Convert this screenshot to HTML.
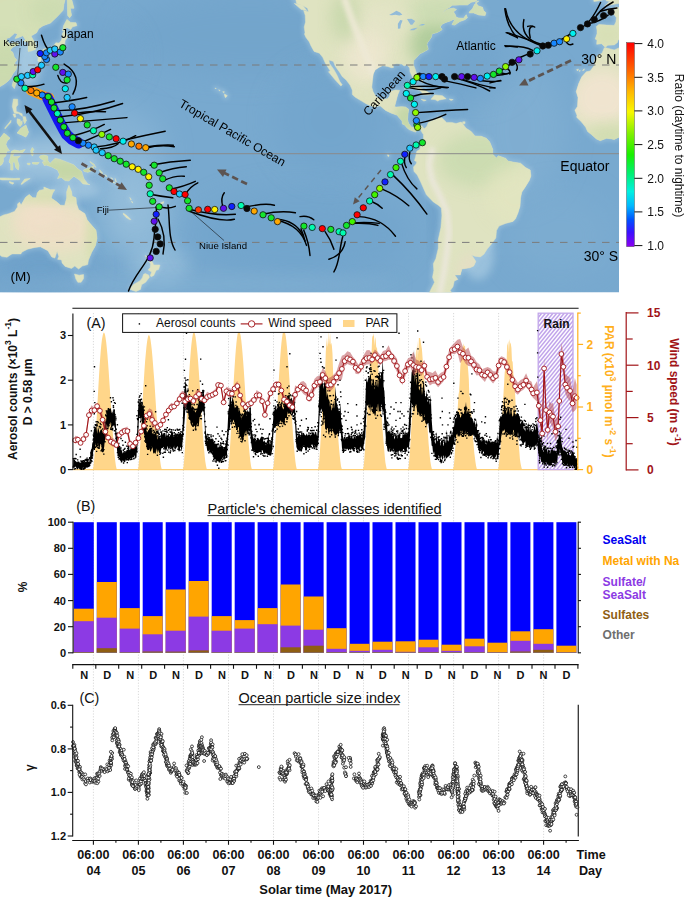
<!DOCTYPE html>
<html><head><meta charset="utf-8"><title>figure</title><style>html,body{margin:0;padding:0;background:#fff}body{width:685px;height:897px;overflow:hidden}</style></head><body>
<svg width="685" height="897" viewBox="0 0 685 897" style="display:block;font-family:'Liberation Sans',sans-serif">
<defs>
<clipPath id="mapclip"><rect x="0" y="0" width="619" height="292.5"/></clipPath>
<filter id="b2" x="-20%" y="-20%" width="140%" height="140%"><feGaussianBlur stdDeviation="2"/></filter>
<filter id="b4" x="-30%" y="-30%" width="160%" height="160%"><feGaussianBlur stdDeviation="4"/></filter>
<filter id="b8" x="-50%" y="-50%" width="200%" height="200%"><feGaussianBlur stdDeviation="8"/></filter>
<filter id="b14" x="-50%" y="-50%" width="200%" height="200%"><feGaussianBlur stdDeviation="14"/></filter>
<linearGradient id="cbar" x1="0" y1="1" x2="0" y2="0">
<stop offset="0" stop-color="#8a00f0"/>
<stop offset="0.07" stop-color="#3a10ff"/>
<stop offset="0.13" stop-color="#0050ff"/>
<stop offset="0.2" stop-color="#00b8ff"/>
<stop offset="0.27" stop-color="#00f0e0"/>
<stop offset="0.36" stop-color="#00f070"/>
<stop offset="0.45" stop-color="#18f000"/>
<stop offset="0.55" stop-color="#7cf000"/>
<stop offset="0.66" stop-color="#f8f800"/>
<stop offset="0.76" stop-color="#ffb800"/>
<stop offset="0.86" stop-color="#ff6800"/>
<stop offset="1" stop-color="#ff0000"/>
</linearGradient>
<pattern id="hatch" width="2.45" height="2.45" patternUnits="userSpaceOnUse" patternTransform="rotate(-47)"><rect width="2.45" height="2.45" fill="#faf8ff"/><rect width="2.45" height="1.15" fill="#cbb4ee"/></pattern>
<clipPath id="landclip">
<path d="M0.0,86.6 L4.4,83.9 L8.2,81.0 L11.0,77.4 L12.8,73.9 L16.1,69.4 L16.8,65.3 L14.5,63.2 L16.8,60.0 L14.3,57.3 L12.8,52.3 L10.0,50.2 L12.8,47.0 L18.3,44.6 L18.3,43.1 L14.5,42.5 L9.5,43.7 L7.0,40.7 L6.2,38.4 L9.5,37.8 L14.8,33.1 L17.6,33.9 L15.1,38.4 L17.1,38.1 L22.9,35.7 L25.4,39.6 L23.9,41.0 L28.7,42.5 L28.0,45.8 L28.2,51.4 L31.0,51.1 L35.3,49.6 L35.8,44.3 L33.0,39.6 L31.0,36.0 L36.6,32.8 L38.8,28.6 L43.1,25.7 L50.5,23.0 L57.6,16.2 L63.1,10.3 L63.9,4.4 L65.7,-3.0 L0.0,-3.0Z"/>
<path d="M67.7,15.6 L69.7,17.7 L71.5,15.3 L70.2,8.2 L74.0,8.2 L71.0,-3.0 L67.2,-3.0Z"/>
<path d="M62.6,31.0 L63.6,25.7 L66.9,19.5 L70.7,22.4 L76.0,22.7 L76.8,25.7 L72.5,26.8 L70.7,29.5 L67.2,27.7 L64.9,28.6 L65.4,30.4Z"/>
<path d="M64.9,31.0 L66.4,33.9 L67.7,36.9 L65.1,40.7 L64.6,44.9 L64.6,48.1 L62.4,50.2 L59.6,51.1 L55.0,51.4 L54.5,52.3 L52.0,54.6 L50.2,52.3 L46.2,52.0 L42.9,53.5 L39.6,53.2 L40.9,51.7 L43.9,49.0 L48.2,48.4 L52.2,48.1 L54.3,44.9 L55.8,42.8 L59.1,43.1 L61.1,40.7 L62.4,36.9 L62.4,33.6 L63.4,31.9Z"/>
<path d="M39.6,53.5 L41.6,54.3 L42.1,56.7 L40.6,60.9 L39.1,62.0 L37.8,60.9 L38.1,57.3 L36.6,55.5 L38.3,54.0Z"/>
<path d="M43.6,54.0 L47.9,52.3 L49.2,53.8 L47.9,55.2 L45.2,56.7 L43.6,56.1Z"/>
<path d="M14.5,79.5 L16.8,79.8 L15.8,84.2 L14.3,88.6 L12.3,85.7 L12.8,82.7Z"/>
<path d="M13.5,99.0 L17.6,99.3 L17.8,104.9 L16.1,107.0 L16.3,111.4 L22.1,113.8 L22.4,116.4 L18.6,113.5 L14.5,113.2 L13.5,110.8 L12.3,106.4 L13.0,102.0Z"/>
<path d="M17.1,133.0 L20.9,128.3 L25.9,125.0 L28.5,132.1 L27.2,135.1 L25.7,137.1 L22.6,135.4 L17.6,133.3Z"/>
<path d="M17.1,118.8 L20.1,119.4 L20.6,122.7 L22.1,120.6 L22.1,124.1 L20.1,126.5 L18.3,124.7 L17.1,122.4Z"/>
<path d="M22.9,116.7 L25.4,116.7 L26.4,120.6 L24.7,123.8 L23.7,121.2Z"/>
<path d="M4.9,128.9 L7.0,126.5 L10.8,122.4 L11.0,120.3 L8.2,124.1 L5.2,127.4Z"/>
<path d="M13.0,114.1 L15.3,114.1 L15.8,117.0 L14.3,117.3Z"/>
<path d="M0.0,138.3 L3.9,133.3 L6.2,134.8 L10.0,138.3 L7.2,141.0 L5.9,144.2 L7.0,147.2 L9.5,150.7 L6.7,151.3 L5.7,156.1 L3.2,158.1 L3.4,161.4 L1.9,164.6 L0.0,165.5Z"/>
<path d="M11.5,151.3 L14.3,149.9 L19.6,151.0 L25.2,149.3 L22.9,152.5 L14.5,152.5 L12.5,156.4 L15.8,156.7 L20.4,156.1 L17.1,159.0 L19.1,165.5 L18.3,170.0 L15.8,167.6 L14.5,161.7 L12.8,162.6 L13.0,170.0 L10.8,170.0 L10.8,164.0 L9.0,162.0 L10.8,156.1Z"/>
<path d="M30.7,150.7 L32.3,147.5 L33.8,149.6 L32.3,151.9 L33.8,153.1 L32.3,156.1 L31.2,153.7Z"/>
<path d="M32.3,162.6 L39.3,162.6 L37.3,164.3 L32.8,164.0Z"/>
<path d="M27.2,163.2 L30.2,163.2 L29.7,164.9 L27.7,164.6Z"/>
<path d="M0.0,177.9 L4.4,177.9 L9.5,178.2 L14.5,178.5 L19.6,178.2 L19.6,179.7 L9.5,180.0 L1.9,180.0 L0.0,179.4Z"/>
<path d="M20.9,184.2 L24.7,179.1 L30.2,178.5 L24.7,182.1 L22.1,184.2Z"/>
<path d="M9.5,181.5 L14.0,183.0 L12.5,184.2 L9.5,182.7Z"/>
<path d="M39.8,156.1 L43.6,154.9 L47.7,156.1 L47.9,160.8 L50.0,163.5 L55.0,158.4 L59.6,159.3 L65.1,161.4 L74.0,164.9 L77.3,168.5 L81.6,171.4 L82.4,174.4 L84.1,179.1 L87.9,183.9 L89.9,184.7 L82.9,183.9 L79.8,180.3 L74.0,176.2 L71.5,178.2 L68.9,180.9 L65.1,180.6 L61.4,177.4 L57.6,178.5 L59.6,174.4 L57.6,170.0 L51.2,166.7 L46.2,164.9 L44.4,165.5 L42.4,162.0 L46.2,161.1 L43.1,160.2 L39.8,157.8Z"/>
<path d="M83.6,170.0 L87.9,168.5 L93.5,166.1 L93.0,170.0 L87.9,172.3 L84.1,171.4Z"/>
<path d="M89.9,161.4 L94.2,164.3 L95.8,167.6 L94.5,166.1 L90.4,162.6Z"/>
<path d="M99.6,169.7 L102.8,173.2 L101.6,173.8 L99.8,171.1Z"/>
<path d="M104.6,174.4 L107.1,176.2 L106.1,176.5Z"/>
<path d="M110.7,177.4 L113.0,179.1 L112.0,179.1Z"/>
<path d="M112.2,181.2 L115.2,183.0 L113.7,183.0Z"/>
<path d="M115.2,178.5 L116.5,181.8 L115.7,181.8Z"/>
<path d="M116.5,183.9 L119.0,185.3 L117.8,185.6Z"/>
<path d="M129.9,197.5 L131.4,199.5 L130.7,200.1Z"/>
<path d="M131.4,201.0 L133.0,202.5 L132.2,202.8Z"/>
<path d="M123.3,213.1 L127.1,215.8 L130.9,219.6 L129.4,219.6 L125.9,217.3 L123.3,214.3Z"/>
<path d="M157.0,205.4 L160.3,205.2 L160.3,207.5 L157.2,207.5Z"/>
<path d="M160.5,202.8 L163.8,201.6 L163.3,203.4 L160.8,204.0Z"/>
<path d="M224.5,94.0 L227.3,95.7 L225.5,97.7 L224.5,95.7Z"/>
<path d="M222.8,91.6 L224.5,91.9 L223.5,92.8Z"/>
<path d="M218.7,89.8 L220.2,90.4 L219.5,90.9Z"/>
<path d="M214.9,88.1 L216.2,88.4 L215.7,88.9Z"/>
<path d="M0.0,216.7 L3.7,214.9 L8.5,213.7 L14.5,211.4 L17.6,206.9 L17.6,204.0 L19.4,202.2 L21.1,204.9 L23.4,201.0 L25.4,197.5 L29.2,194.5 L32.8,197.8 L36.3,197.8 L37.3,193.0 L39.3,190.4 L43.9,189.5 L43.9,187.1 L50.5,189.8 L54.8,189.8 L52.5,193.6 L51.2,198.1 L56.3,201.6 L60.6,205.2 L64.6,205.4 L66.7,198.1 L66.7,191.8 L68.9,185.3 L71.5,191.5 L72.2,196.3 L76.0,197.8 L76.5,203.4 L78.6,209.6 L84.9,213.7 L87.2,219.9 L89.9,223.2 L96.0,230.3 L97.0,238.3 L95.5,245.4 L91.7,252.2 L88.4,260.2 L87.7,264.6 L82.4,266.1 L78.6,269.0 L74.8,266.1 L71.5,268.4 L65.1,266.4 L62.1,263.1 L61.6,259.9 L57.6,259.3 L58.8,256.6 L57.1,251.3 L56.0,254.8 L54.8,258.1 L51.7,256.9 L47.9,250.7 L40.4,246.8 L34.8,247.4 L27.5,249.2 L22.1,251.9 L20.9,253.9 L12.0,253.9 L7.0,257.2 L1.9,256.6 L0.0,255.1Z"/>
<path d="M74.5,274.0 L79.1,275.2 L83.6,274.6 L83.6,278.5 L81.1,282.3 L77.8,282.3 L75.8,278.8Z"/>
<path d="M145.3,255.4 L149.4,259.3 L152.4,261.9 L153.7,264.9 L158.8,264.9 L160.0,265.2 L158.5,269.6 L156.2,270.2 L153.7,275.5 L151.2,276.7 L150.2,275.8 L151.7,272.0 L148.1,269.9 L150.2,267.5 L150.7,264.0 L148.6,260.7 L146.1,257.2Z"/>
<path d="M145.3,273.5 L148.6,274.9 L149.4,277.3 L145.6,282.3 L141.6,284.7 L140.5,289.4 L136.0,291.5 L132.2,290.3 L129.9,289.1 L133.5,284.4 L139.8,280.9 L142.3,277.9 L143.6,274.3Z"/>
<path d="M291.6,-3.0 L295.9,-0.1 L296.6,3.5 L303.0,5.8 L307.5,8.2 L308.5,11.8 L303.7,10.6 L305.2,15.3 L305.5,22.1 L304.2,27.1 L305.0,32.5 L304.5,34.2 L306.0,37.5 L309.3,41.9 L310.8,45.5 L314.1,51.4 L319.4,53.2 L322.7,57.3 L325.7,63.8 L330.3,70.9 L328.5,71.8 L335.1,79.8 L340.9,86.0 L342.2,84.8 L339.7,81.3 L337.1,75.3 L333.8,69.4 L329.5,63.5 L328.8,60.0 L333.3,61.4 L335.4,66.5 L339.7,72.4 L342.4,76.8 L346.0,79.8 L350.0,85.1 L352.3,90.1 L352.3,94.6 L355.3,97.2 L361.2,100.8 L366.5,104.0 L373.8,107.0 L380.1,105.8 L385.7,110.5 L391.5,113.2 L397.3,115.3 L398.3,116.7 L402.1,120.9 L402.4,124.1 L404.4,124.7 L407.5,128.3 L409.5,129.7 L413.0,131.2 L415.8,132.1 L416.8,129.2 L418.1,127.1 L420.6,128.9 L421.4,131.5 L423.4,134.5 L423.6,141.9 L420.6,146.3 L419.9,149.3 L416.8,151.3 L415.6,156.7 L414.5,160.5 L416.8,162.0 L416.1,164.0 L413.5,167.0 L414.0,171.4 L417.3,175.0 L420.6,181.8 L423.9,189.2 L426.4,194.8 L433.3,201.9 L438.6,205.4 L441.4,208.1 L441.9,215.8 L440.9,227.6 L438.3,239.5 L438.3,248.3 L435.8,258.7 L433.3,263.7 L433.8,270.5 L432.5,277.3 L434.5,282.3 L430.7,289.7 L428.2,295.6 L454.0,295.6 L450.2,290.6 L453.0,286.8 L454.3,280.9 L457.8,279.4 L454.8,274.9 L460.3,274.9 L461.9,269.0 L469.9,267.8 L473.7,266.1 L475.8,261.6 L474.2,258.7 L471.5,255.1 L475.0,256.3 L480.3,256.9 L483.9,254.2 L487.2,248.9 L491.5,243.9 L495.8,238.0 L496.5,230.6 L499.0,226.1 L505.4,223.5 L513.0,221.4 L515.5,218.8 L518.0,212.8 L520.0,206.3 L520.5,198.1 L521.8,192.1 L524.8,187.7 L529.4,180.3 L530.9,175.9 L530.2,170.0 L525.6,167.6 L520.5,163.2 L514.2,162.3 L507.9,161.1 L505.9,158.4 L498.3,155.8 L496.5,158.1 L492.7,154.3 L492.7,149.3 L489.7,141.9 L486.4,138.3 L481.3,136.3 L475.0,136.0 L471.2,131.5 L466.2,128.3 L462.9,124.1 L461.1,122.1 L456.0,123.5 L451.7,122.4 L446.7,122.4 L442.1,117.9 L437.8,117.0 L435.0,119.4 L430.7,121.2 L428.2,122.7 L426.9,126.2 L424.7,128.6 L423.4,128.0 L421.9,125.9 L418.1,125.3 L414.3,127.7 L411.3,127.1 L408.5,123.2 L407.5,119.4 L408.0,113.8 L408.7,109.3 L405.4,107.0 L401.6,106.7 L396.6,107.0 L394.6,106.7 L395.8,102.0 L396.6,99.0 L397.8,94.6 L399.6,90.4 L395.3,90.1 L390.5,91.6 L389.7,96.0 L387.7,98.7 L382.7,99.3 L378.9,98.4 L375.8,96.6 L373.0,91.6 L371.8,87.2 L372.5,79.8 L373.3,73.9 L375.1,70.0 L378.9,67.4 L382.7,65.6 L387.7,66.5 L391.5,67.7 L393.5,67.4 L392.8,64.4 L396.6,63.8 L401.6,64.1 L404.2,65.9 L406.7,64.7 L409.7,67.9 L410.0,71.8 L412.3,76.8 L414.3,79.2 L416.1,78.6 L416.8,74.5 L415.3,69.4 L413.5,65.0 L413.8,60.6 L416.8,57.3 L419.9,53.8 L423.1,52.3 L425.7,50.8 L428.2,49.3 L426.9,44.6 L427.4,42.8 L429.5,39.9 L431.5,36.9 L432.0,33.9 L437.1,32.5 L440.9,30.4 L442.1,29.5 L440.1,27.1 L442.1,24.2 L445.9,22.4 L449.7,21.2 L452.2,20.0 L455.3,18.9 L452.0,24.5 L454.8,25.1 L459.8,21.5 L464.9,19.7 L467.4,17.7 L466.2,14.7 L463.6,18.3 L458.6,18.0 L456.0,17.1 L455.3,14.7 L453.5,11.8 L456.5,9.4 L453.5,8.2 L449.7,8.8 L445.9,10.3 L442.1,13.8 L444.6,10.3 L449.7,7.3 L452.2,5.3 L459.8,5.0 L467.4,5.0 L471.2,2.3 L475.0,1.4 L477.5,-0.1 L478.0,-3.0Z"/>
<path d="M294.4,3.5 L301.2,9.4 L306.8,10.6 L302.5,5.3Z"/>
<path d="M469.2,12.9 L473.7,12.9 L478.8,15.0 L485.1,15.6 L485.9,12.7 L483.4,10.3 L482.6,7.3 L478.0,5.8 L475.5,2.0 L478.8,1.1 L474.5,4.4 L472.5,8.8 L469.2,12.1Z"/>
<path d="M404.4,88.9 L409.2,86.0 L415.6,85.4 L423.1,89.2 L428.2,92.2 L431.5,94.0 L428.2,94.9 L422.6,94.9 L421.9,92.5 L419.3,90.1 L412.3,88.1 L408.0,88.6Z"/>
<path d="M431.0,99.3 L434.5,94.9 L437.8,95.2 L442.4,95.7 L446.2,98.7 L443.4,99.3 L439.6,99.9 L437.8,101.1 L435.0,99.6Z"/>
<path d="M421.1,99.3 L426.2,100.2 L423.9,101.1Z"/>
<path d="M449.2,99.0 L453.2,99.6 L451.0,100.5Z"/>
<path d="M462.6,121.8 L465.1,121.8 L464.9,123.8 L462.6,123.8Z"/>
<path d="M421.1,79.5 L422.6,80.1 L422.6,83.0 L421.4,81.8Z"/>
<path d="M387.7,154.6 L389.2,155.5 L388.5,156.7 L387.7,156.1Z"/>
<path d="M596.4,26.5 L599.0,24.5 L606.6,25.1 L614.2,25.4 L615.9,22.1 L616.4,17.7 L613.7,14.1 L607.8,12.1 L607.3,10.3 L615.4,9.7 L615.4,7.0 L619.2,7.6 L619.2,39.0 L618.0,40.4 L617.4,42.5 L614.2,44.9 L607.8,45.2 L605.3,47.2 L603.3,45.5 L601.5,43.7 L596.7,44.3 L597.0,39.9 L595.2,39.0 L597.0,33.9 L597.0,30.1Z"/>
<path d="M593.4,-3.0 L593.9,1.4 L597.7,1.1 L603.0,-0.1 L603.5,-3.0Z"/>
<path d="M604.8,5.6 L610.4,5.0 L616.7,3.8 L619.2,3.5 L619.2,-3.0 L606.8,-3.0 L606.1,0.8 L611.6,1.7 L608.6,2.3 L606.1,5.0Z"/>
<path d="M619.2,47.8 L614.2,49.9 L605.8,47.8 L604.3,47.8 L602.0,53.2 L597.7,55.2 L594.4,60.6 L594.7,65.0 L590.1,70.9 L586.3,71.8 L581.8,76.8 L578.7,83.6 L576.2,91.6 L578.0,97.5 L577.5,106.4 L574.9,110.2 L577.0,115.3 L576.7,117.3 L581.3,121.8 L585.6,127.1 L587.6,131.5 L591.4,134.5 L596.4,138.9 L600.2,140.7 L606.6,138.3 L611.6,138.9 L614.2,139.5 L619.2,137.1Z"/>
<path d="M576.5,69.7 L578.5,69.1 L577.7,70.9Z"/>
<path d="M579.2,70.6 L580.3,70.6 L579.7,71.5Z"/>
<path d="M582.5,70.6 L584.3,68.8 L584.1,70.3Z"/>
</clipPath>
</defs>
<rect width="685" height="897" fill="#fff"/>
<g clip-path="url(#mapclip)">
<rect x="0" y="0" width="619" height="292.5" fill="#78a9cf"/>
<ellipse cx="250" cy="35" rx="130" ry="40" fill="#6fa2c9" opacity="0.55" filter="url(#b14)"/>
<ellipse cx="110" cy="150" rx="55" ry="45" fill="#8fb9d9" opacity="0.55" filter="url(#b14)"/>
<ellipse cx="45" cy="160" rx="55" ry="22" fill="#a6c9e1" opacity="0.75" filter="url(#b8)"/>
<ellipse cx="135" cy="210" rx="35" ry="45" fill="#9ec4de" opacity="0.7" filter="url(#b14)"/>
<ellipse cx="160" cy="265" rx="30" ry="22" fill="#9ec4de" opacity="0.6" filter="url(#b8)"/>
<ellipse cx="300" cy="235" rx="110" ry="45" fill="#6fa3cb" opacity="0.6" filter="url(#b14)"/>
<ellipse cx="330" cy="120" rx="55" ry="55" fill="#70a3cb" opacity="0.5" filter="url(#b14)"/>
<ellipse cx="520" cy="130" rx="45" ry="70" fill="#85b2d4" opacity="0.55" filter="url(#b14)"/>
<ellipse cx="560" cy="235" rx="55" ry="45" fill="#80afd2" opacity="0.5" filter="url(#b14)"/>
<ellipse cx="475" cy="70" rx="40" ry="28" fill="#6fa2ca" opacity="0.55" filter="url(#b14)"/>
<ellipse cx="95" cy="55" rx="40" ry="35" fill="#6fa2ca" opacity="0.5" filter="url(#b14)"/>
<ellipse cx="40" cy="268" rx="50" ry="26" fill="#6a9ec8" opacity="0.7" filter="url(#b14)"/>
<ellipse cx="200" cy="284" rx="200" ry="10" fill="#86b3d4" opacity="0.5" filter="url(#b8)"/>
<ellipse cx="28" cy="62" rx="13" ry="24" fill="#aacde3" opacity="0.85" filter="url(#b4)"/>
<ellipse cx="75" cy="190" rx="25" ry="9" fill="#a8cbe2" opacity="0.7" filter="url(#b4)"/>
<ellipse cx="395" cy="95" rx="16" ry="10" fill="#70a3cb" opacity="0.55" filter="url(#b8)"/>
<ellipse cx="425" cy="108" rx="25" ry="9" fill="#70a3cb" opacity="0.5" filter="url(#b8)"/>
<ellipse cx="478" cy="255" rx="16" ry="25" fill="#a3c7e0" opacity="0.8" filter="url(#b4)"/>
<ellipse cx="433" cy="215" rx="4" ry="45" fill="#6a9dc6" opacity="0.6" filter="url(#b4)"/>
<g filter="url(#b2)" opacity="0.55">
<path d="M0.0,86.6 L4.4,83.9 L8.2,81.0 L11.0,77.4 L12.8,73.9 L16.1,69.4 L16.8,65.3 L14.5,63.2 L16.8,60.0 L14.3,57.3 L12.8,52.3 L10.0,50.2 L12.8,47.0 L18.3,44.6 L18.3,43.1 L14.5,42.5 L9.5,43.7 L7.0,40.7 L6.2,38.4 L9.5,37.8 L14.8,33.1 L17.6,33.9 L15.1,38.4 L17.1,38.1 L22.9,35.7 L25.4,39.6 L23.9,41.0 L28.7,42.5 L28.0,45.8 L28.2,51.4 L31.0,51.1 L35.3,49.6 L35.8,44.3 L33.0,39.6 L31.0,36.0 L36.6,32.8 L38.8,28.6 L43.1,25.7 L50.5,23.0 L57.6,16.2 L63.1,10.3 L63.9,4.4 L65.7,-3.0 L0.0,-3.0Z" fill="none" stroke="#a9cbe2" stroke-width="4" stroke-linejoin="round"/>
<path d="M67.7,15.6 L69.7,17.7 L71.5,15.3 L70.2,8.2 L74.0,8.2 L71.0,-3.0 L67.2,-3.0Z" fill="none" stroke="#a9cbe2" stroke-width="4" stroke-linejoin="round"/>
<path d="M62.6,31.0 L63.6,25.7 L66.9,19.5 L70.7,22.4 L76.0,22.7 L76.8,25.7 L72.5,26.8 L70.7,29.5 L67.2,27.7 L64.9,28.6 L65.4,30.4Z" fill="none" stroke="#a9cbe2" stroke-width="4" stroke-linejoin="round"/>
<path d="M64.9,31.0 L66.4,33.9 L67.7,36.9 L65.1,40.7 L64.6,44.9 L64.6,48.1 L62.4,50.2 L59.6,51.1 L55.0,51.4 L54.5,52.3 L52.0,54.6 L50.2,52.3 L46.2,52.0 L42.9,53.5 L39.6,53.2 L40.9,51.7 L43.9,49.0 L48.2,48.4 L52.2,48.1 L54.3,44.9 L55.8,42.8 L59.1,43.1 L61.1,40.7 L62.4,36.9 L62.4,33.6 L63.4,31.9Z" fill="none" stroke="#a9cbe2" stroke-width="4" stroke-linejoin="round"/>
<path d="M39.6,53.5 L41.6,54.3 L42.1,56.7 L40.6,60.9 L39.1,62.0 L37.8,60.9 L38.1,57.3 L36.6,55.5 L38.3,54.0Z" fill="none" stroke="#a9cbe2" stroke-width="4" stroke-linejoin="round"/>
<path d="M43.6,54.0 L47.9,52.3 L49.2,53.8 L47.9,55.2 L45.2,56.7 L43.6,56.1Z" fill="none" stroke="#a9cbe2" stroke-width="4" stroke-linejoin="round"/>
<path d="M14.5,79.5 L16.8,79.8 L15.8,84.2 L14.3,88.6 L12.3,85.7 L12.8,82.7Z" fill="none" stroke="#a9cbe2" stroke-width="4" stroke-linejoin="round"/>
<path d="M13.5,99.0 L17.6,99.3 L17.8,104.9 L16.1,107.0 L16.3,111.4 L22.1,113.8 L22.4,116.4 L18.6,113.5 L14.5,113.2 L13.5,110.8 L12.3,106.4 L13.0,102.0Z" fill="none" stroke="#a9cbe2" stroke-width="4" stroke-linejoin="round"/>
<path d="M17.1,133.0 L20.9,128.3 L25.9,125.0 L28.5,132.1 L27.2,135.1 L25.7,137.1 L22.6,135.4 L17.6,133.3Z" fill="none" stroke="#a9cbe2" stroke-width="4" stroke-linejoin="round"/>
<path d="M17.1,118.8 L20.1,119.4 L20.6,122.7 L22.1,120.6 L22.1,124.1 L20.1,126.5 L18.3,124.7 L17.1,122.4Z" fill="none" stroke="#a9cbe2" stroke-width="4" stroke-linejoin="round"/>
<path d="M22.9,116.7 L25.4,116.7 L26.4,120.6 L24.7,123.8 L23.7,121.2Z" fill="none" stroke="#a9cbe2" stroke-width="4" stroke-linejoin="round"/>
<path d="M4.9,128.9 L7.0,126.5 L10.8,122.4 L11.0,120.3 L8.2,124.1 L5.2,127.4Z" fill="none" stroke="#a9cbe2" stroke-width="4" stroke-linejoin="round"/>
<path d="M13.0,114.1 L15.3,114.1 L15.8,117.0 L14.3,117.3Z" fill="none" stroke="#a9cbe2" stroke-width="4" stroke-linejoin="round"/>
<path d="M0.0,138.3 L3.9,133.3 L6.2,134.8 L10.0,138.3 L7.2,141.0 L5.9,144.2 L7.0,147.2 L9.5,150.7 L6.7,151.3 L5.7,156.1 L3.2,158.1 L3.4,161.4 L1.9,164.6 L0.0,165.5Z" fill="none" stroke="#a9cbe2" stroke-width="4" stroke-linejoin="round"/>
<path d="M11.5,151.3 L14.3,149.9 L19.6,151.0 L25.2,149.3 L22.9,152.5 L14.5,152.5 L12.5,156.4 L15.8,156.7 L20.4,156.1 L17.1,159.0 L19.1,165.5 L18.3,170.0 L15.8,167.6 L14.5,161.7 L12.8,162.6 L13.0,170.0 L10.8,170.0 L10.8,164.0 L9.0,162.0 L10.8,156.1Z" fill="none" stroke="#a9cbe2" stroke-width="4" stroke-linejoin="round"/>
<path d="M30.7,150.7 L32.3,147.5 L33.8,149.6 L32.3,151.9 L33.8,153.1 L32.3,156.1 L31.2,153.7Z" fill="none" stroke="#a9cbe2" stroke-width="4" stroke-linejoin="round"/>
<path d="M32.3,162.6 L39.3,162.6 L37.3,164.3 L32.8,164.0Z" fill="none" stroke="#a9cbe2" stroke-width="4" stroke-linejoin="round"/>
<path d="M27.2,163.2 L30.2,163.2 L29.7,164.9 L27.7,164.6Z" fill="none" stroke="#a9cbe2" stroke-width="4" stroke-linejoin="round"/>
<path d="M0.0,177.9 L4.4,177.9 L9.5,178.2 L14.5,178.5 L19.6,178.2 L19.6,179.7 L9.5,180.0 L1.9,180.0 L0.0,179.4Z" fill="none" stroke="#a9cbe2" stroke-width="4" stroke-linejoin="round"/>
<path d="M20.9,184.2 L24.7,179.1 L30.2,178.5 L24.7,182.1 L22.1,184.2Z" fill="none" stroke="#a9cbe2" stroke-width="4" stroke-linejoin="round"/>
<path d="M9.5,181.5 L14.0,183.0 L12.5,184.2 L9.5,182.7Z" fill="none" stroke="#a9cbe2" stroke-width="4" stroke-linejoin="round"/>
<path d="M39.8,156.1 L43.6,154.9 L47.7,156.1 L47.9,160.8 L50.0,163.5 L55.0,158.4 L59.6,159.3 L65.1,161.4 L74.0,164.9 L77.3,168.5 L81.6,171.4 L82.4,174.4 L84.1,179.1 L87.9,183.9 L89.9,184.7 L82.9,183.9 L79.8,180.3 L74.0,176.2 L71.5,178.2 L68.9,180.9 L65.1,180.6 L61.4,177.4 L57.6,178.5 L59.6,174.4 L57.6,170.0 L51.2,166.7 L46.2,164.9 L44.4,165.5 L42.4,162.0 L46.2,161.1 L43.1,160.2 L39.8,157.8Z" fill="none" stroke="#a9cbe2" stroke-width="4" stroke-linejoin="round"/>
<path d="M83.6,170.0 L87.9,168.5 L93.5,166.1 L93.0,170.0 L87.9,172.3 L84.1,171.4Z" fill="none" stroke="#a9cbe2" stroke-width="4" stroke-linejoin="round"/>
<path d="M89.9,161.4 L94.2,164.3 L95.8,167.6 L94.5,166.1 L90.4,162.6Z" fill="none" stroke="#a9cbe2" stroke-width="4" stroke-linejoin="round"/>
<path d="M99.6,169.7 L102.8,173.2 L101.6,173.8 L99.8,171.1Z" fill="none" stroke="#a9cbe2" stroke-width="4" stroke-linejoin="round"/>
<path d="M104.6,174.4 L107.1,176.2 L106.1,176.5Z" fill="none" stroke="#a9cbe2" stroke-width="4" stroke-linejoin="round"/>
<path d="M110.7,177.4 L113.0,179.1 L112.0,179.1Z" fill="none" stroke="#a9cbe2" stroke-width="4" stroke-linejoin="round"/>
<path d="M112.2,181.2 L115.2,183.0 L113.7,183.0Z" fill="none" stroke="#a9cbe2" stroke-width="4" stroke-linejoin="round"/>
<path d="M115.2,178.5 L116.5,181.8 L115.7,181.8Z" fill="none" stroke="#a9cbe2" stroke-width="4" stroke-linejoin="round"/>
<path d="M116.5,183.9 L119.0,185.3 L117.8,185.6Z" fill="none" stroke="#a9cbe2" stroke-width="4" stroke-linejoin="round"/>
<path d="M129.9,197.5 L131.4,199.5 L130.7,200.1Z" fill="none" stroke="#a9cbe2" stroke-width="4" stroke-linejoin="round"/>
<path d="M131.4,201.0 L133.0,202.5 L132.2,202.8Z" fill="none" stroke="#a9cbe2" stroke-width="4" stroke-linejoin="round"/>
<path d="M123.3,213.1 L127.1,215.8 L130.9,219.6 L129.4,219.6 L125.9,217.3 L123.3,214.3Z" fill="none" stroke="#a9cbe2" stroke-width="4" stroke-linejoin="round"/>
<path d="M157.0,205.4 L160.3,205.2 L160.3,207.5 L157.2,207.5Z" fill="none" stroke="#a9cbe2" stroke-width="4" stroke-linejoin="round"/>
<path d="M160.5,202.8 L163.8,201.6 L163.3,203.4 L160.8,204.0Z" fill="none" stroke="#a9cbe2" stroke-width="4" stroke-linejoin="round"/>
<path d="M224.5,94.0 L227.3,95.7 L225.5,97.7 L224.5,95.7Z" fill="none" stroke="#a9cbe2" stroke-width="4" stroke-linejoin="round"/>
<path d="M222.8,91.6 L224.5,91.9 L223.5,92.8Z" fill="none" stroke="#a9cbe2" stroke-width="4" stroke-linejoin="round"/>
<path d="M218.7,89.8 L220.2,90.4 L219.5,90.9Z" fill="none" stroke="#a9cbe2" stroke-width="4" stroke-linejoin="round"/>
<path d="M214.9,88.1 L216.2,88.4 L215.7,88.9Z" fill="none" stroke="#a9cbe2" stroke-width="4" stroke-linejoin="round"/>
<path d="M0.0,216.7 L3.7,214.9 L8.5,213.7 L14.5,211.4 L17.6,206.9 L17.6,204.0 L19.4,202.2 L21.1,204.9 L23.4,201.0 L25.4,197.5 L29.2,194.5 L32.8,197.8 L36.3,197.8 L37.3,193.0 L39.3,190.4 L43.9,189.5 L43.9,187.1 L50.5,189.8 L54.8,189.8 L52.5,193.6 L51.2,198.1 L56.3,201.6 L60.6,205.2 L64.6,205.4 L66.7,198.1 L66.7,191.8 L68.9,185.3 L71.5,191.5 L72.2,196.3 L76.0,197.8 L76.5,203.4 L78.6,209.6 L84.9,213.7 L87.2,219.9 L89.9,223.2 L96.0,230.3 L97.0,238.3 L95.5,245.4 L91.7,252.2 L88.4,260.2 L87.7,264.6 L82.4,266.1 L78.6,269.0 L74.8,266.1 L71.5,268.4 L65.1,266.4 L62.1,263.1 L61.6,259.9 L57.6,259.3 L58.8,256.6 L57.1,251.3 L56.0,254.8 L54.8,258.1 L51.7,256.9 L47.9,250.7 L40.4,246.8 L34.8,247.4 L27.5,249.2 L22.1,251.9 L20.9,253.9 L12.0,253.9 L7.0,257.2 L1.9,256.6 L0.0,255.1Z" fill="none" stroke="#a9cbe2" stroke-width="4" stroke-linejoin="round"/>
<path d="M74.5,274.0 L79.1,275.2 L83.6,274.6 L83.6,278.5 L81.1,282.3 L77.8,282.3 L75.8,278.8Z" fill="none" stroke="#a9cbe2" stroke-width="4" stroke-linejoin="round"/>
<path d="M145.3,255.4 L149.4,259.3 L152.4,261.9 L153.7,264.9 L158.8,264.9 L160.0,265.2 L158.5,269.6 L156.2,270.2 L153.7,275.5 L151.2,276.7 L150.2,275.8 L151.7,272.0 L148.1,269.9 L150.2,267.5 L150.7,264.0 L148.6,260.7 L146.1,257.2Z" fill="none" stroke="#a9cbe2" stroke-width="4" stroke-linejoin="round"/>
<path d="M145.3,273.5 L148.6,274.9 L149.4,277.3 L145.6,282.3 L141.6,284.7 L140.5,289.4 L136.0,291.5 L132.2,290.3 L129.9,289.1 L133.5,284.4 L139.8,280.9 L142.3,277.9 L143.6,274.3Z" fill="none" stroke="#a9cbe2" stroke-width="4" stroke-linejoin="round"/>
<path d="M291.6,-3.0 L295.9,-0.1 L296.6,3.5 L303.0,5.8 L307.5,8.2 L308.5,11.8 L303.7,10.6 L305.2,15.3 L305.5,22.1 L304.2,27.1 L305.0,32.5 L304.5,34.2 L306.0,37.5 L309.3,41.9 L310.8,45.5 L314.1,51.4 L319.4,53.2 L322.7,57.3 L325.7,63.8 L330.3,70.9 L328.5,71.8 L335.1,79.8 L340.9,86.0 L342.2,84.8 L339.7,81.3 L337.1,75.3 L333.8,69.4 L329.5,63.5 L328.8,60.0 L333.3,61.4 L335.4,66.5 L339.7,72.4 L342.4,76.8 L346.0,79.8 L350.0,85.1 L352.3,90.1 L352.3,94.6 L355.3,97.2 L361.2,100.8 L366.5,104.0 L373.8,107.0 L380.1,105.8 L385.7,110.5 L391.5,113.2 L397.3,115.3 L398.3,116.7 L402.1,120.9 L402.4,124.1 L404.4,124.7 L407.5,128.3 L409.5,129.7 L413.0,131.2 L415.8,132.1 L416.8,129.2 L418.1,127.1 L420.6,128.9 L421.4,131.5 L423.4,134.5 L423.6,141.9 L420.6,146.3 L419.9,149.3 L416.8,151.3 L415.6,156.7 L414.5,160.5 L416.8,162.0 L416.1,164.0 L413.5,167.0 L414.0,171.4 L417.3,175.0 L420.6,181.8 L423.9,189.2 L426.4,194.8 L433.3,201.9 L438.6,205.4 L441.4,208.1 L441.9,215.8 L440.9,227.6 L438.3,239.5 L438.3,248.3 L435.8,258.7 L433.3,263.7 L433.8,270.5 L432.5,277.3 L434.5,282.3 L430.7,289.7 L428.2,295.6 L454.0,295.6 L450.2,290.6 L453.0,286.8 L454.3,280.9 L457.8,279.4 L454.8,274.9 L460.3,274.9 L461.9,269.0 L469.9,267.8 L473.7,266.1 L475.8,261.6 L474.2,258.7 L471.5,255.1 L475.0,256.3 L480.3,256.9 L483.9,254.2 L487.2,248.9 L491.5,243.9 L495.8,238.0 L496.5,230.6 L499.0,226.1 L505.4,223.5 L513.0,221.4 L515.5,218.8 L518.0,212.8 L520.0,206.3 L520.5,198.1 L521.8,192.1 L524.8,187.7 L529.4,180.3 L530.9,175.9 L530.2,170.0 L525.6,167.6 L520.5,163.2 L514.2,162.3 L507.9,161.1 L505.9,158.4 L498.3,155.8 L496.5,158.1 L492.7,154.3 L492.7,149.3 L489.7,141.9 L486.4,138.3 L481.3,136.3 L475.0,136.0 L471.2,131.5 L466.2,128.3 L462.9,124.1 L461.1,122.1 L456.0,123.5 L451.7,122.4 L446.7,122.4 L442.1,117.9 L437.8,117.0 L435.0,119.4 L430.7,121.2 L428.2,122.7 L426.9,126.2 L424.7,128.6 L423.4,128.0 L421.9,125.9 L418.1,125.3 L414.3,127.7 L411.3,127.1 L408.5,123.2 L407.5,119.4 L408.0,113.8 L408.7,109.3 L405.4,107.0 L401.6,106.7 L396.6,107.0 L394.6,106.7 L395.8,102.0 L396.6,99.0 L397.8,94.6 L399.6,90.4 L395.3,90.1 L390.5,91.6 L389.7,96.0 L387.7,98.7 L382.7,99.3 L378.9,98.4 L375.8,96.6 L373.0,91.6 L371.8,87.2 L372.5,79.8 L373.3,73.9 L375.1,70.0 L378.9,67.4 L382.7,65.6 L387.7,66.5 L391.5,67.7 L393.5,67.4 L392.8,64.4 L396.6,63.8 L401.6,64.1 L404.2,65.9 L406.7,64.7 L409.7,67.9 L410.0,71.8 L412.3,76.8 L414.3,79.2 L416.1,78.6 L416.8,74.5 L415.3,69.4 L413.5,65.0 L413.8,60.6 L416.8,57.3 L419.9,53.8 L423.1,52.3 L425.7,50.8 L428.2,49.3 L426.9,44.6 L427.4,42.8 L429.5,39.9 L431.5,36.9 L432.0,33.9 L437.1,32.5 L440.9,30.4 L442.1,29.5 L440.1,27.1 L442.1,24.2 L445.9,22.4 L449.7,21.2 L452.2,20.0 L455.3,18.9 L452.0,24.5 L454.8,25.1 L459.8,21.5 L464.9,19.7 L467.4,17.7 L466.2,14.7 L463.6,18.3 L458.6,18.0 L456.0,17.1 L455.3,14.7 L453.5,11.8 L456.5,9.4 L453.5,8.2 L449.7,8.8 L445.9,10.3 L442.1,13.8 L444.6,10.3 L449.7,7.3 L452.2,5.3 L459.8,5.0 L467.4,5.0 L471.2,2.3 L475.0,1.4 L477.5,-0.1 L478.0,-3.0Z" fill="none" stroke="#a9cbe2" stroke-width="4" stroke-linejoin="round"/>
<path d="M294.4,3.5 L301.2,9.4 L306.8,10.6 L302.5,5.3Z" fill="none" stroke="#a9cbe2" stroke-width="4" stroke-linejoin="round"/>
<path d="M469.2,12.9 L473.7,12.9 L478.8,15.0 L485.1,15.6 L485.9,12.7 L483.4,10.3 L482.6,7.3 L478.0,5.8 L475.5,2.0 L478.8,1.1 L474.5,4.4 L472.5,8.8 L469.2,12.1Z" fill="none" stroke="#a9cbe2" stroke-width="4" stroke-linejoin="round"/>
<path d="M404.4,88.9 L409.2,86.0 L415.6,85.4 L423.1,89.2 L428.2,92.2 L431.5,94.0 L428.2,94.9 L422.6,94.9 L421.9,92.5 L419.3,90.1 L412.3,88.1 L408.0,88.6Z" fill="none" stroke="#a9cbe2" stroke-width="4" stroke-linejoin="round"/>
<path d="M431.0,99.3 L434.5,94.9 L437.8,95.2 L442.4,95.7 L446.2,98.7 L443.4,99.3 L439.6,99.9 L437.8,101.1 L435.0,99.6Z" fill="none" stroke="#a9cbe2" stroke-width="4" stroke-linejoin="round"/>
<path d="M421.1,99.3 L426.2,100.2 L423.9,101.1Z" fill="none" stroke="#a9cbe2" stroke-width="4" stroke-linejoin="round"/>
<path d="M449.2,99.0 L453.2,99.6 L451.0,100.5Z" fill="none" stroke="#a9cbe2" stroke-width="4" stroke-linejoin="round"/>
<path d="M462.6,121.8 L465.1,121.8 L464.9,123.8 L462.6,123.8Z" fill="none" stroke="#a9cbe2" stroke-width="4" stroke-linejoin="round"/>
<path d="M421.1,79.5 L422.6,80.1 L422.6,83.0 L421.4,81.8Z" fill="none" stroke="#a9cbe2" stroke-width="4" stroke-linejoin="round"/>
<path d="M387.7,154.6 L389.2,155.5 L388.5,156.7 L387.7,156.1Z" fill="none" stroke="#a9cbe2" stroke-width="4" stroke-linejoin="round"/>
<path d="M596.4,26.5 L599.0,24.5 L606.6,25.1 L614.2,25.4 L615.9,22.1 L616.4,17.7 L613.7,14.1 L607.8,12.1 L607.3,10.3 L615.4,9.7 L615.4,7.0 L619.2,7.6 L619.2,39.0 L618.0,40.4 L617.4,42.5 L614.2,44.9 L607.8,45.2 L605.3,47.2 L603.3,45.5 L601.5,43.7 L596.7,44.3 L597.0,39.9 L595.2,39.0 L597.0,33.9 L597.0,30.1Z" fill="none" stroke="#a9cbe2" stroke-width="4" stroke-linejoin="round"/>
<path d="M593.4,-3.0 L593.9,1.4 L597.7,1.1 L603.0,-0.1 L603.5,-3.0Z" fill="none" stroke="#a9cbe2" stroke-width="4" stroke-linejoin="round"/>
<path d="M604.8,5.6 L610.4,5.0 L616.7,3.8 L619.2,3.5 L619.2,-3.0 L606.8,-3.0 L606.1,0.8 L611.6,1.7 L608.6,2.3 L606.1,5.0Z" fill="none" stroke="#a9cbe2" stroke-width="4" stroke-linejoin="round"/>
<path d="M619.2,47.8 L614.2,49.9 L605.8,47.8 L604.3,47.8 L602.0,53.2 L597.7,55.2 L594.4,60.6 L594.7,65.0 L590.1,70.9 L586.3,71.8 L581.8,76.8 L578.7,83.6 L576.2,91.6 L578.0,97.5 L577.5,106.4 L574.9,110.2 L577.0,115.3 L576.7,117.3 L581.3,121.8 L585.6,127.1 L587.6,131.5 L591.4,134.5 L596.4,138.9 L600.2,140.7 L606.6,138.3 L611.6,138.9 L614.2,139.5 L619.2,137.1Z" fill="none" stroke="#a9cbe2" stroke-width="4" stroke-linejoin="round"/>
<path d="M576.5,69.7 L578.5,69.1 L577.7,70.9Z" fill="none" stroke="#a9cbe2" stroke-width="4" stroke-linejoin="round"/>
<path d="M579.2,70.6 L580.3,70.6 L579.7,71.5Z" fill="none" stroke="#a9cbe2" stroke-width="4" stroke-linejoin="round"/>
<path d="M582.5,70.6 L584.3,68.8 L584.1,70.3Z" fill="none" stroke="#a9cbe2" stroke-width="4" stroke-linejoin="round"/>
</g>
<g>
<path d="M0.0,86.6 L4.4,83.9 L8.2,81.0 L11.0,77.4 L12.8,73.9 L16.1,69.4 L16.8,65.3 L14.5,63.2 L16.8,60.0 L14.3,57.3 L12.8,52.3 L10.0,50.2 L12.8,47.0 L18.3,44.6 L18.3,43.1 L14.5,42.5 L9.5,43.7 L7.0,40.7 L6.2,38.4 L9.5,37.8 L14.8,33.1 L17.6,33.9 L15.1,38.4 L17.1,38.1 L22.9,35.7 L25.4,39.6 L23.9,41.0 L28.7,42.5 L28.0,45.8 L28.2,51.4 L31.0,51.1 L35.3,49.6 L35.8,44.3 L33.0,39.6 L31.0,36.0 L36.6,32.8 L38.8,28.6 L43.1,25.7 L50.5,23.0 L57.6,16.2 L63.1,10.3 L63.9,4.4 L65.7,-3.0 L0.0,-3.0Z" fill="#dfe3c1" stroke="#dfe3c1" stroke-width="0.5" stroke-linejoin="round"/>
<path d="M67.7,15.6 L69.7,17.7 L71.5,15.3 L70.2,8.2 L74.0,8.2 L71.0,-3.0 L67.2,-3.0Z" fill="#dfe3c1" stroke="#dfe3c1" stroke-width="0.5" stroke-linejoin="round"/>
<path d="M62.6,31.0 L63.6,25.7 L66.9,19.5 L70.7,22.4 L76.0,22.7 L76.8,25.7 L72.5,26.8 L70.7,29.5 L67.2,27.7 L64.9,28.6 L65.4,30.4Z" fill="#dfe3c1" stroke="#dfe3c1" stroke-width="0.5" stroke-linejoin="round"/>
<path d="M64.9,31.0 L66.4,33.9 L67.7,36.9 L65.1,40.7 L64.6,44.9 L64.6,48.1 L62.4,50.2 L59.6,51.1 L55.0,51.4 L54.5,52.3 L52.0,54.6 L50.2,52.3 L46.2,52.0 L42.9,53.5 L39.6,53.2 L40.9,51.7 L43.9,49.0 L48.2,48.4 L52.2,48.1 L54.3,44.9 L55.8,42.8 L59.1,43.1 L61.1,40.7 L62.4,36.9 L62.4,33.6 L63.4,31.9Z" fill="#dfe3c1" stroke="#dfe3c1" stroke-width="0.5" stroke-linejoin="round"/>
<path d="M39.6,53.5 L41.6,54.3 L42.1,56.7 L40.6,60.9 L39.1,62.0 L37.8,60.9 L38.1,57.3 L36.6,55.5 L38.3,54.0Z" fill="#dfe3c1" stroke="#dfe3c1" stroke-width="0.5" stroke-linejoin="round"/>
<path d="M43.6,54.0 L47.9,52.3 L49.2,53.8 L47.9,55.2 L45.2,56.7 L43.6,56.1Z" fill="#dfe3c1" stroke="#dfe3c1" stroke-width="0.5" stroke-linejoin="round"/>
<path d="M14.5,79.5 L16.8,79.8 L15.8,84.2 L14.3,88.6 L12.3,85.7 L12.8,82.7Z" fill="#dfe3c1" stroke="#dfe3c1" stroke-width="0.5" stroke-linejoin="round"/>
<path d="M13.5,99.0 L17.6,99.3 L17.8,104.9 L16.1,107.0 L16.3,111.4 L22.1,113.8 L22.4,116.4 L18.6,113.5 L14.5,113.2 L13.5,110.8 L12.3,106.4 L13.0,102.0Z" fill="#dfe3c1" stroke="#dfe3c1" stroke-width="0.5" stroke-linejoin="round"/>
<path d="M17.1,133.0 L20.9,128.3 L25.9,125.0 L28.5,132.1 L27.2,135.1 L25.7,137.1 L22.6,135.4 L17.6,133.3Z" fill="#dfe3c1" stroke="#dfe3c1" stroke-width="0.5" stroke-linejoin="round"/>
<path d="M17.1,118.8 L20.1,119.4 L20.6,122.7 L22.1,120.6 L22.1,124.1 L20.1,126.5 L18.3,124.7 L17.1,122.4Z" fill="#dfe3c1" stroke="#dfe3c1" stroke-width="0.5" stroke-linejoin="round"/>
<path d="M22.9,116.7 L25.4,116.7 L26.4,120.6 L24.7,123.8 L23.7,121.2Z" fill="#dfe3c1" stroke="#dfe3c1" stroke-width="0.5" stroke-linejoin="round"/>
<path d="M4.9,128.9 L7.0,126.5 L10.8,122.4 L11.0,120.3 L8.2,124.1 L5.2,127.4Z" fill="#dfe3c1" stroke="#dfe3c1" stroke-width="0.5" stroke-linejoin="round"/>
<path d="M13.0,114.1 L15.3,114.1 L15.8,117.0 L14.3,117.3Z" fill="#dfe3c1" stroke="#dfe3c1" stroke-width="0.5" stroke-linejoin="round"/>
<path d="M0.0,138.3 L3.9,133.3 L6.2,134.8 L10.0,138.3 L7.2,141.0 L5.9,144.2 L7.0,147.2 L9.5,150.7 L6.7,151.3 L5.7,156.1 L3.2,158.1 L3.4,161.4 L1.9,164.6 L0.0,165.5Z" fill="#dfe3c1" stroke="#dfe3c1" stroke-width="0.5" stroke-linejoin="round"/>
<path d="M11.5,151.3 L14.3,149.9 L19.6,151.0 L25.2,149.3 L22.9,152.5 L14.5,152.5 L12.5,156.4 L15.8,156.7 L20.4,156.1 L17.1,159.0 L19.1,165.5 L18.3,170.0 L15.8,167.6 L14.5,161.7 L12.8,162.6 L13.0,170.0 L10.8,170.0 L10.8,164.0 L9.0,162.0 L10.8,156.1Z" fill="#dfe3c1" stroke="#dfe3c1" stroke-width="0.5" stroke-linejoin="round"/>
<path d="M30.7,150.7 L32.3,147.5 L33.8,149.6 L32.3,151.9 L33.8,153.1 L32.3,156.1 L31.2,153.7Z" fill="#dfe3c1" stroke="#dfe3c1" stroke-width="0.5" stroke-linejoin="round"/>
<path d="M32.3,162.6 L39.3,162.6 L37.3,164.3 L32.8,164.0Z" fill="#dfe3c1" stroke="#dfe3c1" stroke-width="0.5" stroke-linejoin="round"/>
<path d="M27.2,163.2 L30.2,163.2 L29.7,164.9 L27.7,164.6Z" fill="#dfe3c1" stroke="#dfe3c1" stroke-width="0.5" stroke-linejoin="round"/>
<path d="M0.0,177.9 L4.4,177.9 L9.5,178.2 L14.5,178.5 L19.6,178.2 L19.6,179.7 L9.5,180.0 L1.9,180.0 L0.0,179.4Z" fill="#dfe3c1" stroke="#dfe3c1" stroke-width="0.5" stroke-linejoin="round"/>
<path d="M20.9,184.2 L24.7,179.1 L30.2,178.5 L24.7,182.1 L22.1,184.2Z" fill="#dfe3c1" stroke="#dfe3c1" stroke-width="0.5" stroke-linejoin="round"/>
<path d="M9.5,181.5 L14.0,183.0 L12.5,184.2 L9.5,182.7Z" fill="#dfe3c1" stroke="#dfe3c1" stroke-width="0.5" stroke-linejoin="round"/>
<path d="M39.8,156.1 L43.6,154.9 L47.7,156.1 L47.9,160.8 L50.0,163.5 L55.0,158.4 L59.6,159.3 L65.1,161.4 L74.0,164.9 L77.3,168.5 L81.6,171.4 L82.4,174.4 L84.1,179.1 L87.9,183.9 L89.9,184.7 L82.9,183.9 L79.8,180.3 L74.0,176.2 L71.5,178.2 L68.9,180.9 L65.1,180.6 L61.4,177.4 L57.6,178.5 L59.6,174.4 L57.6,170.0 L51.2,166.7 L46.2,164.9 L44.4,165.5 L42.4,162.0 L46.2,161.1 L43.1,160.2 L39.8,157.8Z" fill="#dfe3c1" stroke="#dfe3c1" stroke-width="0.5" stroke-linejoin="round"/>
<path d="M83.6,170.0 L87.9,168.5 L93.5,166.1 L93.0,170.0 L87.9,172.3 L84.1,171.4Z" fill="#dfe3c1" stroke="#dfe3c1" stroke-width="0.5" stroke-linejoin="round"/>
<path d="M89.9,161.4 L94.2,164.3 L95.8,167.6 L94.5,166.1 L90.4,162.6Z" fill="#dfe3c1" stroke="#dfe3c1" stroke-width="0.5" stroke-linejoin="round"/>
<path d="M99.6,169.7 L102.8,173.2 L101.6,173.8 L99.8,171.1Z" fill="#dfe3c1" stroke="#dfe3c1" stroke-width="0.5" stroke-linejoin="round"/>
<path d="M104.6,174.4 L107.1,176.2 L106.1,176.5Z" fill="#dfe3c1" stroke="#dfe3c1" stroke-width="0.5" stroke-linejoin="round"/>
<path d="M110.7,177.4 L113.0,179.1 L112.0,179.1Z" fill="#dfe3c1" stroke="#dfe3c1" stroke-width="0.5" stroke-linejoin="round"/>
<path d="M112.2,181.2 L115.2,183.0 L113.7,183.0Z" fill="#dfe3c1" stroke="#dfe3c1" stroke-width="0.5" stroke-linejoin="round"/>
<path d="M115.2,178.5 L116.5,181.8 L115.7,181.8Z" fill="#dfe3c1" stroke="#dfe3c1" stroke-width="0.5" stroke-linejoin="round"/>
<path d="M116.5,183.9 L119.0,185.3 L117.8,185.6Z" fill="#dfe3c1" stroke="#dfe3c1" stroke-width="0.5" stroke-linejoin="round"/>
<path d="M129.9,197.5 L131.4,199.5 L130.7,200.1Z" fill="#dfe3c1" stroke="#dfe3c1" stroke-width="0.5" stroke-linejoin="round"/>
<path d="M131.4,201.0 L133.0,202.5 L132.2,202.8Z" fill="#dfe3c1" stroke="#dfe3c1" stroke-width="0.5" stroke-linejoin="round"/>
<path d="M123.3,213.1 L127.1,215.8 L130.9,219.6 L129.4,219.6 L125.9,217.3 L123.3,214.3Z" fill="#dfe3c1" stroke="#dfe3c1" stroke-width="0.5" stroke-linejoin="round"/>
<path d="M157.0,205.4 L160.3,205.2 L160.3,207.5 L157.2,207.5Z" fill="#dfe3c1" stroke="#dfe3c1" stroke-width="0.5" stroke-linejoin="round"/>
<path d="M160.5,202.8 L163.8,201.6 L163.3,203.4 L160.8,204.0Z" fill="#dfe3c1" stroke="#dfe3c1" stroke-width="0.5" stroke-linejoin="round"/>
<path d="M224.5,94.0 L227.3,95.7 L225.5,97.7 L224.5,95.7Z" fill="#dfe3c1" stroke="#dfe3c1" stroke-width="0.5" stroke-linejoin="round"/>
<path d="M222.8,91.6 L224.5,91.9 L223.5,92.8Z" fill="#dfe3c1" stroke="#dfe3c1" stroke-width="0.5" stroke-linejoin="round"/>
<path d="M218.7,89.8 L220.2,90.4 L219.5,90.9Z" fill="#dfe3c1" stroke="#dfe3c1" stroke-width="0.5" stroke-linejoin="round"/>
<path d="M214.9,88.1 L216.2,88.4 L215.7,88.9Z" fill="#dfe3c1" stroke="#dfe3c1" stroke-width="0.5" stroke-linejoin="round"/>
<path d="M0.0,216.7 L3.7,214.9 L8.5,213.7 L14.5,211.4 L17.6,206.9 L17.6,204.0 L19.4,202.2 L21.1,204.9 L23.4,201.0 L25.4,197.5 L29.2,194.5 L32.8,197.8 L36.3,197.8 L37.3,193.0 L39.3,190.4 L43.9,189.5 L43.9,187.1 L50.5,189.8 L54.8,189.8 L52.5,193.6 L51.2,198.1 L56.3,201.6 L60.6,205.2 L64.6,205.4 L66.7,198.1 L66.7,191.8 L68.9,185.3 L71.5,191.5 L72.2,196.3 L76.0,197.8 L76.5,203.4 L78.6,209.6 L84.9,213.7 L87.2,219.9 L89.9,223.2 L96.0,230.3 L97.0,238.3 L95.5,245.4 L91.7,252.2 L88.4,260.2 L87.7,264.6 L82.4,266.1 L78.6,269.0 L74.8,266.1 L71.5,268.4 L65.1,266.4 L62.1,263.1 L61.6,259.9 L57.6,259.3 L58.8,256.6 L57.1,251.3 L56.0,254.8 L54.8,258.1 L51.7,256.9 L47.9,250.7 L40.4,246.8 L34.8,247.4 L27.5,249.2 L22.1,251.9 L20.9,253.9 L12.0,253.9 L7.0,257.2 L1.9,256.6 L0.0,255.1Z" fill="#dfe3c1" stroke="#dfe3c1" stroke-width="0.5" stroke-linejoin="round"/>
<path d="M74.5,274.0 L79.1,275.2 L83.6,274.6 L83.6,278.5 L81.1,282.3 L77.8,282.3 L75.8,278.8Z" fill="#dfe3c1" stroke="#dfe3c1" stroke-width="0.5" stroke-linejoin="round"/>
<path d="M145.3,255.4 L149.4,259.3 L152.4,261.9 L153.7,264.9 L158.8,264.9 L160.0,265.2 L158.5,269.6 L156.2,270.2 L153.7,275.5 L151.2,276.7 L150.2,275.8 L151.7,272.0 L148.1,269.9 L150.2,267.5 L150.7,264.0 L148.6,260.7 L146.1,257.2Z" fill="#dfe3c1" stroke="#dfe3c1" stroke-width="0.5" stroke-linejoin="round"/>
<path d="M145.3,273.5 L148.6,274.9 L149.4,277.3 L145.6,282.3 L141.6,284.7 L140.5,289.4 L136.0,291.5 L132.2,290.3 L129.9,289.1 L133.5,284.4 L139.8,280.9 L142.3,277.9 L143.6,274.3Z" fill="#dfe3c1" stroke="#dfe3c1" stroke-width="0.5" stroke-linejoin="round"/>
<path d="M291.6,-3.0 L295.9,-0.1 L296.6,3.5 L303.0,5.8 L307.5,8.2 L308.5,11.8 L303.7,10.6 L305.2,15.3 L305.5,22.1 L304.2,27.1 L305.0,32.5 L304.5,34.2 L306.0,37.5 L309.3,41.9 L310.8,45.5 L314.1,51.4 L319.4,53.2 L322.7,57.3 L325.7,63.8 L330.3,70.9 L328.5,71.8 L335.1,79.8 L340.9,86.0 L342.2,84.8 L339.7,81.3 L337.1,75.3 L333.8,69.4 L329.5,63.5 L328.8,60.0 L333.3,61.4 L335.4,66.5 L339.7,72.4 L342.4,76.8 L346.0,79.8 L350.0,85.1 L352.3,90.1 L352.3,94.6 L355.3,97.2 L361.2,100.8 L366.5,104.0 L373.8,107.0 L380.1,105.8 L385.7,110.5 L391.5,113.2 L397.3,115.3 L398.3,116.7 L402.1,120.9 L402.4,124.1 L404.4,124.7 L407.5,128.3 L409.5,129.7 L413.0,131.2 L415.8,132.1 L416.8,129.2 L418.1,127.1 L420.6,128.9 L421.4,131.5 L423.4,134.5 L423.6,141.9 L420.6,146.3 L419.9,149.3 L416.8,151.3 L415.6,156.7 L414.5,160.5 L416.8,162.0 L416.1,164.0 L413.5,167.0 L414.0,171.4 L417.3,175.0 L420.6,181.8 L423.9,189.2 L426.4,194.8 L433.3,201.9 L438.6,205.4 L441.4,208.1 L441.9,215.8 L440.9,227.6 L438.3,239.5 L438.3,248.3 L435.8,258.7 L433.3,263.7 L433.8,270.5 L432.5,277.3 L434.5,282.3 L430.7,289.7 L428.2,295.6 L454.0,295.6 L450.2,290.6 L453.0,286.8 L454.3,280.9 L457.8,279.4 L454.8,274.9 L460.3,274.9 L461.9,269.0 L469.9,267.8 L473.7,266.1 L475.8,261.6 L474.2,258.7 L471.5,255.1 L475.0,256.3 L480.3,256.9 L483.9,254.2 L487.2,248.9 L491.5,243.9 L495.8,238.0 L496.5,230.6 L499.0,226.1 L505.4,223.5 L513.0,221.4 L515.5,218.8 L518.0,212.8 L520.0,206.3 L520.5,198.1 L521.8,192.1 L524.8,187.7 L529.4,180.3 L530.9,175.9 L530.2,170.0 L525.6,167.6 L520.5,163.2 L514.2,162.3 L507.9,161.1 L505.9,158.4 L498.3,155.8 L496.5,158.1 L492.7,154.3 L492.7,149.3 L489.7,141.9 L486.4,138.3 L481.3,136.3 L475.0,136.0 L471.2,131.5 L466.2,128.3 L462.9,124.1 L461.1,122.1 L456.0,123.5 L451.7,122.4 L446.7,122.4 L442.1,117.9 L437.8,117.0 L435.0,119.4 L430.7,121.2 L428.2,122.7 L426.9,126.2 L424.7,128.6 L423.4,128.0 L421.9,125.9 L418.1,125.3 L414.3,127.7 L411.3,127.1 L408.5,123.2 L407.5,119.4 L408.0,113.8 L408.7,109.3 L405.4,107.0 L401.6,106.7 L396.6,107.0 L394.6,106.7 L395.8,102.0 L396.6,99.0 L397.8,94.6 L399.6,90.4 L395.3,90.1 L390.5,91.6 L389.7,96.0 L387.7,98.7 L382.7,99.3 L378.9,98.4 L375.8,96.6 L373.0,91.6 L371.8,87.2 L372.5,79.8 L373.3,73.9 L375.1,70.0 L378.9,67.4 L382.7,65.6 L387.7,66.5 L391.5,67.7 L393.5,67.4 L392.8,64.4 L396.6,63.8 L401.6,64.1 L404.2,65.9 L406.7,64.7 L409.7,67.9 L410.0,71.8 L412.3,76.8 L414.3,79.2 L416.1,78.6 L416.8,74.5 L415.3,69.4 L413.5,65.0 L413.8,60.6 L416.8,57.3 L419.9,53.8 L423.1,52.3 L425.7,50.8 L428.2,49.3 L426.9,44.6 L427.4,42.8 L429.5,39.9 L431.5,36.9 L432.0,33.9 L437.1,32.5 L440.9,30.4 L442.1,29.5 L440.1,27.1 L442.1,24.2 L445.9,22.4 L449.7,21.2 L452.2,20.0 L455.3,18.9 L452.0,24.5 L454.8,25.1 L459.8,21.5 L464.9,19.7 L467.4,17.7 L466.2,14.7 L463.6,18.3 L458.6,18.0 L456.0,17.1 L455.3,14.7 L453.5,11.8 L456.5,9.4 L453.5,8.2 L449.7,8.8 L445.9,10.3 L442.1,13.8 L444.6,10.3 L449.7,7.3 L452.2,5.3 L459.8,5.0 L467.4,5.0 L471.2,2.3 L475.0,1.4 L477.5,-0.1 L478.0,-3.0Z" fill="#dfe3c1" stroke="#dfe3c1" stroke-width="0.5" stroke-linejoin="round"/>
<path d="M294.4,3.5 L301.2,9.4 L306.8,10.6 L302.5,5.3Z" fill="#dfe3c1" stroke="#dfe3c1" stroke-width="0.5" stroke-linejoin="round"/>
<path d="M469.2,12.9 L473.7,12.9 L478.8,15.0 L485.1,15.6 L485.9,12.7 L483.4,10.3 L482.6,7.3 L478.0,5.8 L475.5,2.0 L478.8,1.1 L474.5,4.4 L472.5,8.8 L469.2,12.1Z" fill="#dfe3c1" stroke="#dfe3c1" stroke-width="0.5" stroke-linejoin="round"/>
<path d="M404.4,88.9 L409.2,86.0 L415.6,85.4 L423.1,89.2 L428.2,92.2 L431.5,94.0 L428.2,94.9 L422.6,94.9 L421.9,92.5 L419.3,90.1 L412.3,88.1 L408.0,88.6Z" fill="#dfe3c1" stroke="#dfe3c1" stroke-width="0.5" stroke-linejoin="round"/>
<path d="M431.0,99.3 L434.5,94.9 L437.8,95.2 L442.4,95.7 L446.2,98.7 L443.4,99.3 L439.6,99.9 L437.8,101.1 L435.0,99.6Z" fill="#dfe3c1" stroke="#dfe3c1" stroke-width="0.5" stroke-linejoin="round"/>
<path d="M421.1,99.3 L426.2,100.2 L423.9,101.1Z" fill="#dfe3c1" stroke="#dfe3c1" stroke-width="0.5" stroke-linejoin="round"/>
<path d="M449.2,99.0 L453.2,99.6 L451.0,100.5Z" fill="#dfe3c1" stroke="#dfe3c1" stroke-width="0.5" stroke-linejoin="round"/>
<path d="M462.6,121.8 L465.1,121.8 L464.9,123.8 L462.6,123.8Z" fill="#dfe3c1" stroke="#dfe3c1" stroke-width="0.5" stroke-linejoin="round"/>
<path d="M421.1,79.5 L422.6,80.1 L422.6,83.0 L421.4,81.8Z" fill="#dfe3c1" stroke="#dfe3c1" stroke-width="0.5" stroke-linejoin="round"/>
<path d="M387.7,154.6 L389.2,155.5 L388.5,156.7 L387.7,156.1Z" fill="#dfe3c1" stroke="#dfe3c1" stroke-width="0.5" stroke-linejoin="round"/>
<path d="M596.4,26.5 L599.0,24.5 L606.6,25.1 L614.2,25.4 L615.9,22.1 L616.4,17.7 L613.7,14.1 L607.8,12.1 L607.3,10.3 L615.4,9.7 L615.4,7.0 L619.2,7.6 L619.2,39.0 L618.0,40.4 L617.4,42.5 L614.2,44.9 L607.8,45.2 L605.3,47.2 L603.3,45.5 L601.5,43.7 L596.7,44.3 L597.0,39.9 L595.2,39.0 L597.0,33.9 L597.0,30.1Z" fill="#dfe3c1" stroke="#dfe3c1" stroke-width="0.5" stroke-linejoin="round"/>
<path d="M593.4,-3.0 L593.9,1.4 L597.7,1.1 L603.0,-0.1 L603.5,-3.0Z" fill="#dfe3c1" stroke="#dfe3c1" stroke-width="0.5" stroke-linejoin="round"/>
<path d="M604.8,5.6 L610.4,5.0 L616.7,3.8 L619.2,3.5 L619.2,-3.0 L606.8,-3.0 L606.1,0.8 L611.6,1.7 L608.6,2.3 L606.1,5.0Z" fill="#dfe3c1" stroke="#dfe3c1" stroke-width="0.5" stroke-linejoin="round"/>
<path d="M619.2,47.8 L614.2,49.9 L605.8,47.8 L604.3,47.8 L602.0,53.2 L597.7,55.2 L594.4,60.6 L594.7,65.0 L590.1,70.9 L586.3,71.8 L581.8,76.8 L578.7,83.6 L576.2,91.6 L578.0,97.5 L577.5,106.4 L574.9,110.2 L577.0,115.3 L576.7,117.3 L581.3,121.8 L585.6,127.1 L587.6,131.5 L591.4,134.5 L596.4,138.9 L600.2,140.7 L606.6,138.3 L611.6,138.9 L614.2,139.5 L619.2,137.1Z" fill="#dfe3c1" stroke="#dfe3c1" stroke-width="0.5" stroke-linejoin="round"/>
<path d="M576.5,69.7 L578.5,69.1 L577.7,70.9Z" fill="#dfe3c1" stroke="#dfe3c1" stroke-width="0.5" stroke-linejoin="round"/>
<path d="M579.2,70.6 L580.3,70.6 L579.7,71.5Z" fill="#dfe3c1" stroke="#dfe3c1" stroke-width="0.5" stroke-linejoin="round"/>
<path d="M582.5,70.6 L584.3,68.8 L584.1,70.3Z" fill="#dfe3c1" stroke="#dfe3c1" stroke-width="0.5" stroke-linejoin="round"/>
</g>
<g clip-path="url(#landclip)">
<ellipse cx="10" cy="20" rx="40" ry="40" fill="#d3dfb4" opacity="0.8" filter="url(#b8)"/>
<ellipse cx="5" cy="70" rx="25" ry="30" fill="#c6d8aa" opacity="0.8" filter="url(#b8)"/>
<ellipse cx="55" cy="10" rx="25" ry="20" fill="#c9daae" opacity="0.8" filter="url(#b8)"/>
<ellipse cx="20" cy="150" rx="40" ry="30" fill="#cddcae" opacity="0.9" filter="url(#b4)"/>
<ellipse cx="70" cy="170" rx="30" ry="12" fill="#c3d5a4" opacity="0.9" filter="url(#b4)"/>
<ellipse cx="55" cy="228" rx="42" ry="24" fill="#eedfc6" opacity="0.95" filter="url(#b8)"/>
<ellipse cx="38" cy="215" rx="25" ry="15" fill="#f1dfc9" opacity="0.8" filter="url(#b8)"/>
<ellipse cx="96" cy="235" rx="10" ry="30" fill="#d5deae" opacity="0.8" filter="url(#b4)"/>
<ellipse cx="50" cy="195" rx="40" ry="8" fill="#d5deae" opacity="0.7" filter="url(#b4)"/>
<ellipse cx="440" cy="44" rx="30" ry="28" fill="#b0cc9b" opacity="1" filter="url(#b8)"/>
<ellipse cx="450" cy="10" rx="45" ry="16" fill="#cbdcb2" opacity="0.9" filter="url(#b8)"/>
<ellipse cx="366" cy="48" rx="24" ry="36" fill="#ece6cf" opacity="0.95" filter="url(#b8)"/>
<ellipse cx="385" cy="20" rx="25" ry="18" fill="#e3e4c6" opacity="0.8" filter="url(#b8)"/>
<ellipse cx="345" cy="18" rx="14" ry="25" fill="#c3d6a8" opacity="0.8" filter="url(#b8)"/>
<ellipse cx="392" cy="100" rx="22" ry="16" fill="#dfe1bf" opacity="0.8" filter="url(#b8)"/>
<ellipse cx="408" cy="118" rx="14" ry="14" fill="#c3d6a6" opacity="0.9" filter="url(#b4)"/>
<ellipse cx="480" cy="160" rx="42" ry="28" fill="#cadbb0" opacity="0.9" filter="url(#b8)"/>
<ellipse cx="515" cy="195" rx="30" ry="30" fill="#e2e5c0" opacity="0.8" filter="url(#b8)"/>
<ellipse cx="470" cy="275" rx="14" ry="22" fill="#e4dec4" opacity="0.8" filter="url(#b4)"/>
<ellipse cx="602" cy="98" rx="30" ry="28" fill="#f1e4d0" opacity="0.95" filter="url(#b8)"/>
<ellipse cx="610" cy="136" rx="25" ry="12" fill="#cfdcae" opacity="0.9" filter="url(#b8)"/>
<ellipse cx="608" cy="35" rx="15" ry="12" fill="#d6dfb4" opacity="0.8" filter="url(#b4)"/>
<path d="M432,150 L429,165 L432,180 L440,196 L447,212 L449,232 L447,252 L444,272 L440,292" fill="none" stroke="#ebe7dc" stroke-width="6" stroke-linecap="round" stroke-linejoin="round" filter="url(#b2)" opacity="0.9"/>
<path d="M345,0 L352,20 L362,45 L372,70 L385,92" fill="none" stroke="#eee9d6" stroke-width="7" stroke-linecap="round" stroke-linejoin="round" filter="url(#b2)" opacity="0.9"/>
</g>
<path d="M389.1,15.1 L393.7,12.4 L396.4,10.7 L400.1,12.6 L402.4,14.7 L399.2,15.5 L395.5,14.7 L391.9,15.3Z" fill="#93bbd8"/>
<path d="M397.9,28.7 L400.3,28.5 L400.8,24.9 L402.6,20.6 L400.3,20.0 L397.9,23.8Z" fill="#93bbd8"/>
<path d="M407.0,19.0 L411.5,18.8 L415.2,20.9 L412.4,24.8 L410.6,24.8 L408.8,22.0Z" fill="#93bbd8"/>
<path d="M409.7,30.2 L414.1,30.2 L417.7,27.7 L415.0,27.9 L411.4,28.9Z" fill="#93bbd8"/>
<path d="M418.7,25.4 L422.9,25.4 L425.2,23.9 L422.0,23.9Z" fill="#93bbd8"/>
<line x1="0" y1="65.0" x2="619" y2="65.0" stroke="#7b7b7b" stroke-width="1" stroke-dasharray="7.5,6.5"/>
<line x1="0" y1="153.7" x2="619" y2="153.7" stroke="#8a8a8a" stroke-width="1"/>
<line x1="0" y1="242.4" x2="619" y2="242.4" stroke="#7b7b7b" stroke-width="1" stroke-dasharray="7.5,6.5"/>
<path d="M30.5,90.5 L36.5,93 L42.5,95.5 L49.5,97.5" fill="none" stroke="#ffa018" stroke-width="9.5" stroke-linecap="round" stroke-linejoin="round"/>
<path d="M47.5,98 L50.5,104 L53.5,110 L56.5,116 L59.5,122 L63,128.5 L66.5,134.5 L72,139.5 L78.5,143" fill="none" stroke="#1414f0" stroke-width="11" stroke-linecap="round" stroke-linejoin="round"/>
<g fill="none" stroke="#000" stroke-width="1.45" stroke-linecap="round">
<path d="M41.5,35.2 Q45.2,47.7 50.3,51.5"/>
<path d="M64.1,64.1 Q82.9,75.4 72.9,94.2"/>
<path d="M57.8,75.4 Q60.3,84.2 67.3,82.9"/>
<path d="M25.1,86.7 Q37.7,86.7 44.0,84.2"/>
<path d="M52.8,103.0 Q72.9,100.5 86.7,97.5"/>
<path d="M58.3,110.6 Q82.9,110.6 114.3,101.0"/>
<path d="M60.8,116.8 Q95.5,113.1 122.6,103.5"/>
<path d="M65.8,122.6 Q90.5,120.6 126.9,117.6"/>
<path d="M75.4,113.1 Q90.5,110.6 105.5,111.8"/>
<path d="M73.4,135.7 Q93.0,130.7 104.3,124.4"/>
<path d="M82.9,142.0 Q98.0,135.7 110.6,129.4"/>
<path d="M95.5,147.0 Q120.6,144.5 135.7,135.7"/>
<path d="M100.5,148.7 Q113.1,148.2 118.1,143.7"/>
<path d="M145.7,147.0 Q160.8,144.5 173.4,145.2"/>
<path d="M123.7,140.2 Q145.2,135.2 165.2,131.2"/>
<path d="M145.7,148.2 Q160.2,144.2 174.3,146.7"/>
<path d="M150.2,165.2 Q170.3,161.2 190.3,160.2"/>
<path d="M159.2,172.8 Q172.8,167.8 186.3,166.8"/>
<path d="M164.2,180.3 Q175.3,175.3 184.3,176.3"/>
<path d="M170.3,189.3 Q184.3,186.3 195.3,181.3"/>
<path d="M185.3,194.3 Q190.3,186.3 197.8,182.8"/>
<path d="M150.2,194.3 Q160.2,196.3 172.8,197.8"/>
<path d="M159.2,206.8 Q167.8,209.3 175.3,206.3"/>
<path d="M222.8,206.8 Q220.3,197.8 224.3,192.8"/>
<path d="M189.3,209.3 Q215.3,216.3 235.4,214.3"/>
<path d="M189.3,211.3 Q220.3,222.8 234.4,219.3"/>
<path d="M262.9,214.3 Q280.4,210.3 295.4,212.8"/>
<path d="M276.9,219.3 Q295.4,220.3 303.0,235.4"/>
<path d="M276.9,220.3 Q300.5,225.3 306.5,245.4"/>
<path d="M246.9,206.8 Q265.4,202.8 274.4,205.3"/>
<path d="M342.7,236.7 C339,250 340,262 333.9,271.9"/>
<path d="M345.2,241.7 Q343,255 328.9,259.3"/>
<path d="M325.1,231.7 Q331,240 333.9,249.2"/>
<path d="M303.8,230.4 Q309,243 310,255.5"/>
<path d="M300,216.6 Q308,215 313.8,219.8"/>
<path d="M301,229 Q304,236 305,241"/>
<path d="M128.5,291 C136,270 152,262 154,238 C155,225 158,214 156,207"/>
<path d="M163,254 C166,240 163,228 158,219"/>
<path d="M175,250 C168,238 170,220 168,205"/>
<path d="M352.3,222.9 Q366.6,221.6 379.2,223.4"/>
<path d="M359.1,216.6 Q381.7,217.8 395.5,236.2"/>
<path d="M371.6,201.5 Q377.9,204.0 382.2,208.3"/>
<path d="M381.7,188.9 Q396.8,195.2 408.8,205.8"/>
<path d="M393.0,175.1 Q411.8,192.7 426.9,214.1"/>
<path d="M401.3,162.6 Q406.8,180.2 416.9,188.9"/>
<path d="M405.6,155.0 Q403.0,162.6 406.3,167.6"/>
<path d="M409.8,152.5 Q408.1,160.1 411.3,163.8"/>
<path d="M354.1,223.4 Q369.1,222.9 377.9,225.4"/>
<path d="M408.1,86.7 Q429.4,85.4 448.3,87.4"/>
<path d="M409.8,87.9 Q426.9,91.7 440.7,87.9"/>
<path d="M411.3,96.7 Q421.9,93.0 433.2,93.5"/>
<path d="M416.9,112.6 Q444.5,110.6 467.6,109.5"/>
<path d="M419.4,123.1 Q431.9,120.6 445.8,114.3"/>
<path d="M419.4,80.4 Q431.9,86.7 447.0,87.9"/>
<path d="M443.2,80.4 Q462.1,84.2 475.9,87.9"/>
<path d="M454.6,77.9 Q474.7,82.9 489.7,91.0"/>
<path d="M462.1,79.1 Q479.7,85.4 494.8,87.9"/>
<path d="M474.7,78.4 Q484.7,82.9 501.0,80.9"/>
<path d="M504.8,8.8 Q507.3,27.6 517.4,37.7"/>
<path d="M506.1,32.7 Q512.3,35.2 517.4,37.7"/>
<path d="M504.8,45.7 Q512.3,46.5 517.4,47.0"/>
<path d="M499.3,71.6 Q504.8,75.4 509.8,72.9"/>
<path d="M506.1,67.8 Q511.1,70.4 509.8,74.1"/>
<path d="M505.6,8.8 Q510.1,35.2 540.3,45.2"/>
<path d="M507.6,32.7 Q525.2,38.9 544.0,45.2"/>
<path d="M523.9,19.6 Q520.2,35.2 536.5,43.2"/>
<path d="M530.2,37.7 Q527.7,26.4 532.7,26.4"/>
<path d="M527.7,26.4 Q531.5,25.1 534.7,27.1"/>
<path d="M505.6,46.5 Q522.7,45.2 532.7,50.3"/>
<path d="M495.0,74.9 Q505.1,67.8 513.9,61.6"/>
<path d="M513.9,61.6 Q520.2,56.5 530.2,53.5"/>
<path d="M549.0,46.5 Q565.4,37.7 574.2,31.4"/>
<path d="M565.4,40.2 Q567.9,46.5 572.9,44.0"/>
<path d="M580.5,28.1 Q590.5,23.9 600.6,2.5"/>
<path d="M594.3,20.1 Q598.0,10.1 613.1,2.0"/>
<path d="M587.5,23.9 Q600.6,21.4 608.1,15.1"/>
<path d="M600.6,11.3 Q608.1,8.8 616.9,8.0"/>
<path d="M515.1,62.3 Q518.9,66.6 516.4,70.4"/>
<path d="M495.0,75.4 Q502.6,75.4 510.1,72.9"/>
<path d="M490.0,82.9 Q495.0,81.7 500.6,80.4"/>
<path d="M490.0,87.9 Q492.5,87.4 495.0,87.9"/>
</g>
<line x1="28.3" y1="110.0" x2="58.2" y2="149.0" stroke="#111" stroke-width="2.6"/><polygon points="62.0,154.0 54.0,149.8 60.1,145.2" fill="#111"/><polygon points="24.5,105.0 32.5,109.2 26.4,113.8" fill="#111"/><line x1="81.5" y1="163.5" x2="120.4" y2="186.2" stroke="#5c5451" stroke-width="2.7" stroke-dasharray="6.5,3.5"/><polygon points="127.0,190.0 117.5,189.1 121.6,182.2" fill="#5c5451"/><line x1="247.0" y1="184.0" x2="223.8" y2="172.8" stroke="#5c5451" stroke-width="2.7" stroke-dasharray="6.5,3.5"/><polygon points="217.0,169.5 226.5,169.6 223.0,176.9" fill="#5c5451"/><line x1="381.0" y1="170.0" x2="356.8" y2="199.8" stroke="#5c5451" stroke-width="1.4" stroke-dasharray="5.5,4.5"/><polygon points="353.0,204.5 354.8,197.2 359.7,201.2" fill="#5c5451"/><line x1="571.0" y1="60.5" x2="525.8" y2="82.2" stroke="#5c5451" stroke-width="2.8" stroke-dasharray="6.5,3.5"/><polygon points="519.0,85.5 525.0,78.2 528.5,85.4" fill="#5c5451"/>
<g stroke="#101010" stroke-width="0.8">
<circle cx="94.2" cy="147.0" r="3.15" fill="#20c8ff"/>
<circle cx="88.4" cy="145.2" r="3.15" fill="#1888ff"/>
<circle cx="82.9" cy="143.2" r="3.15" fill="#1888ff"/>
<circle cx="78.4" cy="140.7" r="3.15" fill="#080808"/>
<circle cx="72.9" cy="137.7" r="3.15" fill="#14e62c"/>
<circle cx="67.3" cy="133.2" r="3.15" fill="#14e62c"/>
<circle cx="63.8" cy="126.9" r="3.15" fill="#14e62c"/>
<circle cx="60.3" cy="120.1" r="3.15" fill="#14e62c"/>
<circle cx="57.3" cy="113.6" r="3.15" fill="#00fcb0"/>
<circle cx="54.0" cy="108.0" r="3.15" fill="#14e62c"/>
<circle cx="51.5" cy="102.0" r="3.15" fill="#14e62c"/>
<circle cx="48.2" cy="96.7" r="3.15" fill="#14e62c"/>
<circle cx="42.2" cy="95.0" r="3.15" fill="#1888ff"/>
<circle cx="36.7" cy="93.0" r="3.15" fill="#ffa800"/>
<circle cx="30.9" cy="90.5" r="3.15" fill="#ff7a00"/>
<circle cx="24.9" cy="88.2" r="3.15" fill="#00fcb0"/>
<circle cx="20.9" cy="82.9" r="3.15" fill="#1888ff"/>
<circle cx="16.8" cy="79.1" r="3.15" fill="#14e62c"/>
<circle cx="21.4" cy="76.6" r="3.15" fill="#20c8ff"/>
<circle cx="27.6" cy="75.4" r="3.15" fill="#20c8ff"/>
<circle cx="32.7" cy="74.9" r="3.15" fill="#00fcb0"/>
<circle cx="33.2" cy="71.6" r="3.15" fill="#6010f0"/>
<circle cx="37.7" cy="69.8" r="3.15" fill="#ff0000"/>
<circle cx="41.5" cy="65.3" r="3.15" fill="#20c8ff"/>
<circle cx="46.5" cy="59.5" r="3.15" fill="#1888ff"/>
<circle cx="44.7" cy="56.5" r="3.15" fill="#1888ff"/>
<circle cx="40.2" cy="53.5" r="3.15" fill="#1020ff"/>
<circle cx="46.5" cy="52.8" r="3.15" fill="#1888ff"/>
<circle cx="50.3" cy="50.3" r="3.15" fill="#20c8ff"/>
<circle cx="54.8" cy="54.0" r="3.15" fill="#6010f0"/>
<circle cx="54.8" cy="49.0" r="3.15" fill="#20c8ff"/>
<circle cx="60.3" cy="52.0" r="3.15" fill="#1888ff"/>
<circle cx="62.8" cy="47.7" r="3.15" fill="#14e62c"/>
<circle cx="55.8" cy="67.3" r="3.15" fill="#14e62c"/>
<circle cx="62.8" cy="72.4" r="3.15" fill="#6010f0"/>
<circle cx="68.3" cy="74.1" r="3.15" fill="#1888ff"/>
<circle cx="67.1" cy="79.9" r="3.15" fill="#14e62c"/>
<circle cx="65.3" cy="88.7" r="3.15" fill="#00f0f0"/>
<circle cx="67.1" cy="97.5" r="3.15" fill="#20c8ff"/>
<circle cx="72.1" cy="106.8" r="3.15" fill="#1888ff"/>
<circle cx="74.6" cy="113.1" r="3.15" fill="#ff0000"/>
<circle cx="80.4" cy="118.6" r="3.15" fill="#fff200"/>
<circle cx="87.2" cy="124.9" r="3.15" fill="#14e62c"/>
<circle cx="93.5" cy="130.7" r="3.15" fill="#00fcb0"/>
<circle cx="101.8" cy="134.4" r="3.15" fill="#90fa00"/>
<circle cx="109.3" cy="136.9" r="3.15" fill="#14e62c"/>
<circle cx="116.1" cy="138.7" r="3.15" fill="#ff0000"/>
<circle cx="123.1" cy="141.2" r="3.15" fill="#00f0f0"/>
<circle cx="131.4" cy="144.0" r="3.15" fill="#ffa800"/>
<circle cx="138.9" cy="146.2" r="3.15" fill="#ff7a00"/>
<circle cx="145.7" cy="147.7" r="3.15" fill="#ffa800"/>
<circle cx="96.1" cy="150.2" r="3.15" fill="#20c8ff"/>
<circle cx="102.2" cy="152.7" r="3.15" fill="#20c8ff"/>
<circle cx="108.2" cy="155.7" r="3.15" fill="#14e62c"/>
<circle cx="114.2" cy="158.7" r="3.15" fill="#14e62c"/>
<circle cx="120.2" cy="161.2" r="3.15" fill="#14e62c"/>
<circle cx="126.2" cy="164.2" r="3.15" fill="#14e62c"/>
<circle cx="132.2" cy="166.8" r="3.15" fill="#fff200"/>
<circle cx="138.2" cy="169.3" r="3.15" fill="#fff200"/>
<circle cx="143.7" cy="172.3" r="3.15" fill="#14e62c"/>
<circle cx="148.7" cy="176.8" r="3.15" fill="#fff200"/>
<circle cx="149.2" cy="185.3" r="3.15" fill="#14e62c"/>
<circle cx="150.2" cy="193.8" r="3.15" fill="#00fcb0"/>
<circle cx="152.7" cy="201.3" r="3.15" fill="#14e62c"/>
<circle cx="156.2" cy="214.3" r="3.15" fill="#1020ff"/>
<circle cx="154.2" cy="221.3" r="3.15" fill="#6010f0"/>
<circle cx="155.2" cy="229.3" r="3.15" fill="#080808"/>
<circle cx="157.7" cy="236.9" r="3.15" fill="#080808"/>
<circle cx="160.2" cy="243.9" r="3.15" fill="#080808"/>
<circle cx="156.2" cy="251.4" r="3.15" fill="#080808"/>
<circle cx="150.2" cy="257.9" r="3.15" fill="#6010f0"/>
<circle cx="159.2" cy="206.8" r="3.15" fill="#14e62c"/>
<circle cx="154.2" cy="165.2" r="3.15" fill="#14e62c"/>
<circle cx="159.2" cy="172.8" r="3.15" fill="#14e62c"/>
<circle cx="162.7" cy="178.8" r="3.15" fill="#14e62c"/>
<circle cx="169.3" cy="187.8" r="3.15" fill="#14e62c"/>
<circle cx="174.0" cy="191.5" r="3.15" fill="#ff0000"/>
<circle cx="179.5" cy="194.0" r="3.15" fill="#20c8ff"/>
<circle cx="185.1" cy="194.5" r="3.15" fill="#ff0000"/>
<circle cx="187.6" cy="200.8" r="3.15" fill="#14e62c"/>
<circle cx="189.1" cy="208.3" r="3.15" fill="#14e62c"/>
<circle cx="198.4" cy="209.8" r="3.15" fill="#ff3800"/>
<circle cx="207.7" cy="209.3" r="3.15" fill="#ff0000"/>
<circle cx="214.7" cy="209.5" r="3.15" fill="#fff200"/>
<circle cx="223.5" cy="208.3" r="3.15" fill="#6010f0"/>
<circle cx="231.8" cy="206.5" r="3.15" fill="#1020ff"/>
<circle cx="241.1" cy="205.5" r="3.15" fill="#00fcb0"/>
<circle cx="246.9" cy="208.5" r="3.15" fill="#080808"/>
<circle cx="254.2" cy="211.1" r="3.15" fill="#ffa800"/>
<circle cx="263.0" cy="214.8" r="3.15" fill="#14e62c"/>
<circle cx="271.2" cy="217.8" r="3.15" fill="#14e62c"/>
<circle cx="277.5" cy="221.6" r="3.15" fill="#ffa800"/>
<circle cx="303.9" cy="226.1" r="3.15" fill="#14e62c"/>
<circle cx="312.2" cy="227.4" r="3.15" fill="#00fcb0"/>
<circle cx="322.3" cy="228.6" r="3.15" fill="#ff0000"/>
<circle cx="330.8" cy="229.4" r="3.15" fill="#14e62c"/>
<circle cx="339.1" cy="231.7" r="3.15" fill="#00fcb0"/>
<circle cx="343.0" cy="232.9" r="3.15" fill="#00fcb0"/>
<circle cx="346.5" cy="225.4" r="3.15" fill="#14e62c"/>
<circle cx="352.3" cy="221.6" r="3.15" fill="#40f400"/>
<circle cx="357.1" cy="214.8" r="3.15" fill="#ff0000"/>
<circle cx="363.3" cy="207.8" r="3.15" fill="#ff0000"/>
<circle cx="369.6" cy="201.0" r="3.15" fill="#00fcb0"/>
<circle cx="374.7" cy="194.7" r="3.15" fill="#40f400"/>
<circle cx="379.7" cy="188.4" r="3.15" fill="#90fa00"/>
<circle cx="385.0" cy="181.9" r="3.15" fill="#1020ff"/>
<circle cx="390.5" cy="174.6" r="3.15" fill="#00fcb0"/>
<circle cx="396.0" cy="167.6" r="3.15" fill="#40f400"/>
<circle cx="400.5" cy="161.3" r="3.15" fill="#00fcb0"/>
<circle cx="404.8" cy="154.3" r="3.15" fill="#1020ff"/>
<circle cx="409.8" cy="148.2" r="3.15" fill="#20c8ff"/>
<circle cx="416.1" cy="145.0" r="3.15" fill="#00fcb0"/>
<circle cx="422.4" cy="142.7" r="3.15" fill="#14e62c"/>
<circle cx="416.9" cy="124.9" r="3.15" fill="#14e62c"/>
<circle cx="417.6" cy="127.4" r="3.15" fill="#90fa00"/>
<circle cx="416.4" cy="120.6" r="3.15" fill="#1888ff"/>
<circle cx="415.6" cy="112.6" r="3.15" fill="#90fa00"/>
<circle cx="414.4" cy="104.3" r="3.15" fill="#00f0f0"/>
<circle cx="410.6" cy="98.0" r="3.15" fill="#14e62c"/>
<circle cx="406.3" cy="93.5" r="3.15" fill="#00f0f0"/>
<circle cx="407.3" cy="85.4" r="3.15" fill="#00fcb0"/>
<circle cx="413.1" cy="81.7" r="3.15" fill="#00f0f0"/>
<circle cx="419.4" cy="76.1" r="3.15" fill="#080808"/>
<circle cx="416.9" cy="77.4" r="3.15" fill="#90fa00"/>
<circle cx="423.1" cy="76.6" r="3.15" fill="#1888ff"/>
<circle cx="428.9" cy="76.6" r="3.15" fill="#1020ff"/>
<circle cx="435.7" cy="76.6" r="3.15" fill="#00f0f0"/>
<circle cx="442.0" cy="76.6" r="3.15" fill="#080808"/>
<circle cx="444.5" cy="79.1" r="3.15" fill="#080808"/>
<circle cx="454.6" cy="76.6" r="3.15" fill="#080808"/>
<circle cx="461.6" cy="76.6" r="3.15" fill="#6010f0"/>
<circle cx="467.6" cy="76.6" r="3.15" fill="#080808"/>
<circle cx="474.2" cy="77.4" r="3.15" fill="#6010f0"/>
<circle cx="480.4" cy="78.4" r="3.15" fill="#1888ff"/>
<circle cx="487.2" cy="76.1" r="3.15" fill="#00f0f0"/>
<circle cx="493.5" cy="74.4" r="3.15" fill="#14e62c"/>
<circle cx="499.3" cy="71.1" r="3.15" fill="#14e62c"/>
<circle cx="505.6" cy="66.6" r="3.15" fill="#90fa00"/>
<circle cx="512.1" cy="62.3" r="3.15" fill="#080808"/>
<circle cx="518.9" cy="59.8" r="3.15" fill="#6010f0"/>
<circle cx="530.2" cy="54.0" r="3.15" fill="#080808"/>
<circle cx="537.0" cy="50.8" r="3.15" fill="#00f0f0"/>
<circle cx="542.8" cy="46.0" r="3.15" fill="#080808"/>
<circle cx="548.3" cy="45.2" r="3.15" fill="#080808"/>
<circle cx="554.1" cy="43.2" r="3.15" fill="#1888ff"/>
<circle cx="559.6" cy="41.7" r="3.15" fill="#1888ff"/>
<circle cx="566.6" cy="38.9" r="3.15" fill="#fff200"/>
<circle cx="572.9" cy="33.4" r="3.15" fill="#00f0f0"/>
<circle cx="580.5" cy="27.6" r="3.15" fill="#080808"/>
<circle cx="587.5" cy="23.9" r="3.15" fill="#080808"/>
<circle cx="594.3" cy="19.6" r="3.15" fill="#080808"/>
<circle cx="603.6" cy="15.6" r="3.15" fill="#080808"/>
<circle cx="611.1" cy="12.1" r="3.15" fill="#080808"/>
</g>
<text x="61.0" y="37.8" font-size="12" fill="#000" >Japan</text><text x="3.3" y="45.8" font-size="9.6" fill="#000" >Keelung</text><line x1="20" y1="48" x2="17.6" y2="76" stroke="#111" stroke-width="0.6"/><text x="96.7" y="212.9" font-size="9.6" fill="#000" >Fiji</text><line x1="108.5" y1="210.2" x2="156" y2="207.6" stroke="#111" stroke-width="0.6"/><text x="199.0" y="248.8" font-size="9.6" fill="#000" >Niue Island</text><line x1="224" y1="240.5" x2="192" y2="212.5" stroke="#111" stroke-width="0.6"/><text font-size="12.1" fill="#000" transform="translate(178.3,106) rotate(30.2)">Tropical Pacific Ocean</text><text font-size="12.1" fill="#000" transform="translate(368.5,116.5) rotate(-48)">Caribbean</text><text x="456.3" y="49.6" font-size="12" fill="#000" >Atlantic</text><text x="581.3" y="64.0" font-size="14" fill="#000" >30° N</text><text x="560.3" y="171.4" font-size="14" fill="#000" >Equator</text><text x="583.8" y="260.5" font-size="14" fill="#000" >30° S</text><text x="10.5" y="280.8" font-size="13.5" fill="#000" >(M)</text>
</g>
<rect x="626.6" y="42.6" width="7.8" height="204" fill="url(#cbar)" stroke="#333" stroke-width="0.4"/><line x1="634.4" y1="245.6" x2="642.4" y2="245.6" stroke="#111" stroke-width="1"/><text x="647.3" y="249.9" font-size="12" fill="#111">1.0</text><line x1="634.4" y1="211.9" x2="642.4" y2="211.9" stroke="#111" stroke-width="1"/><text x="647.3" y="216.2" font-size="12" fill="#111">1.5</text><line x1="634.4" y1="178.3" x2="642.4" y2="178.3" stroke="#111" stroke-width="1"/><text x="647.3" y="182.6" font-size="12" fill="#111">2.0</text><line x1="634.4" y1="144.6" x2="642.4" y2="144.6" stroke="#111" stroke-width="1"/><text x="647.3" y="148.9" font-size="12" fill="#111">2.5</text><line x1="634.4" y1="110.9" x2="642.4" y2="110.9" stroke="#111" stroke-width="1"/><text x="647.3" y="115.2" font-size="12" fill="#111">3.0</text><line x1="634.4" y1="77.3" x2="642.4" y2="77.3" stroke="#111" stroke-width="1"/><text x="647.3" y="81.6" font-size="12" fill="#111">3.5</text><line x1="634.4" y1="43.6" x2="642.4" y2="43.6" stroke="#111" stroke-width="1"/><text x="647.3" y="47.9" font-size="12" fill="#111">4.0</text><text font-size="12" fill="#111" text-anchor="middle" transform="translate(675,145.5) rotate(90)">Ratio (daytime to nightime)</text>
<g stroke="#c9c9c9" stroke-width="0.7" stroke-dasharray="1.2,1.6">
<line x1="93.4" y1="313" x2="93.4" y2="840"/>
<line x1="138.4" y1="313" x2="138.4" y2="840"/>
<line x1="183.4" y1="313" x2="183.4" y2="840"/>
<line x1="228.5" y1="313" x2="228.5" y2="840"/>
<line x1="273.5" y1="313" x2="273.5" y2="840"/>
<line x1="318.5" y1="313" x2="318.5" y2="840"/>
<line x1="363.5" y1="313" x2="363.5" y2="840"/>
<line x1="408.5" y1="313" x2="408.5" y2="840"/>
<line x1="453.6" y1="313" x2="453.6" y2="840"/>
<line x1="498.6" y1="313" x2="498.6" y2="840"/>
<line x1="543.6" y1="313" x2="543.6" y2="840"/>
</g>
<path d="M72.9,469.6 L92.8,469.6 L93.4,466.5 L94.1,460.4 L94.7,452.4 L95.3,443.0 L95.9,432.6 L96.5,421.7 L97.1,410.4 L97.7,399.2 L98.3,388.3 L98.9,377.8 L99.5,368.1 L100.1,359.3 L100.7,351.6 L101.3,345.0 L101.9,339.8 L102.6,336.0 L103.2,333.5 L103.8,332.5 L104.4,333.0 L105.0,334.8 L105.6,337.9 L106.2,342.3 L106.8,347.9 L107.4,354.5 L108.0,361.9 L108.6,370.1 L109.2,378.9 L109.8,388.1 L110.4,397.6 L111.1,407.1 L111.7,416.5 L112.3,425.7 L112.9,434.4 L113.5,442.5 L114.1,449.8 L114.7,456.2 L115.3,461.6 L115.9,465.7 L116.5,468.5 L117.1,469.6 L137.9,469.6 L138.5,466.6 L139.1,460.6 L139.7,452.7 L140.3,443.5 L140.9,433.3 L141.5,422.5 L142.1,411.5 L142.7,400.5 L143.3,389.7 L143.9,379.5 L144.5,370.0 L145.1,361.3 L145.8,353.7 L146.4,347.3 L147.0,342.2 L147.6,338.4 L148.2,336.0 L148.8,335.0 L149.4,335.5 L150.0,337.2 L150.6,340.3 L151.2,344.7 L151.8,350.1 L152.4,356.6 L153.0,363.9 L153.6,372.0 L154.3,380.6 L154.9,389.6 L155.5,398.9 L156.1,408.3 L156.7,417.5 L157.3,426.5 L157.9,435.0 L158.5,443.0 L159.1,450.2 L159.7,456.5 L160.3,461.7 L160.9,465.8 L161.5,468.5 L162.1,469.6 L182.9,469.6 L183.5,466.5 L184.1,460.3 L184.7,452.3 L185.3,442.8 L185.9,432.4 L186.5,421.4 L187.1,410.2 L187.7,398.9 L188.3,387.9 L189.0,377.4 L189.6,367.6 L190.2,358.8 L190.8,351.0 L191.4,344.5 L192.0,339.2 L192.6,335.4 L193.2,332.9 L193.8,331.9 L194.4,332.3 L195.0,334.2 L195.6,337.3 L196.2,341.8 L196.8,347.3 L197.5,353.9 L198.1,361.4 L198.7,369.7 L199.3,378.5 L199.9,387.8 L200.5,397.3 L201.1,406.8 L201.7,416.3 L202.3,425.5 L202.9,434.2 L203.5,442.4 L204.1,449.7 L204.7,456.2 L205.3,461.5 L206.0,465.7 L206.6,468.5 L207.2,469.6 L227.9,469.6 L228.5,466.5 L229.1,460.3 L229.7,452.1 L230.3,442.6 L230.9,432.1 L231.5,421.0 L232.1,409.6 L232.8,398.2 L233.4,387.1 L234.0,376.6 L234.6,366.7 L235.2,357.8 L235.8,350.0 L236.4,343.3 L237.0,338.0 L237.6,334.1 L238.2,331.7 L238.8,330.7 L239.4,331.1 L240.0,332.9 L240.7,336.1 L241.3,340.6 L241.9,346.2 L242.5,352.9 L243.1,360.5 L243.7,368.8 L244.3,377.7 L244.9,387.0 L245.5,396.6 L246.1,406.3 L246.7,415.8 L247.3,425.1 L247.9,433.9 L248.5,442.1 L249.2,449.5 L249.8,456.0 L250.4,461.5 L251.0,465.7 L251.6,468.5 L252.2,469.6 L272.9,469.6 L273.5,466.5 L274.1,460.3 L274.7,452.1 L275.3,442.6 L276.0,432.1 L276.6,421.0 L277.2,409.6 L277.8,398.2 L278.4,387.1 L279.0,376.6 L279.6,366.7 L280.2,357.8 L280.8,350.0 L281.4,343.3 L282.0,338.0 L282.6,334.1 L283.2,331.7 L283.8,330.7 L284.5,331.1 L285.1,332.9 L285.7,336.1 L286.3,340.6 L286.9,346.2 L287.5,352.9 L288.1,360.5 L288.7,368.8 L289.3,377.7 L289.9,387.0 L290.5,396.6 L291.1,406.3 L291.7,415.8 L292.4,425.1 L293.0,433.9 L293.6,442.1 L294.2,449.5 L294.8,456.0 L295.4,461.5 L296.0,465.7 L296.6,468.5 L297.2,469.6 L317.9,469.6 L318.5,466.6 L319.2,461.2 L319.8,453.5 L320.4,442.4 L321.0,432.0 L321.6,421.1 L322.2,409.9 L322.8,399.0 L323.4,388.1 L324.0,384.4 L324.6,382.0 L325.2,372.3 L325.8,351.7 L326.4,343.5 L327.0,337.6 L327.7,346.9 L328.3,342.6 L328.9,330.7 L329.5,345.1 L330.1,333.1 L330.7,344.7 L331.3,342.7 L331.9,346.1 L332.5,353.8 L333.1,372.3 L333.7,383.8 L334.3,378.1 L334.9,386.7 L335.5,396.0 L336.2,407.3 L336.8,422.9 L337.4,425.7 L338.0,434.2 L338.6,442.6 L339.2,449.7 L339.8,455.9 L340.4,461.6 L341.0,466.1 L341.6,468.5 L342.2,469.6 L363.0,469.6 L363.6,466.5 L364.2,460.5 L364.8,452.2 L365.4,443.2 L366.0,432.6 L366.6,421.6 L367.2,410.7 L367.8,400.1 L368.4,390.8 L369.0,377.6 L369.6,382.5 L370.2,361.0 L370.9,350.9 L371.5,355.2 L372.1,338.1 L372.7,335.7 L373.3,335.9 L373.9,332.9 L374.5,346.1 L375.1,336.9 L375.7,339.9 L376.3,348.7 L376.9,346.6 L377.5,354.0 L378.1,364.1 L378.7,374.3 L379.4,377.7 L380.0,388.4 L380.6,396.7 L381.2,412.5 L381.8,418.0 L382.4,427.7 L383.0,434.9 L383.6,442.5 L384.2,449.8 L384.8,456.8 L385.4,462.5 L386.0,465.7 L386.6,468.6 L387.2,469.6 L408.0,469.6 L408.6,466.8 L409.2,460.6 L409.8,452.9 L410.4,444.2 L411.0,433.0 L411.6,422.7 L412.2,413.8 L412.8,401.4 L413.4,390.8 L414.1,380.6 L414.7,369.3 L415.3,366.1 L415.9,352.6 L416.5,346.6 L417.1,360.2 L417.7,340.6 L418.3,354.8 L418.9,338.0 L419.5,337.9 L420.1,338.1 L420.7,342.1 L421.3,345.6 L421.9,348.8 L422.6,358.3 L423.2,365.0 L423.8,371.2 L424.4,380.3 L425.0,401.1 L425.6,398.8 L426.2,414.6 L426.8,417.9 L427.4,427.2 L428.0,434.7 L428.6,443.4 L429.2,450.1 L429.8,456.6 L430.4,461.8 L431.1,465.8 L431.7,468.5 L432.3,469.6 L453.0,469.6 L453.6,467.1 L454.2,461.4 L454.8,453.7 L455.4,445.8 L456.0,435.3 L456.6,425.5 L457.2,415.5 L457.9,404.9 L458.5,395.0 L459.1,391.3 L459.7,381.7 L460.3,366.9 L460.9,360.3 L461.5,356.3 L462.1,350.0 L462.7,347.3 L463.3,343.3 L463.9,347.0 L464.5,345.5 L465.1,346.3 L465.8,364.9 L466.4,353.4 L467.0,358.1 L467.6,363.9 L468.2,370.8 L468.8,379.0 L469.4,397.9 L470.0,395.1 L470.6,411.5 L471.2,412.5 L471.8,420.8 L472.4,428.8 L473.0,437.6 L473.6,444.5 L474.3,453.1 L474.9,457.5 L475.5,462.2 L476.1,466.0 L476.7,468.6 L477.3,469.6 L498.0,469.6 L498.6,466.7 L499.2,461.5 L499.8,453.6 L500.4,447.0 L501.1,437.3 L501.7,423.8 L502.3,414.0 L502.9,402.2 L503.5,393.6 L504.1,383.1 L504.7,372.4 L505.3,368.4 L505.9,358.0 L506.5,365.8 L507.1,345.7 L507.7,343.8 L508.3,341.0 L508.9,352.6 L509.6,338.9 L510.2,342.9 L510.8,343.7 L511.4,347.8 L512.0,361.4 L512.6,361.2 L513.2,370.8 L513.8,382.3 L514.4,384.2 L515.0,392.1 L515.6,404.0 L516.2,417.0 L516.8,422.8 L517.5,429.8 L518.1,437.2 L518.7,444.2 L519.3,450.7 L519.9,458.7 L520.5,462.9 L521.1,465.9 L521.7,468.5 L522.3,469.6 L543.0,469.6 L543.6,468.5 L544.3,467.3 L544.9,467.3 L545.5,465.9 L546.1,465.5 L546.7,465.1 L547.3,465.1 L547.9,464.8 L548.5,465.2 L549.1,464.7 L549.7,464.5 L550.3,462.0 L550.9,463.4 L551.5,463.5 L552.1,463.6 L552.8,460.6 L553.4,460.3 L554.0,461.0 L554.6,462.5 L555.2,462.6 L555.8,462.4 L556.4,461.8 L557.0,463.1 L557.6,462.1 L558.2,463.0 L558.8,460.6 L559.4,460.9 L560.0,462.7 L560.6,464.0 L561.3,462.1 L561.9,464.5 L562.5,464.7 L563.1,466.0 L563.7,465.6 L564.3,465.9 L564.9,466.5 L565.5,467.5 L566.1,467.8 L566.7,468.8 L567.3,469.6 L578.0,469.6 Z" fill="#ffd68a"/>
<line x1="72.9" y1="469.6" x2="578.0" y2="469.6" stroke="#ffcf75" stroke-width="1.2"/>
<clipPath id="rainclip"><rect x="538.2" y="313.2" width="34.8" height="156.4"/></clipPath>
<rect x="538.2" y="313.2" width="34.8" height="156.4" fill="#fdfcff"/>
<g clip-path="url(#rainclip)" stroke="#c0a3ea" stroke-width="1.45">
<line x1="406.73" y1="469.6" x2="534.20" y2="313.2"/>
<line x1="410.48" y1="469.6" x2="537.95" y2="313.2"/>
<line x1="414.23" y1="469.6" x2="541.70" y2="313.2"/>
<line x1="417.98" y1="469.6" x2="545.45" y2="313.2"/>
<line x1="421.73" y1="469.6" x2="549.20" y2="313.2"/>
<line x1="425.48" y1="469.6" x2="552.95" y2="313.2"/>
<line x1="429.23" y1="469.6" x2="556.70" y2="313.2"/>
<line x1="432.98" y1="469.6" x2="560.45" y2="313.2"/>
<line x1="436.73" y1="469.6" x2="564.20" y2="313.2"/>
<line x1="440.48" y1="469.6" x2="567.95" y2="313.2"/>
<line x1="444.23" y1="469.6" x2="571.70" y2="313.2"/>
<line x1="447.98" y1="469.6" x2="575.45" y2="313.2"/>
<line x1="451.73" y1="469.6" x2="579.20" y2="313.2"/>
<line x1="455.48" y1="469.6" x2="582.95" y2="313.2"/>
<line x1="459.23" y1="469.6" x2="586.70" y2="313.2"/>
<line x1="462.98" y1="469.6" x2="590.45" y2="313.2"/>
<line x1="466.73" y1="469.6" x2="594.20" y2="313.2"/>
<line x1="470.48" y1="469.6" x2="597.95" y2="313.2"/>
<line x1="474.23" y1="469.6" x2="601.70" y2="313.2"/>
<line x1="477.98" y1="469.6" x2="605.45" y2="313.2"/>
<line x1="481.73" y1="469.6" x2="609.20" y2="313.2"/>
<line x1="485.48" y1="469.6" x2="612.95" y2="313.2"/>
<line x1="489.23" y1="469.6" x2="616.70" y2="313.2"/>
<line x1="492.98" y1="469.6" x2="620.45" y2="313.2"/>
<line x1="496.73" y1="469.6" x2="624.20" y2="313.2"/>
<line x1="500.48" y1="469.6" x2="627.95" y2="313.2"/>
<line x1="504.23" y1="469.6" x2="631.70" y2="313.2"/>
<line x1="507.98" y1="469.6" x2="635.45" y2="313.2"/>
<line x1="511.73" y1="469.6" x2="639.20" y2="313.2"/>
<line x1="515.48" y1="469.6" x2="642.95" y2="313.2"/>
<line x1="519.23" y1="469.6" x2="646.70" y2="313.2"/>
<line x1="522.98" y1="469.6" x2="650.45" y2="313.2"/>
<line x1="526.73" y1="469.6" x2="654.20" y2="313.2"/>
<line x1="530.48" y1="469.6" x2="657.95" y2="313.2"/>
<line x1="534.23" y1="469.6" x2="661.70" y2="313.2"/>
<line x1="537.98" y1="469.6" x2="665.45" y2="313.2"/>
<line x1="541.73" y1="469.6" x2="669.20" y2="313.2"/>
<line x1="545.48" y1="469.6" x2="672.95" y2="313.2"/>
<line x1="549.23" y1="469.6" x2="676.70" y2="313.2"/>
<line x1="552.98" y1="469.6" x2="680.45" y2="313.2"/>
<line x1="556.73" y1="469.6" x2="684.20" y2="313.2"/>
<line x1="560.48" y1="469.6" x2="687.95" y2="313.2"/>
<line x1="564.23" y1="469.6" x2="691.70" y2="313.2"/>
<line x1="567.98" y1="469.6" x2="695.45" y2="313.2"/>
<line x1="571.73" y1="469.6" x2="699.20" y2="313.2"/>
<line x1="575.48" y1="469.6" x2="702.95" y2="313.2"/>
</g>
<rect x="538.2" y="313.2" width="34.8" height="156.4" fill="none" stroke="#c2a7ea" stroke-width="1.3"/>
<path d="M73.2,459.2 L74.0,459.2 L74.8,459.8 L75.6,461.6 L76.4,462.3 L77.2,463.0 L78.0,462.0 L78.8,463.2 L79.6,463.1 L80.4,462.4 L81.2,463.7 L82.0,463.0 L82.8,461.4 L83.6,461.3 L84.4,462.3 L85.2,461.7 L86.0,462.3 L86.8,461.8 L87.6,460.5 L88.4,461.7 L89.2,462.4 L90.0,457.2 L90.8,450.8 L91.6,449.1 L92.4,444.2 L93.2,441.9 L94.0,428.1 L94.8,428.8 L95.6,426.8 L96.4,426.1 L97.2,433.8 L98.0,426.8 L98.8,429.6 L99.6,433.4 L100.4,430.1 L101.2,429.3 L102.0,429.7 L102.8,433.1 L103.6,433.5 L104.4,426.6 L105.2,421.0 L106.0,421.6 L106.8,411.4 L107.6,410.6 L108.4,408.5 L109.2,409.0 L110.0,408.3 L110.8,408.4 L111.6,412.5 L112.4,414.3 L113.2,407.9 L114.0,413.1 L114.8,408.7 L115.6,420.6 L116.4,433.2 L117.2,438.4 L118.0,442.8 L118.8,445.6 L119.6,447.0 L120.4,449.2 L121.2,449.3 L122.0,451.0 L122.8,454.0 L123.6,451.3 L124.4,450.8 L125.2,453.9 L126.0,451.7 L126.8,449.8 L127.6,450.1 L128.4,443.9 L129.2,451.8 L130.0,447.6 L130.8,450.7 L131.6,447.4 L132.4,448.2 L133.2,448.9 L134.0,440.5 L134.8,445.9 L135.6,445.8 L136.4,447.0 L137.2,430.7 L138.0,411.5 L138.8,397.9 L139.6,403.2 L140.4,399.1 L141.2,405.2 L142.0,400.1 L142.8,406.5 L143.6,404.4 L144.4,417.9 L145.2,428.6 L146.0,427.0 L146.8,432.5 L147.6,432.3 L148.4,430.1 L149.2,429.8 L150.0,428.3 L150.8,427.5 L151.6,430.8 L152.4,434.5 L153.2,431.4 L154.0,435.6 L154.8,432.7 L155.6,431.9 L156.4,433.6 L157.2,439.6 L158.0,437.9 L158.8,432.3 L159.6,438.8 L160.4,438.5 L161.2,431.8 L162.0,432.3 L162.8,436.8 L163.6,433.1 L164.4,432.9 L165.2,432.8 L166.0,437.8 L166.8,431.6 L167.6,437.8 L168.4,432.1 L169.2,437.3 L170.0,435.6 L170.8,434.6 L171.6,429.7 L172.4,431.4 L173.2,434.5 L174.0,437.4 L174.8,432.3 L175.6,436.0 L176.4,433.9 L177.2,436.4 L178.0,432.5 L178.8,434.9 L179.6,432.8 L180.4,432.6 L181.2,433.4 L182.0,434.5 L182.8,422.4 L183.6,396.6 L184.4,395.4 L185.2,378.5 L186.0,386.9 L186.8,394.1 L187.6,396.1 L188.4,396.7 L189.2,397.3 L190.0,399.3 L190.8,401.7 L191.6,408.1 L192.4,406.0 L193.2,407.0 L194.0,411.4 L194.8,410.5 L195.6,412.7 L196.4,410.4 L197.2,408.5 L198.0,405.6 L198.8,401.9 L199.6,400.4 L200.4,402.0 L201.2,391.9 L202.0,396.0 L202.8,391.1 L203.6,391.7 L204.4,396.4 L205.2,423.7 L206.0,434.1 L206.8,435.7 L207.6,441.4 L208.4,437.1 L209.2,438.5 L210.0,437.8 L210.8,439.6 L211.6,438.5 L212.4,438.2 L213.2,440.5 L214.0,444.3 L214.8,442.7 L215.6,444.0 L216.4,444.6 L217.2,445.4 L218.0,448.2 L218.8,446.3 L219.6,446.3 L220.4,446.7 L221.2,444.6 L222.0,446.7 L222.8,445.8 L223.6,449.1 L224.4,448.7 L225.2,446.4 L226.0,441.9 L226.8,438.4 L227.6,427.5 L228.4,410.2 L229.2,407.4 L230.0,393.4 L230.8,396.5 L231.6,404.7 L232.4,396.8 L233.2,399.5 L234.0,402.5 L234.8,408.8 L235.6,406.9 L236.4,405.9 L237.2,406.3 L238.0,405.2 L238.8,412.0 L239.6,409.0 L240.4,413.4 L241.2,419.7 L242.0,416.9 L242.8,417.0 L243.6,414.0 L244.4,412.3 L245.2,411.0 L246.0,410.2 L246.8,416.4 L247.6,409.1 L248.4,412.5 L249.2,412.5 L250.0,404.5 L250.8,408.6 L251.6,428.9 L252.4,434.2 L253.2,438.4 L254.0,438.7 L254.8,438.1 L255.6,441.2 L256.4,441.2 L257.2,439.0 L258.0,437.6 L258.8,440.4 L259.6,439.8 L260.4,438.2 L261.2,437.8 L262.0,435.5 L262.8,438.8 L263.6,442.2 L264.4,440.2 L265.2,442.5 L266.0,445.5 L266.8,443.5 L267.6,443.7 L268.4,433.4 L269.2,440.7 L270.0,445.2 L270.8,440.4 L271.6,443.1 L272.4,427.9 L273.2,419.5 L274.0,407.3 L274.8,411.5 L275.6,404.2 L276.4,410.1 L277.2,408.5 L278.0,405.0 L278.8,402.3 L279.6,406.4 L280.4,406.9 L281.2,400.9 L282.0,406.8 L282.8,408.5 L283.6,409.6 L284.4,403.8 L285.2,397.5 L286.0,403.4 L286.8,400.3 L287.6,395.5 L288.4,395.4 L289.2,395.1 L290.0,400.3 L290.8,398.9 L291.6,397.2 L292.4,402.3 L293.2,398.4 L294.0,400.2 L294.8,402.6 L295.6,419.0 L296.4,426.3 L297.2,437.7 L298.0,435.9 L298.8,434.1 L299.6,434.3 L300.4,437.2 L301.2,433.6 L302.0,435.4 L302.8,433.3 L303.6,432.8 L304.4,433.9 L305.2,436.2 L306.0,435.2 L306.8,433.3 L307.6,436.1 L308.4,434.6 L309.2,434.1 L310.0,436.5 L310.8,434.9 L311.6,434.5 L312.4,434.1 L313.2,433.5 L314.0,433.5 L314.8,434.9 L315.6,431.5 L316.4,433.9 L317.2,436.6 L318.0,425.6 L318.8,408.1 L319.6,378.7 L320.4,371.5 L321.2,376.7 L322.0,383.4 L322.8,382.3 L323.6,389.0 L324.4,381.9 L325.2,383.0 L326.0,385.2 L326.8,397.3 L327.6,392.4 L328.4,399.2 L329.2,399.8 L330.0,406.9 L330.8,402.2 L331.6,410.8 L332.4,408.2 L333.2,400.8 L334.0,408.9 L334.8,401.0 L335.6,386.2 L336.4,402.0 L337.2,404.9 L338.0,407.9 L338.8,411.5 L339.6,412.8 L340.4,403.1 L341.2,421.1 L342.0,425.6 L342.8,435.7 L343.6,439.5 L344.4,440.0 L345.2,438.1 L346.0,439.2 L346.8,436.8 L347.6,439.3 L348.4,434.9 L349.2,434.1 L350.0,435.9 L350.8,438.5 L351.6,435.4 L352.4,438.0 L353.2,438.9 L354.0,436.2 L354.8,436.5 L355.6,439.0 L356.4,438.1 L357.2,435.9 L358.0,434.1 L358.8,436.9 L359.6,434.3 L360.4,433.5 L361.2,434.7 L362.0,438.5 L362.8,433.5 L363.6,430.8 L364.4,417.5 L365.2,407.9 L366.0,383.1 L366.8,377.6 L367.6,383.0 L368.4,377.4 L369.2,378.1 L370.0,375.5 L370.8,373.5 L371.6,386.1 L372.4,385.5 L373.2,378.4 L374.0,380.2 L374.8,390.5 L375.6,380.0 L376.4,386.3 L377.2,378.8 L378.0,388.1 L378.8,377.1 L379.6,370.8 L380.4,379.7 L381.2,372.6 L382.0,372.9 L382.8,357.4 L383.6,387.7 L384.4,390.9 L385.2,406.9 L386.0,416.8 L386.8,422.5 L387.6,432.2 L388.4,430.4 L389.2,431.9 L390.0,429.2 L390.8,433.8 L391.6,432.0 L392.4,436.3 L393.2,430.7 L394.0,437.3 L394.8,439.4 L395.6,432.9 L396.4,433.7 L397.2,439.2 L398.0,432.2 L398.8,435.8 L399.6,431.7 L400.4,438.3 L401.2,437.8 L402.0,438.3 L402.8,434.1 L403.6,435.9 L404.4,434.1 L405.2,430.4 L406.0,435.3 L406.8,435.1 L407.6,432.3 L408.4,431.4 L409.2,415.3 L410.0,405.0 L410.8,387.4 L411.6,372.5 L412.4,369.7 L413.2,370.5 L414.0,349.5 L414.8,382.2 L415.6,373.3 L416.4,385.8 L417.2,370.7 L418.0,365.6 L418.8,388.4 L419.6,390.5 L420.4,383.7 L421.2,383.4 L422.0,395.0 L422.8,388.0 L423.6,380.6 L424.4,389.2 L425.2,397.6 L426.0,396.6 L426.8,390.3 L427.6,403.0 L428.4,400.2 L429.2,400.0 L430.0,404.9 L430.8,394.2 L431.6,418.5 L432.4,429.4 L433.2,438.6 L434.0,435.4 L434.8,441.9 L435.6,443.9 L436.4,431.4 L437.2,441.9 L438.0,440.1 L438.8,440.3 L439.6,440.0 L440.4,445.9 L441.2,440.0 L442.0,440.8 L442.8,441.3 L443.6,447.0 L444.4,439.6 L445.2,438.9 L446.0,445.2 L446.8,429.3 L447.6,440.0 L448.4,442.9 L449.2,436.4 L450.0,434.1 L450.8,437.3 L451.6,433.6 L452.4,436.0 L453.2,426.6 L454.0,427.1 L454.8,419.5 L455.6,418.4 L456.4,417.5 L457.2,414.5 L458.0,413.6 L458.8,412.2 L459.6,415.1 L460.4,418.0 L461.2,416.6 L462.0,411.2 L462.8,413.9 L463.6,414.1 L464.4,411.2 L465.2,408.7 L466.0,401.8 L466.8,414.0 L467.6,410.5 L468.4,410.5 L469.2,413.9 L470.0,413.3 L470.8,418.3 L471.6,417.1 L472.4,419.9 L473.2,420.5 L474.0,423.5 L474.8,419.4 L475.6,427.9 L476.4,419.1 L477.2,433.7 L478.0,432.4 L478.8,435.2 L479.6,436.0 L480.4,440.8 L481.2,438.9 L482.0,442.1 L482.8,438.3 L483.6,440.3 L484.4,438.8 L485.2,444.2 L486.0,441.9 L486.8,444.8 L487.6,441.2 L488.4,439.8 L489.2,441.4 L490.0,440.3 L490.8,443.3 L491.6,441.2 L492.4,443.3 L493.2,442.1 L494.0,443.5 L494.8,441.5 L495.6,442.4 L496.4,442.8 L497.2,434.5 L498.0,444.1 L498.8,438.1 L499.6,423.3 L500.4,415.8 L501.2,417.0 L502.0,415.1 L502.8,413.8 L503.6,414.1 L504.4,395.3 L505.2,411.0 L506.0,410.6 L506.8,414.4 L507.6,409.1 L508.4,407.8 L509.2,408.9 L510.0,415.0 L510.8,407.7 L511.6,411.8 L512.4,416.9 L513.2,415.9 L514.0,407.6 L514.8,413.3 L515.6,416.5 L516.4,413.8 L517.2,413.0 L518.0,413.2 L518.8,415.5 L519.6,416.6 L520.4,424.4 L521.2,422.1 L522.0,422.3 L522.8,422.0 L523.6,428.5 L524.4,430.0 L525.2,431.8 L526.0,425.1 L526.8,428.3 L527.6,430.0 L528.4,421.8 L529.2,432.1 L530.0,426.9 L530.8,430.6 L531.6,430.1 L532.4,431.7 L533.2,431.3 L534.0,427.9 L534.8,426.3 L535.6,430.8 L536.4,423.5 L537.2,423.6 L538.0,429.3 L538.8,442.3 L539.6,431.7 L540.4,445.0 L541.2,433.8 L542.0,449.4 L542.8,450.0 L543.6,452.3 L544.4,447.6 L545.2,447.8 L546.0,449.7 L546.8,448.4 L547.6,454.1 L548.4,449.0 L549.2,450.7 L550.0,453.9 L550.8,450.0 L551.6,449.6 L552.4,449.9 L553.2,450.4 L554.0,451.2 L554.8,449.9 L555.6,450.9 L556.4,453.2 L557.2,445.3 L558.0,439.9 L558.8,437.0 L559.6,433.7 L560.4,433.5 L561.2,440.8 L562.0,445.9 L562.8,448.8 L563.6,450.3 L564.4,452.1 L565.2,451.3 L566.0,451.5 L566.8,452.3 L567.6,455.6 L568.4,447.7 L569.2,455.2 L570.0,455.0 L570.8,456.1 L571.6,452.4 L572.4,451.5 L573.2,452.0 L574.0,454.5 L574.8,457.9 L575.6,459.5 L576.4,459.6 L577.2,459.3 L577.2,466.6 L576.4,467.0 L575.6,466.6 L574.8,467.6 L574.0,467.1 L573.2,466.1 L572.4,463.9 L571.6,466.5 L570.8,465.8 L570.0,464.3 L569.2,466.0 L568.4,466.3 L567.6,463.1 L566.8,465.2 L566.0,465.9 L565.2,465.7 L564.4,464.5 L563.6,462.7 L562.8,464.6 L562.0,460.4 L561.2,455.0 L560.4,450.3 L559.6,449.3 L558.8,455.4 L558.0,453.6 L557.2,461.4 L556.4,462.8 L555.6,461.3 L554.8,464.9 L554.0,462.2 L553.2,462.2 L552.4,463.0 L551.6,463.3 L550.8,465.2 L550.0,464.9 L549.2,465.7 L548.4,463.7 L547.6,464.7 L546.8,464.3 L546.0,461.5 L545.2,464.2 L544.4,463.7 L543.6,462.8 L542.8,463.0 L542.0,462.2 L541.2,461.8 L540.4,456.2 L539.6,459.6 L538.8,454.5 L538.0,450.8 L537.2,442.1 L536.4,447.2 L535.6,444.5 L534.8,448.1 L534.0,444.9 L533.2,447.8 L532.4,446.8 L531.6,446.5 L530.8,445.5 L530.0,447.9 L529.2,447.7 L528.4,445.3 L527.6,445.4 L526.8,447.6 L526.0,446.5 L525.2,441.2 L524.4,442.5 L523.6,443.4 L522.8,444.1 L522.0,442.1 L521.2,440.6 L520.4,435.5 L519.6,438.1 L518.8,440.1 L518.0,432.0 L517.2,437.9 L516.4,436.2 L515.6,435.7 L514.8,435.7 L514.0,430.7 L513.2,429.7 L512.4,436.4 L511.6,433.7 L510.8,436.0 L510.0,434.0 L509.2,435.3 L508.4,434.5 L507.6,433.6 L506.8,431.9 L506.0,433.8 L505.2,433.1 L504.4,429.1 L503.6,431.0 L502.8,430.5 L502.0,433.1 L501.2,436.8 L500.4,444.9 L499.6,443.8 L498.8,453.3 L498.0,459.6 L497.2,459.1 L496.4,454.1 L495.6,456.9 L494.8,457.7 L494.0,457.4 L493.2,457.8 L492.4,455.7 L491.6,454.9 L490.8,455.5 L490.0,455.5 L489.2,456.6 L488.4,456.9 L487.6,454.9 L486.8,454.8 L486.0,456.3 L485.2,455.5 L484.4,454.1 L483.6,451.1 L482.8,452.7 L482.0,455.1 L481.2,450.1 L480.4,449.3 L479.6,452.1 L478.8,451.0 L478.0,446.5 L477.2,441.4 L476.4,439.3 L475.6,436.9 L474.8,438.4 L474.0,434.0 L473.2,434.9 L472.4,434.7 L471.6,435.8 L470.8,435.9 L470.0,435.9 L469.2,435.1 L468.4,435.9 L467.6,429.9 L466.8,433.3 L466.0,435.6 L465.2,430.5 L464.4,435.7 L463.6,436.3 L462.8,433.5 L462.0,430.1 L461.2,434.5 L460.4,430.3 L459.6,437.1 L458.8,435.6 L458.0,437.2 L457.2,433.5 L456.4,433.6 L455.6,440.1 L454.8,436.3 L454.0,445.0 L453.2,444.2 L452.4,448.7 L451.6,450.4 L450.8,452.2 L450.0,454.9 L449.2,456.1 L448.4,456.5 L447.6,457.2 L446.8,457.9 L446.0,458.7 L445.2,455.5 L444.4,458.9 L443.6,454.2 L442.8,460.2 L442.0,458.5 L441.2,455.2 L440.4,459.9 L439.6,457.9 L438.8,455.1 L438.0,457.9 L437.2,459.0 L436.4,458.5 L435.6,456.9 L434.8,456.9 L434.0,451.1 L433.2,454.5 L432.4,446.3 L431.6,445.6 L430.8,432.3 L430.0,433.8 L429.2,431.0 L428.4,423.2 L427.6,422.0 L426.8,426.3 L426.0,420.0 L425.2,424.4 L424.4,413.8 L423.6,421.0 L422.8,420.2 L422.0,413.7 L421.2,413.8 L420.4,416.8 L419.6,415.9 L418.8,411.7 L418.0,414.1 L417.2,412.1 L416.4,404.8 L415.6,403.6 L414.8,407.6 L414.0,411.7 L413.2,405.9 L412.4,405.3 L411.6,402.7 L410.8,422.7 L410.0,435.8 L409.2,445.7 L408.4,450.3 L407.6,446.8 L406.8,448.4 L406.0,451.5 L405.2,453.2 L404.4,450.4 L403.6,448.2 L402.8,449.9 L402.0,453.9 L401.2,450.3 L400.4,452.7 L399.6,450.6 L398.8,451.0 L398.0,455.7 L397.2,451.1 L396.4,452.0 L395.6,453.9 L394.8,450.1 L394.0,454.0 L393.2,448.1 L392.4,451.7 L391.6,449.4 L390.8,450.2 L390.0,448.0 L389.2,450.5 L388.4,451.9 L387.6,450.9 L386.8,445.4 L386.0,440.8 L385.2,429.3 L384.4,424.3 L383.6,410.5 L382.8,414.3 L382.0,406.8 L381.2,403.5 L380.4,412.1 L379.6,411.1 L378.8,412.4 L378.0,402.8 L377.2,412.3 L376.4,406.6 L375.6,415.4 L374.8,415.7 L374.0,412.6 L373.2,413.7 L372.4,406.5 L371.6,407.6 L370.8,413.1 L370.0,404.1 L369.2,410.5 L368.4,404.5 L367.6,405.8 L366.8,405.2 L366.0,420.6 L365.2,437.4 L364.4,440.9 L363.6,445.9 L362.8,449.6 L362.0,447.7 L361.2,449.8 L360.4,446.5 L359.6,448.3 L358.8,450.1 L358.0,448.8 L357.2,449.5 L356.4,450.5 L355.6,448.7 L354.8,445.8 L354.0,450.6 L353.2,450.5 L352.4,449.5 L351.6,448.6 L350.8,450.8 L350.0,449.1 L349.2,449.4 L348.4,450.8 L347.6,449.1 L346.8,448.1 L346.0,450.9 L345.2,447.3 L344.4,449.2 L343.6,447.9 L342.8,449.7 L342.0,448.6 L341.2,436.3 L340.4,431.3 L339.6,429.3 L338.8,436.1 L338.0,434.0 L337.2,433.3 L336.4,435.0 L335.6,435.4 L334.8,433.7 L334.0,433.9 L333.2,431.7 L332.4,427.9 L331.6,433.9 L330.8,431.4 L330.0,427.8 L329.2,434.8 L328.4,433.9 L327.6,426.0 L326.8,430.7 L326.0,428.9 L325.2,429.5 L324.4,415.3 L323.6,423.8 L322.8,412.1 L322.0,411.3 L321.2,408.6 L320.4,411.9 L319.6,414.1 L318.8,436.8 L318.0,443.1 L317.2,448.1 L316.4,447.1 L315.6,447.1 L314.8,445.3 L314.0,448.4 L313.2,446.9 L312.4,444.4 L311.6,444.4 L310.8,447.6 L310.0,447.8 L309.2,448.1 L308.4,448.0 L307.6,446.7 L306.8,450.1 L306.0,450.1 L305.2,448.9 L304.4,445.3 L303.6,445.7 L302.8,445.8 L302.0,451.0 L301.2,450.9 L300.4,447.5 L299.6,451.5 L298.8,450.5 L298.0,448.7 L297.2,449.1 L296.4,446.9 L295.6,433.3 L294.8,418.5 L294.0,413.8 L293.2,412.6 L292.4,416.8 L291.6,410.7 L290.8,414.9 L290.0,412.9 L289.2,413.7 L288.4,413.5 L287.6,411.4 L286.8,418.9 L286.0,418.0 L285.2,417.9 L284.4,424.5 L283.6,424.6 L282.8,422.6 L282.0,421.2 L281.2,422.8 L280.4,420.3 L279.6,422.5 L278.8,424.9 L278.0,422.5 L277.2,426.2 L276.4,424.0 L275.6,427.7 L274.8,427.8 L274.0,428.5 L273.2,436.2 L272.4,447.6 L271.6,453.0 L270.8,455.7 L270.0,454.8 L269.2,455.7 L268.4,453.4 L267.6,453.7 L266.8,452.0 L266.0,454.1 L265.2,452.5 L264.4,454.3 L263.6,453.5 L262.8,451.0 L262.0,449.7 L261.2,450.7 L260.4,449.4 L259.6,452.1 L258.8,450.2 L258.0,453.3 L257.2,453.0 L256.4,452.3 L255.6,454.1 L254.8,450.2 L254.0,453.8 L253.2,450.7 L252.4,451.2 L251.6,445.9 L250.8,439.5 L250.0,429.6 L249.2,428.4 L248.4,433.1 L247.6,434.5 L246.8,430.2 L246.0,436.9 L245.2,430.9 L244.4,435.6 L243.6,437.5 L242.8,442.7 L242.0,440.3 L241.2,436.9 L240.4,436.8 L239.6,436.4 L238.8,427.1 L238.0,427.3 L237.2,431.3 L236.4,428.3 L235.6,427.2 L234.8,423.4 L234.0,420.1 L233.2,419.7 L232.4,423.1 L231.6,425.5 L230.8,418.8 L230.0,427.3 L229.2,429.8 L228.4,434.3 L227.6,444.8 L226.8,456.5 L226.0,455.6 L225.2,456.2 L224.4,460.7 L223.6,456.3 L222.8,456.8 L222.0,461.8 L221.2,458.8 L220.4,462.4 L219.6,462.5 L218.8,462.5 L218.0,460.7 L217.2,461.5 L216.4,461.9 L215.6,458.5 L214.8,459.8 L214.0,458.7 L213.2,456.2 L212.4,451.6 L211.6,450.5 L210.8,452.2 L210.0,452.7 L209.2,449.3 L208.4,449.5 L207.6,450.4 L206.8,447.8 L206.0,441.9 L205.2,438.4 L204.4,417.8 L203.6,411.9 L202.8,410.5 L202.0,412.2 L201.2,412.8 L200.4,416.8 L199.6,416.9 L198.8,425.6 L198.0,426.4 L197.2,422.8 L196.4,426.6 L195.6,429.2 L194.8,426.0 L194.0,425.5 L193.2,427.5 L192.4,422.3 L191.6,425.6 L190.8,424.2 L190.0,418.9 L189.2,419.8 L188.4,414.5 L187.6,408.9 L186.8,412.2 L186.0,405.0 L185.2,411.2 L184.4,423.6 L183.6,428.9 L182.8,437.9 L182.0,450.0 L181.2,449.2 L180.4,446.0 L179.6,449.9 L178.8,449.3 L178.0,446.3 L177.2,446.3 L176.4,447.9 L175.6,448.9 L174.8,450.4 L174.0,445.1 L173.2,449.5 L172.4,449.9 L171.6,446.6 L170.8,449.5 L170.0,446.3 L169.2,450.1 L168.4,449.1 L167.6,445.6 L166.8,450.7 L166.0,448.6 L165.2,451.9 L164.4,448.5 L163.6,446.7 L162.8,447.4 L162.0,447.4 L161.2,449.0 L160.4,453.4 L159.6,453.2 L158.8,451.9 L158.0,449.3 L157.2,453.9 L156.4,448.2 L155.6,454.3 L154.8,452.4 L154.0,453.7 L153.2,452.9 L152.4,446.0 L151.6,446.8 L150.8,452.3 L150.0,450.3 L149.2,447.6 L148.4,450.2 L147.6,449.1 L146.8,448.8 L146.0,442.4 L145.2,441.4 L144.4,435.3 L143.6,432.1 L142.8,427.7 L142.0,422.1 L141.2,417.2 L140.4,419.4 L139.6,415.2 L138.8,421.3 L138.0,438.8 L137.2,449.6 L136.4,455.6 L135.6,458.1 L134.8,455.1 L134.0,457.4 L133.2,457.3 L132.4,457.5 L131.6,459.9 L130.8,457.2 L130.0,459.6 L129.2,459.6 L128.4,461.1 L127.6,457.8 L126.8,461.1 L126.0,458.9 L125.2,461.9 L124.4,462.2 L123.6,461.1 L122.8,460.3 L122.0,462.3 L121.2,461.1 L120.4,460.8 L119.6,456.6 L118.8,455.6 L118.0,456.6 L117.2,452.0 L116.4,443.0 L115.6,437.9 L114.8,424.4 L114.0,426.4 L113.2,425.3 L112.4,426.3 L111.6,425.3 L110.8,422.1 L110.0,426.2 L109.2,423.2 L108.4,429.1 L107.6,428.0 L106.8,424.0 L106.0,436.3 L105.2,438.4 L104.4,444.6 L103.6,451.5 L102.8,450.7 L102.0,451.0 L101.2,444.6 L100.4,443.8 L99.6,448.2 L98.8,448.5 L98.0,442.8 L97.2,447.3 L96.4,447.5 L95.6,443.1 L94.8,450.0 L94.0,448.2 L93.2,452.1 L92.4,458.1 L91.6,458.4 L90.8,461.5 L90.0,464.0 L89.2,466.6 L88.4,467.3 L87.6,467.6 L86.8,467.8 L86.0,467.2 L85.2,468.2 L84.4,467.2 L83.6,466.8 L82.8,468.5 L82.0,467.6 L81.2,468.0 L80.4,467.2 L79.6,468.5 L78.8,467.4 L78.0,468.3 L77.2,468.0 L76.4,467.4 L75.6,466.6 L74.8,466.6 L74.0,467.5 L73.2,467.3Z" fill="#000"/>
<path d="M72.5,466.3h1.4v1.4h-1.4zM72.7,457.9h1.4v1.4h-1.4zM72.8,465.8h1.4v1.4h-1.4zM73.0,465.0h1.4v1.4h-1.4zM73.1,458.2h1.4v1.4h-1.4zM73.3,466.1h1.4v1.4h-1.4zM73.5,463.6h1.4v1.4h-1.4zM73.6,460.0h1.4v1.4h-1.4zM73.8,466.2h1.4v1.4h-1.4zM73.9,468.3h1.4v1.4h-1.4zM74.1,460.9h1.4v1.4h-1.4zM74.3,457.7h1.4v1.4h-1.4zM74.4,463.3h1.4v1.4h-1.4zM74.6,461.4h1.4v1.4h-1.4zM74.7,463.0h1.4v1.4h-1.4zM74.9,467.9h1.4v1.4h-1.4zM75.1,461.5h1.4v1.4h-1.4zM75.2,458.0h1.4v1.4h-1.4zM75.4,462.9h1.4v1.4h-1.4zM75.5,453.8h1.4v1.4h-1.4zM75.7,465.3h1.4v1.4h-1.4zM75.9,464.5h1.4v1.4h-1.4zM76.0,465.8h1.4v1.4h-1.4zM76.2,466.3h1.4v1.4h-1.4zM76.3,462.2h1.4v1.4h-1.4zM76.5,465.6h1.4v1.4h-1.4zM76.7,464.0h1.4v1.4h-1.4zM76.8,467.9h1.4v1.4h-1.4zM77.0,459.2h1.4v1.4h-1.4zM77.1,463.2h1.4v1.4h-1.4zM77.3,461.4h1.4v1.4h-1.4zM77.5,461.8h1.4v1.4h-1.4zM77.6,462.6h1.4v1.4h-1.4zM77.8,464.2h1.4v1.4h-1.4zM77.9,461.5h1.4v1.4h-1.4zM78.1,465.6h1.4v1.4h-1.4zM78.3,466.3h1.4v1.4h-1.4zM78.4,465.8h1.4v1.4h-1.4zM78.6,462.6h1.4v1.4h-1.4zM78.7,467.1h1.4v1.4h-1.4zM78.9,464.5h1.4v1.4h-1.4zM79.1,466.7h1.4v1.4h-1.4zM79.2,467.9h1.4v1.4h-1.4zM79.4,448.6h1.4v1.4h-1.4zM79.5,462.8h1.4v1.4h-1.4zM79.7,456.2h1.4v1.4h-1.4zM79.9,464.6h1.4v1.4h-1.4zM80.0,466.8h1.4v1.4h-1.4zM80.2,468.2h1.4v1.4h-1.4zM80.3,460.3h1.4v1.4h-1.4zM80.5,468.5h1.4v1.4h-1.4zM80.7,466.4h1.4v1.4h-1.4zM80.8,467.2h1.4v1.4h-1.4zM81.0,462.6h1.4v1.4h-1.4zM81.1,460.8h1.4v1.4h-1.4zM81.3,462.0h1.4v1.4h-1.4zM81.5,468.4h1.4v1.4h-1.4zM81.6,462.4h1.4v1.4h-1.4zM81.8,460.8h1.4v1.4h-1.4zM81.9,462.0h1.4v1.4h-1.4zM82.1,465.3h1.4v1.4h-1.4zM82.3,465.2h1.4v1.4h-1.4zM82.4,459.9h1.4v1.4h-1.4zM82.6,467.6h1.4v1.4h-1.4zM82.7,463.3h1.4v1.4h-1.4zM82.9,460.0h1.4v1.4h-1.4zM83.1,468.5h1.4v1.4h-1.4zM83.2,464.1h1.4v1.4h-1.4zM83.4,465.5h1.4v1.4h-1.4zM83.5,467.1h1.4v1.4h-1.4zM83.7,466.4h1.4v1.4h-1.4zM83.9,460.5h1.4v1.4h-1.4zM84.0,467.3h1.4v1.4h-1.4zM84.2,466.1h1.4v1.4h-1.4zM84.3,467.5h1.4v1.4h-1.4zM84.5,459.2h1.4v1.4h-1.4zM84.7,465.4h1.4v1.4h-1.4zM84.8,463.6h1.4v1.4h-1.4zM85.0,464.9h1.4v1.4h-1.4zM85.1,462.4h1.4v1.4h-1.4zM85.3,458.7h1.4v1.4h-1.4zM85.5,459.5h1.4v1.4h-1.4zM85.6,463.1h1.4v1.4h-1.4zM85.8,465.8h1.4v1.4h-1.4zM85.9,464.8h1.4v1.4h-1.4zM86.1,459.9h1.4v1.4h-1.4zM86.3,459.0h1.4v1.4h-1.4zM86.4,457.4h1.4v1.4h-1.4zM86.6,461.0h1.4v1.4h-1.4zM86.7,462.0h1.4v1.4h-1.4zM86.9,464.8h1.4v1.4h-1.4zM87.1,459.8h1.4v1.4h-1.4zM87.2,462.1h1.4v1.4h-1.4zM87.4,464.3h1.4v1.4h-1.4zM87.5,459.0h1.4v1.4h-1.4zM87.7,465.4h1.4v1.4h-1.4zM87.9,463.4h1.4v1.4h-1.4zM88.0,461.8h1.4v1.4h-1.4zM88.2,462.4h1.4v1.4h-1.4zM88.3,462.7h1.4v1.4h-1.4zM88.5,463.7h1.4v1.4h-1.4zM88.7,465.2h1.4v1.4h-1.4zM88.8,457.7h1.4v1.4h-1.4zM89.0,457.1h1.4v1.4h-1.4zM89.1,464.4h1.4v1.4h-1.4zM89.3,462.5h1.4v1.4h-1.4zM89.5,458.9h1.4v1.4h-1.4zM89.6,458.0h1.4v1.4h-1.4zM89.8,458.0h1.4v1.4h-1.4zM89.9,462.2h1.4v1.4h-1.4zM90.1,461.8h1.4v1.4h-1.4zM90.3,451.7h1.4v1.4h-1.4zM90.4,452.9h1.4v1.4h-1.4zM90.6,459.8h1.4v1.4h-1.4zM90.7,430.2h1.4v1.4h-1.4zM90.9,449.9h1.4v1.4h-1.4zM91.1,457.5h1.4v1.4h-1.4zM91.2,460.6h1.4v1.4h-1.4zM91.4,449.0h1.4v1.4h-1.4zM91.5,455.1h1.4v1.4h-1.4zM91.7,457.2h1.4v1.4h-1.4zM91.9,454.3h1.4v1.4h-1.4zM92.0,447.7h1.4v1.4h-1.4zM92.2,444.3h1.4v1.4h-1.4zM92.3,442.4h1.4v1.4h-1.4zM92.5,439.4h1.4v1.4h-1.4zM92.7,434.3h1.4v1.4h-1.4zM92.8,438.2h1.4v1.4h-1.4zM93.0,435.8h1.4v1.4h-1.4zM93.1,432.4h1.4v1.4h-1.4zM93.3,441.2h1.4v1.4h-1.4zM93.5,426.6h1.4v1.4h-1.4zM93.6,448.7h1.4v1.4h-1.4zM93.8,447.3h1.4v1.4h-1.4zM93.9,430.1h1.4v1.4h-1.4zM94.1,427.2h1.4v1.4h-1.4zM94.3,443.4h1.4v1.4h-1.4zM94.4,438.7h1.4v1.4h-1.4zM94.6,424.1h1.4v1.4h-1.4zM94.7,446.7h1.4v1.4h-1.4zM94.9,424.7h1.4v1.4h-1.4zM95.1,436.0h1.4v1.4h-1.4zM95.2,432.8h1.4v1.4h-1.4zM95.4,445.7h1.4v1.4h-1.4zM95.5,421.1h1.4v1.4h-1.4zM95.7,424.3h1.4v1.4h-1.4zM95.9,450.7h1.4v1.4h-1.4zM96.0,437.1h1.4v1.4h-1.4zM96.2,425.1h1.4v1.4h-1.4zM96.3,423.6h1.4v1.4h-1.4zM96.5,425.0h1.4v1.4h-1.4zM96.7,439.5h1.4v1.4h-1.4zM96.8,444.9h1.4v1.4h-1.4zM97.0,420.9h1.4v1.4h-1.4zM97.1,446.7h1.4v1.4h-1.4zM97.3,443.4h1.4v1.4h-1.4zM97.5,421.9h1.4v1.4h-1.4zM97.6,447.3h1.4v1.4h-1.4zM97.8,440.0h1.4v1.4h-1.4zM97.9,435.0h1.4v1.4h-1.4zM98.1,440.1h1.4v1.4h-1.4zM98.3,434.9h1.4v1.4h-1.4zM98.4,447.5h1.4v1.4h-1.4zM98.6,425.7h1.4v1.4h-1.4zM98.7,444.6h1.4v1.4h-1.4zM98.9,441.7h1.4v1.4h-1.4zM99.1,436.8h1.4v1.4h-1.4zM99.2,435.5h1.4v1.4h-1.4zM99.4,427.1h1.4v1.4h-1.4zM99.5,422.8h1.4v1.4h-1.4zM99.7,431.7h1.4v1.4h-1.4zM99.9,426.3h1.4v1.4h-1.4zM100.0,441.0h1.4v1.4h-1.4zM100.2,431.8h1.4v1.4h-1.4zM100.3,423.9h1.4v1.4h-1.4zM100.5,450.1h1.4v1.4h-1.4zM100.7,433.7h1.4v1.4h-1.4zM100.8,436.1h1.4v1.4h-1.4zM101.0,438.1h1.4v1.4h-1.4zM101.1,448.8h1.4v1.4h-1.4zM101.3,443.4h1.4v1.4h-1.4zM101.5,419.7h1.4v1.4h-1.4zM101.6,445.5h1.4v1.4h-1.4zM101.8,443.4h1.4v1.4h-1.4zM101.9,450.8h1.4v1.4h-1.4zM102.1,428.3h1.4v1.4h-1.4zM102.3,442.0h1.4v1.4h-1.4zM102.4,445.1h1.4v1.4h-1.4zM102.6,450.2h1.4v1.4h-1.4zM102.7,445.4h1.4v1.4h-1.4zM102.9,440.6h1.4v1.4h-1.4zM103.1,453.4h1.4v1.4h-1.4zM103.2,448.9h1.4v1.4h-1.4zM103.4,437.3h1.4v1.4h-1.4zM103.5,419.5h1.4v1.4h-1.4zM103.7,438.7h1.4v1.4h-1.4zM103.9,419.5h1.4v1.4h-1.4zM104.0,435.4h1.4v1.4h-1.4zM104.2,422.0h1.4v1.4h-1.4zM104.3,441.1h1.4v1.4h-1.4zM104.5,427.1h1.4v1.4h-1.4zM104.7,433.3h1.4v1.4h-1.4zM104.8,427.1h1.4v1.4h-1.4zM105.0,414.3h1.4v1.4h-1.4zM105.1,433.7h1.4v1.4h-1.4zM105.3,415.0h1.4v1.4h-1.4zM105.5,433.3h1.4v1.4h-1.4zM105.6,410.2h1.4v1.4h-1.4zM105.8,427.9h1.4v1.4h-1.4zM105.9,412.2h1.4v1.4h-1.4zM106.1,410.5h1.4v1.4h-1.4zM106.3,422.6h1.4v1.4h-1.4zM106.4,415.9h1.4v1.4h-1.4zM106.6,415.2h1.4v1.4h-1.4zM106.7,427.9h1.4v1.4h-1.4zM106.9,428.1h1.4v1.4h-1.4zM107.1,422.0h1.4v1.4h-1.4zM107.2,416.4h1.4v1.4h-1.4zM107.4,419.1h1.4v1.4h-1.4zM107.5,409.4h1.4v1.4h-1.4zM107.7,408.0h1.4v1.4h-1.4zM107.9,415.7h1.4v1.4h-1.4zM108.0,421.6h1.4v1.4h-1.4zM108.2,425.1h1.4v1.4h-1.4zM108.3,412.2h1.4v1.4h-1.4zM108.5,411.1h1.4v1.4h-1.4zM108.7,416.8h1.4v1.4h-1.4zM108.8,416.3h1.4v1.4h-1.4zM109.0,415.2h1.4v1.4h-1.4zM109.1,412.2h1.4v1.4h-1.4zM109.3,412.7h1.4v1.4h-1.4zM109.5,411.2h1.4v1.4h-1.4zM109.6,411.2h1.4v1.4h-1.4zM109.8,397.1h1.4v1.4h-1.4zM109.9,416.3h1.4v1.4h-1.4zM110.1,428.5h1.4v1.4h-1.4zM110.3,427.3h1.4v1.4h-1.4zM110.4,413.5h1.4v1.4h-1.4zM110.6,419.9h1.4v1.4h-1.4zM110.7,401.0h1.4v1.4h-1.4zM110.9,425.9h1.4v1.4h-1.4zM111.1,425.0h1.4v1.4h-1.4zM111.2,417.2h1.4v1.4h-1.4zM111.4,424.1h1.4v1.4h-1.4zM111.5,428.8h1.4v1.4h-1.4zM111.7,412.4h1.4v1.4h-1.4zM111.9,429.0h1.4v1.4h-1.4zM112.0,427.7h1.4v1.4h-1.4zM112.2,423.2h1.4v1.4h-1.4zM112.3,397.1h1.4v1.4h-1.4zM112.5,421.2h1.4v1.4h-1.4zM112.7,405.0h1.4v1.4h-1.4zM112.8,406.7h1.4v1.4h-1.4zM113.0,413.1h1.4v1.4h-1.4zM113.1,415.1h1.4v1.4h-1.4zM113.3,410.5h1.4v1.4h-1.4zM113.5,417.0h1.4v1.4h-1.4zM113.6,409.4h1.4v1.4h-1.4zM113.8,430.1h1.4v1.4h-1.4zM113.9,423.7h1.4v1.4h-1.4zM114.1,424.4h1.4v1.4h-1.4zM114.3,414.0h1.4v1.4h-1.4zM114.4,426.0h1.4v1.4h-1.4zM114.6,402.7h1.4v1.4h-1.4zM114.7,433.1h1.4v1.4h-1.4zM114.9,416.2h1.4v1.4h-1.4zM115.1,419.2h1.4v1.4h-1.4zM115.2,417.7h1.4v1.4h-1.4zM115.4,437.8h1.4v1.4h-1.4zM115.5,428.5h1.4v1.4h-1.4zM115.7,434.4h1.4v1.4h-1.4zM115.9,440.1h1.4v1.4h-1.4zM116.0,432.8h1.4v1.4h-1.4zM116.2,434.0h1.4v1.4h-1.4zM116.3,437.1h1.4v1.4h-1.4zM116.5,432.6h1.4v1.4h-1.4zM116.7,424.1h1.4v1.4h-1.4zM116.8,451.9h1.4v1.4h-1.4zM117.0,436.8h1.4v1.4h-1.4zM117.1,436.0h1.4v1.4h-1.4zM117.3,444.9h1.4v1.4h-1.4zM117.5,454.5h1.4v1.4h-1.4zM117.6,456.5h1.4v1.4h-1.4zM117.8,445.1h1.4v1.4h-1.4zM117.9,445.9h1.4v1.4h-1.4zM118.1,442.8h1.4v1.4h-1.4zM118.3,447.6h1.4v1.4h-1.4zM118.4,458.4h1.4v1.4h-1.4zM118.6,455.9h1.4v1.4h-1.4zM118.7,457.8h1.4v1.4h-1.4zM118.9,445.9h1.4v1.4h-1.4zM119.1,447.7h1.4v1.4h-1.4zM119.2,453.2h1.4v1.4h-1.4zM119.4,454.2h1.4v1.4h-1.4zM119.5,451.0h1.4v1.4h-1.4zM119.7,450.6h1.4v1.4h-1.4zM119.9,459.0h1.4v1.4h-1.4zM120.0,454.2h1.4v1.4h-1.4zM120.2,447.3h1.4v1.4h-1.4zM120.3,437.8h1.4v1.4h-1.4zM120.5,457.7h1.4v1.4h-1.4zM120.7,458.0h1.4v1.4h-1.4zM120.8,461.0h1.4v1.4h-1.4zM121.0,456.6h1.4v1.4h-1.4zM121.1,457.4h1.4v1.4h-1.4zM121.3,453.6h1.4v1.4h-1.4zM121.5,455.4h1.4v1.4h-1.4zM121.6,453.6h1.4v1.4h-1.4zM121.8,439.9h1.4v1.4h-1.4zM121.9,457.1h1.4v1.4h-1.4zM122.1,456.8h1.4v1.4h-1.4zM122.3,444.5h1.4v1.4h-1.4zM122.4,456.8h1.4v1.4h-1.4zM122.6,449.6h1.4v1.4h-1.4zM122.7,454.3h1.4v1.4h-1.4zM122.9,462.3h1.4v1.4h-1.4zM123.1,454.2h1.4v1.4h-1.4zM123.2,458.7h1.4v1.4h-1.4zM123.4,460.2h1.4v1.4h-1.4zM123.5,448.7h1.4v1.4h-1.4zM123.7,453.0h1.4v1.4h-1.4zM123.9,453.6h1.4v1.4h-1.4zM124.0,457.6h1.4v1.4h-1.4zM124.2,447.8h1.4v1.4h-1.4zM124.3,450.9h1.4v1.4h-1.4zM124.5,454.1h1.4v1.4h-1.4zM124.7,441.6h1.4v1.4h-1.4zM124.8,452.2h1.4v1.4h-1.4zM125.0,452.5h1.4v1.4h-1.4zM125.1,454.7h1.4v1.4h-1.4zM125.3,452.9h1.4v1.4h-1.4zM125.5,453.4h1.4v1.4h-1.4zM125.6,458.3h1.4v1.4h-1.4zM125.8,457.7h1.4v1.4h-1.4zM125.9,445.4h1.4v1.4h-1.4zM126.1,452.0h1.4v1.4h-1.4zM126.3,454.9h1.4v1.4h-1.4zM126.4,459.0h1.4v1.4h-1.4zM126.6,461.9h1.4v1.4h-1.4zM126.7,450.5h1.4v1.4h-1.4zM126.9,458.5h1.4v1.4h-1.4zM127.1,447.7h1.4v1.4h-1.4zM127.2,452.5h1.4v1.4h-1.4zM127.4,445.5h1.4v1.4h-1.4zM127.5,455.6h1.4v1.4h-1.4zM127.7,445.8h1.4v1.4h-1.4zM127.9,447.0h1.4v1.4h-1.4zM128.0,459.0h1.4v1.4h-1.4zM128.2,450.0h1.4v1.4h-1.4zM128.3,454.4h1.4v1.4h-1.4zM128.5,455.0h1.4v1.4h-1.4zM128.7,429.0h1.4v1.4h-1.4zM128.8,453.9h1.4v1.4h-1.4zM129.0,450.2h1.4v1.4h-1.4zM129.1,451.1h1.4v1.4h-1.4zM129.3,453.1h1.4v1.4h-1.4zM129.5,455.0h1.4v1.4h-1.4zM129.6,454.8h1.4v1.4h-1.4zM129.8,457.1h1.4v1.4h-1.4zM129.9,458.9h1.4v1.4h-1.4zM130.1,450.2h1.4v1.4h-1.4zM130.3,455.3h1.4v1.4h-1.4zM130.4,448.5h1.4v1.4h-1.4zM130.6,451.1h1.4v1.4h-1.4zM130.7,445.6h1.4v1.4h-1.4zM130.9,453.7h1.4v1.4h-1.4zM131.1,451.1h1.4v1.4h-1.4zM131.2,458.6h1.4v1.4h-1.4zM131.4,454.3h1.4v1.4h-1.4zM131.5,455.2h1.4v1.4h-1.4zM131.7,450.4h1.4v1.4h-1.4zM131.9,444.7h1.4v1.4h-1.4zM132.0,446.6h1.4v1.4h-1.4zM132.2,445.9h1.4v1.4h-1.4zM132.3,453.8h1.4v1.4h-1.4zM132.5,454.3h1.4v1.4h-1.4zM132.7,448.5h1.4v1.4h-1.4zM132.8,451.5h1.4v1.4h-1.4zM133.0,446.5h1.4v1.4h-1.4zM133.1,458.0h1.4v1.4h-1.4zM133.3,452.1h1.4v1.4h-1.4zM133.5,447.1h1.4v1.4h-1.4zM133.6,451.9h1.4v1.4h-1.4zM133.8,443.5h1.4v1.4h-1.4zM133.9,451.5h1.4v1.4h-1.4zM134.1,447.0h1.4v1.4h-1.4zM134.3,448.0h1.4v1.4h-1.4zM134.4,457.2h1.4v1.4h-1.4zM134.6,450.4h1.4v1.4h-1.4zM134.7,447.4h1.4v1.4h-1.4zM134.9,454.6h1.4v1.4h-1.4zM135.1,446.6h1.4v1.4h-1.4zM135.2,456.2h1.4v1.4h-1.4zM135.4,449.8h1.4v1.4h-1.4zM135.5,448.2h1.4v1.4h-1.4zM135.7,450.8h1.4v1.4h-1.4zM135.9,447.9h1.4v1.4h-1.4zM136.0,449.3h1.4v1.4h-1.4zM136.2,415.1h1.4v1.4h-1.4zM136.3,433.7h1.4v1.4h-1.4zM136.5,451.2h1.4v1.4h-1.4zM136.7,417.9h1.4v1.4h-1.4zM136.8,438.6h1.4v1.4h-1.4zM137.0,418.8h1.4v1.4h-1.4zM137.1,426.1h1.4v1.4h-1.4zM137.3,437.5h1.4v1.4h-1.4zM137.5,409.9h1.4v1.4h-1.4zM137.6,401.3h1.4v1.4h-1.4zM137.8,401.5h1.4v1.4h-1.4zM137.9,411.4h1.4v1.4h-1.4zM138.1,410.4h1.4v1.4h-1.4zM138.3,404.7h1.4v1.4h-1.4zM138.4,399.0h1.4v1.4h-1.4zM138.6,396.4h1.4v1.4h-1.4zM138.7,416.7h1.4v1.4h-1.4zM138.9,405.7h1.4v1.4h-1.4zM139.1,405.2h1.4v1.4h-1.4zM139.2,412.3h1.4v1.4h-1.4zM139.4,412.1h1.4v1.4h-1.4zM139.5,400.2h1.4v1.4h-1.4zM139.7,408.7h1.4v1.4h-1.4zM139.9,421.0h1.4v1.4h-1.4zM140.0,398.9h1.4v1.4h-1.4zM140.2,409.8h1.4v1.4h-1.4zM140.3,419.4h1.4v1.4h-1.4zM140.5,392.9h1.4v1.4h-1.4zM140.7,398.5h1.4v1.4h-1.4zM140.8,401.9h1.4v1.4h-1.4zM141.0,405.8h1.4v1.4h-1.4zM141.1,415.9h1.4v1.4h-1.4zM141.3,403.4h1.4v1.4h-1.4zM141.5,402.2h1.4v1.4h-1.4zM141.6,423.1h1.4v1.4h-1.4zM141.8,407.1h1.4v1.4h-1.4zM141.9,428.3h1.4v1.4h-1.4zM142.1,411.8h1.4v1.4h-1.4zM142.3,406.5h1.4v1.4h-1.4zM142.4,425.7h1.4v1.4h-1.4zM142.6,413.3h1.4v1.4h-1.4zM142.7,410.6h1.4v1.4h-1.4zM142.9,426.5h1.4v1.4h-1.4zM143.1,425.8h1.4v1.4h-1.4zM143.2,431.1h1.4v1.4h-1.4zM143.4,409.6h1.4v1.4h-1.4zM143.5,418.3h1.4v1.4h-1.4zM143.7,406.2h1.4v1.4h-1.4zM143.9,431.0h1.4v1.4h-1.4zM144.0,436.0h1.4v1.4h-1.4zM144.2,440.3h1.4v1.4h-1.4zM144.3,427.0h1.4v1.4h-1.4zM144.5,429.5h1.4v1.4h-1.4zM144.7,427.5h1.4v1.4h-1.4zM144.8,426.8h1.4v1.4h-1.4zM145.0,385.1h1.4v1.4h-1.4zM145.1,441.5h1.4v1.4h-1.4zM145.3,431.2h1.4v1.4h-1.4zM145.5,427.2h1.4v1.4h-1.4zM145.6,437.4h1.4v1.4h-1.4zM145.8,421.0h1.4v1.4h-1.4zM145.9,436.3h1.4v1.4h-1.4zM146.1,445.6h1.4v1.4h-1.4zM146.3,428.4h1.4v1.4h-1.4zM146.4,425.1h1.4v1.4h-1.4zM146.6,435.3h1.4v1.4h-1.4zM146.7,418.4h1.4v1.4h-1.4zM146.9,453.7h1.4v1.4h-1.4zM147.1,448.4h1.4v1.4h-1.4zM147.2,439.2h1.4v1.4h-1.4zM147.4,432.4h1.4v1.4h-1.4zM147.5,431.4h1.4v1.4h-1.4zM147.7,448.5h1.4v1.4h-1.4zM147.9,448.0h1.4v1.4h-1.4zM148.0,431.7h1.4v1.4h-1.4zM148.2,439.5h1.4v1.4h-1.4zM148.3,438.4h1.4v1.4h-1.4zM148.5,435.3h1.4v1.4h-1.4zM148.7,437.0h1.4v1.4h-1.4zM148.8,442.0h1.4v1.4h-1.4zM149.0,447.2h1.4v1.4h-1.4zM149.1,428.5h1.4v1.4h-1.4zM149.3,431.0h1.4v1.4h-1.4zM149.5,425.6h1.4v1.4h-1.4zM149.6,430.2h1.4v1.4h-1.4zM149.8,439.6h1.4v1.4h-1.4zM149.9,449.0h1.4v1.4h-1.4zM150.1,448.0h1.4v1.4h-1.4zM150.3,439.6h1.4v1.4h-1.4zM150.4,447.3h1.4v1.4h-1.4zM150.6,447.2h1.4v1.4h-1.4zM150.7,446.4h1.4v1.4h-1.4zM150.9,427.8h1.4v1.4h-1.4zM151.1,430.8h1.4v1.4h-1.4zM151.2,429.6h1.4v1.4h-1.4zM151.4,433.4h1.4v1.4h-1.4zM151.5,435.9h1.4v1.4h-1.4zM151.7,434.5h1.4v1.4h-1.4zM151.9,446.2h1.4v1.4h-1.4zM152.0,443.2h1.4v1.4h-1.4zM152.2,445.7h1.4v1.4h-1.4zM152.3,425.8h1.4v1.4h-1.4zM152.5,438.7h1.4v1.4h-1.4zM152.7,436.0h1.4v1.4h-1.4zM152.8,447.1h1.4v1.4h-1.4zM153.0,429.8h1.4v1.4h-1.4zM153.1,438.5h1.4v1.4h-1.4zM153.3,434.0h1.4v1.4h-1.4zM153.5,434.2h1.4v1.4h-1.4zM153.6,431.7h1.4v1.4h-1.4zM153.8,431.3h1.4v1.4h-1.4zM153.9,443.8h1.4v1.4h-1.4zM154.1,447.6h1.4v1.4h-1.4zM154.3,437.7h1.4v1.4h-1.4zM154.4,445.5h1.4v1.4h-1.4zM154.6,448.9h1.4v1.4h-1.4zM154.7,445.9h1.4v1.4h-1.4zM154.9,411.1h1.4v1.4h-1.4zM155.1,442.7h1.4v1.4h-1.4zM155.2,435.9h1.4v1.4h-1.4zM155.4,429.2h1.4v1.4h-1.4zM155.5,439.4h1.4v1.4h-1.4zM155.7,439.7h1.4v1.4h-1.4zM155.9,431.1h1.4v1.4h-1.4zM156.0,446.1h1.4v1.4h-1.4zM156.2,432.3h1.4v1.4h-1.4zM156.3,437.2h1.4v1.4h-1.4zM156.5,435.3h1.4v1.4h-1.4zM156.7,454.5h1.4v1.4h-1.4zM156.8,431.3h1.4v1.4h-1.4zM157.0,426.5h1.4v1.4h-1.4zM157.1,444.0h1.4v1.4h-1.4zM157.3,430.3h1.4v1.4h-1.4zM157.5,432.3h1.4v1.4h-1.4zM157.6,432.7h1.4v1.4h-1.4zM157.8,432.2h1.4v1.4h-1.4zM157.9,447.8h1.4v1.4h-1.4zM158.1,426.3h1.4v1.4h-1.4zM158.3,448.9h1.4v1.4h-1.4zM158.4,448.1h1.4v1.4h-1.4zM158.6,433.5h1.4v1.4h-1.4zM158.7,437.7h1.4v1.4h-1.4zM158.9,436.1h1.4v1.4h-1.4zM159.1,438.3h1.4v1.4h-1.4zM159.2,453.7h1.4v1.4h-1.4zM159.4,438.9h1.4v1.4h-1.4zM159.5,429.2h1.4v1.4h-1.4zM159.7,440.1h1.4v1.4h-1.4zM159.9,431.4h1.4v1.4h-1.4zM160.0,452.3h1.4v1.4h-1.4zM160.2,435.4h1.4v1.4h-1.4zM160.3,439.8h1.4v1.4h-1.4zM160.5,445.5h1.4v1.4h-1.4zM160.7,445.0h1.4v1.4h-1.4zM160.8,431.3h1.4v1.4h-1.4zM161.0,446.2h1.4v1.4h-1.4zM161.1,446.6h1.4v1.4h-1.4zM161.3,443.1h1.4v1.4h-1.4zM161.5,435.5h1.4v1.4h-1.4zM161.6,438.0h1.4v1.4h-1.4zM161.8,435.1h1.4v1.4h-1.4zM161.9,446.4h1.4v1.4h-1.4zM162.1,452.7h1.4v1.4h-1.4zM162.3,430.2h1.4v1.4h-1.4zM162.4,433.6h1.4v1.4h-1.4zM162.6,441.6h1.4v1.4h-1.4zM162.7,456.6h1.4v1.4h-1.4zM162.9,434.8h1.4v1.4h-1.4zM163.1,440.9h1.4v1.4h-1.4zM163.2,448.0h1.4v1.4h-1.4zM163.4,451.7h1.4v1.4h-1.4zM163.5,435.1h1.4v1.4h-1.4zM163.7,444.3h1.4v1.4h-1.4zM163.9,440.2h1.4v1.4h-1.4zM164.0,428.8h1.4v1.4h-1.4zM164.2,451.4h1.4v1.4h-1.4zM164.3,430.7h1.4v1.4h-1.4zM164.5,442.3h1.4v1.4h-1.4zM164.7,451.7h1.4v1.4h-1.4zM164.8,437.8h1.4v1.4h-1.4zM165.0,443.5h1.4v1.4h-1.4zM165.1,437.5h1.4v1.4h-1.4zM165.3,428.7h1.4v1.4h-1.4zM165.5,428.7h1.4v1.4h-1.4zM165.6,430.9h1.4v1.4h-1.4zM165.8,439.7h1.4v1.4h-1.4zM165.9,435.8h1.4v1.4h-1.4zM166.1,430.3h1.4v1.4h-1.4zM166.3,444.2h1.4v1.4h-1.4zM166.4,431.7h1.4v1.4h-1.4zM166.6,426.9h1.4v1.4h-1.4zM166.7,438.9h1.4v1.4h-1.4zM166.9,449.4h1.4v1.4h-1.4zM167.1,435.6h1.4v1.4h-1.4zM167.2,444.8h1.4v1.4h-1.4zM167.4,444.5h1.4v1.4h-1.4zM167.5,441.9h1.4v1.4h-1.4zM167.7,419.1h1.4v1.4h-1.4zM167.9,429.5h1.4v1.4h-1.4zM168.0,451.4h1.4v1.4h-1.4zM168.2,436.5h1.4v1.4h-1.4zM168.3,446.7h1.4v1.4h-1.4zM168.5,433.9h1.4v1.4h-1.4zM168.7,443.2h1.4v1.4h-1.4zM168.8,439.9h1.4v1.4h-1.4zM169.0,428.6h1.4v1.4h-1.4zM169.1,443.9h1.4v1.4h-1.4zM169.3,444.1h1.4v1.4h-1.4zM169.5,431.3h1.4v1.4h-1.4zM169.6,452.0h1.4v1.4h-1.4zM169.8,443.9h1.4v1.4h-1.4zM169.9,450.3h1.4v1.4h-1.4zM170.1,447.8h1.4v1.4h-1.4zM170.3,442.4h1.4v1.4h-1.4zM170.4,431.5h1.4v1.4h-1.4zM170.6,446.0h1.4v1.4h-1.4zM170.7,429.0h1.4v1.4h-1.4zM170.9,434.0h1.4v1.4h-1.4zM171.1,435.1h1.4v1.4h-1.4zM171.2,447.0h1.4v1.4h-1.4zM171.4,441.0h1.4v1.4h-1.4zM171.5,437.2h1.4v1.4h-1.4zM171.7,444.7h1.4v1.4h-1.4zM171.9,432.6h1.4v1.4h-1.4zM172.0,444.5h1.4v1.4h-1.4zM172.2,445.0h1.4v1.4h-1.4zM172.3,449.1h1.4v1.4h-1.4zM172.5,429.2h1.4v1.4h-1.4zM172.7,450.4h1.4v1.4h-1.4zM172.8,445.3h1.4v1.4h-1.4zM173.0,439.7h1.4v1.4h-1.4zM173.1,437.3h1.4v1.4h-1.4zM173.3,434.9h1.4v1.4h-1.4zM173.5,444.2h1.4v1.4h-1.4zM173.6,431.9h1.4v1.4h-1.4zM173.8,437.1h1.4v1.4h-1.4zM173.9,442.6h1.4v1.4h-1.4zM174.1,449.9h1.4v1.4h-1.4zM174.3,435.0h1.4v1.4h-1.4zM174.4,446.5h1.4v1.4h-1.4zM174.6,429.5h1.4v1.4h-1.4zM174.7,440.3h1.4v1.4h-1.4zM174.9,433.3h1.4v1.4h-1.4zM175.1,443.6h1.4v1.4h-1.4zM175.2,442.3h1.4v1.4h-1.4zM175.4,434.2h1.4v1.4h-1.4zM175.5,439.3h1.4v1.4h-1.4zM175.7,439.3h1.4v1.4h-1.4zM175.9,434.3h1.4v1.4h-1.4zM176.0,434.5h1.4v1.4h-1.4zM176.2,437.5h1.4v1.4h-1.4zM176.3,440.7h1.4v1.4h-1.4zM176.5,428.6h1.4v1.4h-1.4zM176.7,429.3h1.4v1.4h-1.4zM176.8,433.7h1.4v1.4h-1.4zM177.0,436.9h1.4v1.4h-1.4zM177.1,438.6h1.4v1.4h-1.4zM177.3,448.6h1.4v1.4h-1.4zM177.5,434.7h1.4v1.4h-1.4zM177.6,446.0h1.4v1.4h-1.4zM177.8,448.2h1.4v1.4h-1.4zM177.9,431.9h1.4v1.4h-1.4zM178.1,429.3h1.4v1.4h-1.4zM178.3,434.5h1.4v1.4h-1.4zM178.4,449.8h1.4v1.4h-1.4zM178.6,447.3h1.4v1.4h-1.4zM178.7,448.8h1.4v1.4h-1.4zM178.9,439.7h1.4v1.4h-1.4zM179.1,428.8h1.4v1.4h-1.4zM179.2,434.7h1.4v1.4h-1.4zM179.4,445.8h1.4v1.4h-1.4zM179.5,443.6h1.4v1.4h-1.4zM179.7,439.4h1.4v1.4h-1.4zM179.9,435.3h1.4v1.4h-1.4zM180.0,434.4h1.4v1.4h-1.4zM180.2,431.0h1.4v1.4h-1.4zM180.3,449.4h1.4v1.4h-1.4zM180.5,442.1h1.4v1.4h-1.4zM180.7,438.3h1.4v1.4h-1.4zM180.8,439.1h1.4v1.4h-1.4zM181.0,440.5h1.4v1.4h-1.4zM181.1,445.7h1.4v1.4h-1.4zM181.3,431.4h1.4v1.4h-1.4zM181.5,402.6h1.4v1.4h-1.4zM181.6,451.9h1.4v1.4h-1.4zM181.8,438.2h1.4v1.4h-1.4zM181.9,435.6h1.4v1.4h-1.4zM182.1,424.9h1.4v1.4h-1.4zM182.3,433.1h1.4v1.4h-1.4zM182.4,428.1h1.4v1.4h-1.4zM182.6,433.9h1.4v1.4h-1.4zM182.7,417.0h1.4v1.4h-1.4zM182.9,429.4h1.4v1.4h-1.4zM183.1,426.5h1.4v1.4h-1.4zM183.2,407.1h1.4v1.4h-1.4zM183.4,386.7h1.4v1.4h-1.4zM183.5,386.1h1.4v1.4h-1.4zM183.7,369.7h1.4v1.4h-1.4zM183.9,391.6h1.4v1.4h-1.4zM184.0,408.9h1.4v1.4h-1.4zM184.2,382.4h1.4v1.4h-1.4zM184.3,389.3h1.4v1.4h-1.4zM184.5,399.3h1.4v1.4h-1.4zM184.7,390.5h1.4v1.4h-1.4zM184.8,358.5h1.4v1.4h-1.4zM185.0,406.5h1.4v1.4h-1.4zM185.1,383.7h1.4v1.4h-1.4zM185.3,379.6h1.4v1.4h-1.4zM185.5,408.2h1.4v1.4h-1.4zM185.6,399.0h1.4v1.4h-1.4zM185.8,332.6h1.4v1.4h-1.4zM185.9,399.9h1.4v1.4h-1.4zM186.1,384.9h1.4v1.4h-1.4zM186.3,411.3h1.4v1.4h-1.4zM186.4,400.5h1.4v1.4h-1.4zM186.6,408.0h1.4v1.4h-1.4zM186.7,390.9h1.4v1.4h-1.4zM186.9,390.5h1.4v1.4h-1.4zM187.1,379.1h1.4v1.4h-1.4zM187.2,406.3h1.4v1.4h-1.4zM187.4,389.9h1.4v1.4h-1.4zM187.5,411.6h1.4v1.4h-1.4zM187.7,407.8h1.4v1.4h-1.4zM187.9,396.8h1.4v1.4h-1.4zM188.0,406.6h1.4v1.4h-1.4zM188.2,396.4h1.4v1.4h-1.4zM188.3,417.3h1.4v1.4h-1.4zM188.5,404.0h1.4v1.4h-1.4zM188.7,393.9h1.4v1.4h-1.4zM188.8,404.6h1.4v1.4h-1.4zM189.0,414.8h1.4v1.4h-1.4zM189.1,395.9h1.4v1.4h-1.4zM189.3,418.5h1.4v1.4h-1.4zM189.5,411.0h1.4v1.4h-1.4zM189.6,407.2h1.4v1.4h-1.4zM189.8,412.4h1.4v1.4h-1.4zM189.9,406.2h1.4v1.4h-1.4zM190.1,412.6h1.4v1.4h-1.4zM190.3,408.4h1.4v1.4h-1.4zM190.4,418.8h1.4v1.4h-1.4zM190.6,409.0h1.4v1.4h-1.4zM190.7,421.9h1.4v1.4h-1.4zM190.9,402.2h1.4v1.4h-1.4zM191.1,424.2h1.4v1.4h-1.4zM191.2,403.9h1.4v1.4h-1.4zM191.4,417.3h1.4v1.4h-1.4zM191.5,408.1h1.4v1.4h-1.4zM191.7,410.2h1.4v1.4h-1.4zM191.9,424.4h1.4v1.4h-1.4zM192.0,390.2h1.4v1.4h-1.4zM192.2,425.7h1.4v1.4h-1.4zM192.3,407.3h1.4v1.4h-1.4zM192.5,413.0h1.4v1.4h-1.4zM192.7,429.6h1.4v1.4h-1.4zM192.8,424.2h1.4v1.4h-1.4zM193.0,412.1h1.4v1.4h-1.4zM193.1,408.0h1.4v1.4h-1.4zM193.3,424.1h1.4v1.4h-1.4zM193.5,404.0h1.4v1.4h-1.4zM193.6,418.1h1.4v1.4h-1.4zM193.8,412.9h1.4v1.4h-1.4zM193.9,408.9h1.4v1.4h-1.4zM194.1,409.3h1.4v1.4h-1.4zM194.3,413.1h1.4v1.4h-1.4zM194.4,417.2h1.4v1.4h-1.4zM194.6,414.1h1.4v1.4h-1.4zM194.7,428.3h1.4v1.4h-1.4zM194.9,424.1h1.4v1.4h-1.4zM195.1,429.1h1.4v1.4h-1.4zM195.2,428.6h1.4v1.4h-1.4zM195.4,408.6h1.4v1.4h-1.4zM195.5,415.9h1.4v1.4h-1.4zM195.7,419.9h1.4v1.4h-1.4zM195.9,408.4h1.4v1.4h-1.4zM196.0,420.7h1.4v1.4h-1.4zM196.2,412.5h1.4v1.4h-1.4zM196.3,403.7h1.4v1.4h-1.4zM196.5,403.8h1.4v1.4h-1.4zM196.7,410.5h1.4v1.4h-1.4zM196.8,413.5h1.4v1.4h-1.4zM197.0,389.0h1.4v1.4h-1.4zM197.1,424.8h1.4v1.4h-1.4zM197.3,410.2h1.4v1.4h-1.4zM197.5,413.9h1.4v1.4h-1.4zM197.6,416.2h1.4v1.4h-1.4zM197.8,410.0h1.4v1.4h-1.4zM197.9,399.3h1.4v1.4h-1.4zM198.1,405.4h1.4v1.4h-1.4zM198.3,397.4h1.4v1.4h-1.4zM198.4,407.0h1.4v1.4h-1.4zM198.6,394.6h1.4v1.4h-1.4zM198.7,400.9h1.4v1.4h-1.4zM198.9,398.7h1.4v1.4h-1.4zM199.1,403.8h1.4v1.4h-1.4zM199.2,413.0h1.4v1.4h-1.4zM199.4,411.8h1.4v1.4h-1.4zM199.5,408.3h1.4v1.4h-1.4zM199.7,380.4h1.4v1.4h-1.4zM199.9,417.9h1.4v1.4h-1.4zM200.0,358.4h1.4v1.4h-1.4zM200.2,410.4h1.4v1.4h-1.4zM200.3,415.2h1.4v1.4h-1.4zM200.5,393.9h1.4v1.4h-1.4zM200.7,418.0h1.4v1.4h-1.4zM200.8,395.4h1.4v1.4h-1.4zM201.0,392.0h1.4v1.4h-1.4zM201.1,399.8h1.4v1.4h-1.4zM201.3,392.3h1.4v1.4h-1.4zM201.5,396.3h1.4v1.4h-1.4zM201.6,398.7h1.4v1.4h-1.4zM201.8,383.6h1.4v1.4h-1.4zM201.9,396.6h1.4v1.4h-1.4zM202.1,390.0h1.4v1.4h-1.4zM202.3,390.8h1.4v1.4h-1.4zM202.4,389.8h1.4v1.4h-1.4zM202.6,408.2h1.4v1.4h-1.4zM202.7,391.7h1.4v1.4h-1.4zM202.9,407.6h1.4v1.4h-1.4zM203.1,390.2h1.4v1.4h-1.4zM203.2,403.9h1.4v1.4h-1.4zM203.4,398.0h1.4v1.4h-1.4zM203.5,397.5h1.4v1.4h-1.4zM203.7,413.4h1.4v1.4h-1.4zM203.9,406.8h1.4v1.4h-1.4zM204.0,420.9h1.4v1.4h-1.4zM204.2,432.4h1.4v1.4h-1.4zM204.3,420.7h1.4v1.4h-1.4zM204.5,431.3h1.4v1.4h-1.4zM204.7,440.5h1.4v1.4h-1.4zM204.8,436.2h1.4v1.4h-1.4zM205.0,442.7h1.4v1.4h-1.4zM205.1,426.0h1.4v1.4h-1.4zM205.3,441.5h1.4v1.4h-1.4zM205.5,444.5h1.4v1.4h-1.4zM205.6,443.1h1.4v1.4h-1.4zM205.8,437.3h1.4v1.4h-1.4zM205.9,438.0h1.4v1.4h-1.4zM206.1,436.1h1.4v1.4h-1.4zM206.3,438.3h1.4v1.4h-1.4zM206.4,438.5h1.4v1.4h-1.4zM206.6,438.1h1.4v1.4h-1.4zM206.7,433.7h1.4v1.4h-1.4zM206.9,447.5h1.4v1.4h-1.4zM207.1,449.0h1.4v1.4h-1.4zM207.2,434.4h1.4v1.4h-1.4zM207.4,441.4h1.4v1.4h-1.4zM207.5,449.8h1.4v1.4h-1.4zM207.7,436.4h1.4v1.4h-1.4zM207.9,441.7h1.4v1.4h-1.4zM208.0,448.7h1.4v1.4h-1.4zM208.2,452.0h1.4v1.4h-1.4zM208.3,433.9h1.4v1.4h-1.4zM208.5,436.9h1.4v1.4h-1.4zM208.7,440.8h1.4v1.4h-1.4zM208.8,439.8h1.4v1.4h-1.4zM209.0,446.6h1.4v1.4h-1.4zM209.1,450.7h1.4v1.4h-1.4zM209.3,439.8h1.4v1.4h-1.4zM209.5,446.5h1.4v1.4h-1.4zM209.6,449.0h1.4v1.4h-1.4zM209.8,449.1h1.4v1.4h-1.4zM209.9,446.8h1.4v1.4h-1.4zM210.1,445.2h1.4v1.4h-1.4zM210.3,434.3h1.4v1.4h-1.4zM210.4,436.1h1.4v1.4h-1.4zM210.6,452.2h1.4v1.4h-1.4zM210.7,450.9h1.4v1.4h-1.4zM210.9,441.6h1.4v1.4h-1.4zM211.1,450.9h1.4v1.4h-1.4zM211.2,450.1h1.4v1.4h-1.4zM211.4,446.0h1.4v1.4h-1.4zM211.5,451.8h1.4v1.4h-1.4zM211.7,445.6h1.4v1.4h-1.4zM211.9,453.3h1.4v1.4h-1.4zM212.0,441.5h1.4v1.4h-1.4zM212.2,439.6h1.4v1.4h-1.4zM212.3,460.3h1.4v1.4h-1.4zM212.5,435.3h1.4v1.4h-1.4zM212.7,455.3h1.4v1.4h-1.4zM212.8,442.8h1.4v1.4h-1.4zM213.0,458.6h1.4v1.4h-1.4zM213.1,441.8h1.4v1.4h-1.4zM213.3,445.7h1.4v1.4h-1.4zM213.5,451.4h1.4v1.4h-1.4zM213.6,456.4h1.4v1.4h-1.4zM213.8,453.4h1.4v1.4h-1.4zM213.9,441.1h1.4v1.4h-1.4zM214.1,457.1h1.4v1.4h-1.4zM214.3,447.8h1.4v1.4h-1.4zM214.4,460.3h1.4v1.4h-1.4zM214.6,446.3h1.4v1.4h-1.4zM214.7,456.3h1.4v1.4h-1.4zM214.9,449.1h1.4v1.4h-1.4zM215.1,458.2h1.4v1.4h-1.4zM215.2,438.0h1.4v1.4h-1.4zM215.4,461.3h1.4v1.4h-1.4zM215.5,443.7h1.4v1.4h-1.4zM215.7,456.9h1.4v1.4h-1.4zM215.9,443.9h1.4v1.4h-1.4zM216.0,457.2h1.4v1.4h-1.4zM216.2,453.0h1.4v1.4h-1.4zM216.3,457.8h1.4v1.4h-1.4zM216.5,450.4h1.4v1.4h-1.4zM216.7,464.5h1.4v1.4h-1.4zM216.8,448.7h1.4v1.4h-1.4zM217.0,443.8h1.4v1.4h-1.4zM217.1,452.7h1.4v1.4h-1.4zM217.3,444.0h1.4v1.4h-1.4zM217.5,443.3h1.4v1.4h-1.4zM217.6,457.8h1.4v1.4h-1.4zM217.8,440.7h1.4v1.4h-1.4zM217.9,457.8h1.4v1.4h-1.4zM218.1,467.6h1.4v1.4h-1.4zM218.3,454.6h1.4v1.4h-1.4zM218.4,449.8h1.4v1.4h-1.4zM218.6,455.2h1.4v1.4h-1.4zM218.7,446.9h1.4v1.4h-1.4zM218.9,450.9h1.4v1.4h-1.4zM219.1,453.7h1.4v1.4h-1.4zM219.2,449.0h1.4v1.4h-1.4zM219.4,457.5h1.4v1.4h-1.4zM219.5,444.5h1.4v1.4h-1.4zM219.7,459.3h1.4v1.4h-1.4zM219.9,451.2h1.4v1.4h-1.4zM220.0,442.3h1.4v1.4h-1.4zM220.2,451.1h1.4v1.4h-1.4zM220.3,454.2h1.4v1.4h-1.4zM220.5,443.2h1.4v1.4h-1.4zM220.7,446.2h1.4v1.4h-1.4zM220.8,461.7h1.4v1.4h-1.4zM221.0,460.4h1.4v1.4h-1.4zM221.1,438.8h1.4v1.4h-1.4zM221.3,460.9h1.4v1.4h-1.4zM221.5,456.1h1.4v1.4h-1.4zM221.6,430.3h1.4v1.4h-1.4zM221.8,451.9h1.4v1.4h-1.4zM221.9,442.7h1.4v1.4h-1.4zM222.1,458.9h1.4v1.4h-1.4zM222.3,449.6h1.4v1.4h-1.4zM222.4,447.1h1.4v1.4h-1.4zM222.6,441.0h1.4v1.4h-1.4zM222.7,460.9h1.4v1.4h-1.4zM222.9,443.0h1.4v1.4h-1.4zM223.1,457.5h1.4v1.4h-1.4zM223.2,456.3h1.4v1.4h-1.4zM223.4,454.4h1.4v1.4h-1.4zM223.5,449.1h1.4v1.4h-1.4zM223.7,448.1h1.4v1.4h-1.4zM223.9,452.5h1.4v1.4h-1.4zM224.0,447.1h1.4v1.4h-1.4zM224.2,452.4h1.4v1.4h-1.4zM224.3,448.5h1.4v1.4h-1.4zM224.5,457.2h1.4v1.4h-1.4zM224.7,460.1h1.4v1.4h-1.4zM224.8,443.4h1.4v1.4h-1.4zM225.0,452.2h1.4v1.4h-1.4zM225.1,459.9h1.4v1.4h-1.4zM225.3,440.4h1.4v1.4h-1.4zM225.5,446.3h1.4v1.4h-1.4zM225.6,455.6h1.4v1.4h-1.4zM225.8,453.6h1.4v1.4h-1.4zM225.9,456.7h1.4v1.4h-1.4zM226.1,449.1h1.4v1.4h-1.4zM226.3,455.2h1.4v1.4h-1.4zM226.4,437.5h1.4v1.4h-1.4zM226.6,448.8h1.4v1.4h-1.4zM226.7,443.7h1.4v1.4h-1.4zM226.9,438.6h1.4v1.4h-1.4zM227.1,429.5h1.4v1.4h-1.4zM227.2,433.5h1.4v1.4h-1.4zM227.4,444.4h1.4v1.4h-1.4zM227.5,411.2h1.4v1.4h-1.4zM227.7,413.1h1.4v1.4h-1.4zM227.9,397.9h1.4v1.4h-1.4zM228.0,404.7h1.4v1.4h-1.4zM228.2,422.0h1.4v1.4h-1.4zM228.3,390.0h1.4v1.4h-1.4zM228.5,391.6h1.4v1.4h-1.4zM228.7,423.1h1.4v1.4h-1.4zM228.8,411.5h1.4v1.4h-1.4zM229.0,420.0h1.4v1.4h-1.4zM229.1,428.5h1.4v1.4h-1.4zM229.3,405.6h1.4v1.4h-1.4zM229.5,420.5h1.4v1.4h-1.4zM229.6,404.8h1.4v1.4h-1.4zM229.8,393.5h1.4v1.4h-1.4zM229.9,397.3h1.4v1.4h-1.4zM230.1,390.0h1.4v1.4h-1.4zM230.3,409.9h1.4v1.4h-1.4zM230.4,413.0h1.4v1.4h-1.4zM230.6,417.6h1.4v1.4h-1.4zM230.7,422.8h1.4v1.4h-1.4zM230.9,422.7h1.4v1.4h-1.4zM231.1,404.3h1.4v1.4h-1.4zM231.2,401.6h1.4v1.4h-1.4zM231.4,415.3h1.4v1.4h-1.4zM231.5,420.1h1.4v1.4h-1.4zM231.7,426.6h1.4v1.4h-1.4zM231.9,405.1h1.4v1.4h-1.4zM232.0,404.5h1.4v1.4h-1.4zM232.2,402.3h1.4v1.4h-1.4zM232.3,395.9h1.4v1.4h-1.4zM232.5,408.8h1.4v1.4h-1.4zM232.7,405.3h1.4v1.4h-1.4zM232.8,396.2h1.4v1.4h-1.4zM233.0,406.9h1.4v1.4h-1.4zM233.1,422.5h1.4v1.4h-1.4zM233.3,409.6h1.4v1.4h-1.4zM233.5,408.2h1.4v1.4h-1.4zM233.6,419.3h1.4v1.4h-1.4zM233.8,411.4h1.4v1.4h-1.4zM233.9,426.1h1.4v1.4h-1.4zM234.1,420.7h1.4v1.4h-1.4zM234.3,408.7h1.4v1.4h-1.4zM234.4,409.5h1.4v1.4h-1.4zM234.6,396.2h1.4v1.4h-1.4zM234.7,418.5h1.4v1.4h-1.4zM234.9,420.2h1.4v1.4h-1.4zM235.1,421.5h1.4v1.4h-1.4zM235.2,404.7h1.4v1.4h-1.4zM235.4,401.3h1.4v1.4h-1.4zM235.5,420.2h1.4v1.4h-1.4zM235.7,408.8h1.4v1.4h-1.4zM235.9,412.4h1.4v1.4h-1.4zM236.0,428.7h1.4v1.4h-1.4zM236.2,426.2h1.4v1.4h-1.4zM236.3,432.7h1.4v1.4h-1.4zM236.5,427.8h1.4v1.4h-1.4zM236.7,416.7h1.4v1.4h-1.4zM236.8,411.4h1.4v1.4h-1.4zM237.0,410.1h1.4v1.4h-1.4zM237.1,430.6h1.4v1.4h-1.4zM237.3,419.2h1.4v1.4h-1.4zM237.5,414.2h1.4v1.4h-1.4zM237.6,424.6h1.4v1.4h-1.4zM237.8,413.7h1.4v1.4h-1.4zM237.9,423.8h1.4v1.4h-1.4zM238.1,408.2h1.4v1.4h-1.4zM238.3,436.9h1.4v1.4h-1.4zM238.4,432.5h1.4v1.4h-1.4zM238.6,417.8h1.4v1.4h-1.4zM238.7,435.6h1.4v1.4h-1.4zM238.9,386.8h1.4v1.4h-1.4zM239.1,424.6h1.4v1.4h-1.4zM239.2,429.9h1.4v1.4h-1.4zM239.4,417.8h1.4v1.4h-1.4zM239.5,427.3h1.4v1.4h-1.4zM239.7,429.2h1.4v1.4h-1.4zM239.9,413.8h1.4v1.4h-1.4zM240.0,433.4h1.4v1.4h-1.4zM240.2,438.3h1.4v1.4h-1.4zM240.3,440.7h1.4v1.4h-1.4zM240.5,428.5h1.4v1.4h-1.4zM240.7,415.1h1.4v1.4h-1.4zM240.8,432.7h1.4v1.4h-1.4zM241.0,441.2h1.4v1.4h-1.4zM241.1,417.4h1.4v1.4h-1.4zM241.3,436.8h1.4v1.4h-1.4zM241.5,418.8h1.4v1.4h-1.4zM241.6,413.6h1.4v1.4h-1.4zM241.8,416.2h1.4v1.4h-1.4zM241.9,434.5h1.4v1.4h-1.4zM242.1,422.2h1.4v1.4h-1.4zM242.3,438.3h1.4v1.4h-1.4zM242.4,414.6h1.4v1.4h-1.4zM242.6,418.3h1.4v1.4h-1.4zM242.7,433.9h1.4v1.4h-1.4zM242.9,427.3h1.4v1.4h-1.4zM243.1,402.0h1.4v1.4h-1.4zM243.2,410.5h1.4v1.4h-1.4zM243.4,429.9h1.4v1.4h-1.4zM243.5,427.4h1.4v1.4h-1.4zM243.7,408.8h1.4v1.4h-1.4zM243.9,410.1h1.4v1.4h-1.4zM244.0,421.4h1.4v1.4h-1.4zM244.2,409.9h1.4v1.4h-1.4zM244.3,440.1h1.4v1.4h-1.4zM244.5,404.0h1.4v1.4h-1.4zM244.7,427.3h1.4v1.4h-1.4zM244.8,427.4h1.4v1.4h-1.4zM245.0,433.9h1.4v1.4h-1.4zM245.1,411.6h1.4v1.4h-1.4zM245.3,418.9h1.4v1.4h-1.4zM245.5,408.6h1.4v1.4h-1.4zM245.6,406.1h1.4v1.4h-1.4zM245.8,403.1h1.4v1.4h-1.4zM245.9,413.3h1.4v1.4h-1.4zM246.1,417.3h1.4v1.4h-1.4zM246.3,412.2h1.4v1.4h-1.4zM246.4,420.1h1.4v1.4h-1.4zM246.6,412.3h1.4v1.4h-1.4zM246.7,411.5h1.4v1.4h-1.4zM246.9,406.8h1.4v1.4h-1.4zM247.1,402.2h1.4v1.4h-1.4zM247.2,415.8h1.4v1.4h-1.4zM247.4,432.5h1.4v1.4h-1.4zM247.5,402.0h1.4v1.4h-1.4zM247.7,422.2h1.4v1.4h-1.4zM247.9,413.8h1.4v1.4h-1.4zM248.0,411.8h1.4v1.4h-1.4zM248.2,425.7h1.4v1.4h-1.4zM248.3,432.0h1.4v1.4h-1.4zM248.5,434.0h1.4v1.4h-1.4zM248.7,429.0h1.4v1.4h-1.4zM248.8,433.2h1.4v1.4h-1.4zM249.0,430.0h1.4v1.4h-1.4zM249.1,425.1h1.4v1.4h-1.4zM249.3,408.0h1.4v1.4h-1.4zM249.5,413.3h1.4v1.4h-1.4zM249.6,413.4h1.4v1.4h-1.4zM249.8,428.8h1.4v1.4h-1.4zM249.9,413.8h1.4v1.4h-1.4zM250.1,437.2h1.4v1.4h-1.4zM250.3,422.8h1.4v1.4h-1.4zM250.4,432.4h1.4v1.4h-1.4zM250.6,426.1h1.4v1.4h-1.4zM250.7,441.8h1.4v1.4h-1.4zM250.9,440.5h1.4v1.4h-1.4zM251.1,449.4h1.4v1.4h-1.4zM251.2,430.7h1.4v1.4h-1.4zM251.4,439.7h1.4v1.4h-1.4zM251.5,437.8h1.4v1.4h-1.4zM251.7,449.4h1.4v1.4h-1.4zM251.9,436.8h1.4v1.4h-1.4zM252.0,445.4h1.4v1.4h-1.4zM252.2,439.1h1.4v1.4h-1.4zM252.3,434.3h1.4v1.4h-1.4zM252.5,420.1h1.4v1.4h-1.4zM252.7,441.0h1.4v1.4h-1.4zM252.8,456.0h1.4v1.4h-1.4zM253.0,448.6h1.4v1.4h-1.4zM253.1,441.9h1.4v1.4h-1.4zM253.3,445.0h1.4v1.4h-1.4zM253.5,442.9h1.4v1.4h-1.4zM253.6,438.2h1.4v1.4h-1.4zM253.8,418.7h1.4v1.4h-1.4zM253.9,450.7h1.4v1.4h-1.4zM254.1,434.2h1.4v1.4h-1.4zM254.3,436.2h1.4v1.4h-1.4zM254.4,438.4h1.4v1.4h-1.4zM254.6,453.1h1.4v1.4h-1.4zM254.7,438.8h1.4v1.4h-1.4zM254.9,434.8h1.4v1.4h-1.4zM255.1,453.8h1.4v1.4h-1.4zM255.2,450.9h1.4v1.4h-1.4zM255.4,440.1h1.4v1.4h-1.4zM255.5,443.3h1.4v1.4h-1.4zM255.7,448.6h1.4v1.4h-1.4zM255.9,444.7h1.4v1.4h-1.4zM256.0,451.5h1.4v1.4h-1.4zM256.2,447.4h1.4v1.4h-1.4zM256.3,440.7h1.4v1.4h-1.4zM256.5,448.7h1.4v1.4h-1.4zM256.7,449.9h1.4v1.4h-1.4zM256.8,438.0h1.4v1.4h-1.4zM257.0,443.1h1.4v1.4h-1.4zM257.1,440.4h1.4v1.4h-1.4zM257.3,441.0h1.4v1.4h-1.4zM257.5,438.8h1.4v1.4h-1.4zM257.6,455.5h1.4v1.4h-1.4zM257.8,451.0h1.4v1.4h-1.4zM257.9,439.4h1.4v1.4h-1.4zM258.1,450.0h1.4v1.4h-1.4zM258.3,441.8h1.4v1.4h-1.4zM258.4,423.7h1.4v1.4h-1.4zM258.6,448.2h1.4v1.4h-1.4zM258.7,449.5h1.4v1.4h-1.4zM258.9,442.0h1.4v1.4h-1.4zM259.1,449.4h1.4v1.4h-1.4zM259.2,450.6h1.4v1.4h-1.4zM259.4,446.8h1.4v1.4h-1.4zM259.5,449.0h1.4v1.4h-1.4zM259.7,445.0h1.4v1.4h-1.4zM259.9,428.3h1.4v1.4h-1.4zM260.0,453.3h1.4v1.4h-1.4zM260.2,449.2h1.4v1.4h-1.4zM260.3,450.1h1.4v1.4h-1.4zM260.5,451.3h1.4v1.4h-1.4zM260.7,437.0h1.4v1.4h-1.4zM260.8,447.0h1.4v1.4h-1.4zM261.0,447.1h1.4v1.4h-1.4zM261.1,446.6h1.4v1.4h-1.4zM261.3,439.1h1.4v1.4h-1.4zM261.5,452.9h1.4v1.4h-1.4zM261.6,436.9h1.4v1.4h-1.4zM261.8,438.5h1.4v1.4h-1.4zM261.9,446.4h1.4v1.4h-1.4zM262.1,444.5h1.4v1.4h-1.4zM262.3,441.7h1.4v1.4h-1.4zM262.4,454.7h1.4v1.4h-1.4zM262.6,447.8h1.4v1.4h-1.4zM262.7,437.2h1.4v1.4h-1.4zM262.9,448.4h1.4v1.4h-1.4zM263.1,455.4h1.4v1.4h-1.4zM263.2,447.6h1.4v1.4h-1.4zM263.4,452.2h1.4v1.4h-1.4zM263.5,438.3h1.4v1.4h-1.4zM263.7,446.6h1.4v1.4h-1.4zM263.9,448.5h1.4v1.4h-1.4zM264.0,438.3h1.4v1.4h-1.4zM264.2,446.1h1.4v1.4h-1.4zM264.3,455.3h1.4v1.4h-1.4zM264.5,448.5h1.4v1.4h-1.4zM264.7,442.5h1.4v1.4h-1.4zM264.8,449.0h1.4v1.4h-1.4zM265.0,449.2h1.4v1.4h-1.4zM265.1,437.9h1.4v1.4h-1.4zM265.3,450.7h1.4v1.4h-1.4zM265.5,442.4h1.4v1.4h-1.4zM265.6,444.4h1.4v1.4h-1.4zM265.8,452.0h1.4v1.4h-1.4zM265.9,442.6h1.4v1.4h-1.4zM266.1,451.5h1.4v1.4h-1.4zM266.3,450.9h1.4v1.4h-1.4zM266.4,444.0h1.4v1.4h-1.4zM266.6,437.5h1.4v1.4h-1.4zM266.7,455.5h1.4v1.4h-1.4zM266.9,440.8h1.4v1.4h-1.4zM267.1,452.0h1.4v1.4h-1.4zM267.2,441.8h1.4v1.4h-1.4zM267.4,453.6h1.4v1.4h-1.4zM267.5,439.6h1.4v1.4h-1.4zM267.7,437.9h1.4v1.4h-1.4zM267.9,453.1h1.4v1.4h-1.4zM268.0,444.1h1.4v1.4h-1.4zM268.2,453.3h1.4v1.4h-1.4zM268.3,452.2h1.4v1.4h-1.4zM268.5,444.7h1.4v1.4h-1.4zM268.7,433.9h1.4v1.4h-1.4zM268.8,433.0h1.4v1.4h-1.4zM269.0,451.1h1.4v1.4h-1.4zM269.1,440.1h1.4v1.4h-1.4zM269.3,418.0h1.4v1.4h-1.4zM269.5,452.2h1.4v1.4h-1.4zM269.6,449.6h1.4v1.4h-1.4zM269.8,454.1h1.4v1.4h-1.4zM269.9,444.6h1.4v1.4h-1.4zM270.1,448.3h1.4v1.4h-1.4zM270.3,446.2h1.4v1.4h-1.4zM270.4,441.5h1.4v1.4h-1.4zM270.6,449.8h1.4v1.4h-1.4zM270.7,440.5h1.4v1.4h-1.4zM270.9,437.2h1.4v1.4h-1.4zM271.1,438.7h1.4v1.4h-1.4zM271.2,448.2h1.4v1.4h-1.4zM271.4,452.9h1.4v1.4h-1.4zM271.5,430.3h1.4v1.4h-1.4zM271.7,438.2h1.4v1.4h-1.4zM271.9,428.4h1.4v1.4h-1.4zM272.0,428.7h1.4v1.4h-1.4zM272.2,423.9h1.4v1.4h-1.4zM272.3,413.4h1.4v1.4h-1.4zM272.5,445.8h1.4v1.4h-1.4zM272.7,429.2h1.4v1.4h-1.4zM272.8,411.8h1.4v1.4h-1.4zM273.0,414.4h1.4v1.4h-1.4zM273.1,405.2h1.4v1.4h-1.4zM273.3,369.4h1.4v1.4h-1.4zM273.5,412.3h1.4v1.4h-1.4zM273.6,415.2h1.4v1.4h-1.4zM273.8,407.7h1.4v1.4h-1.4zM273.9,421.3h1.4v1.4h-1.4zM274.1,431.3h1.4v1.4h-1.4zM274.3,423.7h1.4v1.4h-1.4zM274.4,413.4h1.4v1.4h-1.4zM274.6,399.7h1.4v1.4h-1.4zM274.7,416.9h1.4v1.4h-1.4zM274.9,429.9h1.4v1.4h-1.4zM275.1,420.4h1.4v1.4h-1.4zM275.2,406.3h1.4v1.4h-1.4zM275.4,409.8h1.4v1.4h-1.4zM275.5,409.7h1.4v1.4h-1.4zM275.7,424.5h1.4v1.4h-1.4zM275.9,410.0h1.4v1.4h-1.4zM276.0,411.6h1.4v1.4h-1.4zM276.2,418.1h1.4v1.4h-1.4zM276.3,401.2h1.4v1.4h-1.4zM276.5,428.4h1.4v1.4h-1.4zM276.7,408.2h1.4v1.4h-1.4zM276.8,416.1h1.4v1.4h-1.4zM277.0,403.9h1.4v1.4h-1.4zM277.1,405.1h1.4v1.4h-1.4zM277.3,423.6h1.4v1.4h-1.4zM277.5,423.0h1.4v1.4h-1.4zM277.6,424.9h1.4v1.4h-1.4zM277.8,393.4h1.4v1.4h-1.4zM277.9,423.2h1.4v1.4h-1.4zM278.1,417.8h1.4v1.4h-1.4zM278.3,408.4h1.4v1.4h-1.4zM278.4,415.6h1.4v1.4h-1.4zM278.6,407.7h1.4v1.4h-1.4zM278.7,401.8h1.4v1.4h-1.4zM278.9,410.5h1.4v1.4h-1.4zM279.1,418.4h1.4v1.4h-1.4zM279.2,425.9h1.4v1.4h-1.4zM279.4,422.7h1.4v1.4h-1.4zM279.5,403.7h1.4v1.4h-1.4zM279.7,418.5h1.4v1.4h-1.4zM279.9,406.3h1.4v1.4h-1.4zM280.0,409.1h1.4v1.4h-1.4zM280.2,406.4h1.4v1.4h-1.4zM280.3,406.5h1.4v1.4h-1.4zM280.5,405.1h1.4v1.4h-1.4zM280.7,412.0h1.4v1.4h-1.4zM280.8,407.3h1.4v1.4h-1.4zM281.0,422.8h1.4v1.4h-1.4zM281.1,403.0h1.4v1.4h-1.4zM281.3,402.3h1.4v1.4h-1.4zM281.5,415.0h1.4v1.4h-1.4zM281.6,400.0h1.4v1.4h-1.4zM281.8,425.4h1.4v1.4h-1.4zM281.9,412.9h1.4v1.4h-1.4zM282.1,420.9h1.4v1.4h-1.4zM282.3,414.5h1.4v1.4h-1.4zM282.4,418.7h1.4v1.4h-1.4zM282.6,412.6h1.4v1.4h-1.4zM282.7,411.8h1.4v1.4h-1.4zM282.9,405.4h1.4v1.4h-1.4zM283.1,403.8h1.4v1.4h-1.4zM283.2,399.1h1.4v1.4h-1.4zM283.4,403.4h1.4v1.4h-1.4zM283.5,412.2h1.4v1.4h-1.4zM283.7,423.2h1.4v1.4h-1.4zM283.9,421.1h1.4v1.4h-1.4zM284.0,410.2h1.4v1.4h-1.4zM284.2,403.4h1.4v1.4h-1.4zM284.3,415.8h1.4v1.4h-1.4zM284.5,423.9h1.4v1.4h-1.4zM284.7,411.8h1.4v1.4h-1.4zM284.8,400.7h1.4v1.4h-1.4zM285.0,416.4h1.4v1.4h-1.4zM285.1,395.1h1.4v1.4h-1.4zM285.3,397.6h1.4v1.4h-1.4zM285.5,409.3h1.4v1.4h-1.4zM285.6,409.7h1.4v1.4h-1.4zM285.8,401.8h1.4v1.4h-1.4zM285.9,404.6h1.4v1.4h-1.4zM286.1,421.1h1.4v1.4h-1.4zM286.3,366.1h1.4v1.4h-1.4zM286.4,418.6h1.4v1.4h-1.4zM286.6,408.2h1.4v1.4h-1.4zM286.7,387.1h1.4v1.4h-1.4zM286.9,417.0h1.4v1.4h-1.4zM287.1,396.0h1.4v1.4h-1.4zM287.2,397.8h1.4v1.4h-1.4zM287.4,412.2h1.4v1.4h-1.4zM287.5,397.7h1.4v1.4h-1.4zM287.7,395.4h1.4v1.4h-1.4zM287.9,396.6h1.4v1.4h-1.4zM288.0,409.3h1.4v1.4h-1.4zM288.2,385.4h1.4v1.4h-1.4zM288.3,415.0h1.4v1.4h-1.4zM288.5,392.8h1.4v1.4h-1.4zM288.7,410.3h1.4v1.4h-1.4zM288.8,408.2h1.4v1.4h-1.4zM289.0,395.2h1.4v1.4h-1.4zM289.1,353.0h1.4v1.4h-1.4zM289.3,401.8h1.4v1.4h-1.4zM289.5,400.2h1.4v1.4h-1.4zM289.6,408.1h1.4v1.4h-1.4zM289.8,394.3h1.4v1.4h-1.4zM289.9,412.7h1.4v1.4h-1.4zM290.1,412.4h1.4v1.4h-1.4zM290.3,398.7h1.4v1.4h-1.4zM290.4,404.9h1.4v1.4h-1.4zM290.6,403.7h1.4v1.4h-1.4zM290.7,404.0h1.4v1.4h-1.4zM290.9,414.0h1.4v1.4h-1.4zM291.1,410.4h1.4v1.4h-1.4zM291.2,410.5h1.4v1.4h-1.4zM291.4,395.2h1.4v1.4h-1.4zM291.5,408.0h1.4v1.4h-1.4zM291.7,400.5h1.4v1.4h-1.4zM291.9,402.6h1.4v1.4h-1.4zM292.0,395.0h1.4v1.4h-1.4zM292.2,406.4h1.4v1.4h-1.4zM292.3,417.8h1.4v1.4h-1.4zM292.5,415.5h1.4v1.4h-1.4zM292.7,415.6h1.4v1.4h-1.4zM292.8,408.9h1.4v1.4h-1.4zM293.0,407.3h1.4v1.4h-1.4zM293.1,418.6h1.4v1.4h-1.4zM293.3,415.1h1.4v1.4h-1.4zM293.5,411.8h1.4v1.4h-1.4zM293.6,397.5h1.4v1.4h-1.4zM293.8,417.9h1.4v1.4h-1.4zM293.9,401.8h1.4v1.4h-1.4zM294.1,417.0h1.4v1.4h-1.4zM294.3,422.2h1.4v1.4h-1.4zM294.4,419.4h1.4v1.4h-1.4zM294.6,413.3h1.4v1.4h-1.4zM294.7,421.4h1.4v1.4h-1.4zM294.9,420.7h1.4v1.4h-1.4zM295.1,423.7h1.4v1.4h-1.4zM295.2,420.7h1.4v1.4h-1.4zM295.4,439.1h1.4v1.4h-1.4zM295.5,440.9h1.4v1.4h-1.4zM295.7,431.2h1.4v1.4h-1.4zM295.9,410.8h1.4v1.4h-1.4zM296.0,434.8h1.4v1.4h-1.4zM296.2,441.8h1.4v1.4h-1.4zM296.3,442.6h1.4v1.4h-1.4zM296.5,450.6h1.4v1.4h-1.4zM296.7,433.7h1.4v1.4h-1.4zM296.8,431.2h1.4v1.4h-1.4zM297.0,442.6h1.4v1.4h-1.4zM297.1,448.2h1.4v1.4h-1.4zM297.3,442.6h1.4v1.4h-1.4zM297.5,431.9h1.4v1.4h-1.4zM297.6,428.3h1.4v1.4h-1.4zM297.8,449.0h1.4v1.4h-1.4zM297.9,449.2h1.4v1.4h-1.4zM298.1,438.7h1.4v1.4h-1.4zM298.3,433.5h1.4v1.4h-1.4zM298.4,438.3h1.4v1.4h-1.4zM298.6,431.5h1.4v1.4h-1.4zM298.7,440.6h1.4v1.4h-1.4zM298.9,444.9h1.4v1.4h-1.4zM299.1,444.5h1.4v1.4h-1.4zM299.2,446.1h1.4v1.4h-1.4zM299.4,425.0h1.4v1.4h-1.4zM299.5,449.4h1.4v1.4h-1.4zM299.7,435.2h1.4v1.4h-1.4zM299.9,448.2h1.4v1.4h-1.4zM300.0,431.3h1.4v1.4h-1.4zM300.2,448.8h1.4v1.4h-1.4zM300.3,438.6h1.4v1.4h-1.4zM300.5,450.1h1.4v1.4h-1.4zM300.7,434.7h1.4v1.4h-1.4zM300.8,419.6h1.4v1.4h-1.4zM301.0,431.4h1.4v1.4h-1.4zM301.1,432.9h1.4v1.4h-1.4zM301.3,433.2h1.4v1.4h-1.4zM301.5,447.0h1.4v1.4h-1.4zM301.6,441.7h1.4v1.4h-1.4zM301.8,443.7h1.4v1.4h-1.4zM301.9,439.7h1.4v1.4h-1.4zM302.1,445.3h1.4v1.4h-1.4zM302.3,441.1h1.4v1.4h-1.4zM302.4,438.2h1.4v1.4h-1.4zM302.6,440.5h1.4v1.4h-1.4zM302.7,436.1h1.4v1.4h-1.4zM302.9,435.9h1.4v1.4h-1.4zM303.1,445.6h1.4v1.4h-1.4zM303.2,453.0h1.4v1.4h-1.4zM303.4,443.2h1.4v1.4h-1.4zM303.5,442.7h1.4v1.4h-1.4zM303.7,435.0h1.4v1.4h-1.4zM303.9,436.5h1.4v1.4h-1.4zM304.0,441.6h1.4v1.4h-1.4zM304.2,444.3h1.4v1.4h-1.4zM304.3,436.0h1.4v1.4h-1.4zM304.5,446.0h1.4v1.4h-1.4zM304.7,435.4h1.4v1.4h-1.4zM304.8,437.3h1.4v1.4h-1.4zM305.0,436.9h1.4v1.4h-1.4zM305.1,448.5h1.4v1.4h-1.4zM305.3,449.0h1.4v1.4h-1.4zM305.5,451.7h1.4v1.4h-1.4zM305.6,418.0h1.4v1.4h-1.4zM305.8,443.3h1.4v1.4h-1.4zM305.9,434.8h1.4v1.4h-1.4zM306.1,440.5h1.4v1.4h-1.4zM306.3,444.4h1.4v1.4h-1.4zM306.4,436.2h1.4v1.4h-1.4zM306.6,430.4h1.4v1.4h-1.4zM306.7,429.3h1.4v1.4h-1.4zM306.9,443.4h1.4v1.4h-1.4zM307.1,426.7h1.4v1.4h-1.4zM307.2,444.0h1.4v1.4h-1.4zM307.4,450.3h1.4v1.4h-1.4zM307.5,428.6h1.4v1.4h-1.4zM307.7,426.9h1.4v1.4h-1.4zM307.9,445.4h1.4v1.4h-1.4zM308.0,442.1h1.4v1.4h-1.4zM308.2,432.3h1.4v1.4h-1.4zM308.3,441.6h1.4v1.4h-1.4zM308.5,444.1h1.4v1.4h-1.4zM308.7,441.6h1.4v1.4h-1.4zM308.8,448.5h1.4v1.4h-1.4zM309.0,434.7h1.4v1.4h-1.4zM309.1,436.2h1.4v1.4h-1.4zM309.3,445.2h1.4v1.4h-1.4zM309.5,436.2h1.4v1.4h-1.4zM309.6,443.1h1.4v1.4h-1.4zM309.8,432.8h1.4v1.4h-1.4zM309.9,429.8h1.4v1.4h-1.4zM310.1,442.5h1.4v1.4h-1.4zM310.3,442.4h1.4v1.4h-1.4zM310.4,437.3h1.4v1.4h-1.4zM310.6,446.1h1.4v1.4h-1.4zM310.7,442.5h1.4v1.4h-1.4zM310.9,441.5h1.4v1.4h-1.4zM311.1,426.9h1.4v1.4h-1.4zM311.2,430.0h1.4v1.4h-1.4zM311.4,432.3h1.4v1.4h-1.4zM311.5,437.3h1.4v1.4h-1.4zM311.7,447.3h1.4v1.4h-1.4zM311.9,433.1h1.4v1.4h-1.4zM312.0,433.7h1.4v1.4h-1.4zM312.2,429.7h1.4v1.4h-1.4zM312.3,440.9h1.4v1.4h-1.4zM312.5,436.3h1.4v1.4h-1.4zM312.7,432.4h1.4v1.4h-1.4zM312.8,440.7h1.4v1.4h-1.4zM313.0,445.9h1.4v1.4h-1.4zM313.1,434.1h1.4v1.4h-1.4zM313.3,429.8h1.4v1.4h-1.4zM313.5,439.4h1.4v1.4h-1.4zM313.6,447.8h1.4v1.4h-1.4zM313.8,446.2h1.4v1.4h-1.4zM313.9,440.0h1.4v1.4h-1.4zM314.1,442.6h1.4v1.4h-1.4zM314.3,438.6h1.4v1.4h-1.4zM314.4,426.1h1.4v1.4h-1.4zM314.6,439.0h1.4v1.4h-1.4zM314.7,432.4h1.4v1.4h-1.4zM314.9,432.2h1.4v1.4h-1.4zM315.1,441.9h1.4v1.4h-1.4zM315.2,437.8h1.4v1.4h-1.4zM315.4,446.3h1.4v1.4h-1.4zM315.5,448.3h1.4v1.4h-1.4zM315.7,438.4h1.4v1.4h-1.4zM315.9,442.1h1.4v1.4h-1.4zM316.0,429.5h1.4v1.4h-1.4zM316.2,440.5h1.4v1.4h-1.4zM316.3,448.7h1.4v1.4h-1.4zM316.5,436.3h1.4v1.4h-1.4zM316.7,440.1h1.4v1.4h-1.4zM316.8,443.8h1.4v1.4h-1.4zM317.0,439.1h1.4v1.4h-1.4zM317.1,421.9h1.4v1.4h-1.4zM317.3,425.5h1.4v1.4h-1.4zM317.5,436.2h1.4v1.4h-1.4zM317.6,442.6h1.4v1.4h-1.4zM317.8,422.3h1.4v1.4h-1.4zM317.9,430.9h1.4v1.4h-1.4zM318.1,406.1h1.4v1.4h-1.4zM318.3,404.9h1.4v1.4h-1.4zM318.4,403.4h1.4v1.4h-1.4zM318.6,405.3h1.4v1.4h-1.4zM318.7,400.5h1.4v1.4h-1.4zM318.9,400.7h1.4v1.4h-1.4zM319.1,414.0h1.4v1.4h-1.4zM319.2,386.0h1.4v1.4h-1.4zM319.4,386.0h1.4v1.4h-1.4zM319.5,385.2h1.4v1.4h-1.4zM319.7,390.9h1.4v1.4h-1.4zM319.9,357.9h1.4v1.4h-1.4zM320.0,378.2h1.4v1.4h-1.4zM320.2,393.5h1.4v1.4h-1.4zM320.3,336.2h1.4v1.4h-1.4zM320.5,411.5h1.4v1.4h-1.4zM320.7,415.9h1.4v1.4h-1.4zM320.8,424.4h1.4v1.4h-1.4zM321.0,379.6h1.4v1.4h-1.4zM321.1,381.4h1.4v1.4h-1.4zM321.3,420.5h1.4v1.4h-1.4zM321.5,373.6h1.4v1.4h-1.4zM321.6,384.2h1.4v1.4h-1.4zM321.8,398.6h1.4v1.4h-1.4zM321.9,373.4h1.4v1.4h-1.4zM322.1,423.3h1.4v1.4h-1.4zM322.3,421.8h1.4v1.4h-1.4zM322.4,395.7h1.4v1.4h-1.4zM322.6,418.2h1.4v1.4h-1.4zM322.7,412.9h1.4v1.4h-1.4zM322.9,434.5h1.4v1.4h-1.4zM323.1,367.2h1.4v1.4h-1.4zM323.2,389.3h1.4v1.4h-1.4zM323.4,383.3h1.4v1.4h-1.4zM323.5,367.3h1.4v1.4h-1.4zM323.7,417.8h1.4v1.4h-1.4zM323.9,384.4h1.4v1.4h-1.4zM324.0,399.9h1.4v1.4h-1.4zM324.2,375.8h1.4v1.4h-1.4zM324.3,392.1h1.4v1.4h-1.4zM324.5,421.3h1.4v1.4h-1.4zM324.7,436.1h1.4v1.4h-1.4zM324.8,395.3h1.4v1.4h-1.4zM325.0,383.3h1.4v1.4h-1.4zM325.1,421.2h1.4v1.4h-1.4zM325.3,386.7h1.4v1.4h-1.4zM325.5,408.2h1.4v1.4h-1.4zM325.6,431.2h1.4v1.4h-1.4zM325.8,398.0h1.4v1.4h-1.4zM325.9,378.3h1.4v1.4h-1.4zM326.1,423.3h1.4v1.4h-1.4zM326.3,400.0h1.4v1.4h-1.4zM326.4,415.0h1.4v1.4h-1.4zM326.6,426.5h1.4v1.4h-1.4zM326.7,383.4h1.4v1.4h-1.4zM326.9,425.1h1.4v1.4h-1.4zM327.1,418.6h1.4v1.4h-1.4zM327.2,390.2h1.4v1.4h-1.4zM327.4,422.5h1.4v1.4h-1.4zM327.5,414.1h1.4v1.4h-1.4zM327.7,410.4h1.4v1.4h-1.4zM327.9,416.6h1.4v1.4h-1.4zM328.0,402.2h1.4v1.4h-1.4zM328.2,401.4h1.4v1.4h-1.4zM328.3,411.1h1.4v1.4h-1.4zM328.5,430.3h1.4v1.4h-1.4zM328.7,424.0h1.4v1.4h-1.4zM328.8,395.2h1.4v1.4h-1.4zM329.0,390.0h1.4v1.4h-1.4zM329.1,409.5h1.4v1.4h-1.4zM329.3,436.1h1.4v1.4h-1.4zM329.5,415.9h1.4v1.4h-1.4zM329.6,427.0h1.4v1.4h-1.4zM329.8,395.1h1.4v1.4h-1.4zM329.9,429.8h1.4v1.4h-1.4zM330.1,413.4h1.4v1.4h-1.4zM330.3,417.4h1.4v1.4h-1.4zM330.4,418.7h1.4v1.4h-1.4zM330.6,403.6h1.4v1.4h-1.4zM330.7,400.1h1.4v1.4h-1.4zM330.9,434.1h1.4v1.4h-1.4zM331.1,413.9h1.4v1.4h-1.4zM331.2,427.3h1.4v1.4h-1.4zM331.4,423.9h1.4v1.4h-1.4zM331.5,426.9h1.4v1.4h-1.4zM331.7,411.0h1.4v1.4h-1.4zM331.9,417.4h1.4v1.4h-1.4zM332.0,411.3h1.4v1.4h-1.4zM332.2,429.8h1.4v1.4h-1.4zM332.3,408.0h1.4v1.4h-1.4zM332.5,404.0h1.4v1.4h-1.4zM332.7,394.8h1.4v1.4h-1.4zM332.8,426.1h1.4v1.4h-1.4zM333.0,417.3h1.4v1.4h-1.4zM333.1,424.4h1.4v1.4h-1.4zM333.3,421.7h1.4v1.4h-1.4zM333.5,408.6h1.4v1.4h-1.4zM333.6,427.3h1.4v1.4h-1.4zM333.8,423.3h1.4v1.4h-1.4zM333.9,409.7h1.4v1.4h-1.4zM334.1,398.7h1.4v1.4h-1.4zM334.3,434.2h1.4v1.4h-1.4zM334.4,420.4h1.4v1.4h-1.4zM334.6,436.3h1.4v1.4h-1.4zM334.7,424.1h1.4v1.4h-1.4zM334.9,400.7h1.4v1.4h-1.4zM335.1,419.4h1.4v1.4h-1.4zM335.2,407.5h1.4v1.4h-1.4zM335.4,396.4h1.4v1.4h-1.4zM335.5,403.2h1.4v1.4h-1.4zM335.7,411.7h1.4v1.4h-1.4zM335.9,418.9h1.4v1.4h-1.4zM336.0,426.8h1.4v1.4h-1.4zM336.2,404.6h1.4v1.4h-1.4zM336.3,422.4h1.4v1.4h-1.4zM336.5,399.6h1.4v1.4h-1.4zM336.7,398.5h1.4v1.4h-1.4zM336.8,413.3h1.4v1.4h-1.4zM337.0,398.2h1.4v1.4h-1.4zM337.1,410.6h1.4v1.4h-1.4zM337.3,428.4h1.4v1.4h-1.4zM337.5,412.7h1.4v1.4h-1.4zM337.6,434.8h1.4v1.4h-1.4zM337.8,424.4h1.4v1.4h-1.4zM337.9,424.0h1.4v1.4h-1.4zM338.1,412.6h1.4v1.4h-1.4zM338.3,408.6h1.4v1.4h-1.4zM338.4,417.0h1.4v1.4h-1.4zM338.6,401.3h1.4v1.4h-1.4zM338.7,410.9h1.4v1.4h-1.4zM338.9,404.1h1.4v1.4h-1.4zM339.1,411.3h1.4v1.4h-1.4zM339.2,429.6h1.4v1.4h-1.4zM339.4,418.9h1.4v1.4h-1.4zM339.5,431.5h1.4v1.4h-1.4zM339.7,425.7h1.4v1.4h-1.4zM339.9,391.3h1.4v1.4h-1.4zM340.0,428.1h1.4v1.4h-1.4zM340.2,395.9h1.4v1.4h-1.4zM340.3,413.2h1.4v1.4h-1.4zM340.5,418.1h1.4v1.4h-1.4zM340.7,438.7h1.4v1.4h-1.4zM340.8,431.3h1.4v1.4h-1.4zM341.0,418.1h1.4v1.4h-1.4zM341.1,439.8h1.4v1.4h-1.4zM341.3,436.0h1.4v1.4h-1.4zM341.5,428.7h1.4v1.4h-1.4zM341.6,425.4h1.4v1.4h-1.4zM341.8,438.1h1.4v1.4h-1.4zM341.9,449.5h1.4v1.4h-1.4zM342.1,431.9h1.4v1.4h-1.4zM342.3,439.0h1.4v1.4h-1.4zM342.4,449.3h1.4v1.4h-1.4zM342.6,451.5h1.4v1.4h-1.4zM342.7,450.3h1.4v1.4h-1.4zM342.9,448.6h1.4v1.4h-1.4zM343.1,450.6h1.4v1.4h-1.4zM343.2,447.2h1.4v1.4h-1.4zM343.4,449.4h1.4v1.4h-1.4zM343.5,442.4h1.4v1.4h-1.4zM343.7,437.4h1.4v1.4h-1.4zM343.9,446.7h1.4v1.4h-1.4zM344.0,437.0h1.4v1.4h-1.4zM344.2,438.6h1.4v1.4h-1.4zM344.3,435.2h1.4v1.4h-1.4zM344.5,440.9h1.4v1.4h-1.4zM344.7,433.1h1.4v1.4h-1.4zM344.8,449.7h1.4v1.4h-1.4zM345.0,441.0h1.4v1.4h-1.4zM345.1,446.1h1.4v1.4h-1.4zM345.3,447.6h1.4v1.4h-1.4zM345.5,446.0h1.4v1.4h-1.4zM345.6,445.6h1.4v1.4h-1.4zM345.8,439.9h1.4v1.4h-1.4zM345.9,437.2h1.4v1.4h-1.4zM346.1,446.8h1.4v1.4h-1.4zM346.3,442.1h1.4v1.4h-1.4zM346.4,438.5h1.4v1.4h-1.4zM346.6,443.6h1.4v1.4h-1.4zM346.7,432.9h1.4v1.4h-1.4zM346.9,428.1h1.4v1.4h-1.4zM347.1,402.9h1.4v1.4h-1.4zM347.2,436.8h1.4v1.4h-1.4zM347.4,447.0h1.4v1.4h-1.4zM347.5,411.7h1.4v1.4h-1.4zM347.7,432.8h1.4v1.4h-1.4zM347.9,433.2h1.4v1.4h-1.4zM348.0,446.0h1.4v1.4h-1.4zM348.2,447.1h1.4v1.4h-1.4zM348.3,438.2h1.4v1.4h-1.4zM348.5,439.1h1.4v1.4h-1.4zM348.7,442.2h1.4v1.4h-1.4zM348.8,438.6h1.4v1.4h-1.4zM349.0,447.0h1.4v1.4h-1.4zM349.1,451.3h1.4v1.4h-1.4zM349.3,438.4h1.4v1.4h-1.4zM349.5,439.1h1.4v1.4h-1.4zM349.6,440.5h1.4v1.4h-1.4zM349.8,446.9h1.4v1.4h-1.4zM349.9,451.1h1.4v1.4h-1.4zM350.1,450.9h1.4v1.4h-1.4zM350.3,435.7h1.4v1.4h-1.4zM350.4,437.3h1.4v1.4h-1.4zM350.6,433.9h1.4v1.4h-1.4zM350.7,426.5h1.4v1.4h-1.4zM350.9,432.4h1.4v1.4h-1.4zM351.1,444.6h1.4v1.4h-1.4zM351.2,436.2h1.4v1.4h-1.4zM351.4,429.1h1.4v1.4h-1.4zM351.5,432.1h1.4v1.4h-1.4zM351.7,440.1h1.4v1.4h-1.4zM351.9,444.1h1.4v1.4h-1.4zM352.0,447.2h1.4v1.4h-1.4zM352.2,446.0h1.4v1.4h-1.4zM352.3,431.4h1.4v1.4h-1.4zM352.5,435.1h1.4v1.4h-1.4zM352.7,445.2h1.4v1.4h-1.4zM352.8,449.7h1.4v1.4h-1.4zM353.0,443.3h1.4v1.4h-1.4zM353.1,434.8h1.4v1.4h-1.4zM353.3,449.9h1.4v1.4h-1.4zM353.5,450.0h1.4v1.4h-1.4zM353.6,448.1h1.4v1.4h-1.4zM353.8,439.7h1.4v1.4h-1.4zM353.9,445.6h1.4v1.4h-1.4zM354.1,432.9h1.4v1.4h-1.4zM354.3,432.5h1.4v1.4h-1.4zM354.4,430.7h1.4v1.4h-1.4zM354.6,435.0h1.4v1.4h-1.4zM354.7,437.4h1.4v1.4h-1.4zM354.9,431.4h1.4v1.4h-1.4zM355.1,429.7h1.4v1.4h-1.4zM355.2,440.3h1.4v1.4h-1.4zM355.4,442.8h1.4v1.4h-1.4zM355.5,437.3h1.4v1.4h-1.4zM355.7,436.1h1.4v1.4h-1.4zM355.9,439.3h1.4v1.4h-1.4zM356.0,450.6h1.4v1.4h-1.4zM356.2,433.4h1.4v1.4h-1.4zM356.3,448.1h1.4v1.4h-1.4zM356.5,437.3h1.4v1.4h-1.4zM356.7,451.6h1.4v1.4h-1.4zM356.8,438.1h1.4v1.4h-1.4zM357.0,450.2h1.4v1.4h-1.4zM357.1,436.3h1.4v1.4h-1.4zM357.3,447.9h1.4v1.4h-1.4zM357.5,435.4h1.4v1.4h-1.4zM357.6,437.6h1.4v1.4h-1.4zM357.8,429.7h1.4v1.4h-1.4zM357.9,447.4h1.4v1.4h-1.4zM358.1,443.9h1.4v1.4h-1.4zM358.3,451.4h1.4v1.4h-1.4zM358.4,438.5h1.4v1.4h-1.4zM358.6,432.4h1.4v1.4h-1.4zM358.7,448.5h1.4v1.4h-1.4zM358.9,449.6h1.4v1.4h-1.4zM359.1,442.4h1.4v1.4h-1.4zM359.2,449.9h1.4v1.4h-1.4zM359.4,434.5h1.4v1.4h-1.4zM359.5,439.3h1.4v1.4h-1.4zM359.7,444.4h1.4v1.4h-1.4zM359.9,442.7h1.4v1.4h-1.4zM360.0,440.7h1.4v1.4h-1.4zM360.2,438.9h1.4v1.4h-1.4zM360.3,422.8h1.4v1.4h-1.4zM360.5,449.7h1.4v1.4h-1.4zM360.7,448.9h1.4v1.4h-1.4zM360.8,434.6h1.4v1.4h-1.4zM361.0,432.3h1.4v1.4h-1.4zM361.1,429.1h1.4v1.4h-1.4zM361.3,442.9h1.4v1.4h-1.4zM361.5,438.5h1.4v1.4h-1.4zM361.6,440.0h1.4v1.4h-1.4zM361.8,440.9h1.4v1.4h-1.4zM361.9,448.0h1.4v1.4h-1.4zM362.1,435.2h1.4v1.4h-1.4zM362.3,447.8h1.4v1.4h-1.4zM362.4,433.9h1.4v1.4h-1.4zM362.6,417.9h1.4v1.4h-1.4zM362.7,431.2h1.4v1.4h-1.4zM362.9,442.4h1.4v1.4h-1.4zM363.1,449.1h1.4v1.4h-1.4zM363.2,421.0h1.4v1.4h-1.4zM363.4,436.8h1.4v1.4h-1.4zM363.5,425.2h1.4v1.4h-1.4zM363.7,435.9h1.4v1.4h-1.4zM363.9,416.9h1.4v1.4h-1.4zM364.0,415.4h1.4v1.4h-1.4zM364.2,410.6h1.4v1.4h-1.4zM364.3,424.6h1.4v1.4h-1.4zM364.5,411.8h1.4v1.4h-1.4zM364.7,379.5h1.4v1.4h-1.4zM364.8,407.6h1.4v1.4h-1.4zM365.0,401.3h1.4v1.4h-1.4zM365.1,425.4h1.4v1.4h-1.4zM365.3,408.5h1.4v1.4h-1.4zM365.5,370.6h1.4v1.4h-1.4zM365.6,388.5h1.4v1.4h-1.4zM365.8,367.2h1.4v1.4h-1.4zM365.9,395.4h1.4v1.4h-1.4zM366.1,382.2h1.4v1.4h-1.4zM366.3,386.2h1.4v1.4h-1.4zM366.4,386.9h1.4v1.4h-1.4zM366.6,412.5h1.4v1.4h-1.4zM366.7,389.8h1.4v1.4h-1.4zM366.9,396.8h1.4v1.4h-1.4zM367.1,357.7h1.4v1.4h-1.4zM367.2,387.9h1.4v1.4h-1.4zM367.4,372.3h1.4v1.4h-1.4zM367.5,399.8h1.4v1.4h-1.4zM367.7,372.1h1.4v1.4h-1.4zM367.9,376.1h1.4v1.4h-1.4zM368.0,388.2h1.4v1.4h-1.4zM368.2,413.8h1.4v1.4h-1.4zM368.3,405.5h1.4v1.4h-1.4zM368.5,381.7h1.4v1.4h-1.4zM368.7,406.0h1.4v1.4h-1.4zM368.8,367.7h1.4v1.4h-1.4zM369.0,405.4h1.4v1.4h-1.4zM369.1,368.5h1.4v1.4h-1.4zM369.3,413.8h1.4v1.4h-1.4zM369.5,370.5h1.4v1.4h-1.4zM369.6,370.6h1.4v1.4h-1.4zM369.8,364.3h1.4v1.4h-1.4zM369.9,386.4h1.4v1.4h-1.4zM370.1,366.9h1.4v1.4h-1.4zM370.3,360.0h1.4v1.4h-1.4zM370.4,368.5h1.4v1.4h-1.4zM370.6,385.3h1.4v1.4h-1.4zM370.7,370.8h1.4v1.4h-1.4zM370.9,402.2h1.4v1.4h-1.4zM371.1,391.7h1.4v1.4h-1.4zM371.2,379.3h1.4v1.4h-1.4zM371.4,373.6h1.4v1.4h-1.4zM371.5,409.1h1.4v1.4h-1.4zM371.7,383.7h1.4v1.4h-1.4zM371.9,410.4h1.4v1.4h-1.4zM372.0,384.0h1.4v1.4h-1.4zM372.2,382.6h1.4v1.4h-1.4zM372.3,410.6h1.4v1.4h-1.4zM372.5,380.6h1.4v1.4h-1.4zM372.7,412.2h1.4v1.4h-1.4zM372.8,411.6h1.4v1.4h-1.4zM373.0,411.9h1.4v1.4h-1.4zM373.1,389.7h1.4v1.4h-1.4zM373.3,370.0h1.4v1.4h-1.4zM373.5,398.1h1.4v1.4h-1.4zM373.6,402.3h1.4v1.4h-1.4zM373.8,385.6h1.4v1.4h-1.4zM373.9,385.9h1.4v1.4h-1.4zM374.1,389.2h1.4v1.4h-1.4zM374.3,401.0h1.4v1.4h-1.4zM374.4,404.8h1.4v1.4h-1.4zM374.6,407.3h1.4v1.4h-1.4zM374.7,404.9h1.4v1.4h-1.4zM374.9,376.0h1.4v1.4h-1.4zM375.1,382.2h1.4v1.4h-1.4zM375.2,417.6h1.4v1.4h-1.4zM375.4,395.1h1.4v1.4h-1.4zM375.5,379.9h1.4v1.4h-1.4zM375.7,397.6h1.4v1.4h-1.4zM375.9,409.6h1.4v1.4h-1.4zM376.0,380.0h1.4v1.4h-1.4zM376.2,401.1h1.4v1.4h-1.4zM376.3,375.3h1.4v1.4h-1.4zM376.5,376.5h1.4v1.4h-1.4zM376.7,387.0h1.4v1.4h-1.4zM376.8,414.8h1.4v1.4h-1.4zM377.0,402.2h1.4v1.4h-1.4zM377.1,402.6h1.4v1.4h-1.4zM377.3,395.5h1.4v1.4h-1.4zM377.5,366.2h1.4v1.4h-1.4zM377.6,375.7h1.4v1.4h-1.4zM377.8,376.9h1.4v1.4h-1.4zM377.9,378.2h1.4v1.4h-1.4zM378.1,373.1h1.4v1.4h-1.4zM378.3,378.2h1.4v1.4h-1.4zM378.4,365.6h1.4v1.4h-1.4zM378.6,378.0h1.4v1.4h-1.4zM378.7,380.7h1.4v1.4h-1.4zM378.9,394.3h1.4v1.4h-1.4zM379.1,378.5h1.4v1.4h-1.4zM379.2,407.8h1.4v1.4h-1.4zM379.4,362.0h1.4v1.4h-1.4zM379.5,394.8h1.4v1.4h-1.4zM379.7,375.4h1.4v1.4h-1.4zM379.9,414.3h1.4v1.4h-1.4zM380.0,409.5h1.4v1.4h-1.4zM380.2,388.5h1.4v1.4h-1.4zM380.3,372.1h1.4v1.4h-1.4zM380.5,398.4h1.4v1.4h-1.4zM380.7,405.9h1.4v1.4h-1.4zM380.8,415.6h1.4v1.4h-1.4zM381.0,390.9h1.4v1.4h-1.4zM381.1,403.2h1.4v1.4h-1.4zM381.3,393.2h1.4v1.4h-1.4zM381.5,373.2h1.4v1.4h-1.4zM381.6,405.5h1.4v1.4h-1.4zM381.8,407.6h1.4v1.4h-1.4zM381.9,381.8h1.4v1.4h-1.4zM382.1,372.1h1.4v1.4h-1.4zM382.3,392.3h1.4v1.4h-1.4zM382.4,413.2h1.4v1.4h-1.4zM382.6,387.6h1.4v1.4h-1.4zM382.7,401.7h1.4v1.4h-1.4zM382.9,369.7h1.4v1.4h-1.4zM383.1,380.0h1.4v1.4h-1.4zM383.2,397.0h1.4v1.4h-1.4zM383.4,423.8h1.4v1.4h-1.4zM383.5,426.2h1.4v1.4h-1.4zM383.7,404.7h1.4v1.4h-1.4zM383.9,414.0h1.4v1.4h-1.4zM384.0,426.3h1.4v1.4h-1.4zM384.2,403.9h1.4v1.4h-1.4zM384.3,410.2h1.4v1.4h-1.4zM384.5,409.3h1.4v1.4h-1.4zM384.7,417.1h1.4v1.4h-1.4zM384.8,422.5h1.4v1.4h-1.4zM385.0,411.5h1.4v1.4h-1.4zM385.1,427.7h1.4v1.4h-1.4zM385.3,442.4h1.4v1.4h-1.4zM385.5,440.4h1.4v1.4h-1.4zM385.6,420.8h1.4v1.4h-1.4zM385.8,438.5h1.4v1.4h-1.4zM385.9,424.5h1.4v1.4h-1.4zM386.1,444.4h1.4v1.4h-1.4zM386.3,442.9h1.4v1.4h-1.4zM386.4,441.8h1.4v1.4h-1.4zM386.6,436.4h1.4v1.4h-1.4zM386.7,421.5h1.4v1.4h-1.4zM386.9,417.4h1.4v1.4h-1.4zM387.1,424.8h1.4v1.4h-1.4zM387.2,422.8h1.4v1.4h-1.4zM387.4,432.2h1.4v1.4h-1.4zM387.5,446.1h1.4v1.4h-1.4zM387.7,437.8h1.4v1.4h-1.4zM387.9,439.5h1.4v1.4h-1.4zM388.0,432.7h1.4v1.4h-1.4zM388.2,440.1h1.4v1.4h-1.4zM388.3,445.5h1.4v1.4h-1.4zM388.5,433.2h1.4v1.4h-1.4zM388.7,441.2h1.4v1.4h-1.4zM388.8,435.8h1.4v1.4h-1.4zM389.0,439.2h1.4v1.4h-1.4zM389.1,434.6h1.4v1.4h-1.4zM389.3,444.9h1.4v1.4h-1.4zM389.5,450.3h1.4v1.4h-1.4zM389.6,434.9h1.4v1.4h-1.4zM389.8,448.7h1.4v1.4h-1.4zM389.9,450.2h1.4v1.4h-1.4zM390.1,449.6h1.4v1.4h-1.4zM390.3,447.1h1.4v1.4h-1.4zM390.4,446.8h1.4v1.4h-1.4zM390.6,428.3h1.4v1.4h-1.4zM390.7,454.3h1.4v1.4h-1.4zM390.9,440.0h1.4v1.4h-1.4zM391.1,430.6h1.4v1.4h-1.4zM391.2,457.2h1.4v1.4h-1.4zM391.4,446.0h1.4v1.4h-1.4zM391.5,449.2h1.4v1.4h-1.4zM391.7,432.1h1.4v1.4h-1.4zM391.9,433.7h1.4v1.4h-1.4zM392.0,453.9h1.4v1.4h-1.4zM392.2,429.5h1.4v1.4h-1.4zM392.3,445.4h1.4v1.4h-1.4zM392.5,450.0h1.4v1.4h-1.4zM392.7,440.3h1.4v1.4h-1.4zM392.8,447.1h1.4v1.4h-1.4zM393.0,435.6h1.4v1.4h-1.4zM393.1,446.2h1.4v1.4h-1.4zM393.3,428.2h1.4v1.4h-1.4zM393.5,441.0h1.4v1.4h-1.4zM393.6,446.7h1.4v1.4h-1.4zM393.8,433.1h1.4v1.4h-1.4zM393.9,452.5h1.4v1.4h-1.4zM394.1,455.3h1.4v1.4h-1.4zM394.3,449.2h1.4v1.4h-1.4zM394.4,434.6h1.4v1.4h-1.4zM394.6,442.9h1.4v1.4h-1.4zM394.7,450.5h1.4v1.4h-1.4zM394.9,444.8h1.4v1.4h-1.4zM395.1,425.7h1.4v1.4h-1.4zM395.2,454.3h1.4v1.4h-1.4zM395.4,452.5h1.4v1.4h-1.4zM395.5,442.5h1.4v1.4h-1.4zM395.7,436.0h1.4v1.4h-1.4zM395.9,440.3h1.4v1.4h-1.4zM396.0,430.6h1.4v1.4h-1.4zM396.2,450.3h1.4v1.4h-1.4zM396.3,444.2h1.4v1.4h-1.4zM396.5,456.8h1.4v1.4h-1.4zM396.7,457.5h1.4v1.4h-1.4zM396.8,432.2h1.4v1.4h-1.4zM397.0,430.3h1.4v1.4h-1.4zM397.1,458.3h1.4v1.4h-1.4zM397.3,435.2h1.4v1.4h-1.4zM397.5,437.6h1.4v1.4h-1.4zM397.6,453.4h1.4v1.4h-1.4zM397.8,458.6h1.4v1.4h-1.4zM397.9,448.0h1.4v1.4h-1.4zM398.1,445.7h1.4v1.4h-1.4zM398.3,454.6h1.4v1.4h-1.4zM398.4,457.7h1.4v1.4h-1.4zM398.6,435.9h1.4v1.4h-1.4zM398.7,435.6h1.4v1.4h-1.4zM398.9,442.1h1.4v1.4h-1.4zM399.1,443.4h1.4v1.4h-1.4zM399.2,434.3h1.4v1.4h-1.4zM399.4,444.9h1.4v1.4h-1.4zM399.5,410.8h1.4v1.4h-1.4zM399.7,457.9h1.4v1.4h-1.4zM399.9,440.3h1.4v1.4h-1.4zM400.0,432.4h1.4v1.4h-1.4zM400.2,440.4h1.4v1.4h-1.4zM400.3,428.2h1.4v1.4h-1.4zM400.5,454.2h1.4v1.4h-1.4zM400.7,455.0h1.4v1.4h-1.4zM400.8,430.4h1.4v1.4h-1.4zM401.0,449.6h1.4v1.4h-1.4zM401.1,432.7h1.4v1.4h-1.4zM401.3,440.4h1.4v1.4h-1.4zM401.5,444.5h1.4v1.4h-1.4zM401.6,455.1h1.4v1.4h-1.4zM401.8,444.2h1.4v1.4h-1.4zM401.9,430.0h1.4v1.4h-1.4zM402.1,431.0h1.4v1.4h-1.4zM402.3,429.7h1.4v1.4h-1.4zM402.4,442.2h1.4v1.4h-1.4zM402.6,450.7h1.4v1.4h-1.4zM402.7,434.5h1.4v1.4h-1.4zM402.9,432.6h1.4v1.4h-1.4zM403.1,447.6h1.4v1.4h-1.4zM403.2,442.7h1.4v1.4h-1.4zM403.4,440.0h1.4v1.4h-1.4zM403.5,428.5h1.4v1.4h-1.4zM403.7,441.3h1.4v1.4h-1.4zM403.9,423.7h1.4v1.4h-1.4zM404.0,445.6h1.4v1.4h-1.4zM404.2,450.6h1.4v1.4h-1.4zM404.3,452.7h1.4v1.4h-1.4zM404.5,457.5h1.4v1.4h-1.4zM404.7,435.5h1.4v1.4h-1.4zM404.8,445.9h1.4v1.4h-1.4zM405.0,448.2h1.4v1.4h-1.4zM405.1,438.6h1.4v1.4h-1.4zM405.3,449.0h1.4v1.4h-1.4zM405.5,432.8h1.4v1.4h-1.4zM405.6,427.8h1.4v1.4h-1.4zM405.8,424.7h1.4v1.4h-1.4zM405.9,450.2h1.4v1.4h-1.4zM406.1,434.5h1.4v1.4h-1.4zM406.3,433.5h1.4v1.4h-1.4zM406.4,438.8h1.4v1.4h-1.4zM406.6,454.2h1.4v1.4h-1.4zM406.7,440.3h1.4v1.4h-1.4zM406.9,438.3h1.4v1.4h-1.4zM407.1,441.9h1.4v1.4h-1.4zM407.2,441.6h1.4v1.4h-1.4zM407.4,443.3h1.4v1.4h-1.4zM407.5,441.6h1.4v1.4h-1.4zM407.7,428.2h1.4v1.4h-1.4zM407.9,451.5h1.4v1.4h-1.4zM408.0,440.3h1.4v1.4h-1.4zM408.2,432.4h1.4v1.4h-1.4zM408.3,440.2h1.4v1.4h-1.4zM408.5,417.7h1.4v1.4h-1.4zM408.7,447.4h1.4v1.4h-1.4zM408.8,425.8h1.4v1.4h-1.4zM409.0,438.8h1.4v1.4h-1.4zM409.1,397.4h1.4v1.4h-1.4zM409.3,408.4h1.4v1.4h-1.4zM409.5,415.5h1.4v1.4h-1.4zM409.6,423.7h1.4v1.4h-1.4zM409.8,393.2h1.4v1.4h-1.4zM409.9,381.5h1.4v1.4h-1.4zM410.1,400.7h1.4v1.4h-1.4zM410.3,354.0h1.4v1.4h-1.4zM410.4,415.8h1.4v1.4h-1.4zM410.6,387.8h1.4v1.4h-1.4zM410.7,382.2h1.4v1.4h-1.4zM410.9,394.5h1.4v1.4h-1.4zM411.1,363.0h1.4v1.4h-1.4zM411.2,385.8h1.4v1.4h-1.4zM411.4,400.4h1.4v1.4h-1.4zM411.5,413.0h1.4v1.4h-1.4zM411.7,405.9h1.4v1.4h-1.4zM411.9,396.5h1.4v1.4h-1.4zM412.0,397.3h1.4v1.4h-1.4zM412.2,376.6h1.4v1.4h-1.4zM412.3,380.6h1.4v1.4h-1.4zM412.5,371.3h1.4v1.4h-1.4zM412.7,413.2h1.4v1.4h-1.4zM412.8,393.8h1.4v1.4h-1.4zM413.0,384.3h1.4v1.4h-1.4zM413.1,409.6h1.4v1.4h-1.4zM413.3,387.7h1.4v1.4h-1.4zM413.5,398.3h1.4v1.4h-1.4zM413.6,373.7h1.4v1.4h-1.4zM413.8,400.5h1.4v1.4h-1.4zM413.9,399.7h1.4v1.4h-1.4zM414.1,404.6h1.4v1.4h-1.4zM414.3,393.0h1.4v1.4h-1.4zM414.4,364.1h1.4v1.4h-1.4zM414.6,403.2h1.4v1.4h-1.4zM414.7,402.4h1.4v1.4h-1.4zM414.9,395.3h1.4v1.4h-1.4zM415.1,395.1h1.4v1.4h-1.4zM415.2,395.7h1.4v1.4h-1.4zM415.4,375.6h1.4v1.4h-1.4zM415.5,375.1h1.4v1.4h-1.4zM415.7,373.2h1.4v1.4h-1.4zM415.9,385.2h1.4v1.4h-1.4zM416.0,401.7h1.4v1.4h-1.4zM416.2,377.8h1.4v1.4h-1.4zM416.3,385.4h1.4v1.4h-1.4zM416.5,392.4h1.4v1.4h-1.4zM416.7,406.2h1.4v1.4h-1.4zM416.8,386.9h1.4v1.4h-1.4zM417.0,413.3h1.4v1.4h-1.4zM417.1,396.9h1.4v1.4h-1.4zM417.3,403.8h1.4v1.4h-1.4zM417.5,382.6h1.4v1.4h-1.4zM417.6,401.7h1.4v1.4h-1.4zM417.8,403.2h1.4v1.4h-1.4zM417.9,401.3h1.4v1.4h-1.4zM418.1,385.0h1.4v1.4h-1.4zM418.3,381.7h1.4v1.4h-1.4zM418.4,410.6h1.4v1.4h-1.4zM418.6,408.9h1.4v1.4h-1.4zM418.7,395.7h1.4v1.4h-1.4zM418.9,374.6h1.4v1.4h-1.4zM419.1,379.5h1.4v1.4h-1.4zM419.2,403.3h1.4v1.4h-1.4zM419.4,380.0h1.4v1.4h-1.4zM419.5,385.2h1.4v1.4h-1.4zM419.7,392.6h1.4v1.4h-1.4zM419.9,384.1h1.4v1.4h-1.4zM420.0,413.4h1.4v1.4h-1.4zM420.2,387.7h1.4v1.4h-1.4zM420.3,360.5h1.4v1.4h-1.4zM420.5,407.4h1.4v1.4h-1.4zM420.7,414.9h1.4v1.4h-1.4zM420.8,378.9h1.4v1.4h-1.4zM421.0,405.7h1.4v1.4h-1.4zM421.1,402.7h1.4v1.4h-1.4zM421.3,420.6h1.4v1.4h-1.4zM421.5,413.2h1.4v1.4h-1.4zM421.6,395.3h1.4v1.4h-1.4zM421.8,413.1h1.4v1.4h-1.4zM421.9,381.1h1.4v1.4h-1.4zM422.1,401.3h1.4v1.4h-1.4zM422.3,400.1h1.4v1.4h-1.4zM422.4,387.8h1.4v1.4h-1.4zM422.6,419.4h1.4v1.4h-1.4zM422.7,382.6h1.4v1.4h-1.4zM422.9,409.7h1.4v1.4h-1.4zM423.1,399.5h1.4v1.4h-1.4zM423.2,417.1h1.4v1.4h-1.4zM423.4,390.8h1.4v1.4h-1.4zM423.5,418.4h1.4v1.4h-1.4zM423.7,393.4h1.4v1.4h-1.4zM423.9,417.1h1.4v1.4h-1.4zM424.0,411.3h1.4v1.4h-1.4zM424.2,417.3h1.4v1.4h-1.4zM424.3,418.9h1.4v1.4h-1.4zM424.5,403.5h1.4v1.4h-1.4zM424.7,409.2h1.4v1.4h-1.4zM424.8,384.1h1.4v1.4h-1.4zM425.0,425.9h1.4v1.4h-1.4zM425.1,381.4h1.4v1.4h-1.4zM425.3,396.0h1.4v1.4h-1.4zM425.5,420.9h1.4v1.4h-1.4zM425.6,421.9h1.4v1.4h-1.4zM425.8,385.3h1.4v1.4h-1.4zM425.9,411.0h1.4v1.4h-1.4zM426.1,422.5h1.4v1.4h-1.4zM426.3,397.2h1.4v1.4h-1.4zM426.4,394.3h1.4v1.4h-1.4zM426.6,421.6h1.4v1.4h-1.4zM426.7,401.7h1.4v1.4h-1.4zM426.9,414.8h1.4v1.4h-1.4zM427.1,397.4h1.4v1.4h-1.4zM427.2,398.7h1.4v1.4h-1.4zM427.4,417.1h1.4v1.4h-1.4zM427.5,402.3h1.4v1.4h-1.4zM427.7,389.8h1.4v1.4h-1.4zM427.9,399.4h1.4v1.4h-1.4zM428.0,410.8h1.4v1.4h-1.4zM428.2,421.2h1.4v1.4h-1.4zM428.3,391.3h1.4v1.4h-1.4zM428.5,396.4h1.4v1.4h-1.4zM428.7,398.9h1.4v1.4h-1.4zM428.8,404.8h1.4v1.4h-1.4zM429.0,414.1h1.4v1.4h-1.4zM429.1,419.5h1.4v1.4h-1.4zM429.3,430.8h1.4v1.4h-1.4zM429.5,399.3h1.4v1.4h-1.4zM429.6,430.1h1.4v1.4h-1.4zM429.8,414.0h1.4v1.4h-1.4zM429.9,399.6h1.4v1.4h-1.4zM430.1,436.6h1.4v1.4h-1.4zM430.3,414.2h1.4v1.4h-1.4zM430.4,424.0h1.4v1.4h-1.4zM430.6,437.1h1.4v1.4h-1.4zM430.7,417.4h1.4v1.4h-1.4zM430.9,433.8h1.4v1.4h-1.4zM431.1,439.0h1.4v1.4h-1.4zM431.2,452.7h1.4v1.4h-1.4zM431.4,432.3h1.4v1.4h-1.4zM431.5,433.2h1.4v1.4h-1.4zM431.7,432.7h1.4v1.4h-1.4zM431.9,431.3h1.4v1.4h-1.4zM432.0,442.2h1.4v1.4h-1.4zM432.2,434.4h1.4v1.4h-1.4zM432.3,431.4h1.4v1.4h-1.4zM432.5,433.5h1.4v1.4h-1.4zM432.7,443.4h1.4v1.4h-1.4zM432.8,431.0h1.4v1.4h-1.4zM433.0,437.1h1.4v1.4h-1.4zM433.1,434.0h1.4v1.4h-1.4zM433.3,455.2h1.4v1.4h-1.4zM433.5,454.9h1.4v1.4h-1.4zM433.6,450.2h1.4v1.4h-1.4zM433.8,448.0h1.4v1.4h-1.4zM433.9,439.0h1.4v1.4h-1.4zM434.1,435.8h1.4v1.4h-1.4zM434.3,449.0h1.4v1.4h-1.4zM434.4,445.8h1.4v1.4h-1.4zM434.6,438.3h1.4v1.4h-1.4zM434.7,458.7h1.4v1.4h-1.4zM434.9,455.7h1.4v1.4h-1.4zM435.1,455.7h1.4v1.4h-1.4zM435.2,438.2h1.4v1.4h-1.4zM435.4,433.4h1.4v1.4h-1.4zM435.5,458.6h1.4v1.4h-1.4zM435.7,452.9h1.4v1.4h-1.4zM435.9,447.7h1.4v1.4h-1.4zM436.0,444.8h1.4v1.4h-1.4zM436.2,446.4h1.4v1.4h-1.4zM436.3,443.6h1.4v1.4h-1.4zM436.5,444.1h1.4v1.4h-1.4zM436.7,449.2h1.4v1.4h-1.4zM436.8,457.9h1.4v1.4h-1.4zM437.0,446.2h1.4v1.4h-1.4zM437.1,441.3h1.4v1.4h-1.4zM437.3,436.7h1.4v1.4h-1.4zM437.5,437.3h1.4v1.4h-1.4zM437.6,453.4h1.4v1.4h-1.4zM437.8,438.9h1.4v1.4h-1.4zM437.9,458.9h1.4v1.4h-1.4zM438.1,451.9h1.4v1.4h-1.4zM438.3,456.8h1.4v1.4h-1.4zM438.4,436.1h1.4v1.4h-1.4zM438.6,440.6h1.4v1.4h-1.4zM438.7,453.0h1.4v1.4h-1.4zM438.9,439.5h1.4v1.4h-1.4zM439.1,442.4h1.4v1.4h-1.4zM439.2,448.3h1.4v1.4h-1.4zM439.4,439.3h1.4v1.4h-1.4zM439.5,460.7h1.4v1.4h-1.4zM439.7,417.1h1.4v1.4h-1.4zM439.9,460.5h1.4v1.4h-1.4zM440.0,459.0h1.4v1.4h-1.4zM440.2,459.8h1.4v1.4h-1.4zM440.3,447.8h1.4v1.4h-1.4zM440.5,461.8h1.4v1.4h-1.4zM440.7,460.6h1.4v1.4h-1.4zM440.8,438.0h1.4v1.4h-1.4zM441.0,451.3h1.4v1.4h-1.4zM441.1,459.9h1.4v1.4h-1.4zM441.3,455.0h1.4v1.4h-1.4zM441.5,446.6h1.4v1.4h-1.4zM441.6,441.1h1.4v1.4h-1.4zM441.8,445.8h1.4v1.4h-1.4zM441.9,457.1h1.4v1.4h-1.4zM442.1,439.7h1.4v1.4h-1.4zM442.3,450.7h1.4v1.4h-1.4zM442.4,440.1h1.4v1.4h-1.4zM442.6,461.4h1.4v1.4h-1.4zM442.7,454.1h1.4v1.4h-1.4zM442.9,439.6h1.4v1.4h-1.4zM443.1,445.9h1.4v1.4h-1.4zM443.2,436.4h1.4v1.4h-1.4zM443.4,437.2h1.4v1.4h-1.4zM443.5,441.7h1.4v1.4h-1.4zM443.7,448.1h1.4v1.4h-1.4zM443.9,456.0h1.4v1.4h-1.4zM444.0,459.9h1.4v1.4h-1.4zM444.2,446.7h1.4v1.4h-1.4zM444.3,458.6h1.4v1.4h-1.4zM444.5,444.0h1.4v1.4h-1.4zM444.7,453.3h1.4v1.4h-1.4zM444.8,437.3h1.4v1.4h-1.4zM445.0,436.7h1.4v1.4h-1.4zM445.1,442.7h1.4v1.4h-1.4zM445.3,450.6h1.4v1.4h-1.4zM445.5,449.1h1.4v1.4h-1.4zM445.6,445.8h1.4v1.4h-1.4zM445.8,432.5h1.4v1.4h-1.4zM445.9,443.4h1.4v1.4h-1.4zM446.1,453.0h1.4v1.4h-1.4zM446.3,437.3h1.4v1.4h-1.4zM446.4,450.8h1.4v1.4h-1.4zM446.6,453.9h1.4v1.4h-1.4zM446.7,442.8h1.4v1.4h-1.4zM446.9,440.7h1.4v1.4h-1.4zM447.1,454.8h1.4v1.4h-1.4zM447.2,447.5h1.4v1.4h-1.4zM447.4,435.2h1.4v1.4h-1.4zM447.5,441.3h1.4v1.4h-1.4zM447.7,448.9h1.4v1.4h-1.4zM447.9,443.8h1.4v1.4h-1.4zM448.0,446.6h1.4v1.4h-1.4zM448.2,442.1h1.4v1.4h-1.4zM448.3,447.4h1.4v1.4h-1.4zM448.5,446.3h1.4v1.4h-1.4zM448.7,437.3h1.4v1.4h-1.4zM448.8,412.2h1.4v1.4h-1.4zM449.0,450.6h1.4v1.4h-1.4zM449.1,439.9h1.4v1.4h-1.4zM449.3,440.6h1.4v1.4h-1.4zM449.5,417.5h1.4v1.4h-1.4zM449.6,456.5h1.4v1.4h-1.4zM449.8,432.3h1.4v1.4h-1.4zM449.9,446.8h1.4v1.4h-1.4zM450.1,430.8h1.4v1.4h-1.4zM450.3,443.7h1.4v1.4h-1.4zM450.4,440.4h1.4v1.4h-1.4zM450.6,453.1h1.4v1.4h-1.4zM450.7,452.1h1.4v1.4h-1.4zM450.9,452.1h1.4v1.4h-1.4zM451.1,439.5h1.4v1.4h-1.4zM451.2,434.7h1.4v1.4h-1.4zM451.4,432.4h1.4v1.4h-1.4zM451.5,438.7h1.4v1.4h-1.4zM451.7,445.3h1.4v1.4h-1.4zM451.9,450.1h1.4v1.4h-1.4zM452.0,442.7h1.4v1.4h-1.4zM452.2,427.3h1.4v1.4h-1.4zM452.3,447.5h1.4v1.4h-1.4zM452.5,434.3h1.4v1.4h-1.4zM452.7,421.3h1.4v1.4h-1.4zM452.8,434.6h1.4v1.4h-1.4zM453.0,435.8h1.4v1.4h-1.4zM453.1,382.5h1.4v1.4h-1.4zM453.3,418.4h1.4v1.4h-1.4zM453.5,427.6h1.4v1.4h-1.4zM453.6,442.3h1.4v1.4h-1.4zM453.8,417.0h1.4v1.4h-1.4zM453.9,435.5h1.4v1.4h-1.4zM454.1,443.6h1.4v1.4h-1.4zM454.3,440.1h1.4v1.4h-1.4zM454.4,431.4h1.4v1.4h-1.4zM454.6,415.6h1.4v1.4h-1.4zM454.7,414.8h1.4v1.4h-1.4zM454.9,436.7h1.4v1.4h-1.4zM455.1,419.3h1.4v1.4h-1.4zM455.2,419.6h1.4v1.4h-1.4zM455.4,438.9h1.4v1.4h-1.4zM455.5,418.0h1.4v1.4h-1.4zM455.7,413.7h1.4v1.4h-1.4zM455.9,433.1h1.4v1.4h-1.4zM456.0,411.6h1.4v1.4h-1.4zM456.2,413.9h1.4v1.4h-1.4zM456.3,419.1h1.4v1.4h-1.4zM456.5,411.3h1.4v1.4h-1.4zM456.7,413.3h1.4v1.4h-1.4zM456.8,414.7h1.4v1.4h-1.4zM457.0,441.4h1.4v1.4h-1.4zM457.1,429.9h1.4v1.4h-1.4zM457.3,412.6h1.4v1.4h-1.4zM457.5,426.9h1.4v1.4h-1.4zM457.6,412.1h1.4v1.4h-1.4zM457.8,419.6h1.4v1.4h-1.4zM457.9,417.8h1.4v1.4h-1.4zM458.1,427.0h1.4v1.4h-1.4zM458.3,419.2h1.4v1.4h-1.4zM458.4,408.6h1.4v1.4h-1.4zM458.6,415.1h1.4v1.4h-1.4zM458.7,422.2h1.4v1.4h-1.4zM458.9,422.2h1.4v1.4h-1.4zM459.1,433.8h1.4v1.4h-1.4zM459.2,432.7h1.4v1.4h-1.4zM459.4,418.0h1.4v1.4h-1.4zM459.5,420.4h1.4v1.4h-1.4zM459.7,417.8h1.4v1.4h-1.4zM459.9,409.3h1.4v1.4h-1.4zM460.0,425.8h1.4v1.4h-1.4zM460.2,431.9h1.4v1.4h-1.4zM460.3,409.2h1.4v1.4h-1.4zM460.5,412.3h1.4v1.4h-1.4zM460.7,429.0h1.4v1.4h-1.4zM460.8,434.1h1.4v1.4h-1.4zM461.0,422.0h1.4v1.4h-1.4zM461.1,412.7h1.4v1.4h-1.4zM461.3,419.5h1.4v1.4h-1.4zM461.5,415.7h1.4v1.4h-1.4zM461.6,435.6h1.4v1.4h-1.4zM461.8,392.8h1.4v1.4h-1.4zM461.9,432.7h1.4v1.4h-1.4zM462.1,418.8h1.4v1.4h-1.4zM462.3,435.1h1.4v1.4h-1.4zM462.4,435.4h1.4v1.4h-1.4zM462.6,425.8h1.4v1.4h-1.4zM462.7,435.5h1.4v1.4h-1.4zM462.9,429.3h1.4v1.4h-1.4zM463.1,424.9h1.4v1.4h-1.4zM463.2,427.2h1.4v1.4h-1.4zM463.4,413.9h1.4v1.4h-1.4zM463.5,422.8h1.4v1.4h-1.4zM463.7,429.5h1.4v1.4h-1.4zM463.9,407.5h1.4v1.4h-1.4zM464.0,408.9h1.4v1.4h-1.4zM464.2,406.8h1.4v1.4h-1.4zM464.3,432.5h1.4v1.4h-1.4zM464.5,419.3h1.4v1.4h-1.4zM464.7,419.0h1.4v1.4h-1.4zM464.8,425.6h1.4v1.4h-1.4zM465.0,435.1h1.4v1.4h-1.4zM465.1,406.5h1.4v1.4h-1.4zM465.3,408.0h1.4v1.4h-1.4zM465.5,431.0h1.4v1.4h-1.4zM465.6,430.3h1.4v1.4h-1.4zM465.8,408.4h1.4v1.4h-1.4zM465.9,407.6h1.4v1.4h-1.4zM466.1,437.4h1.4v1.4h-1.4zM466.3,420.5h1.4v1.4h-1.4zM466.4,429.4h1.4v1.4h-1.4zM466.6,433.0h1.4v1.4h-1.4zM466.7,430.8h1.4v1.4h-1.4zM466.9,428.3h1.4v1.4h-1.4zM467.1,419.0h1.4v1.4h-1.4zM467.2,413.4h1.4v1.4h-1.4zM467.4,430.1h1.4v1.4h-1.4zM467.5,431.2h1.4v1.4h-1.4zM467.7,431.8h1.4v1.4h-1.4zM467.9,426.6h1.4v1.4h-1.4zM468.0,409.1h1.4v1.4h-1.4zM468.2,420.4h1.4v1.4h-1.4zM468.3,434.9h1.4v1.4h-1.4zM468.5,421.1h1.4v1.4h-1.4zM468.7,433.5h1.4v1.4h-1.4zM468.8,429.5h1.4v1.4h-1.4zM469.0,422.1h1.4v1.4h-1.4zM469.1,411.6h1.4v1.4h-1.4zM469.3,424.9h1.4v1.4h-1.4zM469.5,414.4h1.4v1.4h-1.4zM469.6,393.6h1.4v1.4h-1.4zM469.8,417.6h1.4v1.4h-1.4zM469.9,411.5h1.4v1.4h-1.4zM470.1,394.0h1.4v1.4h-1.4zM470.3,421.4h1.4v1.4h-1.4zM470.4,429.8h1.4v1.4h-1.4zM470.6,430.1h1.4v1.4h-1.4zM470.7,423.4h1.4v1.4h-1.4zM470.9,418.1h1.4v1.4h-1.4zM471.1,411.1h1.4v1.4h-1.4zM471.2,373.2h1.4v1.4h-1.4zM471.4,419.1h1.4v1.4h-1.4zM471.5,412.5h1.4v1.4h-1.4zM471.7,427.1h1.4v1.4h-1.4zM471.9,424.6h1.4v1.4h-1.4zM472.0,428.8h1.4v1.4h-1.4zM472.2,424.9h1.4v1.4h-1.4zM472.3,432.6h1.4v1.4h-1.4zM472.5,428.7h1.4v1.4h-1.4zM472.7,424.8h1.4v1.4h-1.4zM472.8,434.2h1.4v1.4h-1.4zM473.0,424.8h1.4v1.4h-1.4zM473.1,408.9h1.4v1.4h-1.4zM473.3,430.8h1.4v1.4h-1.4zM473.5,427.3h1.4v1.4h-1.4zM473.6,438.2h1.4v1.4h-1.4zM473.8,434.1h1.4v1.4h-1.4zM473.9,430.2h1.4v1.4h-1.4zM474.1,418.5h1.4v1.4h-1.4zM474.3,427.1h1.4v1.4h-1.4zM474.4,440.0h1.4v1.4h-1.4zM474.6,427.4h1.4v1.4h-1.4zM474.7,419.3h1.4v1.4h-1.4zM474.9,440.9h1.4v1.4h-1.4zM475.1,429.4h1.4v1.4h-1.4zM475.2,426.7h1.4v1.4h-1.4zM475.4,429.3h1.4v1.4h-1.4zM475.5,424.5h1.4v1.4h-1.4zM475.7,437.8h1.4v1.4h-1.4zM475.9,423.8h1.4v1.4h-1.4zM476.0,425.2h1.4v1.4h-1.4zM476.2,440.8h1.4v1.4h-1.4zM476.3,443.9h1.4v1.4h-1.4zM476.5,430.9h1.4v1.4h-1.4zM476.7,431.3h1.4v1.4h-1.4zM476.8,430.1h1.4v1.4h-1.4zM477.0,432.1h1.4v1.4h-1.4zM477.1,431.3h1.4v1.4h-1.4zM477.3,443.8h1.4v1.4h-1.4zM477.5,439.9h1.4v1.4h-1.4zM477.6,446.6h1.4v1.4h-1.4zM477.8,429.9h1.4v1.4h-1.4zM477.9,434.3h1.4v1.4h-1.4zM478.1,441.6h1.4v1.4h-1.4zM478.3,448.6h1.4v1.4h-1.4zM478.4,433.8h1.4v1.4h-1.4zM478.6,441.6h1.4v1.4h-1.4zM478.7,435.4h1.4v1.4h-1.4zM478.9,451.8h1.4v1.4h-1.4zM479.1,432.8h1.4v1.4h-1.4zM479.2,447.4h1.4v1.4h-1.4zM479.4,442.6h1.4v1.4h-1.4zM479.5,443.7h1.4v1.4h-1.4zM479.7,449.8h1.4v1.4h-1.4zM479.9,442.7h1.4v1.4h-1.4zM480.0,437.5h1.4v1.4h-1.4zM480.2,456.8h1.4v1.4h-1.4zM480.3,446.0h1.4v1.4h-1.4zM480.5,448.7h1.4v1.4h-1.4zM480.7,436.9h1.4v1.4h-1.4zM480.8,444.5h1.4v1.4h-1.4zM481.0,421.2h1.4v1.4h-1.4zM481.1,452.3h1.4v1.4h-1.4zM481.3,444.9h1.4v1.4h-1.4zM481.5,451.2h1.4v1.4h-1.4zM481.6,436.7h1.4v1.4h-1.4zM481.8,443.7h1.4v1.4h-1.4zM481.9,441.2h1.4v1.4h-1.4zM482.1,438.1h1.4v1.4h-1.4zM482.3,439.0h1.4v1.4h-1.4zM482.4,454.3h1.4v1.4h-1.4zM482.6,453.8h1.4v1.4h-1.4zM482.7,437.5h1.4v1.4h-1.4zM482.9,442.2h1.4v1.4h-1.4zM483.1,445.9h1.4v1.4h-1.4zM483.2,453.6h1.4v1.4h-1.4zM483.4,447.3h1.4v1.4h-1.4zM483.5,440.3h1.4v1.4h-1.4zM483.7,453.3h1.4v1.4h-1.4zM483.9,454.6h1.4v1.4h-1.4zM484.0,444.0h1.4v1.4h-1.4zM484.2,422.1h1.4v1.4h-1.4zM484.3,434.6h1.4v1.4h-1.4zM484.5,441.4h1.4v1.4h-1.4zM484.7,447.2h1.4v1.4h-1.4zM484.8,416.1h1.4v1.4h-1.4zM485.0,451.9h1.4v1.4h-1.4zM485.1,444.9h1.4v1.4h-1.4zM485.3,440.5h1.4v1.4h-1.4zM485.5,455.7h1.4v1.4h-1.4zM485.6,432.9h1.4v1.4h-1.4zM485.8,440.5h1.4v1.4h-1.4zM485.9,441.9h1.4v1.4h-1.4zM486.1,435.5h1.4v1.4h-1.4zM486.3,445.3h1.4v1.4h-1.4zM486.4,442.4h1.4v1.4h-1.4zM486.6,454.2h1.4v1.4h-1.4zM486.7,444.6h1.4v1.4h-1.4zM486.9,454.4h1.4v1.4h-1.4zM487.1,442.2h1.4v1.4h-1.4zM487.2,450.0h1.4v1.4h-1.4zM487.4,457.1h1.4v1.4h-1.4zM487.5,452.2h1.4v1.4h-1.4zM487.7,441.4h1.4v1.4h-1.4zM487.9,448.8h1.4v1.4h-1.4zM488.0,439.2h1.4v1.4h-1.4zM488.2,453.4h1.4v1.4h-1.4zM488.3,451.0h1.4v1.4h-1.4zM488.5,444.2h1.4v1.4h-1.4zM488.7,447.8h1.4v1.4h-1.4zM488.8,446.3h1.4v1.4h-1.4zM489.0,436.4h1.4v1.4h-1.4zM489.1,452.4h1.4v1.4h-1.4zM489.3,447.6h1.4v1.4h-1.4zM489.5,443.6h1.4v1.4h-1.4zM489.6,450.8h1.4v1.4h-1.4zM489.8,442.4h1.4v1.4h-1.4zM489.9,439.1h1.4v1.4h-1.4zM490.1,457.1h1.4v1.4h-1.4zM490.3,456.7h1.4v1.4h-1.4zM490.4,439.0h1.4v1.4h-1.4zM490.6,451.3h1.4v1.4h-1.4zM490.7,445.4h1.4v1.4h-1.4zM490.9,450.9h1.4v1.4h-1.4zM491.1,445.5h1.4v1.4h-1.4zM491.2,455.6h1.4v1.4h-1.4zM491.4,453.0h1.4v1.4h-1.4zM491.5,446.3h1.4v1.4h-1.4zM491.7,441.4h1.4v1.4h-1.4zM491.9,441.6h1.4v1.4h-1.4zM492.0,448.6h1.4v1.4h-1.4zM492.2,449.6h1.4v1.4h-1.4zM492.3,457.8h1.4v1.4h-1.4zM492.5,454.3h1.4v1.4h-1.4zM492.7,448.9h1.4v1.4h-1.4zM492.8,441.7h1.4v1.4h-1.4zM493.0,456.3h1.4v1.4h-1.4zM493.1,445.7h1.4v1.4h-1.4zM493.3,446.6h1.4v1.4h-1.4zM493.5,457.3h1.4v1.4h-1.4zM493.6,443.5h1.4v1.4h-1.4zM493.8,457.3h1.4v1.4h-1.4zM493.9,442.4h1.4v1.4h-1.4zM494.1,455.3h1.4v1.4h-1.4zM494.3,442.1h1.4v1.4h-1.4zM494.4,440.8h1.4v1.4h-1.4zM494.6,444.2h1.4v1.4h-1.4zM494.7,450.2h1.4v1.4h-1.4zM494.9,440.3h1.4v1.4h-1.4zM495.1,440.0h1.4v1.4h-1.4zM495.2,458.3h1.4v1.4h-1.4zM495.4,448.8h1.4v1.4h-1.4zM495.5,460.6h1.4v1.4h-1.4zM495.7,448.5h1.4v1.4h-1.4zM495.9,452.8h1.4v1.4h-1.4zM496.0,450.6h1.4v1.4h-1.4zM496.2,447.3h1.4v1.4h-1.4zM496.3,443.0h1.4v1.4h-1.4zM496.5,457.4h1.4v1.4h-1.4zM496.7,438.6h1.4v1.4h-1.4zM496.8,442.6h1.4v1.4h-1.4zM497.0,457.5h1.4v1.4h-1.4zM497.1,455.9h1.4v1.4h-1.4zM497.3,432.8h1.4v1.4h-1.4zM497.5,439.8h1.4v1.4h-1.4zM497.6,446.7h1.4v1.4h-1.4zM497.8,453.7h1.4v1.4h-1.4zM497.9,443.6h1.4v1.4h-1.4zM498.1,453.3h1.4v1.4h-1.4zM498.3,440.4h1.4v1.4h-1.4zM498.4,447.8h1.4v1.4h-1.4zM498.6,420.0h1.4v1.4h-1.4zM498.7,443.9h1.4v1.4h-1.4zM498.9,436.9h1.4v1.4h-1.4zM499.1,418.6h1.4v1.4h-1.4zM499.2,447.8h1.4v1.4h-1.4zM499.4,428.3h1.4v1.4h-1.4zM499.5,425.9h1.4v1.4h-1.4zM499.7,440.3h1.4v1.4h-1.4zM499.9,440.9h1.4v1.4h-1.4zM500.0,417.4h1.4v1.4h-1.4zM500.2,427.0h1.4v1.4h-1.4zM500.3,426.6h1.4v1.4h-1.4zM500.5,423.9h1.4v1.4h-1.4zM500.7,428.9h1.4v1.4h-1.4zM500.8,409.0h1.4v1.4h-1.4zM501.0,406.9h1.4v1.4h-1.4zM501.1,405.6h1.4v1.4h-1.4zM501.3,412.5h1.4v1.4h-1.4zM501.5,418.2h1.4v1.4h-1.4zM501.6,427.9h1.4v1.4h-1.4zM501.8,401.1h1.4v1.4h-1.4zM501.9,405.1h1.4v1.4h-1.4zM502.1,423.7h1.4v1.4h-1.4zM502.3,433.3h1.4v1.4h-1.4zM502.4,404.9h1.4v1.4h-1.4zM502.6,409.9h1.4v1.4h-1.4zM502.7,425.1h1.4v1.4h-1.4zM502.9,419.9h1.4v1.4h-1.4zM503.1,428.0h1.4v1.4h-1.4zM503.2,415.9h1.4v1.4h-1.4zM503.4,407.9h1.4v1.4h-1.4zM503.5,402.2h1.4v1.4h-1.4zM503.7,398.1h1.4v1.4h-1.4zM503.9,432.5h1.4v1.4h-1.4zM504.0,433.4h1.4v1.4h-1.4zM504.2,407.1h1.4v1.4h-1.4zM504.3,424.7h1.4v1.4h-1.4zM504.5,407.7h1.4v1.4h-1.4zM504.7,410.2h1.4v1.4h-1.4zM504.8,397.5h1.4v1.4h-1.4zM505.0,423.9h1.4v1.4h-1.4zM505.1,417.2h1.4v1.4h-1.4zM505.3,409.3h1.4v1.4h-1.4zM505.5,401.5h1.4v1.4h-1.4zM505.6,435.3h1.4v1.4h-1.4zM505.8,415.9h1.4v1.4h-1.4zM505.9,433.3h1.4v1.4h-1.4zM506.1,408.1h1.4v1.4h-1.4zM506.3,421.1h1.4v1.4h-1.4zM506.4,398.8h1.4v1.4h-1.4zM506.6,433.8h1.4v1.4h-1.4zM506.7,413.1h1.4v1.4h-1.4zM506.9,412.5h1.4v1.4h-1.4zM507.1,383.6h1.4v1.4h-1.4zM507.2,406.8h1.4v1.4h-1.4zM507.4,419.1h1.4v1.4h-1.4zM507.5,403.5h1.4v1.4h-1.4zM507.7,430.6h1.4v1.4h-1.4zM507.9,426.1h1.4v1.4h-1.4zM508.0,400.6h1.4v1.4h-1.4zM508.2,427.3h1.4v1.4h-1.4zM508.3,400.1h1.4v1.4h-1.4zM508.5,426.3h1.4v1.4h-1.4zM508.7,407.2h1.4v1.4h-1.4zM508.8,424.5h1.4v1.4h-1.4zM509.0,400.7h1.4v1.4h-1.4zM509.1,422.4h1.4v1.4h-1.4zM509.3,437.3h1.4v1.4h-1.4zM509.5,420.5h1.4v1.4h-1.4zM509.6,432.4h1.4v1.4h-1.4zM509.8,421.2h1.4v1.4h-1.4zM509.9,423.5h1.4v1.4h-1.4zM510.1,408.2h1.4v1.4h-1.4zM510.3,409.8h1.4v1.4h-1.4zM510.4,417.0h1.4v1.4h-1.4zM510.6,429.0h1.4v1.4h-1.4zM510.7,413.9h1.4v1.4h-1.4zM510.9,424.3h1.4v1.4h-1.4zM511.1,421.2h1.4v1.4h-1.4zM511.2,408.0h1.4v1.4h-1.4zM511.4,433.2h1.4v1.4h-1.4zM511.5,426.5h1.4v1.4h-1.4zM511.7,436.2h1.4v1.4h-1.4zM511.9,426.3h1.4v1.4h-1.4zM512.0,438.3h1.4v1.4h-1.4zM512.2,421.2h1.4v1.4h-1.4zM512.3,417.1h1.4v1.4h-1.4zM512.5,415.9h1.4v1.4h-1.4zM512.7,423.7h1.4v1.4h-1.4zM512.8,415.8h1.4v1.4h-1.4zM513.0,424.7h1.4v1.4h-1.4zM513.1,434.5h1.4v1.4h-1.4zM513.3,432.3h1.4v1.4h-1.4zM513.5,417.9h1.4v1.4h-1.4zM513.6,410.6h1.4v1.4h-1.4zM513.8,430.7h1.4v1.4h-1.4zM513.9,433.8h1.4v1.4h-1.4zM514.1,420.8h1.4v1.4h-1.4zM514.3,414.0h1.4v1.4h-1.4zM514.4,425.5h1.4v1.4h-1.4zM514.6,418.8h1.4v1.4h-1.4zM514.7,435.7h1.4v1.4h-1.4zM514.9,410.3h1.4v1.4h-1.4zM515.1,419.6h1.4v1.4h-1.4zM515.2,415.7h1.4v1.4h-1.4zM515.4,405.5h1.4v1.4h-1.4zM515.5,427.7h1.4v1.4h-1.4zM515.7,431.3h1.4v1.4h-1.4zM515.9,435.1h1.4v1.4h-1.4zM516.0,423.9h1.4v1.4h-1.4zM516.2,443.6h1.4v1.4h-1.4zM516.3,440.1h1.4v1.4h-1.4zM516.5,408.0h1.4v1.4h-1.4zM516.7,388.3h1.4v1.4h-1.4zM516.8,421.2h1.4v1.4h-1.4zM517.0,426.9h1.4v1.4h-1.4zM517.1,423.4h1.4v1.4h-1.4zM517.3,435.8h1.4v1.4h-1.4zM517.5,410.3h1.4v1.4h-1.4zM517.6,414.2h1.4v1.4h-1.4zM517.8,422.9h1.4v1.4h-1.4zM517.9,415.7h1.4v1.4h-1.4zM518.1,421.1h1.4v1.4h-1.4zM518.3,430.6h1.4v1.4h-1.4zM518.4,426.4h1.4v1.4h-1.4zM518.6,417.5h1.4v1.4h-1.4zM518.7,435.5h1.4v1.4h-1.4zM518.9,418.9h1.4v1.4h-1.4zM519.1,424.0h1.4v1.4h-1.4zM519.2,439.2h1.4v1.4h-1.4zM519.4,428.5h1.4v1.4h-1.4zM519.5,429.5h1.4v1.4h-1.4zM519.7,444.3h1.4v1.4h-1.4zM519.9,429.5h1.4v1.4h-1.4zM520.0,420.2h1.4v1.4h-1.4zM520.2,434.3h1.4v1.4h-1.4zM520.3,438.6h1.4v1.4h-1.4zM520.5,445.2h1.4v1.4h-1.4zM520.7,416.4h1.4v1.4h-1.4zM520.8,439.0h1.4v1.4h-1.4zM521.0,426.1h1.4v1.4h-1.4zM521.1,430.3h1.4v1.4h-1.4zM521.3,443.7h1.4v1.4h-1.4zM521.5,428.5h1.4v1.4h-1.4zM521.6,420.4h1.4v1.4h-1.4zM521.8,431.9h1.4v1.4h-1.4zM521.9,421.6h1.4v1.4h-1.4zM522.1,424.1h1.4v1.4h-1.4zM522.3,424.8h1.4v1.4h-1.4zM522.4,439.8h1.4v1.4h-1.4zM522.6,443.3h1.4v1.4h-1.4zM522.7,440.0h1.4v1.4h-1.4zM522.9,441.1h1.4v1.4h-1.4zM523.1,430.7h1.4v1.4h-1.4zM523.2,423.0h1.4v1.4h-1.4zM523.4,429.5h1.4v1.4h-1.4zM523.5,424.6h1.4v1.4h-1.4zM523.7,419.7h1.4v1.4h-1.4zM523.9,431.8h1.4v1.4h-1.4zM524.0,424.8h1.4v1.4h-1.4zM524.2,403.7h1.4v1.4h-1.4zM524.3,427.1h1.4v1.4h-1.4zM524.5,426.8h1.4v1.4h-1.4zM524.7,420.6h1.4v1.4h-1.4zM524.8,431.4h1.4v1.4h-1.4zM525.0,426.5h1.4v1.4h-1.4zM525.1,446.5h1.4v1.4h-1.4zM525.3,444.6h1.4v1.4h-1.4zM525.5,423.3h1.4v1.4h-1.4zM525.6,426.9h1.4v1.4h-1.4zM525.8,444.1h1.4v1.4h-1.4zM525.9,431.9h1.4v1.4h-1.4zM526.1,433.9h1.4v1.4h-1.4zM526.3,426.0h1.4v1.4h-1.4zM526.4,435.4h1.4v1.4h-1.4zM526.6,438.4h1.4v1.4h-1.4zM526.7,445.3h1.4v1.4h-1.4zM526.9,427.0h1.4v1.4h-1.4zM527.1,435.7h1.4v1.4h-1.4zM527.2,445.7h1.4v1.4h-1.4zM527.4,435.9h1.4v1.4h-1.4zM527.5,424.5h1.4v1.4h-1.4zM527.7,430.0h1.4v1.4h-1.4zM527.9,428.9h1.4v1.4h-1.4zM528.0,440.6h1.4v1.4h-1.4zM528.2,431.9h1.4v1.4h-1.4zM528.3,441.4h1.4v1.4h-1.4zM528.5,424.7h1.4v1.4h-1.4zM528.7,438.9h1.4v1.4h-1.4zM528.8,437.5h1.4v1.4h-1.4zM529.0,440.2h1.4v1.4h-1.4zM529.1,437.3h1.4v1.4h-1.4zM529.3,427.0h1.4v1.4h-1.4zM529.5,436.3h1.4v1.4h-1.4zM529.6,448.5h1.4v1.4h-1.4zM529.8,445.0h1.4v1.4h-1.4zM529.9,425.5h1.4v1.4h-1.4zM530.1,447.5h1.4v1.4h-1.4zM530.3,437.2h1.4v1.4h-1.4zM530.4,441.7h1.4v1.4h-1.4zM530.6,424.8h1.4v1.4h-1.4zM530.7,446.0h1.4v1.4h-1.4zM530.9,434.4h1.4v1.4h-1.4zM531.1,436.6h1.4v1.4h-1.4zM531.2,432.4h1.4v1.4h-1.4zM531.4,428.9h1.4v1.4h-1.4zM531.5,444.7h1.4v1.4h-1.4zM531.7,433.4h1.4v1.4h-1.4zM531.9,426.4h1.4v1.4h-1.4zM532.0,439.7h1.4v1.4h-1.4zM532.2,438.7h1.4v1.4h-1.4zM532.3,423.2h1.4v1.4h-1.4zM532.5,442.8h1.4v1.4h-1.4zM532.7,440.8h1.4v1.4h-1.4zM532.8,437.5h1.4v1.4h-1.4zM533.0,445.1h1.4v1.4h-1.4zM533.1,425.4h1.4v1.4h-1.4zM533.3,441.7h1.4v1.4h-1.4zM533.5,423.9h1.4v1.4h-1.4zM533.6,448.4h1.4v1.4h-1.4zM533.8,426.9h1.4v1.4h-1.4zM533.9,447.2h1.4v1.4h-1.4zM534.1,444.2h1.4v1.4h-1.4zM534.3,447.5h1.4v1.4h-1.4zM534.4,439.4h1.4v1.4h-1.4zM534.6,436.7h1.4v1.4h-1.4zM534.7,430.3h1.4v1.4h-1.4zM534.9,424.8h1.4v1.4h-1.4zM535.1,420.8h1.4v1.4h-1.4zM535.2,418.0h1.4v1.4h-1.4zM535.4,434.4h1.4v1.4h-1.4zM535.5,439.0h1.4v1.4h-1.4zM535.7,441.8h1.4v1.4h-1.4zM535.9,438.6h1.4v1.4h-1.4zM536.0,432.4h1.4v1.4h-1.4zM536.2,417.1h1.4v1.4h-1.4zM536.3,430.6h1.4v1.4h-1.4zM536.5,428.8h1.4v1.4h-1.4zM536.7,429.0h1.4v1.4h-1.4zM536.8,444.3h1.4v1.4h-1.4zM537.0,431.0h1.4v1.4h-1.4zM537.1,435.1h1.4v1.4h-1.4zM537.3,434.6h1.4v1.4h-1.4zM537.5,441.3h1.4v1.4h-1.4zM537.6,436.5h1.4v1.4h-1.4zM537.8,443.1h1.4v1.4h-1.4zM537.9,442.7h1.4v1.4h-1.4zM538.1,452.2h1.4v1.4h-1.4zM538.3,438.8h1.4v1.4h-1.4zM538.4,440.6h1.4v1.4h-1.4zM538.6,454.5h1.4v1.4h-1.4zM538.7,460.1h1.4v1.4h-1.4zM538.9,462.0h1.4v1.4h-1.4zM539.1,458.2h1.4v1.4h-1.4zM539.2,450.7h1.4v1.4h-1.4zM539.4,455.0h1.4v1.4h-1.4zM539.5,440.3h1.4v1.4h-1.4zM539.7,440.5h1.4v1.4h-1.4zM539.9,440.1h1.4v1.4h-1.4zM540.0,438.1h1.4v1.4h-1.4zM540.2,437.7h1.4v1.4h-1.4zM540.3,445.9h1.4v1.4h-1.4zM540.5,452.7h1.4v1.4h-1.4zM540.7,440.6h1.4v1.4h-1.4zM540.8,436.8h1.4v1.4h-1.4zM541.0,448.0h1.4v1.4h-1.4zM541.1,454.7h1.4v1.4h-1.4zM541.3,452.8h1.4v1.4h-1.4zM541.5,457.7h1.4v1.4h-1.4zM541.6,443.6h1.4v1.4h-1.4zM541.8,442.9h1.4v1.4h-1.4zM541.9,452.3h1.4v1.4h-1.4zM542.1,463.1h1.4v1.4h-1.4zM542.3,445.2h1.4v1.4h-1.4zM542.4,454.8h1.4v1.4h-1.4zM542.6,459.0h1.4v1.4h-1.4zM542.7,442.1h1.4v1.4h-1.4zM542.9,449.2h1.4v1.4h-1.4zM543.1,448.2h1.4v1.4h-1.4zM543.2,447.1h1.4v1.4h-1.4zM543.4,456.0h1.4v1.4h-1.4zM543.5,466.4h1.4v1.4h-1.4zM543.7,464.2h1.4v1.4h-1.4zM543.9,462.4h1.4v1.4h-1.4zM544.0,445.4h1.4v1.4h-1.4zM544.2,447.1h1.4v1.4h-1.4zM544.3,460.9h1.4v1.4h-1.4zM544.5,458.7h1.4v1.4h-1.4zM544.7,463.1h1.4v1.4h-1.4zM544.8,446.0h1.4v1.4h-1.4zM545.0,458.5h1.4v1.4h-1.4zM545.1,458.8h1.4v1.4h-1.4zM545.3,454.6h1.4v1.4h-1.4zM545.5,460.3h1.4v1.4h-1.4zM545.6,464.4h1.4v1.4h-1.4zM545.8,456.8h1.4v1.4h-1.4zM545.9,449.2h1.4v1.4h-1.4zM546.1,451.7h1.4v1.4h-1.4zM546.3,459.2h1.4v1.4h-1.4zM546.4,447.6h1.4v1.4h-1.4zM546.6,458.1h1.4v1.4h-1.4zM546.7,442.7h1.4v1.4h-1.4zM546.9,466.6h1.4v1.4h-1.4zM547.1,457.7h1.4v1.4h-1.4zM547.2,453.8h1.4v1.4h-1.4zM547.4,447.5h1.4v1.4h-1.4zM547.5,423.8h1.4v1.4h-1.4zM547.7,450.6h1.4v1.4h-1.4zM547.9,454.9h1.4v1.4h-1.4zM548.0,452.0h1.4v1.4h-1.4zM548.2,464.0h1.4v1.4h-1.4zM548.3,460.6h1.4v1.4h-1.4zM548.5,458.5h1.4v1.4h-1.4zM548.7,456.2h1.4v1.4h-1.4zM548.8,450.5h1.4v1.4h-1.4zM549.0,460.7h1.4v1.4h-1.4zM549.1,463.4h1.4v1.4h-1.4zM549.3,447.7h1.4v1.4h-1.4zM549.5,447.6h1.4v1.4h-1.4zM549.6,447.5h1.4v1.4h-1.4zM549.8,442.8h1.4v1.4h-1.4zM549.9,464.1h1.4v1.4h-1.4zM550.1,457.0h1.4v1.4h-1.4zM550.3,461.1h1.4v1.4h-1.4zM550.4,454.1h1.4v1.4h-1.4zM550.6,463.2h1.4v1.4h-1.4zM550.7,463.7h1.4v1.4h-1.4zM550.9,463.5h1.4v1.4h-1.4zM551.1,450.8h1.4v1.4h-1.4zM551.2,452.1h1.4v1.4h-1.4zM551.4,448.0h1.4v1.4h-1.4zM551.5,460.3h1.4v1.4h-1.4zM551.7,448.3h1.4v1.4h-1.4zM551.9,465.4h1.4v1.4h-1.4zM552.0,450.2h1.4v1.4h-1.4zM552.2,464.4h1.4v1.4h-1.4zM552.3,454.6h1.4v1.4h-1.4zM552.5,454.3h1.4v1.4h-1.4zM552.7,461.4h1.4v1.4h-1.4zM552.8,461.7h1.4v1.4h-1.4zM553.0,446.8h1.4v1.4h-1.4zM553.1,464.2h1.4v1.4h-1.4zM553.3,446.7h1.4v1.4h-1.4zM553.5,456.8h1.4v1.4h-1.4zM553.6,457.2h1.4v1.4h-1.4zM553.8,456.5h1.4v1.4h-1.4zM553.9,456.8h1.4v1.4h-1.4zM554.1,465.1h1.4v1.4h-1.4zM554.3,451.0h1.4v1.4h-1.4zM554.4,461.8h1.4v1.4h-1.4zM554.6,455.7h1.4v1.4h-1.4zM554.7,457.7h1.4v1.4h-1.4zM554.9,454.0h1.4v1.4h-1.4zM555.1,445.4h1.4v1.4h-1.4zM555.2,463.3h1.4v1.4h-1.4zM555.4,460.0h1.4v1.4h-1.4zM555.5,456.3h1.4v1.4h-1.4zM555.7,447.0h1.4v1.4h-1.4zM555.9,456.9h1.4v1.4h-1.4zM556.0,446.6h1.4v1.4h-1.4zM556.2,451.0h1.4v1.4h-1.4zM556.3,461.8h1.4v1.4h-1.4zM556.5,444.9h1.4v1.4h-1.4zM556.7,441.3h1.4v1.4h-1.4zM556.8,439.8h1.4v1.4h-1.4zM557.0,452.4h1.4v1.4h-1.4zM557.1,444.4h1.4v1.4h-1.4zM557.3,434.9h1.4v1.4h-1.4zM557.5,450.0h1.4v1.4h-1.4zM557.6,452.7h1.4v1.4h-1.4zM557.8,452.5h1.4v1.4h-1.4zM557.9,453.0h1.4v1.4h-1.4zM558.1,446.9h1.4v1.4h-1.4zM558.3,440.8h1.4v1.4h-1.4zM558.4,454.3h1.4v1.4h-1.4zM558.6,431.1h1.4v1.4h-1.4zM558.7,435.4h1.4v1.4h-1.4zM558.9,448.1h1.4v1.4h-1.4zM559.1,450.3h1.4v1.4h-1.4zM559.2,418.6h1.4v1.4h-1.4zM559.4,451.7h1.4v1.4h-1.4zM559.5,443.2h1.4v1.4h-1.4zM559.7,426.0h1.4v1.4h-1.4zM559.9,450.2h1.4v1.4h-1.4zM560.0,416.5h1.4v1.4h-1.4zM560.2,432.4h1.4v1.4h-1.4zM560.3,454.0h1.4v1.4h-1.4zM560.5,454.1h1.4v1.4h-1.4zM560.7,453.3h1.4v1.4h-1.4zM560.8,458.7h1.4v1.4h-1.4zM561.0,453.2h1.4v1.4h-1.4zM561.1,437.3h1.4v1.4h-1.4zM561.3,453.7h1.4v1.4h-1.4zM561.5,440.9h1.4v1.4h-1.4zM561.6,448.8h1.4v1.4h-1.4zM561.8,462.8h1.4v1.4h-1.4zM561.9,452.4h1.4v1.4h-1.4zM562.1,451.8h1.4v1.4h-1.4zM562.3,459.8h1.4v1.4h-1.4zM562.4,450.6h1.4v1.4h-1.4zM562.6,461.9h1.4v1.4h-1.4zM562.7,463.9h1.4v1.4h-1.4zM562.9,460.4h1.4v1.4h-1.4zM563.1,453.2h1.4v1.4h-1.4zM563.2,461.5h1.4v1.4h-1.4zM563.4,454.6h1.4v1.4h-1.4zM563.5,464.6h1.4v1.4h-1.4zM563.7,447.2h1.4v1.4h-1.4zM563.9,447.8h1.4v1.4h-1.4zM564.0,450.5h1.4v1.4h-1.4zM564.2,457.0h1.4v1.4h-1.4zM564.3,457.5h1.4v1.4h-1.4zM564.5,456.7h1.4v1.4h-1.4zM564.7,460.0h1.4v1.4h-1.4zM564.8,461.8h1.4v1.4h-1.4zM565.0,453.9h1.4v1.4h-1.4zM565.1,448.5h1.4v1.4h-1.4zM565.3,452.6h1.4v1.4h-1.4zM565.5,457.7h1.4v1.4h-1.4zM565.6,453.8h1.4v1.4h-1.4zM565.8,463.1h1.4v1.4h-1.4zM565.9,467.0h1.4v1.4h-1.4zM566.1,464.0h1.4v1.4h-1.4zM566.3,459.8h1.4v1.4h-1.4zM566.4,449.4h1.4v1.4h-1.4zM566.6,454.8h1.4v1.4h-1.4zM566.7,454.9h1.4v1.4h-1.4zM566.9,451.5h1.4v1.4h-1.4zM567.1,457.4h1.4v1.4h-1.4zM567.2,464.8h1.4v1.4h-1.4zM567.4,455.7h1.4v1.4h-1.4zM567.5,462.6h1.4v1.4h-1.4zM567.7,455.2h1.4v1.4h-1.4zM567.9,453.2h1.4v1.4h-1.4zM568.0,455.1h1.4v1.4h-1.4zM568.2,457.2h1.4v1.4h-1.4zM568.3,465.1h1.4v1.4h-1.4zM568.5,456.5h1.4v1.4h-1.4zM568.7,449.9h1.4v1.4h-1.4zM568.8,464.4h1.4v1.4h-1.4zM569.0,450.7h1.4v1.4h-1.4zM569.1,466.5h1.4v1.4h-1.4zM569.3,462.9h1.4v1.4h-1.4zM569.5,455.8h1.4v1.4h-1.4zM569.6,466.7h1.4v1.4h-1.4zM569.8,452.2h1.4v1.4h-1.4zM569.9,456.5h1.4v1.4h-1.4zM570.1,459.9h1.4v1.4h-1.4zM570.3,464.1h1.4v1.4h-1.4zM570.4,450.2h1.4v1.4h-1.4zM570.6,458.3h1.4v1.4h-1.4zM570.7,464.4h1.4v1.4h-1.4zM570.9,460.0h1.4v1.4h-1.4zM571.1,458.9h1.4v1.4h-1.4zM571.2,451.2h1.4v1.4h-1.4zM571.4,463.3h1.4v1.4h-1.4zM571.5,457.8h1.4v1.4h-1.4zM571.7,466.6h1.4v1.4h-1.4zM571.9,464.2h1.4v1.4h-1.4zM572.0,460.6h1.4v1.4h-1.4zM572.2,441.3h1.4v1.4h-1.4zM572.3,462.0h1.4v1.4h-1.4zM572.5,458.0h1.4v1.4h-1.4zM572.7,457.4h1.4v1.4h-1.4zM572.8,459.7h1.4v1.4h-1.4zM573.0,445.7h1.4v1.4h-1.4zM573.1,455.6h1.4v1.4h-1.4zM573.3,452.5h1.4v1.4h-1.4zM573.5,463.9h1.4v1.4h-1.4zM573.6,466.5h1.4v1.4h-1.4zM573.8,464.6h1.4v1.4h-1.4zM573.9,457.8h1.4v1.4h-1.4zM574.1,456.5h1.4v1.4h-1.4zM574.3,456.1h1.4v1.4h-1.4zM574.4,468.4h1.4v1.4h-1.4zM574.6,458.2h1.4v1.4h-1.4zM574.7,468.5h1.4v1.4h-1.4zM574.9,459.5h1.4v1.4h-1.4zM575.1,459.7h1.4v1.4h-1.4zM575.2,467.0h1.4v1.4h-1.4zM575.4,461.7h1.4v1.4h-1.4zM575.5,466.1h1.4v1.4h-1.4zM575.7,458.2h1.4v1.4h-1.4zM575.9,459.8h1.4v1.4h-1.4zM576.0,468.5h1.4v1.4h-1.4zM576.2,463.7h1.4v1.4h-1.4zM576.3,463.5h1.4v1.4h-1.4zM576.5,467.4h1.4v1.4h-1.4zM576.7,466.5h1.4v1.4h-1.4zM93.8,366.1h1.4v1.4h-1.4zM93.5,390.7h1.4v1.4h-1.4zM94.1,401.9h1.4v1.4h-1.4zM93.6,413.0h1.4v1.4h-1.4zM112.8,399.6h1.4v1.4h-1.4zM113.8,401.9h1.4v1.4h-1.4zM139.3,395.1h1.4v1.4h-1.4zM184.3,377.3h1.4v1.4h-1.4zM185.3,384.0h1.4v1.4h-1.4zM187.3,388.4h1.4v1.4h-1.4zM274.3,390.7h1.4v1.4h-1.4zM278.3,392.9h1.4v1.4h-1.4zM216.3,426.4h1.4v1.4h-1.4zM217.3,433.1h1.4v1.4h-1.4zM218.8,435.4h1.4v1.4h-1.4zM220.3,437.6h1.4v1.4h-1.4zM223.3,434.0h1.4v1.4h-1.4zM225.3,430.9h1.4v1.4h-1.4zM254.3,424.2h1.4v1.4h-1.4zM255.3,428.7h1.4v1.4h-1.4zM256.3,430.9h1.4v1.4h-1.4zM258.3,424.2h1.4v1.4h-1.4zM261.3,433.1h1.4v1.4h-1.4zM262.3,428.7h1.4v1.4h-1.4zM319.3,352.7h1.4v1.4h-1.4zM320.3,361.6h1.4v1.4h-1.4zM321.8,366.1h1.4v1.4h-1.4zM322.3,346.0h1.4v1.4h-1.4zM324.3,375.0h1.4v1.4h-1.4zM326.3,379.5h1.4v1.4h-1.4zM335.3,359.4h1.4v1.4h-1.4zM336.3,337.0h1.4v1.4h-1.4zM337.3,384.0h1.4v1.4h-1.4zM339.3,379.5h1.4v1.4h-1.4zM343.3,415.3h1.4v1.4h-1.4zM363.3,357.2h1.4v1.4h-1.4zM366.3,366.1h1.4v1.4h-1.4zM370.3,352.7h1.4v1.4h-1.4zM374.3,370.6h1.4v1.4h-1.4zM382.3,346.0h1.4v1.4h-1.4zM398.3,332.6h1.4v1.4h-1.4zM400.3,401.9h1.4v1.4h-1.4zM403.3,415.3h1.4v1.4h-1.4zM402.3,426.4h1.4v1.4h-1.4zM407.3,410.8h1.4v1.4h-1.4zM411.3,357.2h1.4v1.4h-1.4zM414.3,370.6h1.4v1.4h-1.4zM417.0,330.3h1.4v1.4h-1.4zM417.3,348.2h1.4v1.4h-1.4zM422.8,341.5h1.4v1.4h-1.4zM422.3,370.6h1.4v1.4h-1.4zM344.3,410.8h1.4v1.4h-1.4zM345.3,419.7h1.4v1.4h-1.4zM351.3,428.7h1.4v1.4h-1.4zM355.8,404.1h1.4v1.4h-1.4zM356.3,415.3h1.4v1.4h-1.4zM356.3,424.2h1.4v1.4h-1.4zM383.3,428.7h1.4v1.4h-1.4zM391.3,426.4h1.4v1.4h-1.4zM395.3,419.7h1.4v1.4h-1.4zM393.3,408.6h1.4v1.4h-1.4zM395.3,401.9h1.4v1.4h-1.4zM397.3,410.8h1.4v1.4h-1.4zM399.3,417.5h1.4v1.4h-1.4zM401.3,413.0h1.4v1.4h-1.4zM404.3,424.2h1.4v1.4h-1.4zM388.3,424.2h1.4v1.4h-1.4zM389.3,413.0h1.4v1.4h-1.4zM390.3,406.3h1.4v1.4h-1.4zM441.3,397.4h1.4v1.4h-1.4zM441.6,410.8h1.4v1.4h-1.4zM441.8,424.2h1.4v1.4h-1.4zM441.5,433.1h1.4v1.4h-1.4zM447.3,424.2h1.4v1.4h-1.4zM457.3,397.4h1.4v1.4h-1.4zM462.3,392.9h1.4v1.4h-1.4zM460.3,390.7h1.4v1.4h-1.4zM473.3,410.8h1.4v1.4h-1.4zM473.8,401.9h1.4v1.4h-1.4zM504.3,406.3h1.4v1.4h-1.4zM508.3,401.9h1.4v1.4h-1.4zM511.3,399.6h1.4v1.4h-1.4zM513.3,406.3h1.4v1.4h-1.4zM515.3,415.3h1.4v1.4h-1.4zM520.3,419.7h1.4v1.4h-1.4zM536.9,329.9h1.4v1.4h-1.4zM536.9,352.2h1.4v1.4h-1.4zM537.1,376.4h1.4v1.4h-1.4zM537.3,401.9h1.4v1.4h-1.4zM537.3,419.7h1.4v1.4h-1.4zM540.3,424.2h1.4v1.4h-1.4zM543.3,435.4h1.4v1.4h-1.4zM551.3,433.1h1.4v1.4h-1.4zM556.3,442.1h1.4v1.4h-1.4zM562.3,352.7h1.4v1.4h-1.4zM565.3,428.7h1.4v1.4h-1.4zM568.3,437.6h1.4v1.4h-1.4zM572.3,446.6h1.4v1.4h-1.4zM575.3,439.8h1.4v1.4h-1.4zM576.3,446.6h1.4v1.4h-1.4z" fill="#000"/>
<path d="M75.1,435.7 L77.9,436.3 L80.6,440.8 L83.4,437.0 L86.1,430.9 L88.9,411.0 L91.6,405.2 L94.4,408.0 L97.1,402.4 L99.9,405.8 L102.6,414.5 L105.4,421.6 L108.1,434.5 L110.9,436.9 L113.6,438.5 L116.4,441.2 L119.1,432.9 L121.9,428.6 L124.6,427.8 L127.4,426.5 L130.1,439.5 L132.9,443.0 L135.6,439.0 L138.4,435.2 L141.1,428.3 L143.9,423.3 L146.6,411.9 L149.4,408.2 L152.1,410.1 L154.9,418.9 L157.6,424.9 L160.4,421.6 L163.1,417.8 L165.9,411.6 L168.6,406.1 L171.4,402.7 L174.1,404.2 L176.9,399.7 L179.6,393.8 L182.4,390.8 L185.1,392.3 L187.9,395.6 L190.6,394.9 L193.4,398.2 L196.1,390.6 L198.9,388.8 L201.6,395.8 L204.4,397.0 L207.1,391.7 L209.9,393.2 L212.6,391.2 L215.4,389.0 L218.1,382.1 L220.9,382.5 L223.6,398.7 L226.4,386.7 L229.1,387.8 L231.9,389.4 L234.6,384.3 L237.4,381.0 L240.1,392.8 L242.9,399.5 L245.6,404.9 L248.4,402.2 L251.1,398.4 L253.9,398.0 L256.6,390.0 L259.4,392.0 L262.1,396.3 L264.9,411.6 L267.6,397.6 L270.4,389.7 L273.1,384.5 L275.9,381.1 L278.6,381.2 L281.4,385.7 L284.1,394.8 L286.9,396.7 L289.6,399.9 L292.4,400.7 L295.1,385.6 L297.9,386.5 L300.6,382.0 L303.4,381.1 L306.1,383.5 L308.9,393.4 L311.6,387.9 L314.4,379.1 L317.1,376.3 L319.9,375.7 L322.6,367.9 L325.4,371.0 L328.1,378.3 L330.9,377.0 L333.6,374.7 L336.4,371.7 L339.1,363.2 L341.9,355.8 L344.6,354.6 L347.4,351.3 L350.1,352.3 L352.9,356.7 L355.6,360.1 L358.4,364.7 L361.1,360.4 L363.9,354.7 L366.6,350.3 L369.4,350.0 L372.1,354.3 L374.9,349.4 L377.6,351.7 L380.4,355.3 L383.1,351.0 L385.9,349.9 L388.6,345.3 L391.4,351.9 L394.1,354.7 L396.9,358.6 L399.6,369.4 L402.4,374.5 L405.1,363.7 L407.9,358.5 L410.6,357.1 L413.4,351.8 L416.1,359.6 L418.9,360.7 L421.6,363.0 L424.4,359.9 L427.1,371.6 L429.9,371.9 L432.6,372.9 L435.4,370.6 L438.1,375.5 L440.9,372.7 L443.6,371.6 L446.4,360.8 L449.1,350.1 L451.9,345.4 L454.6,342.7 L457.4,339.7 L460.1,338.9 L462.9,347.1 L465.6,349.9 L468.4,347.5 L471.1,355.5 L473.9,357.5 L476.6,362.0 L479.4,364.3 L482.1,369.3 L484.9,367.9 L487.6,366.9 L490.4,368.3 L493.1,371.2 L495.9,371.4 L498.6,358.5 L501.4,356.2 L504.1,357.3 L506.9,360.0 L509.6,365.7 L512.4,374.2 L515.1,378.6 L517.9,382.7 L520.6,380.1 L523.4,378.5 L526.1,373.2 L528.9,380.0 L531.6,381.8 L533.2,387.2 L536.9,381.3 L538.8,392.5 L540.5,408.1 L542.2,421.0 L544.1,357.6 L546.0,399.0 L547.7,417.0 L549.4,401.2 L551.3,403.8 L553.0,403.1 L555.4,419.9 L558.1,415.1 L559.3,384.8 L561.4,342.8 L563.4,355.2 L565.3,373.9 L567.0,375.4 L570.1,377.8 L572.5,392.0 L574.9,377.9 L576.6,384.8 L576.6,408.3 L574.9,410.7 L572.5,412.5 L570.1,401.3 L567.0,397.6 L565.3,393.1 L563.4,376.0 L561.4,363.0 L559.3,413.9 L558.1,435.2 L555.4,441.3 L553.0,427.5 L551.3,424.7 L549.4,421.6 L547.7,440.2 L546.0,419.1 L544.1,377.2 L542.2,443.5 L540.5,430.0 L538.8,416.4 L536.9,401.5 L533.2,398.1 L531.6,395.9 L528.9,390.6 L526.1,386.6 L523.4,389.8 L520.6,391.4 L517.9,394.8 L515.1,392.4 L512.4,384.5 L509.6,377.3 L506.9,372.5 L504.1,365.8 L501.4,364.6 L498.6,371.2 L495.9,379.8 L493.1,383.5 L490.4,380.4 L487.6,376.8 L484.9,381.9 L482.1,379.0 L479.4,375.1 L476.6,375.4 L473.9,370.8 L471.1,366.2 L468.4,366.1 L465.6,363.7 L462.9,359.1 L460.1,363.2 L457.4,352.2 L454.6,354.3 L451.9,353.7 L449.1,362.9 L446.4,371.2 L443.6,381.3 L440.9,384.2 L438.1,387.2 L435.4,383.7 L432.6,383.8 L429.9,385.4 L427.1,381.1 L424.4,370.4 L421.6,375.9 L418.9,372.8 L416.1,372.7 L413.4,376.0 L410.6,367.3 L407.9,369.3 L405.1,377.1 L402.4,385.1 L399.6,380.0 L396.9,371.9 L394.1,366.1 L391.4,360.1 L388.6,359.7 L385.9,361.1 L383.1,361.4 L380.4,365.2 L377.6,363.3 L374.9,359.9 L372.1,363.5 L369.4,364.3 L366.6,364.6 L363.9,365.9 L361.1,371.8 L358.4,374.2 L355.6,373.7 L352.9,365.5 L350.1,365.2 L347.4,364.0 L344.6,366.3 L341.9,379.4 L339.1,381.0 L336.4,382.0 L333.6,387.7 L330.9,390.8 L328.1,390.7 L325.4,384.0 L322.6,380.7 L319.9,386.9 L317.1,387.5 L314.4,390.8 L311.6,400.8 L308.9,402.1 L306.1,395.8 L303.4,394.1 L300.6,390.2 L297.9,392.1 L295.1,402.1 L292.4,412.4 L289.6,409.6 L286.9,405.5 L284.1,403.2 L281.4,394.3 L278.6,387.3 L275.9,387.7 L273.1,392.7 L270.4,396.1 L267.6,407.5 L264.9,417.5 L262.1,405.0 L259.4,397.9 L256.6,399.9 L253.9,401.6 L251.1,407.0 L248.4,406.0 L245.6,408.9 L242.9,407.5 L240.1,397.4 L237.4,390.2 L234.6,391.8 L231.9,397.1 L229.1,397.6 L226.4,394.9 L223.6,405.1 L220.9,388.1 L218.1,387.3 L215.4,396.8 L212.6,397.6 L209.9,398.2 L207.1,401.4 L204.4,402.9 L201.6,401.3 L198.9,398.3 L196.1,401.1 L193.4,403.3 L190.6,401.6 L187.9,402.0 L185.1,408.9 L182.4,399.7 L179.6,403.3 L176.9,406.3 L174.1,408.4 L171.4,411.0 L168.6,414.0 L165.9,416.9 L163.1,422.5 L160.4,427.3 L157.6,428.7 L154.9,426.2 L152.1,427.8 L149.4,418.6 L146.6,418.7 L143.9,427.9 L141.1,434.3 L138.4,440.5 L135.6,445.7 L132.9,449.0 L130.1,447.4 L127.4,434.7 L124.6,433.5 L121.9,435.8 L119.1,436.9 L116.4,448.1 L113.6,446.9 L110.9,445.5 L108.1,440.1 L105.4,439.8 L102.6,424.0 L99.9,414.7 L97.1,409.2 L94.4,412.0 L91.6,414.9 L88.9,418.3 L86.1,437.8 L83.4,440.7 L80.6,444.6 L77.9,442.4 L75.1,443.8Z" fill="#b5434a" fill-opacity="0.5"/>
<path d="M75.1,440.2 L77.9,439.7 L80.6,442.9 L83.4,439.1 L86.1,434.8 L88.9,415.1 L91.6,410.6 L94.4,410.2 L97.1,406.2 L99.9,410.8 L102.6,419.8 L105.4,431.7 L108.1,437.6 L110.9,441.7 L113.6,443.1 L116.4,445.0 L119.1,435.1 L121.9,432.6 L124.6,431.0 L127.4,431.1 L130.1,443.9 L132.9,446.3 L135.6,442.7 L138.4,438.2 L141.1,431.6 L143.9,425.8 L146.6,415.7 L149.4,414.0 L152.1,419.9 L154.9,423.0 L157.6,427.0 L160.4,424.8 L163.1,420.4 L165.9,414.6 L168.6,410.5 L171.4,407.3 L174.1,406.5 L176.9,403.4 L179.6,399.1 L182.4,395.7 L185.1,401.5 L187.9,399.2 L190.6,398.6 L193.4,401.0 L196.1,396.5 L198.9,394.1 L201.6,398.8 L204.4,400.3 L207.1,397.1 L209.9,395.9 L212.6,394.8 L215.4,393.3 L218.1,385.0 L220.9,385.6 L223.6,402.3 L226.4,391.3 L229.1,393.2 L231.9,393.7 L234.6,388.5 L237.4,386.1 L240.1,395.4 L242.9,404.0 L245.6,407.1 L248.4,404.3 L251.1,403.2 L253.9,400.0 L256.6,395.5 L259.4,395.2 L262.1,401.2 L264.9,414.9 L267.6,403.1 L270.4,393.3 L273.1,389.1 L275.9,384.8 L278.6,384.6 L281.4,390.5 L284.1,399.5 L286.9,401.6 L289.6,405.3 L292.4,407.2 L295.1,394.8 L297.9,389.6 L300.6,386.6 L303.4,388.3 L306.1,390.4 L308.9,398.2 L311.6,395.0 L314.4,385.6 L317.1,382.6 L319.9,381.9 L322.6,375.0 L325.4,378.2 L328.1,385.2 L330.9,384.7 L333.6,381.9 L336.4,377.4 L339.1,373.1 L341.9,368.9 L344.6,361.1 L347.4,358.3 L350.1,359.5 L352.9,361.6 L355.6,367.7 L358.4,369.9 L361.1,366.7 L363.9,360.9 L366.6,358.3 L369.4,357.9 L372.1,359.5 L374.9,355.2 L377.6,358.1 L380.4,360.8 L383.1,356.7 L385.9,356.1 L388.6,353.3 L391.4,356.5 L394.1,361.0 L396.9,366.0 L399.6,375.3 L402.4,380.4 L405.1,371.1 L407.9,364.5 L410.6,362.8 L413.4,365.2 L416.1,366.9 L418.9,367.4 L421.6,370.1 L424.4,365.8 L427.1,376.9 L429.9,379.4 L432.6,378.9 L435.4,377.9 L438.1,382.0 L440.9,379.1 L443.6,377.0 L446.4,366.6 L449.1,357.2 L451.9,350.0 L454.6,349.2 L457.4,346.6 L460.1,352.4 L462.9,353.8 L465.6,357.6 L468.4,357.8 L471.1,361.4 L473.9,364.9 L476.6,369.5 L479.4,370.3 L482.1,374.7 L484.9,375.6 L487.6,372.4 L490.4,375.0 L493.1,378.1 L495.9,376.1 L498.6,365.5 L501.4,360.9 L504.1,362.1 L506.9,367.0 L509.6,372.2 L512.4,379.9 L515.1,386.3 L517.9,389.5 L520.6,386.4 L523.4,384.8 L526.1,380.6 L528.9,385.9 L531.6,389.6 L533.2,393.3 L536.9,392.5 L538.8,405.8 L540.5,420.2 L542.2,433.5 L544.1,368.5 L546.0,410.1 L547.7,429.9 L549.4,412.5 L551.3,415.4 L553.0,416.6 L555.4,431.8 L558.1,426.3 L559.3,401.0 L561.4,354.0 L563.4,366.8 L565.3,384.6 L567.0,387.7 L570.1,390.9 L572.5,403.4 L574.9,396.2 L576.6,397.8" fill="none" stroke="#a11418" stroke-width="1.1" stroke-linejoin="round"/>
<g fill="#fff" stroke="#a11418" stroke-width="0.9">
<circle cx="75.1" cy="440.2" r="2.4"/>
<circle cx="77.9" cy="439.7" r="2.4"/>
<circle cx="80.6" cy="442.9" r="2.4"/>
<circle cx="83.4" cy="439.1" r="2.4"/>
<circle cx="86.1" cy="434.8" r="2.4"/>
<circle cx="88.9" cy="415.1" r="2.4"/>
<circle cx="91.6" cy="410.6" r="2.4"/>
<circle cx="94.4" cy="410.2" r="2.4"/>
<circle cx="97.1" cy="406.2" r="2.4"/>
<circle cx="99.9" cy="410.8" r="2.4"/>
<circle cx="102.6" cy="419.8" r="2.4"/>
<circle cx="105.4" cy="431.7" r="2.4"/>
<circle cx="108.1" cy="437.6" r="2.4"/>
<circle cx="110.9" cy="441.7" r="2.4"/>
<circle cx="113.6" cy="443.1" r="2.4"/>
<circle cx="116.4" cy="445.0" r="2.4"/>
<circle cx="119.1" cy="435.1" r="2.4"/>
<circle cx="121.9" cy="432.6" r="2.4"/>
<circle cx="124.6" cy="431.0" r="2.4"/>
<circle cx="127.4" cy="431.1" r="2.4"/>
<circle cx="130.1" cy="443.9" r="2.4"/>
<circle cx="132.9" cy="446.3" r="2.4"/>
<circle cx="135.6" cy="442.7" r="2.4"/>
<circle cx="138.4" cy="438.2" r="2.4"/>
<circle cx="141.1" cy="431.6" r="2.4"/>
<circle cx="143.9" cy="425.8" r="2.4"/>
<circle cx="146.6" cy="415.7" r="2.4"/>
<circle cx="149.4" cy="414.0" r="2.4"/>
<circle cx="152.1" cy="419.9" r="2.4"/>
<circle cx="154.9" cy="423.0" r="2.4"/>
<circle cx="157.6" cy="427.0" r="2.4"/>
<circle cx="160.4" cy="424.8" r="2.4"/>
<circle cx="163.1" cy="420.4" r="2.4"/>
<circle cx="165.9" cy="414.6" r="2.4"/>
<circle cx="168.6" cy="410.5" r="2.4"/>
<circle cx="171.4" cy="407.3" r="2.4"/>
<circle cx="174.1" cy="406.5" r="2.4"/>
<circle cx="176.9" cy="403.4" r="2.4"/>
<circle cx="179.6" cy="399.1" r="2.4"/>
<circle cx="182.4" cy="395.7" r="2.4"/>
<circle cx="185.1" cy="401.5" r="2.4"/>
<circle cx="187.9" cy="399.2" r="2.4"/>
<circle cx="190.6" cy="398.6" r="2.4"/>
<circle cx="193.4" cy="401.0" r="2.4"/>
<circle cx="196.1" cy="396.5" r="2.4"/>
<circle cx="198.9" cy="394.1" r="2.4"/>
<circle cx="201.6" cy="398.8" r="2.4"/>
<circle cx="204.4" cy="400.3" r="2.4"/>
<circle cx="207.1" cy="397.1" r="2.4"/>
<circle cx="209.9" cy="395.9" r="2.4"/>
<circle cx="212.6" cy="394.8" r="2.4"/>
<circle cx="215.4" cy="393.3" r="2.4"/>
<circle cx="218.1" cy="385.0" r="2.4"/>
<circle cx="220.9" cy="385.6" r="2.4"/>
<circle cx="223.6" cy="402.3" r="2.4"/>
<circle cx="226.4" cy="391.3" r="2.4"/>
<circle cx="229.1" cy="393.2" r="2.4"/>
<circle cx="231.9" cy="393.7" r="2.4"/>
<circle cx="234.6" cy="388.5" r="2.4"/>
<circle cx="237.4" cy="386.1" r="2.4"/>
<circle cx="240.1" cy="395.4" r="2.4"/>
<circle cx="242.9" cy="404.0" r="2.4"/>
<circle cx="245.6" cy="407.1" r="2.4"/>
<circle cx="248.4" cy="404.3" r="2.4"/>
<circle cx="251.1" cy="403.2" r="2.4"/>
<circle cx="253.9" cy="400.0" r="2.4"/>
<circle cx="256.6" cy="395.5" r="2.4"/>
<circle cx="259.4" cy="395.2" r="2.4"/>
<circle cx="262.1" cy="401.2" r="2.4"/>
<circle cx="264.9" cy="414.9" r="2.4"/>
<circle cx="267.6" cy="403.1" r="2.4"/>
<circle cx="270.4" cy="393.3" r="2.4"/>
<circle cx="273.1" cy="389.1" r="2.4"/>
<circle cx="275.9" cy="384.8" r="2.4"/>
<circle cx="278.6" cy="384.6" r="2.4"/>
<circle cx="281.4" cy="390.5" r="2.4"/>
<circle cx="284.1" cy="399.5" r="2.4"/>
<circle cx="286.9" cy="401.6" r="2.4"/>
<circle cx="289.6" cy="405.3" r="2.4"/>
<circle cx="292.4" cy="407.2" r="2.4"/>
<circle cx="295.1" cy="394.8" r="2.4"/>
<circle cx="297.9" cy="389.6" r="2.4"/>
<circle cx="300.6" cy="386.6" r="2.4"/>
<circle cx="303.4" cy="388.3" r="2.4"/>
<circle cx="306.1" cy="390.4" r="2.4"/>
<circle cx="308.9" cy="398.2" r="2.4"/>
<circle cx="311.6" cy="395.0" r="2.4"/>
<circle cx="314.4" cy="385.6" r="2.4"/>
<circle cx="317.1" cy="382.6" r="2.4"/>
<circle cx="319.9" cy="381.9" r="2.4"/>
<circle cx="322.6" cy="375.0" r="2.4"/>
<circle cx="325.4" cy="378.2" r="2.4"/>
<circle cx="328.1" cy="385.2" r="2.4"/>
<circle cx="330.9" cy="384.7" r="2.4"/>
<circle cx="333.6" cy="381.9" r="2.4"/>
<circle cx="336.4" cy="377.4" r="2.4"/>
<circle cx="339.1" cy="373.1" r="2.4"/>
<circle cx="341.9" cy="368.9" r="2.4"/>
<circle cx="344.6" cy="361.1" r="2.4"/>
<circle cx="347.4" cy="358.3" r="2.4"/>
<circle cx="350.1" cy="359.5" r="2.4"/>
<circle cx="352.9" cy="361.6" r="2.4"/>
<circle cx="355.6" cy="367.7" r="2.4"/>
<circle cx="358.4" cy="369.9" r="2.4"/>
<circle cx="361.1" cy="366.7" r="2.4"/>
<circle cx="363.9" cy="360.9" r="2.4"/>
<circle cx="366.6" cy="358.3" r="2.4"/>
<circle cx="369.4" cy="357.9" r="2.4"/>
<circle cx="372.1" cy="359.5" r="2.4"/>
<circle cx="374.9" cy="355.2" r="2.4"/>
<circle cx="377.6" cy="358.1" r="2.4"/>
<circle cx="380.4" cy="360.8" r="2.4"/>
<circle cx="383.1" cy="356.7" r="2.4"/>
<circle cx="385.9" cy="356.1" r="2.4"/>
<circle cx="388.6" cy="353.3" r="2.4"/>
<circle cx="391.4" cy="356.5" r="2.4"/>
<circle cx="394.1" cy="361.0" r="2.4"/>
<circle cx="396.9" cy="366.0" r="2.4"/>
<circle cx="399.6" cy="375.3" r="2.4"/>
<circle cx="402.4" cy="380.4" r="2.4"/>
<circle cx="405.1" cy="371.1" r="2.4"/>
<circle cx="407.9" cy="364.5" r="2.4"/>
<circle cx="410.6" cy="362.8" r="2.4"/>
<circle cx="413.4" cy="365.2" r="2.4"/>
<circle cx="416.1" cy="366.9" r="2.4"/>
<circle cx="418.9" cy="367.4" r="2.4"/>
<circle cx="421.6" cy="370.1" r="2.4"/>
<circle cx="424.4" cy="365.8" r="2.4"/>
<circle cx="427.1" cy="376.9" r="2.4"/>
<circle cx="429.9" cy="379.4" r="2.4"/>
<circle cx="432.6" cy="378.9" r="2.4"/>
<circle cx="435.4" cy="377.9" r="2.4"/>
<circle cx="438.1" cy="382.0" r="2.4"/>
<circle cx="440.9" cy="379.1" r="2.4"/>
<circle cx="443.6" cy="377.0" r="2.4"/>
<circle cx="446.4" cy="366.6" r="2.4"/>
<circle cx="449.1" cy="357.2" r="2.4"/>
<circle cx="451.9" cy="350.0" r="2.4"/>
<circle cx="454.6" cy="349.2" r="2.4"/>
<circle cx="457.4" cy="346.6" r="2.4"/>
<circle cx="460.1" cy="352.4" r="2.4"/>
<circle cx="462.9" cy="353.8" r="2.4"/>
<circle cx="465.6" cy="357.6" r="2.4"/>
<circle cx="468.4" cy="357.8" r="2.4"/>
<circle cx="471.1" cy="361.4" r="2.4"/>
<circle cx="473.9" cy="364.9" r="2.4"/>
<circle cx="476.6" cy="369.5" r="2.4"/>
<circle cx="479.4" cy="370.3" r="2.4"/>
<circle cx="482.1" cy="374.7" r="2.4"/>
<circle cx="484.9" cy="375.6" r="2.4"/>
<circle cx="487.6" cy="372.4" r="2.4"/>
<circle cx="490.4" cy="375.0" r="2.4"/>
<circle cx="493.1" cy="378.1" r="2.4"/>
<circle cx="495.9" cy="376.1" r="2.4"/>
<circle cx="498.6" cy="365.5" r="2.4"/>
<circle cx="501.4" cy="360.9" r="2.4"/>
<circle cx="504.1" cy="362.1" r="2.4"/>
<circle cx="506.9" cy="367.0" r="2.4"/>
<circle cx="509.6" cy="372.2" r="2.4"/>
<circle cx="512.4" cy="379.9" r="2.4"/>
<circle cx="515.1" cy="386.3" r="2.4"/>
<circle cx="517.9" cy="389.5" r="2.4"/>
<circle cx="520.6" cy="386.4" r="2.4"/>
<circle cx="523.4" cy="384.8" r="2.4"/>
<circle cx="526.1" cy="380.6" r="2.4"/>
<circle cx="528.9" cy="385.9" r="2.4"/>
<circle cx="531.6" cy="389.6" r="2.4"/>
<circle cx="533.2" cy="393.3" r="2.4"/>
<circle cx="536.9" cy="392.5" r="2.4"/>
<circle cx="538.8" cy="405.8" r="2.4"/>
<circle cx="540.5" cy="420.2" r="2.4"/>
<circle cx="542.2" cy="433.5" r="2.4"/>
<circle cx="544.1" cy="368.5" r="2.4"/>
<circle cx="546.0" cy="410.1" r="2.4"/>
<circle cx="547.7" cy="429.9" r="2.4"/>
<circle cx="549.4" cy="412.5" r="2.4"/>
<circle cx="551.3" cy="415.4" r="2.4"/>
<circle cx="553.0" cy="416.6" r="2.4"/>
<circle cx="555.4" cy="431.8" r="2.4"/>
<circle cx="558.1" cy="426.3" r="2.4"/>
<circle cx="559.3" cy="401.0" r="2.4"/>
<circle cx="561.4" cy="354.0" r="2.4"/>
<circle cx="563.4" cy="366.8" r="2.4"/>
<circle cx="565.3" cy="384.6" r="2.4"/>
<circle cx="567.0" cy="387.7" r="2.4"/>
<circle cx="570.1" cy="390.9" r="2.4"/>
<circle cx="572.5" cy="403.4" r="2.4"/>
<circle cx="574.9" cy="396.2" r="2.4"/>
<circle cx="576.6" cy="397.8" r="2.4"/>
</g>
<line x1="72.4" y1="308.2" x2="578.6" y2="308.2" stroke="#111" stroke-width="1.1"/>
<line x1="72.9" y1="313.4" x2="72.9" y2="470.1" stroke="#111" stroke-width="1.1"/>
<line x1="67.9" y1="469.6" x2="72.9" y2="469.6" stroke="#111" stroke-width="1.1"/>
<text x="66" y="473.5" font-size="11" font-weight="bold" text-anchor="end" fill="#111">0</text>
<line x1="67.9" y1="424.9" x2="72.9" y2="424.9" stroke="#111" stroke-width="1.1"/>
<text x="66" y="428.8" font-size="11" font-weight="bold" text-anchor="end" fill="#111">1</text>
<line x1="67.9" y1="380.2" x2="72.9" y2="380.2" stroke="#111" stroke-width="1.1"/>
<text x="66" y="384.1" font-size="11" font-weight="bold" text-anchor="end" fill="#111">2</text>
<line x1="67.9" y1="335.5" x2="72.9" y2="335.5" stroke="#111" stroke-width="1.1"/>
<text x="66" y="339.4" font-size="11" font-weight="bold" text-anchor="end" fill="#111">3</text>
<line x1="577.8" y1="312.6" x2="577.8" y2="470.2" stroke="#ffb01c" stroke-width="1.2"/>
<line x1="577.8" y1="469.6" x2="583.1" y2="469.6" stroke="#ffb01c" stroke-width="1.2"/>
<text x="586.5" y="473.9" font-size="12" font-weight="bold" fill="#ffb01c">0</text>
<line x1="577.8" y1="438.3" x2="580.8" y2="438.3" stroke="#ffb01c" stroke-width="1.2"/>
<line x1="577.8" y1="407.0" x2="583.1" y2="407.0" stroke="#ffb01c" stroke-width="1.2"/>
<text x="586.5" y="411.3" font-size="12" font-weight="bold" fill="#ffb01c">1</text>
<line x1="577.8" y1="375.7" x2="580.8" y2="375.7" stroke="#ffb01c" stroke-width="1.2"/>
<line x1="577.8" y1="344.4" x2="583.1" y2="344.4" stroke="#ffb01c" stroke-width="1.2"/>
<text x="586.5" y="348.7" font-size="12" font-weight="bold" fill="#ffb01c">2</text>
<line x1="577.8" y1="313.1" x2="580.8" y2="313.1" stroke="#ffb01c" stroke-width="1.2"/>
<line x1="626.2" y1="312.1" x2="626.2" y2="470.5" stroke="#a11418" stroke-width="1.2"/>
<line x1="626.2" y1="469.9" x2="638.5" y2="469.9" stroke="#a11418" stroke-width="1.2"/>
<text x="647" y="474.3" font-size="12" font-weight="bold" fill="#a11418">0</text>
<line x1="626.2" y1="443.7" x2="632.7" y2="443.7" stroke="#a11418" stroke-width="1.2"/>
<line x1="626.2" y1="417.6" x2="638.5" y2="417.6" stroke="#a11418" stroke-width="1.2"/>
<text x="647" y="421.9" font-size="12" font-weight="bold" fill="#a11418">5</text>
<line x1="626.2" y1="391.4" x2="632.7" y2="391.4" stroke="#a11418" stroke-width="1.2"/>
<line x1="626.2" y1="365.2" x2="638.5" y2="365.2" stroke="#a11418" stroke-width="1.2"/>
<text x="647" y="369.6" font-size="12" font-weight="bold" fill="#a11418">10</text>
<line x1="626.2" y1="339.0" x2="632.7" y2="339.0" stroke="#a11418" stroke-width="1.2"/>
<line x1="626.2" y1="312.9" x2="638.5" y2="312.9" stroke="#a11418" stroke-width="1.2"/>
<text x="647" y="317.2" font-size="12" font-weight="bold" fill="#a11418">15</text>
<text font-size="12" font-weight="bold" fill="#111" text-anchor="middle" transform="translate(16.5,389) rotate(-90)">Aerosol counts (×10<tspan dy="-5.5" font-size="8.5">3</tspan><tspan dy="5.5"> L</tspan><tspan dy="-5.5" font-size="8.5">-1</tspan><tspan dy="5.5">)</tspan></text>
<text font-size="12" font-weight="bold" fill="#111" text-anchor="middle" transform="translate(31.5,392) rotate(-90)">D &gt; 0.58 µm</text>
<text font-size="13" font-weight="bold" fill="#ffb01c" text-anchor="middle" transform="translate(604.5,391.5) rotate(90) scale(0.915,1)">PAR (x10<tspan dy="-6" font-size="9.5">3</tspan><tspan dy="6"> µmol m</tspan><tspan dy="-6" dx="1" font-size="9.5">-2</tspan><tspan dy="6"> s</tspan><tspan dy="-6" dx="1" font-size="9.5">-1</tspan><tspan dy="6">)</tspan></text>
<text font-size="13" font-weight="bold" fill="#a11418" text-anchor="middle" transform="translate(669.5,392) rotate(90) scale(0.92,1)">Wind speed (m s<tspan dy="-6" dx="1" font-size="9.5">-1</tspan><tspan dy="6">)</tspan></text>
<text x="86.5" y="327.8" font-size="14.3" fill="#111">(A)</text>
<rect x="122.6" y="313.8" width="274.3" height="18.6" fill="#fff" stroke="#111" stroke-width="1"/>
<rect x="138.7" y="323.2" width="1.4" height="1.4" fill="#000"/>
<text x="156" y="327.2" font-size="12" fill="#111">Aerosol counts</text>
<line x1="240.7" y1="323.9" x2="262.5" y2="323.9" stroke="#a11418" stroke-width="1.1"/><circle cx="251.6" cy="323.9" r="3.2" fill="#fff" stroke="#a11418" stroke-width="0.9"/>
<text x="268.3" y="327.2" font-size="12" fill="#111">Wind speed</text>
<rect x="343" y="320" width="11.5" height="7" fill="#ffd68a"/>
<text x="365.5" y="327.2" font-size="12" fill="#111">PAR</text>
<text x="543.6" y="328.1" font-size="12" font-weight="bold" fill="#111">Rain</text>
<rect x="73.8" y="522.2" width="20.0" height="130.6" fill="#0000ff"/>
<rect x="73.8" y="608.7" width="20.0" height="44.1" fill="#ffa500"/>
<rect x="73.8" y="621.2" width="20.0" height="31.6" fill="#8c3ae4"/>
<rect x="73.8" y="652.0" width="20.0" height="0.8" fill="#8f5e12"/>
<rect x="73.8" y="652.3" width="20.0" height="0.5" fill="#7a7a7a"/>
<rect x="96.8" y="522.2" width="20.0" height="130.6" fill="#0000ff"/>
<rect x="96.8" y="582.0" width="20.0" height="70.8" fill="#ffa500"/>
<rect x="96.8" y="617.7" width="20.0" height="35.1" fill="#8c3ae4"/>
<rect x="96.8" y="648.2" width="20.0" height="4.6" fill="#8f5e12"/>
<rect x="96.8" y="652.3" width="20.0" height="0.5" fill="#7a7a7a"/>
<rect x="119.8" y="522.2" width="20.0" height="130.6" fill="#0000ff"/>
<rect x="119.8" y="608.1" width="20.0" height="44.7" fill="#ffa500"/>
<rect x="119.8" y="628.6" width="20.0" height="24.2" fill="#8c3ae4"/>
<rect x="119.8" y="652.3" width="20.0" height="0.5" fill="#8f5e12"/>
<rect x="119.8" y="652.3" width="20.0" height="0.5" fill="#7a7a7a"/>
<rect x="142.7" y="522.2" width="20.0" height="130.6" fill="#0000ff"/>
<rect x="142.7" y="616.1" width="20.0" height="36.7" fill="#ffa500"/>
<rect x="142.7" y="634.3" width="20.0" height="18.5" fill="#8c3ae4"/>
<rect x="142.7" y="651.5" width="20.0" height="1.3" fill="#8f5e12"/>
<rect x="142.7" y="652.3" width="20.0" height="0.5" fill="#7a7a7a"/>
<rect x="165.7" y="522.2" width="20.0" height="130.6" fill="#0000ff"/>
<rect x="165.7" y="589.5" width="20.0" height="63.3" fill="#ffa500"/>
<rect x="165.7" y="630.7" width="20.0" height="22.1" fill="#8c3ae4"/>
<rect x="165.7" y="651.6" width="20.0" height="1.2" fill="#8f5e12"/>
<rect x="165.7" y="652.3" width="20.0" height="0.5" fill="#7a7a7a"/>
<rect x="188.7" y="522.2" width="20.0" height="130.6" fill="#0000ff"/>
<rect x="188.7" y="581.0" width="20.0" height="71.8" fill="#ffa500"/>
<rect x="188.7" y="616.6" width="20.0" height="36.2" fill="#8c3ae4"/>
<rect x="188.7" y="650.4" width="20.0" height="2.4" fill="#8f5e12"/>
<rect x="188.7" y="652.3" width="20.0" height="0.5" fill="#7a7a7a"/>
<rect x="211.7" y="522.2" width="20.0" height="130.6" fill="#0000ff"/>
<rect x="211.7" y="616.1" width="20.0" height="36.7" fill="#ffa500"/>
<rect x="211.7" y="630.7" width="20.0" height="22.1" fill="#8c3ae4"/>
<rect x="211.7" y="652.3" width="20.0" height="0.5" fill="#8f5e12"/>
<rect x="211.7" y="652.3" width="20.0" height="0.5" fill="#7a7a7a"/>
<rect x="234.7" y="522.2" width="20.0" height="130.6" fill="#0000ff"/>
<rect x="234.7" y="620.1" width="20.0" height="32.6" fill="#ffa500"/>
<rect x="234.7" y="628.6" width="20.0" height="24.2" fill="#8c3ae4"/>
<rect x="234.7" y="652.3" width="20.0" height="0.5" fill="#8f5e12"/>
<rect x="234.7" y="652.3" width="20.0" height="0.5" fill="#7a7a7a"/>
<rect x="257.6" y="522.2" width="20.0" height="130.6" fill="#0000ff"/>
<rect x="257.6" y="608.1" width="20.0" height="44.7" fill="#ffa500"/>
<rect x="257.6" y="624.2" width="20.0" height="28.6" fill="#8c3ae4"/>
<rect x="257.6" y="652.3" width="20.0" height="0.5" fill="#8f5e12"/>
<rect x="257.6" y="652.3" width="20.0" height="0.5" fill="#7a7a7a"/>
<rect x="280.6" y="522.2" width="20.0" height="130.6" fill="#0000ff"/>
<rect x="280.6" y="584.5" width="20.0" height="68.3" fill="#ffa500"/>
<rect x="280.6" y="625.6" width="20.0" height="27.2" fill="#8c3ae4"/>
<rect x="280.6" y="647.3" width="20.0" height="5.5" fill="#8f5e12"/>
<rect x="280.6" y="652.3" width="20.0" height="0.5" fill="#7a7a7a"/>
<rect x="303.6" y="522.2" width="20.0" height="130.6" fill="#0000ff"/>
<rect x="303.6" y="596.5" width="20.0" height="56.3" fill="#ffa500"/>
<rect x="303.6" y="629.7" width="20.0" height="23.1" fill="#8c3ae4"/>
<rect x="303.6" y="645.7" width="20.0" height="7.1" fill="#8f5e12"/>
<rect x="303.6" y="652.3" width="20.0" height="0.5" fill="#7a7a7a"/>
<rect x="326.6" y="522.2" width="20.0" height="130.6" fill="#0000ff"/>
<rect x="326.6" y="628.2" width="20.0" height="24.6" fill="#ffa500"/>
<rect x="326.6" y="648.8" width="20.0" height="4.0" fill="#8c3ae4"/>
<rect x="326.6" y="652.1" width="20.0" height="0.7" fill="#8f5e12"/>
<rect x="326.6" y="652.3" width="20.0" height="0.5" fill="#7a7a7a"/>
<rect x="349.6" y="522.2" width="20.0" height="130.6" fill="#0000ff"/>
<rect x="349.6" y="643.8" width="20.0" height="9.0" fill="#ffa500"/>
<rect x="349.6" y="650.8" width="20.0" height="2.0" fill="#8c3ae4"/>
<rect x="349.6" y="652.3" width="20.0" height="0.5" fill="#8f5e12"/>
<rect x="349.6" y="652.3" width="20.0" height="0.5" fill="#7a7a7a"/>
<rect x="372.5" y="522.2" width="20.0" height="130.6" fill="#0000ff"/>
<rect x="372.5" y="641.7" width="20.0" height="11.1" fill="#ffa500"/>
<rect x="372.5" y="649.8" width="20.0" height="3.0" fill="#8c3ae4"/>
<rect x="372.5" y="652.1" width="20.0" height="0.7" fill="#8f5e12"/>
<rect x="372.5" y="652.3" width="20.0" height="0.5" fill="#7a7a7a"/>
<rect x="395.5" y="522.2" width="20.0" height="130.6" fill="#0000ff"/>
<rect x="395.5" y="641.3" width="20.0" height="11.5" fill="#ffa500"/>
<rect x="395.5" y="651.8" width="20.0" height="1.0" fill="#8c3ae4"/>
<rect x="395.5" y="652.4" width="20.0" height="0.4" fill="#8f5e12"/>
<rect x="395.5" y="652.3" width="20.0" height="0.5" fill="#7a7a7a"/>
<rect x="418.5" y="522.2" width="20.0" height="130.6" fill="#0000ff"/>
<rect x="418.5" y="639.7" width="20.0" height="13.1" fill="#ffa500"/>
<rect x="418.5" y="647.3" width="20.0" height="5.5" fill="#8c3ae4"/>
<rect x="418.5" y="652.1" width="20.0" height="0.7" fill="#8f5e12"/>
<rect x="418.5" y="652.3" width="20.0" height="0.5" fill="#7a7a7a"/>
<rect x="441.5" y="522.2" width="20.0" height="130.6" fill="#0000ff"/>
<rect x="441.5" y="644.7" width="20.0" height="8.1" fill="#ffa500"/>
<rect x="441.5" y="650.8" width="20.0" height="2.0" fill="#8c3ae4"/>
<rect x="441.5" y="652.3" width="20.0" height="0.5" fill="#8f5e12"/>
<rect x="441.5" y="652.3" width="20.0" height="0.5" fill="#7a7a7a"/>
<rect x="464.5" y="522.2" width="20.0" height="130.6" fill="#0000ff"/>
<rect x="464.5" y="638.7" width="20.0" height="14.1" fill="#ffa500"/>
<rect x="464.5" y="646.3" width="20.0" height="6.5" fill="#8c3ae4"/>
<rect x="464.5" y="652.3" width="20.0" height="0.5" fill="#8f5e12"/>
<rect x="464.5" y="652.3" width="20.0" height="0.5" fill="#7a7a7a"/>
<rect x="487.4" y="522.2" width="20.0" height="130.6" fill="#0000ff"/>
<rect x="487.4" y="642.7" width="20.0" height="10.1" fill="#ffa500"/>
<rect x="487.4" y="652.3" width="20.0" height="0.5" fill="#8c3ae4"/>
<rect x="487.4" y="652.5" width="20.0" height="0.3" fill="#8f5e12"/>
<rect x="487.4" y="652.3" width="20.0" height="0.5" fill="#7a7a7a"/>
<rect x="510.4" y="522.2" width="20.0" height="130.6" fill="#0000ff"/>
<rect x="510.4" y="631.3" width="20.0" height="21.5" fill="#ffa500"/>
<rect x="510.4" y="640.8" width="20.0" height="12.0" fill="#8c3ae4"/>
<rect x="510.4" y="651.5" width="20.0" height="1.3" fill="#8f5e12"/>
<rect x="510.4" y="652.3" width="20.0" height="0.5" fill="#7a7a7a"/>
<rect x="533.4" y="522.2" width="20.0" height="130.6" fill="#0000ff"/>
<rect x="533.4" y="629.2" width="20.0" height="23.6" fill="#ffa500"/>
<rect x="533.4" y="643.8" width="20.0" height="9.0" fill="#8c3ae4"/>
<rect x="533.4" y="649.8" width="20.0" height="3.0" fill="#8f5e12"/>
<rect x="533.4" y="652.3" width="20.0" height="0.5" fill="#7a7a7a"/>
<rect x="556.4" y="522.2" width="20.0" height="130.6" fill="#0000ff"/>
<rect x="556.4" y="645.7" width="20.0" height="7.1" fill="#ffa500"/>
<rect x="556.4" y="652.3" width="20.0" height="0.5" fill="#8c3ae4"/>
<rect x="556.4" y="652.5" width="20.0" height="0.3" fill="#8f5e12"/>
<rect x="556.4" y="652.3" width="20.0" height="0.5" fill="#7a7a7a"/>
<line x1="73.1" y1="521.7" x2="73.1" y2="653.3" stroke="#111" stroke-width="1.1"/>
<line x1="578.2" y1="521.7" x2="578.2" y2="653.3" stroke="#111" stroke-width="1.1"/>
<line x1="68" y1="652.8" x2="73.1" y2="652.8" stroke="#111" stroke-width="1.1"/>
<line x1="578.2" y1="652.8" x2="581" y2="652.8" stroke="#111" stroke-width="1.1"/>
<text x="66" y="656.7" font-size="11" font-weight="bold" text-anchor="end" fill="#111">0</text>
<line x1="68" y1="626.7" x2="73.1" y2="626.7" stroke="#111" stroke-width="1.1"/>
<line x1="578.2" y1="626.7" x2="581" y2="626.7" stroke="#111" stroke-width="1.1"/>
<text x="66" y="630.6" font-size="11" font-weight="bold" text-anchor="end" fill="#111">20</text>
<line x1="68" y1="600.6" x2="73.1" y2="600.6" stroke="#111" stroke-width="1.1"/>
<line x1="578.2" y1="600.6" x2="581" y2="600.6" stroke="#111" stroke-width="1.1"/>
<text x="66" y="604.5" font-size="11" font-weight="bold" text-anchor="end" fill="#111">40</text>
<line x1="68" y1="574.4" x2="73.1" y2="574.4" stroke="#111" stroke-width="1.1"/>
<line x1="578.2" y1="574.4" x2="581" y2="574.4" stroke="#111" stroke-width="1.1"/>
<text x="66" y="578.3" font-size="11" font-weight="bold" text-anchor="end" fill="#111">60</text>
<line x1="68" y1="548.3" x2="73.1" y2="548.3" stroke="#111" stroke-width="1.1"/>
<line x1="578.2" y1="548.3" x2="581" y2="548.3" stroke="#111" stroke-width="1.1"/>
<text x="66" y="552.2" font-size="11" font-weight="bold" text-anchor="end" fill="#111">80</text>
<line x1="68" y1="522.2" x2="73.1" y2="522.2" stroke="#111" stroke-width="1.1"/>
<line x1="578.2" y1="522.2" x2="581" y2="522.2" stroke="#111" stroke-width="1.1"/>
<text x="66" y="526.1" font-size="11" font-weight="bold" text-anchor="end" fill="#111">100</text>
<text font-size="12" font-weight="bold" fill="#111" text-anchor="middle" transform="translate(26.5,587) rotate(-90)">%</text>
<line x1="72.2" y1="664.6" x2="578.6" y2="664.6" stroke="#111" stroke-width="1.1"/>
<line x1="72.8" y1="664.6" x2="72.8" y2="668.8" stroke="#111" stroke-width="1.1"/>
<text x="84.3" y="678.5" font-size="11" font-weight="bold" text-anchor="middle" fill="#111">N</text>
<line x1="95.8" y1="664.6" x2="95.8" y2="668.8" stroke="#111" stroke-width="1.1"/>
<text x="107.3" y="678.5" font-size="11" font-weight="bold" text-anchor="middle" fill="#111">D</text>
<line x1="118.7" y1="664.6" x2="118.7" y2="668.8" stroke="#111" stroke-width="1.1"/>
<text x="130.2" y="678.5" font-size="11" font-weight="bold" text-anchor="middle" fill="#111">N</text>
<line x1="141.7" y1="664.6" x2="141.7" y2="668.8" stroke="#111" stroke-width="1.1"/>
<text x="153.2" y="678.5" font-size="11" font-weight="bold" text-anchor="middle" fill="#111">D</text>
<line x1="164.6" y1="664.6" x2="164.6" y2="668.8" stroke="#111" stroke-width="1.1"/>
<text x="176.1" y="678.5" font-size="11" font-weight="bold" text-anchor="middle" fill="#111">N</text>
<line x1="187.6" y1="664.6" x2="187.6" y2="668.8" stroke="#111" stroke-width="1.1"/>
<text x="199.1" y="678.5" font-size="11" font-weight="bold" text-anchor="middle" fill="#111">D</text>
<line x1="210.6" y1="664.6" x2="210.6" y2="668.8" stroke="#111" stroke-width="1.1"/>
<text x="222.1" y="678.5" font-size="11" font-weight="bold" text-anchor="middle" fill="#111">N</text>
<line x1="233.5" y1="664.6" x2="233.5" y2="668.8" stroke="#111" stroke-width="1.1"/>
<text x="245.0" y="678.5" font-size="11" font-weight="bold" text-anchor="middle" fill="#111">D</text>
<line x1="256.5" y1="664.6" x2="256.5" y2="668.8" stroke="#111" stroke-width="1.1"/>
<text x="268.0" y="678.5" font-size="11" font-weight="bold" text-anchor="middle" fill="#111">N</text>
<line x1="279.4" y1="664.6" x2="279.4" y2="668.8" stroke="#111" stroke-width="1.1"/>
<text x="290.9" y="678.5" font-size="11" font-weight="bold" text-anchor="middle" fill="#111">D</text>
<line x1="302.4" y1="664.6" x2="302.4" y2="668.8" stroke="#111" stroke-width="1.1"/>
<text x="313.9" y="678.5" font-size="11" font-weight="bold" text-anchor="middle" fill="#111">N</text>
<line x1="325.4" y1="664.6" x2="325.4" y2="668.8" stroke="#111" stroke-width="1.1"/>
<text x="336.9" y="678.5" font-size="11" font-weight="bold" text-anchor="middle" fill="#111">D</text>
<line x1="348.3" y1="664.6" x2="348.3" y2="668.8" stroke="#111" stroke-width="1.1"/>
<text x="359.8" y="678.5" font-size="11" font-weight="bold" text-anchor="middle" fill="#111">N</text>
<line x1="371.3" y1="664.6" x2="371.3" y2="668.8" stroke="#111" stroke-width="1.1"/>
<text x="382.8" y="678.5" font-size="11" font-weight="bold" text-anchor="middle" fill="#111">D</text>
<line x1="394.2" y1="664.6" x2="394.2" y2="668.8" stroke="#111" stroke-width="1.1"/>
<text x="405.7" y="678.5" font-size="11" font-weight="bold" text-anchor="middle" fill="#111">N</text>
<line x1="417.2" y1="664.6" x2="417.2" y2="668.8" stroke="#111" stroke-width="1.1"/>
<text x="428.7" y="678.5" font-size="11" font-weight="bold" text-anchor="middle" fill="#111">D</text>
<line x1="440.2" y1="664.6" x2="440.2" y2="668.8" stroke="#111" stroke-width="1.1"/>
<text x="451.7" y="678.5" font-size="11" font-weight="bold" text-anchor="middle" fill="#111">N</text>
<line x1="463.1" y1="664.6" x2="463.1" y2="668.8" stroke="#111" stroke-width="1.1"/>
<text x="474.6" y="678.5" font-size="11" font-weight="bold" text-anchor="middle" fill="#111">D</text>
<line x1="486.1" y1="664.6" x2="486.1" y2="668.8" stroke="#111" stroke-width="1.1"/>
<text x="497.6" y="678.5" font-size="11" font-weight="bold" text-anchor="middle" fill="#111">N</text>
<line x1="509.0" y1="664.6" x2="509.0" y2="668.8" stroke="#111" stroke-width="1.1"/>
<text x="520.5" y="678.5" font-size="11" font-weight="bold" text-anchor="middle" fill="#111">D</text>
<line x1="532.0" y1="664.6" x2="532.0" y2="668.8" stroke="#111" stroke-width="1.1"/>
<text x="543.5" y="678.5" font-size="11" font-weight="bold" text-anchor="middle" fill="#111">N</text>
<line x1="555.0" y1="664.6" x2="555.0" y2="668.8" stroke="#111" stroke-width="1.1"/>
<text x="566.5" y="678.5" font-size="11" font-weight="bold" text-anchor="middle" fill="#111">D</text>
<line x1="577.9" y1="664.6" x2="577.9" y2="668.8" stroke="#111" stroke-width="1.1"/>
<text x="76.3" y="511.4" font-size="14.3" fill="#111">(B)</text>
<text x="207.5" y="513.5" font-size="14.5" fill="#111">Particle's chemical classes identified</text>
<line x1="207.5" y1="515.6" x2="441.5" y2="515.6" stroke="#111" stroke-width="0.9"/>
<text x="602.6" y="543.9" font-size="12" font-weight="bold" fill="#0000f0">SeaSalt</text>
<text x="602.6" y="564.9" font-size="12" font-weight="bold" fill="#ffa500">Metal with Na</text>
<text x="602.6" y="585.9" font-size="12" font-weight="bold" fill="#8c3ae4">Sulfate/</text>
<text x="602.6" y="598.9" font-size="12" font-weight="bold" fill="#8c3ae4">SeaSalt</text>
<text x="602.6" y="618.9" font-size="12" font-weight="bold" fill="#8f5e12">Sulfates</text>
<text x="602.6" y="638.9" font-size="12" font-weight="bold" fill="#6e6e6e">Other</text>
<g fill="#fff" stroke="#000" stroke-width="0.7">
<circle cx="73.3" cy="745.3" r="1.45"/>
<circle cx="73.3" cy="746.7" r="1.45"/>
<circle cx="73.1" cy="746.1" r="1.45"/>
<circle cx="73.0" cy="742.0" r="1.45"/>
<circle cx="74.4" cy="747.1" r="1.45"/>
<circle cx="74.4" cy="744.8" r="1.45"/>
<circle cx="74.3" cy="750.4" r="1.45"/>
<circle cx="73.8" cy="745.8" r="1.45"/>
<circle cx="74.5" cy="748.5" r="1.45"/>
<circle cx="74.9" cy="749.1" r="1.45"/>
<circle cx="74.6" cy="748.8" r="1.45"/>
<circle cx="75.2" cy="753.5" r="1.45"/>
<circle cx="74.8" cy="753.7" r="1.45"/>
<circle cx="75.4" cy="751.4" r="1.45"/>
<circle cx="75.1" cy="757.5" r="1.45"/>
<circle cx="75.4" cy="755.9" r="1.45"/>
<circle cx="75.6" cy="754.7" r="1.45"/>
<circle cx="75.9" cy="758.5" r="1.45"/>
<circle cx="76.5" cy="756.7" r="1.45"/>
<circle cx="76.1" cy="760.7" r="1.45"/>
<circle cx="76.5" cy="753.3" r="1.45"/>
<circle cx="76.3" cy="758.0" r="1.45"/>
<circle cx="75.3" cy="761.1" r="1.45"/>
<circle cx="76.1" cy="761.6" r="1.45"/>
<circle cx="76.2" cy="762.4" r="1.45"/>
<circle cx="76.8" cy="763.3" r="1.45"/>
<circle cx="76.7" cy="765.7" r="1.45"/>
<circle cx="76.9" cy="764.5" r="1.45"/>
<circle cx="77.5" cy="765.7" r="1.45"/>
<circle cx="77.2" cy="763.8" r="1.45"/>
<circle cx="77.6" cy="768.3" r="1.45"/>
<circle cx="78.1" cy="764.2" r="1.45"/>
<circle cx="78.8" cy="768.8" r="1.45"/>
<circle cx="78.0" cy="768.5" r="1.45"/>
<circle cx="78.0" cy="760.8" r="1.45"/>
<circle cx="78.1" cy="763.9" r="1.45"/>
<circle cx="78.7" cy="768.8" r="1.45"/>
<circle cx="79.5" cy="771.8" r="1.45"/>
<circle cx="79.8" cy="769.4" r="1.45"/>
<circle cx="79.4" cy="772.4" r="1.45"/>
<circle cx="80.0" cy="766.9" r="1.45"/>
<circle cx="80.2" cy="771.9" r="1.45"/>
<circle cx="79.2" cy="768.5" r="1.45"/>
<circle cx="79.2" cy="769.4" r="1.45"/>
<circle cx="80.8" cy="772.0" r="1.45"/>
<circle cx="80.6" cy="776.8" r="1.45"/>
<circle cx="80.8" cy="773.7" r="1.45"/>
<circle cx="79.6" cy="774.8" r="1.45"/>
<circle cx="81.8" cy="773.0" r="1.45"/>
<circle cx="82.5" cy="774.3" r="1.45"/>
<circle cx="81.8" cy="776.2" r="1.45"/>
<circle cx="82.2" cy="776.0" r="1.45"/>
<circle cx="82.4" cy="779.4" r="1.45"/>
<circle cx="83.5" cy="774.6" r="1.45"/>
<circle cx="82.0" cy="776.9" r="1.45"/>
<circle cx="83.6" cy="778.3" r="1.45"/>
<circle cx="84.4" cy="779.8" r="1.45"/>
<circle cx="85.1" cy="783.4" r="1.45"/>
<circle cx="86.0" cy="784.4" r="1.45"/>
<circle cx="85.2" cy="774.4" r="1.45"/>
<circle cx="85.7" cy="781.0" r="1.45"/>
<circle cx="87.2" cy="779.5" r="1.45"/>
<circle cx="87.8" cy="778.5" r="1.45"/>
<circle cx="88.2" cy="780.8" r="1.45"/>
<circle cx="89.8" cy="782.5" r="1.45"/>
<circle cx="90.0" cy="779.6" r="1.45"/>
<circle cx="90.2" cy="778.6" r="1.45"/>
<circle cx="90.3" cy="778.6" r="1.45"/>
<circle cx="90.7" cy="780.1" r="1.45"/>
<circle cx="92.2" cy="781.9" r="1.45"/>
<circle cx="93.2" cy="781.0" r="1.45"/>
<circle cx="93.2" cy="780.6" r="1.45"/>
<circle cx="94.0" cy="778.6" r="1.45"/>
<circle cx="94.1" cy="781.4" r="1.45"/>
<circle cx="95.2" cy="778.0" r="1.45"/>
<circle cx="95.3" cy="782.8" r="1.45"/>
<circle cx="94.8" cy="780.8" r="1.45"/>
<circle cx="97.0" cy="773.7" r="1.45"/>
<circle cx="96.5" cy="780.4" r="1.45"/>
<circle cx="97.3" cy="783.2" r="1.45"/>
<circle cx="98.4" cy="781.5" r="1.45"/>
<circle cx="96.6" cy="777.1" r="1.45"/>
<circle cx="97.3" cy="779.5" r="1.45"/>
<circle cx="98.0" cy="773.3" r="1.45"/>
<circle cx="97.1" cy="777.7" r="1.45"/>
<circle cx="98.2" cy="778.6" r="1.45"/>
<circle cx="99.7" cy="776.0" r="1.45"/>
<circle cx="98.4" cy="774.1" r="1.45"/>
<circle cx="99.3" cy="773.2" r="1.45"/>
<circle cx="99.9" cy="771.5" r="1.45"/>
<circle cx="100.5" cy="769.8" r="1.45"/>
<circle cx="100.8" cy="767.1" r="1.45"/>
<circle cx="100.8" cy="768.4" r="1.45"/>
<circle cx="101.9" cy="770.8" r="1.45"/>
<circle cx="100.9" cy="768.4" r="1.45"/>
<circle cx="102.7" cy="769.0" r="1.45"/>
<circle cx="102.4" cy="768.7" r="1.45"/>
<circle cx="104.0" cy="769.6" r="1.45"/>
<circle cx="104.4" cy="771.4" r="1.45"/>
<circle cx="105.4" cy="770.8" r="1.45"/>
<circle cx="104.6" cy="772.1" r="1.45"/>
<circle cx="105.8" cy="768.4" r="1.45"/>
<circle cx="106.8" cy="769.3" r="1.45"/>
<circle cx="107.6" cy="771.3" r="1.45"/>
<circle cx="107.3" cy="764.4" r="1.45"/>
<circle cx="109.6" cy="767.1" r="1.45"/>
<circle cx="109.8" cy="767.9" r="1.45"/>
<circle cx="108.9" cy="770.2" r="1.45"/>
<circle cx="110.2" cy="770.0" r="1.45"/>
<circle cx="109.1" cy="765.0" r="1.45"/>
<circle cx="109.0" cy="767.9" r="1.45"/>
<circle cx="109.6" cy="760.4" r="1.45"/>
<circle cx="111.2" cy="765.2" r="1.45"/>
<circle cx="110.4" cy="761.7" r="1.45"/>
<circle cx="110.9" cy="763.5" r="1.45"/>
<circle cx="110.6" cy="762.8" r="1.45"/>
<circle cx="111.3" cy="759.3" r="1.45"/>
<circle cx="110.4" cy="762.9" r="1.45"/>
<circle cx="110.8" cy="763.0" r="1.45"/>
<circle cx="111.0" cy="762.7" r="1.45"/>
<circle cx="110.9" cy="759.5" r="1.45"/>
<circle cx="110.8" cy="758.2" r="1.45"/>
<circle cx="110.8" cy="757.5" r="1.45"/>
<circle cx="111.5" cy="757.1" r="1.45"/>
<circle cx="112.0" cy="758.8" r="1.45"/>
<circle cx="110.9" cy="758.3" r="1.45"/>
<circle cx="111.5" cy="756.6" r="1.45"/>
<circle cx="112.2" cy="753.0" r="1.45"/>
<circle cx="111.5" cy="756.0" r="1.45"/>
<circle cx="110.9" cy="751.8" r="1.45"/>
<circle cx="112.3" cy="740.3" r="1.45"/>
<circle cx="112.1" cy="737.5" r="1.45"/>
<circle cx="112.8" cy="734.3" r="1.45"/>
<circle cx="113.2" cy="736.8" r="1.45"/>
<circle cx="113.4" cy="731.0" r="1.45"/>
<circle cx="113.6" cy="734.6" r="1.45"/>
<circle cx="113.9" cy="737.3" r="1.45"/>
<circle cx="114.0" cy="733.1" r="1.45"/>
<circle cx="114.4" cy="729.6" r="1.45"/>
<circle cx="114.8" cy="728.9" r="1.45"/>
<circle cx="115.3" cy="731.1" r="1.45"/>
<circle cx="115.9" cy="732.0" r="1.45"/>
<circle cx="114.8" cy="728.9" r="1.45"/>
<circle cx="115.0" cy="730.8" r="1.45"/>
<circle cx="115.2" cy="728.1" r="1.45"/>
<circle cx="115.9" cy="731.5" r="1.45"/>
<circle cx="115.8" cy="734.5" r="1.45"/>
<circle cx="116.2" cy="732.3" r="1.45"/>
<circle cx="115.9" cy="732.2" r="1.45"/>
<circle cx="115.4" cy="735.8" r="1.45"/>
<circle cx="116.3" cy="734.9" r="1.45"/>
<circle cx="116.9" cy="733.0" r="1.45"/>
<circle cx="116.8" cy="735.5" r="1.45"/>
<circle cx="116.9" cy="735.5" r="1.45"/>
<circle cx="117.4" cy="735.8" r="1.45"/>
<circle cx="116.9" cy="740.4" r="1.45"/>
<circle cx="116.8" cy="743.0" r="1.45"/>
<circle cx="118.0" cy="739.1" r="1.45"/>
<circle cx="116.9" cy="743.3" r="1.45"/>
<circle cx="117.6" cy="739.0" r="1.45"/>
<circle cx="117.7" cy="746.2" r="1.45"/>
<circle cx="118.6" cy="740.7" r="1.45"/>
<circle cx="117.0" cy="740.4" r="1.45"/>
<circle cx="118.4" cy="740.0" r="1.45"/>
<circle cx="118.9" cy="746.9" r="1.45"/>
<circle cx="118.1" cy="742.4" r="1.45"/>
<circle cx="118.0" cy="744.3" r="1.45"/>
<circle cx="118.7" cy="741.7" r="1.45"/>
<circle cx="118.5" cy="743.7" r="1.45"/>
<circle cx="119.4" cy="744.5" r="1.45"/>
<circle cx="118.8" cy="747.2" r="1.45"/>
<circle cx="119.5" cy="745.0" r="1.45"/>
<circle cx="119.4" cy="747.9" r="1.45"/>
<circle cx="119.7" cy="752.3" r="1.45"/>
<circle cx="119.1" cy="746.4" r="1.45"/>
<circle cx="120.2" cy="750.5" r="1.45"/>
<circle cx="119.9" cy="751.5" r="1.45"/>
<circle cx="120.7" cy="752.1" r="1.45"/>
<circle cx="120.8" cy="749.0" r="1.45"/>
<circle cx="121.3" cy="750.7" r="1.45"/>
<circle cx="120.8" cy="755.0" r="1.45"/>
<circle cx="121.9" cy="753.6" r="1.45"/>
<circle cx="122.2" cy="755.3" r="1.45"/>
<circle cx="121.8" cy="750.3" r="1.45"/>
<circle cx="121.6" cy="753.4" r="1.45"/>
<circle cx="122.2" cy="754.9" r="1.45"/>
<circle cx="122.4" cy="756.6" r="1.45"/>
<circle cx="122.8" cy="758.0" r="1.45"/>
<circle cx="123.8" cy="749.7" r="1.45"/>
<circle cx="124.1" cy="760.9" r="1.45"/>
<circle cx="124.3" cy="756.7" r="1.45"/>
<circle cx="124.0" cy="758.8" r="1.45"/>
<circle cx="123.5" cy="760.2" r="1.45"/>
<circle cx="125.3" cy="760.8" r="1.45"/>
<circle cx="125.0" cy="765.6" r="1.45"/>
<circle cx="124.7" cy="759.1" r="1.45"/>
<circle cx="125.6" cy="762.5" r="1.45"/>
<circle cx="125.3" cy="762.6" r="1.45"/>
<circle cx="125.0" cy="768.9" r="1.45"/>
<circle cx="126.2" cy="767.4" r="1.45"/>
<circle cx="125.6" cy="766.4" r="1.45"/>
<circle cx="126.1" cy="762.8" r="1.45"/>
<circle cx="127.0" cy="767.9" r="1.45"/>
<circle cx="126.5" cy="764.7" r="1.45"/>
<circle cx="127.2" cy="765.1" r="1.45"/>
<circle cx="126.7" cy="768.8" r="1.45"/>
<circle cx="127.1" cy="766.1" r="1.45"/>
<circle cx="127.1" cy="769.9" r="1.45"/>
<circle cx="127.7" cy="771.7" r="1.45"/>
<circle cx="128.2" cy="766.3" r="1.45"/>
<circle cx="128.1" cy="772.5" r="1.45"/>
<circle cx="128.1" cy="772.7" r="1.45"/>
<circle cx="128.8" cy="779.6" r="1.45"/>
<circle cx="128.9" cy="778.3" r="1.45"/>
<circle cx="129.3" cy="772.6" r="1.45"/>
<circle cx="129.2" cy="775.4" r="1.45"/>
<circle cx="130.9" cy="773.7" r="1.45"/>
<circle cx="130.6" cy="776.7" r="1.45"/>
<circle cx="129.1" cy="775.2" r="1.45"/>
<circle cx="130.4" cy="775.9" r="1.45"/>
<circle cx="131.3" cy="779.1" r="1.45"/>
<circle cx="130.9" cy="780.2" r="1.45"/>
<circle cx="131.9" cy="777.3" r="1.45"/>
<circle cx="131.2" cy="780.8" r="1.45"/>
<circle cx="131.4" cy="781.9" r="1.45"/>
<circle cx="131.9" cy="783.8" r="1.45"/>
<circle cx="132.1" cy="784.7" r="1.45"/>
<circle cx="132.2" cy="785.4" r="1.45"/>
<circle cx="133.1" cy="780.5" r="1.45"/>
<circle cx="132.4" cy="782.1" r="1.45"/>
<circle cx="133.6" cy="786.2" r="1.45"/>
<circle cx="134.4" cy="785.4" r="1.45"/>
<circle cx="133.0" cy="786.1" r="1.45"/>
<circle cx="134.9" cy="788.8" r="1.45"/>
<circle cx="135.3" cy="784.4" r="1.45"/>
<circle cx="135.7" cy="785.0" r="1.45"/>
<circle cx="135.2" cy="788.9" r="1.45"/>
<circle cx="136.2" cy="780.4" r="1.45"/>
<circle cx="136.2" cy="787.8" r="1.45"/>
<circle cx="137.0" cy="786.4" r="1.45"/>
<circle cx="138.5" cy="786.8" r="1.45"/>
<circle cx="138.8" cy="788.4" r="1.45"/>
<circle cx="138.8" cy="790.1" r="1.45"/>
<circle cx="139.1" cy="783.5" r="1.45"/>
<circle cx="139.6" cy="784.3" r="1.45"/>
<circle cx="139.6" cy="784.1" r="1.45"/>
<circle cx="139.4" cy="782.4" r="1.45"/>
<circle cx="140.7" cy="783.9" r="1.45"/>
<circle cx="139.8" cy="784.9" r="1.45"/>
<circle cx="140.2" cy="784.3" r="1.45"/>
<circle cx="140.2" cy="779.1" r="1.45"/>
<circle cx="140.8" cy="779.5" r="1.45"/>
<circle cx="140.0" cy="778.4" r="1.45"/>
<circle cx="141.4" cy="783.2" r="1.45"/>
<circle cx="140.9" cy="781.4" r="1.45"/>
<circle cx="141.4" cy="776.7" r="1.45"/>
<circle cx="142.2" cy="776.2" r="1.45"/>
<circle cx="142.3" cy="776.9" r="1.45"/>
<circle cx="142.1" cy="779.1" r="1.45"/>
<circle cx="142.3" cy="776.5" r="1.45"/>
<circle cx="142.0" cy="774.6" r="1.45"/>
<circle cx="142.1" cy="774.6" r="1.45"/>
<circle cx="142.9" cy="773.7" r="1.45"/>
<circle cx="143.4" cy="773.6" r="1.45"/>
<circle cx="143.9" cy="772.2" r="1.45"/>
<circle cx="144.3" cy="779.1" r="1.45"/>
<circle cx="143.0" cy="778.8" r="1.45"/>
<circle cx="144.4" cy="776.0" r="1.45"/>
<circle cx="144.5" cy="779.4" r="1.45"/>
<circle cx="145.7" cy="782.1" r="1.45"/>
<circle cx="145.8" cy="781.3" r="1.45"/>
<circle cx="144.5" cy="779.1" r="1.45"/>
<circle cx="145.6" cy="780.5" r="1.45"/>
<circle cx="145.2" cy="780.6" r="1.45"/>
<circle cx="146.1" cy="782.7" r="1.45"/>
<circle cx="145.4" cy="784.1" r="1.45"/>
<circle cx="145.9" cy="785.5" r="1.45"/>
<circle cx="146.8" cy="789.7" r="1.45"/>
<circle cx="146.7" cy="786.2" r="1.45"/>
<circle cx="146.2" cy="787.2" r="1.45"/>
<circle cx="147.0" cy="785.1" r="1.45"/>
<circle cx="148.0" cy="788.0" r="1.45"/>
<circle cx="146.9" cy="788.5" r="1.45"/>
<circle cx="146.7" cy="791.1" r="1.45"/>
<circle cx="147.3" cy="789.2" r="1.45"/>
<circle cx="147.6" cy="791.3" r="1.45"/>
<circle cx="148.1" cy="788.9" r="1.45"/>
<circle cx="147.5" cy="790.3" r="1.45"/>
<circle cx="147.7" cy="789.4" r="1.45"/>
<circle cx="147.4" cy="791.0" r="1.45"/>
<circle cx="146.5" cy="791.0" r="1.45"/>
<circle cx="147.5" cy="791.3" r="1.45"/>
<circle cx="147.5" cy="793.0" r="1.45"/>
<circle cx="147.8" cy="793.2" r="1.45"/>
<circle cx="148.0" cy="792.1" r="1.45"/>
<circle cx="147.6" cy="792.4" r="1.45"/>
<circle cx="147.4" cy="798.8" r="1.45"/>
<circle cx="147.2" cy="795.7" r="1.45"/>
<circle cx="147.5" cy="795.2" r="1.45"/>
<circle cx="148.6" cy="794.5" r="1.45"/>
<circle cx="147.1" cy="793.3" r="1.45"/>
<circle cx="147.6" cy="793.2" r="1.45"/>
<circle cx="148.2" cy="791.8" r="1.45"/>
<circle cx="148.5" cy="795.0" r="1.45"/>
<circle cx="148.6" cy="792.2" r="1.45"/>
<circle cx="148.5" cy="795.3" r="1.45"/>
<circle cx="148.7" cy="791.3" r="1.45"/>
<circle cx="147.4" cy="784.9" r="1.45"/>
<circle cx="148.9" cy="788.3" r="1.45"/>
<circle cx="148.0" cy="788.3" r="1.45"/>
<circle cx="148.2" cy="789.8" r="1.45"/>
<circle cx="148.2" cy="790.8" r="1.45"/>
<circle cx="148.4" cy="786.5" r="1.45"/>
<circle cx="148.3" cy="782.2" r="1.45"/>
<circle cx="148.1" cy="782.5" r="1.45"/>
<circle cx="148.5" cy="783.0" r="1.45"/>
<circle cx="149.0" cy="778.1" r="1.45"/>
<circle cx="148.7" cy="784.4" r="1.45"/>
<circle cx="148.2" cy="786.9" r="1.45"/>
<circle cx="148.8" cy="780.2" r="1.45"/>
<circle cx="149.5" cy="779.4" r="1.45"/>
<circle cx="148.0" cy="784.2" r="1.45"/>
<circle cx="148.6" cy="782.9" r="1.45"/>
<circle cx="148.9" cy="780.5" r="1.45"/>
<circle cx="147.8" cy="775.2" r="1.45"/>
<circle cx="148.5" cy="777.4" r="1.45"/>
<circle cx="149.1" cy="775.0" r="1.45"/>
<circle cx="149.1" cy="772.8" r="1.45"/>
<circle cx="149.2" cy="775.1" r="1.45"/>
<circle cx="150.2" cy="772.9" r="1.45"/>
<circle cx="149.5" cy="772.8" r="1.45"/>
<circle cx="149.9" cy="770.8" r="1.45"/>
<circle cx="149.1" cy="773.7" r="1.45"/>
<circle cx="149.2" cy="773.5" r="1.45"/>
<circle cx="149.1" cy="772.9" r="1.45"/>
<circle cx="149.3" cy="769.9" r="1.45"/>
<circle cx="149.3" cy="769.6" r="1.45"/>
<circle cx="149.4" cy="767.3" r="1.45"/>
<circle cx="149.1" cy="772.3" r="1.45"/>
<circle cx="148.4" cy="774.1" r="1.45"/>
<circle cx="149.1" cy="765.2" r="1.45"/>
<circle cx="149.6" cy="767.9" r="1.45"/>
<circle cx="150.1" cy="759.3" r="1.45"/>
<circle cx="149.4" cy="768.2" r="1.45"/>
<circle cx="149.9" cy="767.5" r="1.45"/>
<circle cx="150.3" cy="765.7" r="1.45"/>
<circle cx="149.6" cy="770.1" r="1.45"/>
<circle cx="149.7" cy="761.5" r="1.45"/>
<circle cx="150.7" cy="761.1" r="1.45"/>
<circle cx="149.5" cy="761.6" r="1.45"/>
<circle cx="149.8" cy="763.9" r="1.45"/>
<circle cx="150.7" cy="760.4" r="1.45"/>
<circle cx="150.8" cy="754.6" r="1.45"/>
<circle cx="151.1" cy="757.3" r="1.45"/>
<circle cx="150.4" cy="760.1" r="1.45"/>
<circle cx="150.1" cy="757.4" r="1.45"/>
<circle cx="151.1" cy="759.4" r="1.45"/>
<circle cx="151.2" cy="754.4" r="1.45"/>
<circle cx="151.4" cy="756.6" r="1.45"/>
<circle cx="150.6" cy="752.0" r="1.45"/>
<circle cx="151.7" cy="757.4" r="1.45"/>
<circle cx="151.9" cy="754.6" r="1.45"/>
<circle cx="151.1" cy="760.8" r="1.45"/>
<circle cx="152.0" cy="753.3" r="1.45"/>
<circle cx="153.0" cy="750.6" r="1.45"/>
<circle cx="152.2" cy="753.4" r="1.45"/>
<circle cx="150.7" cy="754.4" r="1.45"/>
<circle cx="152.1" cy="754.2" r="1.45"/>
<circle cx="152.6" cy="751.4" r="1.45"/>
<circle cx="152.0" cy="748.4" r="1.45"/>
<circle cx="153.1" cy="749.6" r="1.45"/>
<circle cx="153.6" cy="749.4" r="1.45"/>
<circle cx="153.8" cy="747.8" r="1.45"/>
<circle cx="153.0" cy="744.7" r="1.45"/>
<circle cx="153.6" cy="747.4" r="1.45"/>
<circle cx="153.2" cy="747.3" r="1.45"/>
<circle cx="154.0" cy="743.5" r="1.45"/>
<circle cx="154.2" cy="744.8" r="1.45"/>
<circle cx="155.5" cy="744.0" r="1.45"/>
<circle cx="156.2" cy="742.7" r="1.45"/>
<circle cx="155.4" cy="744.2" r="1.45"/>
<circle cx="155.3" cy="743.3" r="1.45"/>
<circle cx="155.3" cy="742.0" r="1.45"/>
<circle cx="155.7" cy="737.8" r="1.45"/>
<circle cx="156.4" cy="741.0" r="1.45"/>
<circle cx="156.3" cy="737.5" r="1.45"/>
<circle cx="156.6" cy="738.6" r="1.45"/>
<circle cx="155.8" cy="738.2" r="1.45"/>
<circle cx="156.8" cy="738.5" r="1.45"/>
<circle cx="156.9" cy="734.0" r="1.45"/>
<circle cx="157.9" cy="737.6" r="1.45"/>
<circle cx="157.8" cy="733.6" r="1.45"/>
<circle cx="157.8" cy="735.7" r="1.45"/>
<circle cx="158.6" cy="732.4" r="1.45"/>
<circle cx="158.0" cy="736.5" r="1.45"/>
<circle cx="159.4" cy="734.4" r="1.45"/>
<circle cx="158.4" cy="733.5" r="1.45"/>
<circle cx="159.3" cy="730.7" r="1.45"/>
<circle cx="159.2" cy="729.1" r="1.45"/>
<circle cx="158.6" cy="734.0" r="1.45"/>
<circle cx="159.1" cy="732.5" r="1.45"/>
<circle cx="159.0" cy="730.5" r="1.45"/>
<circle cx="159.5" cy="731.9" r="1.45"/>
<circle cx="159.6" cy="738.7" r="1.45"/>
<circle cx="160.1" cy="733.4" r="1.45"/>
<circle cx="159.6" cy="736.8" r="1.45"/>
<circle cx="161.5" cy="733.9" r="1.45"/>
<circle cx="159.3" cy="736.2" r="1.45"/>
<circle cx="159.2" cy="738.9" r="1.45"/>
<circle cx="160.3" cy="739.4" r="1.45"/>
<circle cx="160.7" cy="739.4" r="1.45"/>
<circle cx="161.5" cy="741.7" r="1.45"/>
<circle cx="161.0" cy="736.5" r="1.45"/>
<circle cx="160.7" cy="737.3" r="1.45"/>
<circle cx="161.2" cy="741.6" r="1.45"/>
<circle cx="160.7" cy="743.7" r="1.45"/>
<circle cx="161.3" cy="746.4" r="1.45"/>
<circle cx="162.2" cy="740.5" r="1.45"/>
<circle cx="160.5" cy="743.2" r="1.45"/>
<circle cx="161.7" cy="746.2" r="1.45"/>
<circle cx="162.1" cy="744.2" r="1.45"/>
<circle cx="161.6" cy="742.4" r="1.45"/>
<circle cx="161.5" cy="744.9" r="1.45"/>
<circle cx="162.1" cy="741.8" r="1.45"/>
<circle cx="162.3" cy="742.1" r="1.45"/>
<circle cx="162.8" cy="741.3" r="1.45"/>
<circle cx="163.1" cy="746.8" r="1.45"/>
<circle cx="162.7" cy="747.3" r="1.45"/>
<circle cx="163.6" cy="751.1" r="1.45"/>
<circle cx="162.9" cy="751.0" r="1.45"/>
<circle cx="163.1" cy="748.7" r="1.45"/>
<circle cx="163.9" cy="754.8" r="1.45"/>
<circle cx="163.8" cy="748.2" r="1.45"/>
<circle cx="163.8" cy="749.6" r="1.45"/>
<circle cx="163.8" cy="751.9" r="1.45"/>
<circle cx="164.6" cy="749.1" r="1.45"/>
<circle cx="164.3" cy="751.4" r="1.45"/>
<circle cx="164.5" cy="751.3" r="1.45"/>
<circle cx="164.9" cy="752.9" r="1.45"/>
<circle cx="165.9" cy="757.0" r="1.45"/>
<circle cx="165.1" cy="757.0" r="1.45"/>
<circle cx="165.7" cy="755.9" r="1.45"/>
<circle cx="165.6" cy="754.2" r="1.45"/>
<circle cx="165.8" cy="761.9" r="1.45"/>
<circle cx="166.5" cy="758.4" r="1.45"/>
<circle cx="166.7" cy="757.7" r="1.45"/>
<circle cx="166.1" cy="759.1" r="1.45"/>
<circle cx="166.9" cy="759.0" r="1.45"/>
<circle cx="166.8" cy="764.1" r="1.45"/>
<circle cx="167.0" cy="759.0" r="1.45"/>
<circle cx="166.8" cy="763.8" r="1.45"/>
<circle cx="167.2" cy="761.4" r="1.45"/>
<circle cx="167.2" cy="765.6" r="1.45"/>
<circle cx="167.4" cy="766.1" r="1.45"/>
<circle cx="168.0" cy="762.5" r="1.45"/>
<circle cx="168.4" cy="767.1" r="1.45"/>
<circle cx="168.4" cy="765.5" r="1.45"/>
<circle cx="169.1" cy="769.9" r="1.45"/>
<circle cx="168.6" cy="764.0" r="1.45"/>
<circle cx="169.2" cy="768.9" r="1.45"/>
<circle cx="169.1" cy="765.7" r="1.45"/>
<circle cx="171.4" cy="768.3" r="1.45"/>
<circle cx="170.1" cy="768.6" r="1.45"/>
<circle cx="170.8" cy="772.8" r="1.45"/>
<circle cx="171.2" cy="771.5" r="1.45"/>
<circle cx="171.9" cy="771.1" r="1.45"/>
<circle cx="172.0" cy="769.7" r="1.45"/>
<circle cx="172.5" cy="769.8" r="1.45"/>
<circle cx="174.1" cy="763.5" r="1.45"/>
<circle cx="173.9" cy="767.0" r="1.45"/>
<circle cx="175.1" cy="768.4" r="1.45"/>
<circle cx="176.0" cy="768.2" r="1.45"/>
<circle cx="176.1" cy="772.0" r="1.45"/>
<circle cx="176.4" cy="775.1" r="1.45"/>
<circle cx="176.1" cy="770.3" r="1.45"/>
<circle cx="176.8" cy="773.8" r="1.45"/>
<circle cx="177.4" cy="771.2" r="1.45"/>
<circle cx="177.1" cy="773.9" r="1.45"/>
<circle cx="177.1" cy="776.7" r="1.45"/>
<circle cx="177.7" cy="772.6" r="1.45"/>
<circle cx="177.7" cy="773.2" r="1.45"/>
<circle cx="178.8" cy="774.2" r="1.45"/>
<circle cx="179.1" cy="772.9" r="1.45"/>
<circle cx="179.5" cy="775.1" r="1.45"/>
<circle cx="179.2" cy="780.5" r="1.45"/>
<circle cx="179.3" cy="778.6" r="1.45"/>
<circle cx="179.4" cy="774.9" r="1.45"/>
<circle cx="180.9" cy="782.2" r="1.45"/>
<circle cx="180.4" cy="781.0" r="1.45"/>
<circle cx="180.9" cy="783.7" r="1.45"/>
<circle cx="181.3" cy="777.5" r="1.45"/>
<circle cx="181.6" cy="777.9" r="1.45"/>
<circle cx="181.2" cy="781.4" r="1.45"/>
<circle cx="183.1" cy="783.9" r="1.45"/>
<circle cx="182.6" cy="782.1" r="1.45"/>
<circle cx="183.3" cy="786.3" r="1.45"/>
<circle cx="182.7" cy="783.2" r="1.45"/>
<circle cx="183.5" cy="781.7" r="1.45"/>
<circle cx="184.5" cy="789.1" r="1.45"/>
<circle cx="184.6" cy="786.1" r="1.45"/>
<circle cx="184.8" cy="784.9" r="1.45"/>
<circle cx="185.6" cy="785.6" r="1.45"/>
<circle cx="185.8" cy="785.9" r="1.45"/>
<circle cx="185.3" cy="792.9" r="1.45"/>
<circle cx="185.7" cy="786.6" r="1.45"/>
<circle cx="185.8" cy="788.4" r="1.45"/>
<circle cx="186.9" cy="793.0" r="1.45"/>
<circle cx="185.3" cy="787.8" r="1.45"/>
<circle cx="186.5" cy="765.5" r="1.45"/>
<circle cx="186.8" cy="771.3" r="1.45"/>
<circle cx="186.7" cy="770.4" r="1.45"/>
<circle cx="188.1" cy="773.2" r="1.45"/>
<circle cx="188.4" cy="772.5" r="1.45"/>
<circle cx="187.2" cy="771.0" r="1.45"/>
<circle cx="188.3" cy="767.6" r="1.45"/>
<circle cx="187.6" cy="768.9" r="1.45"/>
<circle cx="188.9" cy="768.5" r="1.45"/>
<circle cx="188.8" cy="762.6" r="1.45"/>
<circle cx="189.1" cy="767.5" r="1.45"/>
<circle cx="189.7" cy="766.2" r="1.45"/>
<circle cx="188.6" cy="763.8" r="1.45"/>
<circle cx="189.8" cy="762.9" r="1.45"/>
<circle cx="188.8" cy="761.4" r="1.45"/>
<circle cx="189.9" cy="763.6" r="1.45"/>
<circle cx="189.2" cy="760.7" r="1.45"/>
<circle cx="189.8" cy="763.3" r="1.45"/>
<circle cx="189.8" cy="758.3" r="1.45"/>
<circle cx="190.0" cy="758.8" r="1.45"/>
<circle cx="190.3" cy="763.9" r="1.45"/>
<circle cx="191.2" cy="761.3" r="1.45"/>
<circle cx="191.4" cy="759.2" r="1.45"/>
<circle cx="190.2" cy="756.1" r="1.45"/>
<circle cx="190.6" cy="755.9" r="1.45"/>
<circle cx="191.0" cy="756.1" r="1.45"/>
<circle cx="190.7" cy="754.9" r="1.45"/>
<circle cx="190.8" cy="749.4" r="1.45"/>
<circle cx="191.1" cy="754.6" r="1.45"/>
<circle cx="192.1" cy="754.3" r="1.45"/>
<circle cx="191.6" cy="754.4" r="1.45"/>
<circle cx="192.0" cy="746.4" r="1.45"/>
<circle cx="191.9" cy="751.2" r="1.45"/>
<circle cx="192.8" cy="759.8" r="1.45"/>
<circle cx="192.6" cy="757.1" r="1.45"/>
<circle cx="192.2" cy="753.6" r="1.45"/>
<circle cx="192.3" cy="753.0" r="1.45"/>
<circle cx="192.6" cy="760.7" r="1.45"/>
<circle cx="192.6" cy="760.9" r="1.45"/>
<circle cx="193.4" cy="760.6" r="1.45"/>
<circle cx="192.6" cy="760.3" r="1.45"/>
<circle cx="192.7" cy="762.2" r="1.45"/>
<circle cx="192.5" cy="764.9" r="1.45"/>
<circle cx="193.3" cy="761.6" r="1.45"/>
<circle cx="193.9" cy="764.4" r="1.45"/>
<circle cx="193.1" cy="762.0" r="1.45"/>
<circle cx="194.0" cy="763.4" r="1.45"/>
<circle cx="194.7" cy="764.8" r="1.45"/>
<circle cx="195.4" cy="763.9" r="1.45"/>
<circle cx="195.2" cy="762.6" r="1.45"/>
<circle cx="195.6" cy="761.1" r="1.45"/>
<circle cx="195.6" cy="764.4" r="1.45"/>
<circle cx="196.2" cy="764.5" r="1.45"/>
<circle cx="196.4" cy="760.4" r="1.45"/>
<circle cx="196.2" cy="763.1" r="1.45"/>
<circle cx="196.2" cy="759.9" r="1.45"/>
<circle cx="197.5" cy="763.1" r="1.45"/>
<circle cx="196.5" cy="755.1" r="1.45"/>
<circle cx="196.7" cy="757.3" r="1.45"/>
<circle cx="197.3" cy="756.8" r="1.45"/>
<circle cx="198.0" cy="759.2" r="1.45"/>
<circle cx="197.1" cy="756.8" r="1.45"/>
<circle cx="198.0" cy="756.6" r="1.45"/>
<circle cx="198.9" cy="753.7" r="1.45"/>
<circle cx="198.7" cy="751.2" r="1.45"/>
<circle cx="199.6" cy="752.9" r="1.45"/>
<circle cx="199.3" cy="754.8" r="1.45"/>
<circle cx="198.3" cy="750.4" r="1.45"/>
<circle cx="199.1" cy="753.4" r="1.45"/>
<circle cx="199.8" cy="753.3" r="1.45"/>
<circle cx="198.8" cy="752.9" r="1.45"/>
<circle cx="199.4" cy="749.7" r="1.45"/>
<circle cx="199.3" cy="744.6" r="1.45"/>
<circle cx="199.1" cy="745.0" r="1.45"/>
<circle cx="199.7" cy="746.3" r="1.45"/>
<circle cx="198.9" cy="746.5" r="1.45"/>
<circle cx="200.2" cy="749.3" r="1.45"/>
<circle cx="199.3" cy="747.0" r="1.45"/>
<circle cx="200.5" cy="745.9" r="1.45"/>
<circle cx="201.3" cy="746.2" r="1.45"/>
<circle cx="200.8" cy="745.1" r="1.45"/>
<circle cx="200.3" cy="743.6" r="1.45"/>
<circle cx="200.6" cy="748.2" r="1.45"/>
<circle cx="200.5" cy="746.5" r="1.45"/>
<circle cx="199.9" cy="741.7" r="1.45"/>
<circle cx="200.1" cy="740.9" r="1.45"/>
<circle cx="200.2" cy="743.1" r="1.45"/>
<circle cx="201.9" cy="737.2" r="1.45"/>
<circle cx="201.3" cy="739.8" r="1.45"/>
<circle cx="201.5" cy="743.0" r="1.45"/>
<circle cx="202.1" cy="745.2" r="1.45"/>
<circle cx="201.1" cy="747.9" r="1.45"/>
<circle cx="200.7" cy="746.5" r="1.45"/>
<circle cx="200.8" cy="746.3" r="1.45"/>
<circle cx="202.1" cy="746.6" r="1.45"/>
<circle cx="201.6" cy="746.8" r="1.45"/>
<circle cx="202.7" cy="747.3" r="1.45"/>
<circle cx="201.5" cy="749.0" r="1.45"/>
<circle cx="201.8" cy="747.8" r="1.45"/>
<circle cx="202.8" cy="748.2" r="1.45"/>
<circle cx="201.7" cy="753.2" r="1.45"/>
<circle cx="203.0" cy="749.0" r="1.45"/>
<circle cx="202.7" cy="750.0" r="1.45"/>
<circle cx="202.7" cy="752.6" r="1.45"/>
<circle cx="203.1" cy="750.2" r="1.45"/>
<circle cx="203.5" cy="752.1" r="1.45"/>
<circle cx="204.2" cy="753.8" r="1.45"/>
<circle cx="204.1" cy="761.0" r="1.45"/>
<circle cx="204.8" cy="750.9" r="1.45"/>
<circle cx="204.9" cy="753.5" r="1.45"/>
<circle cx="206.3" cy="752.6" r="1.45"/>
<circle cx="206.7" cy="754.6" r="1.45"/>
<circle cx="206.9" cy="755.1" r="1.45"/>
<circle cx="208.4" cy="753.8" r="1.45"/>
<circle cx="208.0" cy="752.9" r="1.45"/>
<circle cx="208.8" cy="748.1" r="1.45"/>
<circle cx="209.7" cy="750.4" r="1.45"/>
<circle cx="210.3" cy="750.4" r="1.45"/>
<circle cx="210.2" cy="748.2" r="1.45"/>
<circle cx="210.2" cy="749.9" r="1.45"/>
<circle cx="210.4" cy="749.2" r="1.45"/>
<circle cx="210.0" cy="747.7" r="1.45"/>
<circle cx="209.5" cy="749.0" r="1.45"/>
<circle cx="210.9" cy="746.9" r="1.45"/>
<circle cx="210.8" cy="744.5" r="1.45"/>
<circle cx="210.5" cy="748.8" r="1.45"/>
<circle cx="211.0" cy="743.4" r="1.45"/>
<circle cx="211.1" cy="740.2" r="1.45"/>
<circle cx="211.5" cy="746.8" r="1.45"/>
<circle cx="211.1" cy="742.5" r="1.45"/>
<circle cx="211.6" cy="746.1" r="1.45"/>
<circle cx="212.1" cy="746.9" r="1.45"/>
<circle cx="212.6" cy="744.4" r="1.45"/>
<circle cx="212.0" cy="747.1" r="1.45"/>
<circle cx="211.4" cy="751.8" r="1.45"/>
<circle cx="212.4" cy="747.6" r="1.45"/>
<circle cx="211.1" cy="751.1" r="1.45"/>
<circle cx="211.2" cy="749.5" r="1.45"/>
<circle cx="212.2" cy="752.5" r="1.45"/>
<circle cx="212.4" cy="751.3" r="1.45"/>
<circle cx="213.0" cy="752.1" r="1.45"/>
<circle cx="213.5" cy="754.5" r="1.45"/>
<circle cx="213.4" cy="755.5" r="1.45"/>
<circle cx="213.1" cy="755.2" r="1.45"/>
<circle cx="213.2" cy="758.4" r="1.45"/>
<circle cx="212.7" cy="760.5" r="1.45"/>
<circle cx="213.9" cy="754.4" r="1.45"/>
<circle cx="214.6" cy="756.4" r="1.45"/>
<circle cx="214.5" cy="756.5" r="1.45"/>
<circle cx="213.4" cy="758.8" r="1.45"/>
<circle cx="215.3" cy="756.1" r="1.45"/>
<circle cx="215.0" cy="761.4" r="1.45"/>
<circle cx="215.6" cy="762.1" r="1.45"/>
<circle cx="215.9" cy="758.8" r="1.45"/>
<circle cx="215.5" cy="763.0" r="1.45"/>
<circle cx="214.3" cy="759.4" r="1.45"/>
<circle cx="216.3" cy="760.5" r="1.45"/>
<circle cx="216.0" cy="765.0" r="1.45"/>
<circle cx="216.4" cy="764.7" r="1.45"/>
<circle cx="217.3" cy="767.6" r="1.45"/>
<circle cx="217.2" cy="762.4" r="1.45"/>
<circle cx="217.7" cy="767.7" r="1.45"/>
<circle cx="217.6" cy="766.2" r="1.45"/>
<circle cx="217.2" cy="764.5" r="1.45"/>
<circle cx="218.6" cy="766.2" r="1.45"/>
<circle cx="219.0" cy="767.6" r="1.45"/>
<circle cx="219.5" cy="766.9" r="1.45"/>
<circle cx="220.0" cy="772.6" r="1.45"/>
<circle cx="220.3" cy="769.2" r="1.45"/>
<circle cx="219.4" cy="766.2" r="1.45"/>
<circle cx="220.4" cy="768.5" r="1.45"/>
<circle cx="220.3" cy="779.0" r="1.45"/>
<circle cx="221.0" cy="775.0" r="1.45"/>
<circle cx="221.0" cy="768.7" r="1.45"/>
<circle cx="221.6" cy="775.6" r="1.45"/>
<circle cx="221.8" cy="775.4" r="1.45"/>
<circle cx="221.9" cy="773.7" r="1.45"/>
<circle cx="223.2" cy="774.5" r="1.45"/>
<circle cx="223.5" cy="777.8" r="1.45"/>
<circle cx="223.5" cy="776.0" r="1.45"/>
<circle cx="224.3" cy="775.3" r="1.45"/>
<circle cx="224.4" cy="777.1" r="1.45"/>
<circle cx="225.3" cy="778.7" r="1.45"/>
<circle cx="225.9" cy="774.6" r="1.45"/>
<circle cx="226.1" cy="776.2" r="1.45"/>
<circle cx="227.6" cy="777.2" r="1.45"/>
<circle cx="227.6" cy="781.4" r="1.45"/>
<circle cx="227.4" cy="781.8" r="1.45"/>
<circle cx="228.3" cy="778.8" r="1.45"/>
<circle cx="228.9" cy="782.6" r="1.45"/>
<circle cx="228.7" cy="783.4" r="1.45"/>
<circle cx="230.3" cy="779.3" r="1.45"/>
<circle cx="230.1" cy="782.9" r="1.45"/>
<circle cx="230.4" cy="779.3" r="1.45"/>
<circle cx="231.1" cy="776.9" r="1.45"/>
<circle cx="232.3" cy="782.7" r="1.45"/>
<circle cx="232.8" cy="779.5" r="1.45"/>
<circle cx="231.9" cy="782.9" r="1.45"/>
<circle cx="232.7" cy="782.7" r="1.45"/>
<circle cx="232.7" cy="783.0" r="1.45"/>
<circle cx="233.0" cy="780.2" r="1.45"/>
<circle cx="233.2" cy="779.4" r="1.45"/>
<circle cx="234.2" cy="776.8" r="1.45"/>
<circle cx="234.2" cy="780.9" r="1.45"/>
<circle cx="234.3" cy="778.7" r="1.45"/>
<circle cx="234.0" cy="777.1" r="1.45"/>
<circle cx="234.0" cy="778.4" r="1.45"/>
<circle cx="235.3" cy="774.4" r="1.45"/>
<circle cx="234.0" cy="776.1" r="1.45"/>
<circle cx="234.9" cy="772.0" r="1.45"/>
<circle cx="236.3" cy="776.3" r="1.45"/>
<circle cx="236.1" cy="774.0" r="1.45"/>
<circle cx="236.1" cy="772.5" r="1.45"/>
<circle cx="236.3" cy="774.4" r="1.45"/>
<circle cx="236.2" cy="765.6" r="1.45"/>
<circle cx="236.5" cy="770.2" r="1.45"/>
<circle cx="237.1" cy="771.0" r="1.45"/>
<circle cx="236.5" cy="771.3" r="1.45"/>
<circle cx="238.0" cy="769.0" r="1.45"/>
<circle cx="239.3" cy="768.7" r="1.45"/>
<circle cx="238.2" cy="769.1" r="1.45"/>
<circle cx="237.9" cy="768.0" r="1.45"/>
<circle cx="238.5" cy="764.9" r="1.45"/>
<circle cx="238.6" cy="765.9" r="1.45"/>
<circle cx="239.1" cy="765.5" r="1.45"/>
<circle cx="239.0" cy="768.1" r="1.45"/>
<circle cx="239.1" cy="758.9" r="1.45"/>
<circle cx="239.4" cy="762.4" r="1.45"/>
<circle cx="240.1" cy="762.5" r="1.45"/>
<circle cx="240.2" cy="763.3" r="1.45"/>
<circle cx="240.7" cy="764.5" r="1.45"/>
<circle cx="241.2" cy="757.6" r="1.45"/>
<circle cx="241.1" cy="760.6" r="1.45"/>
<circle cx="240.7" cy="760.5" r="1.45"/>
<circle cx="242.0" cy="758.5" r="1.45"/>
<circle cx="242.6" cy="761.5" r="1.45"/>
<circle cx="243.6" cy="761.5" r="1.45"/>
<circle cx="242.2" cy="759.1" r="1.45"/>
<circle cx="244.0" cy="754.4" r="1.45"/>
<circle cx="242.3" cy="754.2" r="1.45"/>
<circle cx="244.2" cy="762.6" r="1.45"/>
<circle cx="243.9" cy="759.4" r="1.45"/>
<circle cx="244.9" cy="753.8" r="1.45"/>
<circle cx="245.2" cy="758.8" r="1.45"/>
<circle cx="247.3" cy="758.7" r="1.45"/>
<circle cx="246.8" cy="759.4" r="1.45"/>
<circle cx="246.8" cy="758.8" r="1.45"/>
<circle cx="246.7" cy="755.2" r="1.45"/>
<circle cx="258.8" cy="767.1" r="1.45"/>
<circle cx="279.5" cy="777.9" r="1.45"/>
<circle cx="280.4" cy="772.5" r="1.45"/>
<circle cx="279.6" cy="772.3" r="1.45"/>
<circle cx="280.4" cy="772.4" r="1.45"/>
<circle cx="280.5" cy="779.7" r="1.45"/>
<circle cx="279.5" cy="772.5" r="1.45"/>
<circle cx="280.0" cy="773.4" r="1.45"/>
<circle cx="281.3" cy="767.9" r="1.45"/>
<circle cx="281.1" cy="772.8" r="1.45"/>
<circle cx="281.1" cy="769.2" r="1.45"/>
<circle cx="280.6" cy="769.0" r="1.45"/>
<circle cx="281.3" cy="772.3" r="1.45"/>
<circle cx="281.7" cy="767.3" r="1.45"/>
<circle cx="281.3" cy="769.6" r="1.45"/>
<circle cx="281.4" cy="766.5" r="1.45"/>
<circle cx="282.3" cy="772.9" r="1.45"/>
<circle cx="282.5" cy="774.2" r="1.45"/>
<circle cx="283.1" cy="771.0" r="1.45"/>
<circle cx="282.6" cy="774.2" r="1.45"/>
<circle cx="282.5" cy="772.6" r="1.45"/>
<circle cx="283.0" cy="779.5" r="1.45"/>
<circle cx="283.2" cy="773.8" r="1.45"/>
<circle cx="283.9" cy="775.3" r="1.45"/>
<circle cx="284.9" cy="775.4" r="1.45"/>
<circle cx="285.4" cy="777.8" r="1.45"/>
<circle cx="284.2" cy="779.2" r="1.45"/>
<circle cx="285.0" cy="781.7" r="1.45"/>
<circle cx="284.9" cy="778.0" r="1.45"/>
<circle cx="286.1" cy="774.3" r="1.45"/>
<circle cx="286.0" cy="770.4" r="1.45"/>
<circle cx="285.8" cy="774.2" r="1.45"/>
<circle cx="285.5" cy="779.9" r="1.45"/>
<circle cx="286.0" cy="779.6" r="1.45"/>
<circle cx="286.6" cy="771.6" r="1.45"/>
<circle cx="286.8" cy="773.4" r="1.45"/>
<circle cx="286.8" cy="774.1" r="1.45"/>
<circle cx="286.3" cy="773.5" r="1.45"/>
<circle cx="287.0" cy="772.9" r="1.45"/>
<circle cx="286.3" cy="772.4" r="1.45"/>
<circle cx="287.8" cy="769.7" r="1.45"/>
<circle cx="287.9" cy="768.3" r="1.45"/>
<circle cx="288.0" cy="769.8" r="1.45"/>
<circle cx="287.7" cy="761.3" r="1.45"/>
<circle cx="287.9" cy="763.6" r="1.45"/>
<circle cx="289.6" cy="770.2" r="1.45"/>
<circle cx="288.8" cy="767.0" r="1.45"/>
<circle cx="288.9" cy="768.0" r="1.45"/>
<circle cx="289.3" cy="766.7" r="1.45"/>
<circle cx="288.9" cy="764.4" r="1.45"/>
<circle cx="289.8" cy="765.2" r="1.45"/>
<circle cx="288.9" cy="768.8" r="1.45"/>
<circle cx="289.5" cy="759.8" r="1.45"/>
<circle cx="294.6" cy="753.2" r="1.45"/>
<circle cx="295.9" cy="756.7" r="1.45"/>
<circle cx="295.6" cy="754.2" r="1.45"/>
<circle cx="296.8" cy="760.3" r="1.45"/>
<circle cx="295.6" cy="754.4" r="1.45"/>
<circle cx="297.8" cy="758.2" r="1.45"/>
<circle cx="298.6" cy="754.1" r="1.45"/>
<circle cx="298.6" cy="761.5" r="1.45"/>
<circle cx="297.8" cy="760.4" r="1.45"/>
<circle cx="300.3" cy="759.6" r="1.45"/>
<circle cx="299.5" cy="760.0" r="1.45"/>
<circle cx="300.3" cy="758.0" r="1.45"/>
<circle cx="300.7" cy="762.5" r="1.45"/>
<circle cx="300.3" cy="758.8" r="1.45"/>
<circle cx="300.9" cy="763.3" r="1.45"/>
<circle cx="300.9" cy="763.2" r="1.45"/>
<circle cx="300.4" cy="761.4" r="1.45"/>
<circle cx="301.4" cy="766.5" r="1.45"/>
<circle cx="301.5" cy="761.2" r="1.45"/>
<circle cx="301.5" cy="762.3" r="1.45"/>
<circle cx="302.1" cy="766.7" r="1.45"/>
<circle cx="301.8" cy="766.8" r="1.45"/>
<circle cx="303.4" cy="766.0" r="1.45"/>
<circle cx="302.4" cy="766.6" r="1.45"/>
<circle cx="302.5" cy="764.9" r="1.45"/>
<circle cx="302.7" cy="770.3" r="1.45"/>
<circle cx="302.9" cy="771.5" r="1.45"/>
<circle cx="303.4" cy="764.5" r="1.45"/>
<circle cx="302.4" cy="770.2" r="1.45"/>
<circle cx="302.9" cy="766.5" r="1.45"/>
<circle cx="303.5" cy="775.7" r="1.45"/>
<circle cx="302.4" cy="772.4" r="1.45"/>
<circle cx="304.1" cy="771.4" r="1.45"/>
<circle cx="303.9" cy="771.8" r="1.45"/>
<circle cx="304.1" cy="773.9" r="1.45"/>
<circle cx="304.3" cy="776.9" r="1.45"/>
<circle cx="304.9" cy="773.9" r="1.45"/>
<circle cx="304.4" cy="778.4" r="1.45"/>
<circle cx="304.0" cy="774.3" r="1.45"/>
<circle cx="304.5" cy="775.9" r="1.45"/>
<circle cx="305.3" cy="777.7" r="1.45"/>
<circle cx="306.2" cy="777.4" r="1.45"/>
<circle cx="305.9" cy="777.9" r="1.45"/>
<circle cx="305.1" cy="776.8" r="1.45"/>
<circle cx="306.1" cy="778.8" r="1.45"/>
<circle cx="305.6" cy="784.0" r="1.45"/>
<circle cx="305.9" cy="779.7" r="1.45"/>
<circle cx="306.1" cy="779.9" r="1.45"/>
<circle cx="307.2" cy="785.2" r="1.45"/>
<circle cx="307.3" cy="783.4" r="1.45"/>
<circle cx="307.2" cy="783.8" r="1.45"/>
<circle cx="306.9" cy="784.1" r="1.45"/>
<circle cx="306.7" cy="783.5" r="1.45"/>
<circle cx="307.8" cy="787.4" r="1.45"/>
<circle cx="308.1" cy="788.8" r="1.45"/>
<circle cx="308.3" cy="785.4" r="1.45"/>
<circle cx="307.8" cy="786.7" r="1.45"/>
<circle cx="309.0" cy="789.0" r="1.45"/>
<circle cx="308.7" cy="791.2" r="1.45"/>
<circle cx="309.2" cy="792.2" r="1.45"/>
<circle cx="311.3" cy="790.9" r="1.45"/>
<circle cx="310.3" cy="791.6" r="1.45"/>
<circle cx="311.2" cy="794.4" r="1.45"/>
<circle cx="311.4" cy="788.5" r="1.45"/>
<circle cx="312.3" cy="790.7" r="1.45"/>
<circle cx="313.2" cy="798.0" r="1.45"/>
<circle cx="312.2" cy="794.5" r="1.45"/>
<circle cx="313.8" cy="794.0" r="1.45"/>
<circle cx="312.6" cy="794.7" r="1.45"/>
<circle cx="313.9" cy="795.6" r="1.45"/>
<circle cx="313.2" cy="794.2" r="1.45"/>
<circle cx="314.1" cy="795.6" r="1.45"/>
<circle cx="315.2" cy="797.7" r="1.45"/>
<circle cx="315.5" cy="798.1" r="1.45"/>
<circle cx="316.2" cy="795.6" r="1.45"/>
<circle cx="316.6" cy="797.8" r="1.45"/>
<circle cx="316.8" cy="799.5" r="1.45"/>
<circle cx="316.3" cy="801.4" r="1.45"/>
<circle cx="317.3" cy="799.0" r="1.45"/>
<circle cx="317.0" cy="797.4" r="1.45"/>
<circle cx="317.4" cy="801.9" r="1.45"/>
<circle cx="317.8" cy="797.9" r="1.45"/>
<circle cx="318.5" cy="797.7" r="1.45"/>
<circle cx="319.4" cy="790.5" r="1.45"/>
<circle cx="319.1" cy="794.0" r="1.45"/>
<circle cx="319.4" cy="793.7" r="1.45"/>
<circle cx="320.4" cy="797.8" r="1.45"/>
<circle cx="320.3" cy="793.6" r="1.45"/>
<circle cx="320.4" cy="793.4" r="1.45"/>
<circle cx="321.5" cy="792.2" r="1.45"/>
<circle cx="320.4" cy="791.5" r="1.45"/>
<circle cx="321.1" cy="789.8" r="1.45"/>
<circle cx="321.9" cy="788.3" r="1.45"/>
<circle cx="322.6" cy="789.1" r="1.45"/>
<circle cx="322.3" cy="791.7" r="1.45"/>
<circle cx="323.1" cy="796.3" r="1.45"/>
<circle cx="323.8" cy="788.3" r="1.45"/>
<circle cx="323.5" cy="788.1" r="1.45"/>
<circle cx="324.2" cy="787.9" r="1.45"/>
<circle cx="325.4" cy="789.9" r="1.45"/>
<circle cx="325.2" cy="791.1" r="1.45"/>
<circle cx="326.5" cy="784.2" r="1.45"/>
<circle cx="326.8" cy="786.7" r="1.45"/>
<circle cx="328.6" cy="787.9" r="1.45"/>
<circle cx="328.5" cy="781.4" r="1.45"/>
<circle cx="328.0" cy="787.8" r="1.45"/>
<circle cx="328.3" cy="786.5" r="1.45"/>
<circle cx="328.4" cy="786.6" r="1.45"/>
<circle cx="328.7" cy="790.8" r="1.45"/>
<circle cx="328.6" cy="790.4" r="1.45"/>
<circle cx="329.5" cy="792.2" r="1.45"/>
<circle cx="329.7" cy="794.2" r="1.45"/>
<circle cx="329.8" cy="791.3" r="1.45"/>
<circle cx="330.9" cy="790.0" r="1.45"/>
<circle cx="329.9" cy="792.9" r="1.45"/>
<circle cx="330.2" cy="793.7" r="1.45"/>
<circle cx="330.8" cy="796.3" r="1.45"/>
<circle cx="330.8" cy="793.5" r="1.45"/>
<circle cx="331.5" cy="796.4" r="1.45"/>
<circle cx="332.1" cy="799.3" r="1.45"/>
<circle cx="331.9" cy="796.1" r="1.45"/>
<circle cx="331.6" cy="797.5" r="1.45"/>
<circle cx="330.6" cy="793.7" r="1.45"/>
<circle cx="331.2" cy="794.6" r="1.45"/>
<circle cx="331.4" cy="794.7" r="1.45"/>
<circle cx="331.4" cy="785.2" r="1.45"/>
<circle cx="331.5" cy="791.0" r="1.45"/>
<circle cx="330.7" cy="795.0" r="1.45"/>
<circle cx="331.3" cy="794.0" r="1.45"/>
<circle cx="331.4" cy="794.5" r="1.45"/>
<circle cx="332.2" cy="789.6" r="1.45"/>
<circle cx="330.9" cy="790.0" r="1.45"/>
<circle cx="332.2" cy="787.2" r="1.45"/>
<circle cx="331.1" cy="786.4" r="1.45"/>
<circle cx="332.2" cy="790.1" r="1.45"/>
<circle cx="331.7" cy="786.3" r="1.45"/>
<circle cx="332.8" cy="788.7" r="1.45"/>
<circle cx="332.2" cy="787.5" r="1.45"/>
<circle cx="332.0" cy="782.2" r="1.45"/>
<circle cx="332.1" cy="781.9" r="1.45"/>
<circle cx="331.4" cy="778.7" r="1.45"/>
<circle cx="331.5" cy="781.0" r="1.45"/>
<circle cx="331.6" cy="778.9" r="1.45"/>
<circle cx="332.2" cy="778.2" r="1.45"/>
<circle cx="331.8" cy="779.4" r="1.45"/>
<circle cx="331.8" cy="779.2" r="1.45"/>
<circle cx="331.7" cy="778.6" r="1.45"/>
<circle cx="332.5" cy="780.6" r="1.45"/>
<circle cx="332.0" cy="775.5" r="1.45"/>
<circle cx="332.1" cy="777.9" r="1.45"/>
<circle cx="332.4" cy="774.2" r="1.45"/>
<circle cx="333.5" cy="763.9" r="1.45"/>
<circle cx="333.1" cy="765.5" r="1.45"/>
<circle cx="333.6" cy="761.9" r="1.45"/>
<circle cx="334.0" cy="756.3" r="1.45"/>
<circle cx="333.7" cy="766.3" r="1.45"/>
<circle cx="334.5" cy="763.9" r="1.45"/>
<circle cx="336.1" cy="761.4" r="1.45"/>
<circle cx="334.9" cy="761.4" r="1.45"/>
<circle cx="334.9" cy="760.6" r="1.45"/>
<circle cx="334.2" cy="765.2" r="1.45"/>
<circle cx="334.7" cy="761.6" r="1.45"/>
<circle cx="334.6" cy="758.1" r="1.45"/>
<circle cx="334.9" cy="757.5" r="1.45"/>
<circle cx="335.6" cy="762.6" r="1.45"/>
<circle cx="335.9" cy="753.5" r="1.45"/>
<circle cx="335.4" cy="755.4" r="1.45"/>
<circle cx="336.0" cy="757.0" r="1.45"/>
<circle cx="335.8" cy="754.5" r="1.45"/>
<circle cx="336.4" cy="756.6" r="1.45"/>
<circle cx="337.3" cy="753.9" r="1.45"/>
<circle cx="336.5" cy="753.0" r="1.45"/>
<circle cx="337.3" cy="753.1" r="1.45"/>
<circle cx="337.7" cy="754.4" r="1.45"/>
<circle cx="337.6" cy="751.5" r="1.45"/>
<circle cx="337.8" cy="752.3" r="1.45"/>
<circle cx="337.9" cy="751.9" r="1.45"/>
<circle cx="339.3" cy="746.6" r="1.45"/>
<circle cx="339.5" cy="749.6" r="1.45"/>
<circle cx="339.8" cy="748.4" r="1.45"/>
<circle cx="340.7" cy="744.8" r="1.45"/>
<circle cx="340.8" cy="750.4" r="1.45"/>
<circle cx="340.3" cy="748.4" r="1.45"/>
<circle cx="340.9" cy="748.8" r="1.45"/>
<circle cx="340.7" cy="749.3" r="1.45"/>
<circle cx="341.1" cy="753.4" r="1.45"/>
<circle cx="341.6" cy="750.0" r="1.45"/>
<circle cx="341.5" cy="750.9" r="1.45"/>
<circle cx="341.2" cy="753.2" r="1.45"/>
<circle cx="341.8" cy="754.7" r="1.45"/>
<circle cx="341.9" cy="757.1" r="1.45"/>
<circle cx="341.2" cy="749.9" r="1.45"/>
<circle cx="341.9" cy="751.0" r="1.45"/>
<circle cx="342.3" cy="750.2" r="1.45"/>
<circle cx="342.6" cy="754.8" r="1.45"/>
<circle cx="341.5" cy="757.4" r="1.45"/>
<circle cx="342.8" cy="756.8" r="1.45"/>
<circle cx="342.0" cy="757.5" r="1.45"/>
<circle cx="342.6" cy="755.6" r="1.45"/>
<circle cx="343.2" cy="760.8" r="1.45"/>
<circle cx="343.0" cy="758.5" r="1.45"/>
<circle cx="342.9" cy="763.7" r="1.45"/>
<circle cx="343.6" cy="761.5" r="1.45"/>
<circle cx="344.1" cy="758.8" r="1.45"/>
<circle cx="344.3" cy="757.2" r="1.45"/>
<circle cx="344.2" cy="767.7" r="1.45"/>
<circle cx="344.1" cy="760.1" r="1.45"/>
<circle cx="345.6" cy="773.4" r="1.45"/>
<circle cx="346.1" cy="775.8" r="1.45"/>
<circle cx="344.9" cy="772.4" r="1.45"/>
<circle cx="346.0" cy="767.2" r="1.45"/>
<circle cx="345.3" cy="774.0" r="1.45"/>
<circle cx="346.0" cy="776.2" r="1.45"/>
<circle cx="350.0" cy="759.1" r="1.45"/>
<circle cx="350.0" cy="760.0" r="1.45"/>
<circle cx="350.1" cy="757.9" r="1.45"/>
<circle cx="348.6" cy="757.9" r="1.45"/>
<circle cx="350.5" cy="760.6" r="1.45"/>
<circle cx="349.6" cy="760.5" r="1.45"/>
<circle cx="350.7" cy="766.9" r="1.45"/>
<circle cx="350.8" cy="763.5" r="1.45"/>
<circle cx="354.4" cy="774.3" r="1.45"/>
<circle cx="353.9" cy="778.4" r="1.45"/>
<circle cx="356.0" cy="778.1" r="1.45"/>
<circle cx="356.2" cy="781.0" r="1.45"/>
<circle cx="356.2" cy="779.8" r="1.45"/>
<circle cx="356.1" cy="779.0" r="1.45"/>
<circle cx="356.6" cy="778.7" r="1.45"/>
<circle cx="357.3" cy="780.2" r="1.45"/>
<circle cx="357.4" cy="782.2" r="1.45"/>
<circle cx="359.1" cy="776.8" r="1.45"/>
<circle cx="358.1" cy="779.5" r="1.45"/>
<circle cx="359.0" cy="773.5" r="1.45"/>
<circle cx="359.3" cy="780.8" r="1.45"/>
<circle cx="359.8" cy="778.6" r="1.45"/>
<circle cx="361.1" cy="783.2" r="1.45"/>
<circle cx="360.2" cy="778.5" r="1.45"/>
<circle cx="360.2" cy="779.2" r="1.45"/>
<circle cx="360.4" cy="781.4" r="1.45"/>
<circle cx="361.1" cy="781.1" r="1.45"/>
<circle cx="360.3" cy="782.6" r="1.45"/>
<circle cx="361.1" cy="780.2" r="1.45"/>
<circle cx="361.6" cy="784.5" r="1.45"/>
<circle cx="360.9" cy="781.3" r="1.45"/>
<circle cx="361.7" cy="782.4" r="1.45"/>
<circle cx="362.2" cy="786.0" r="1.45"/>
<circle cx="361.8" cy="785.4" r="1.45"/>
<circle cx="363.7" cy="781.5" r="1.45"/>
<circle cx="362.4" cy="786.6" r="1.45"/>
<circle cx="364.1" cy="783.8" r="1.45"/>
<circle cx="364.4" cy="781.5" r="1.45"/>
<circle cx="363.1" cy="787.8" r="1.45"/>
<circle cx="365.0" cy="784.9" r="1.45"/>
<circle cx="365.6" cy="787.7" r="1.45"/>
<circle cx="365.6" cy="784.6" r="1.45"/>
<circle cx="366.1" cy="785.8" r="1.45"/>
<circle cx="366.4" cy="787.2" r="1.45"/>
<circle cx="367.0" cy="784.7" r="1.45"/>
<circle cx="368.0" cy="786.6" r="1.45"/>
<circle cx="369.6" cy="784.0" r="1.45"/>
<circle cx="369.0" cy="783.8" r="1.45"/>
<circle cx="368.2" cy="785.0" r="1.45"/>
<circle cx="369.4" cy="786.3" r="1.45"/>
<circle cx="369.1" cy="787.0" r="1.45"/>
<circle cx="370.1" cy="783.7" r="1.45"/>
<circle cx="371.0" cy="785.9" r="1.45"/>
<circle cx="370.6" cy="780.8" r="1.45"/>
<circle cx="372.0" cy="780.5" r="1.45"/>
<circle cx="372.0" cy="783.1" r="1.45"/>
<circle cx="371.1" cy="782.7" r="1.45"/>
<circle cx="372.2" cy="783.4" r="1.45"/>
<circle cx="371.2" cy="781.7" r="1.45"/>
<circle cx="372.3" cy="781.0" r="1.45"/>
<circle cx="372.0" cy="775.9" r="1.45"/>
<circle cx="372.0" cy="781.4" r="1.45"/>
<circle cx="372.8" cy="778.8" r="1.45"/>
<circle cx="373.8" cy="772.1" r="1.45"/>
<circle cx="373.6" cy="773.4" r="1.45"/>
<circle cx="373.3" cy="780.3" r="1.45"/>
<circle cx="373.2" cy="777.4" r="1.45"/>
<circle cx="374.3" cy="775.7" r="1.45"/>
<circle cx="373.5" cy="777.5" r="1.45"/>
<circle cx="375.8" cy="774.2" r="1.45"/>
<circle cx="374.1" cy="772.5" r="1.45"/>
<circle cx="374.7" cy="771.8" r="1.45"/>
<circle cx="375.0" cy="770.7" r="1.45"/>
<circle cx="375.9" cy="767.8" r="1.45"/>
<circle cx="375.3" cy="771.9" r="1.45"/>
<circle cx="375.3" cy="767.9" r="1.45"/>
<circle cx="375.9" cy="768.1" r="1.45"/>
<circle cx="375.3" cy="766.8" r="1.45"/>
<circle cx="377.6" cy="768.9" r="1.45"/>
<circle cx="377.2" cy="770.2" r="1.45"/>
<circle cx="377.0" cy="768.7" r="1.45"/>
<circle cx="377.5" cy="769.4" r="1.45"/>
<circle cx="377.4" cy="765.8" r="1.45"/>
<circle cx="377.1" cy="760.1" r="1.45"/>
<circle cx="377.5" cy="762.1" r="1.45"/>
<circle cx="377.8" cy="763.7" r="1.45"/>
<circle cx="377.5" cy="764.8" r="1.45"/>
<circle cx="378.5" cy="764.4" r="1.45"/>
<circle cx="379.5" cy="758.1" r="1.45"/>
<circle cx="378.5" cy="759.7" r="1.45"/>
<circle cx="378.4" cy="758.9" r="1.45"/>
<circle cx="378.1" cy="759.9" r="1.45"/>
<circle cx="378.7" cy="753.8" r="1.45"/>
<circle cx="378.8" cy="758.5" r="1.45"/>
<circle cx="379.8" cy="757.1" r="1.45"/>
<circle cx="382.9" cy="739.7" r="1.45"/>
<circle cx="382.9" cy="745.6" r="1.45"/>
<circle cx="383.0" cy="734.4" r="1.45"/>
<circle cx="382.5" cy="737.4" r="1.45"/>
<circle cx="382.8" cy="739.0" r="1.45"/>
<circle cx="382.8" cy="735.1" r="1.45"/>
<circle cx="383.6" cy="735.6" r="1.45"/>
<circle cx="383.1" cy="738.8" r="1.45"/>
<circle cx="382.8" cy="734.5" r="1.45"/>
<circle cx="383.1" cy="734.9" r="1.45"/>
<circle cx="383.1" cy="733.5" r="1.45"/>
<circle cx="384.1" cy="732.8" r="1.45"/>
<circle cx="384.2" cy="734.5" r="1.45"/>
<circle cx="383.8" cy="734.4" r="1.45"/>
<circle cx="384.5" cy="737.0" r="1.45"/>
<circle cx="383.8" cy="732.5" r="1.45"/>
<circle cx="384.1" cy="728.1" r="1.45"/>
<circle cx="383.5" cy="729.3" r="1.45"/>
<circle cx="384.5" cy="730.0" r="1.45"/>
<circle cx="384.4" cy="737.1" r="1.45"/>
<circle cx="384.7" cy="736.6" r="1.45"/>
<circle cx="383.8" cy="734.9" r="1.45"/>
<circle cx="384.5" cy="734.4" r="1.45"/>
<circle cx="385.3" cy="734.9" r="1.45"/>
<circle cx="383.8" cy="731.4" r="1.45"/>
<circle cx="384.1" cy="738.8" r="1.45"/>
<circle cx="385.1" cy="740.8" r="1.45"/>
<circle cx="384.5" cy="741.3" r="1.45"/>
<circle cx="385.7" cy="737.1" r="1.45"/>
<circle cx="385.6" cy="740.9" r="1.45"/>
<circle cx="386.0" cy="735.8" r="1.45"/>
<circle cx="384.2" cy="741.7" r="1.45"/>
<circle cx="385.5" cy="742.2" r="1.45"/>
<circle cx="385.9" cy="738.8" r="1.45"/>
<circle cx="386.1" cy="739.1" r="1.45"/>
<circle cx="385.3" cy="738.9" r="1.45"/>
<circle cx="385.3" cy="745.0" r="1.45"/>
<circle cx="386.2" cy="747.6" r="1.45"/>
<circle cx="386.7" cy="747.0" r="1.45"/>
<circle cx="386.5" cy="745.6" r="1.45"/>
<circle cx="386.2" cy="744.7" r="1.45"/>
<circle cx="385.8" cy="743.8" r="1.45"/>
<circle cx="386.6" cy="745.8" r="1.45"/>
<circle cx="386.0" cy="745.9" r="1.45"/>
<circle cx="386.4" cy="749.6" r="1.45"/>
<circle cx="387.2" cy="746.4" r="1.45"/>
<circle cx="387.2" cy="749.2" r="1.45"/>
<circle cx="387.2" cy="739.8" r="1.45"/>
<circle cx="386.9" cy="751.6" r="1.45"/>
<circle cx="387.6" cy="748.6" r="1.45"/>
<circle cx="387.4" cy="753.7" r="1.45"/>
<circle cx="386.9" cy="752.1" r="1.45"/>
<circle cx="387.0" cy="753.1" r="1.45"/>
<circle cx="387.7" cy="755.9" r="1.45"/>
<circle cx="387.8" cy="756.2" r="1.45"/>
<circle cx="387.8" cy="753.6" r="1.45"/>
<circle cx="388.4" cy="756.3" r="1.45"/>
<circle cx="387.8" cy="756.0" r="1.45"/>
<circle cx="388.9" cy="752.7" r="1.45"/>
<circle cx="388.4" cy="758.6" r="1.45"/>
<circle cx="388.3" cy="756.8" r="1.45"/>
<circle cx="389.0" cy="761.4" r="1.45"/>
<circle cx="388.9" cy="759.0" r="1.45"/>
<circle cx="389.8" cy="765.5" r="1.45"/>
<circle cx="389.5" cy="761.5" r="1.45"/>
<circle cx="390.2" cy="766.2" r="1.45"/>
<circle cx="390.3" cy="758.0" r="1.45"/>
<circle cx="390.6" cy="760.6" r="1.45"/>
<circle cx="391.4" cy="763.6" r="1.45"/>
<circle cx="391.9" cy="763.4" r="1.45"/>
<circle cx="391.2" cy="761.3" r="1.45"/>
<circle cx="392.1" cy="765.0" r="1.45"/>
<circle cx="391.8" cy="760.3" r="1.45"/>
<circle cx="392.5" cy="762.5" r="1.45"/>
<circle cx="392.8" cy="769.6" r="1.45"/>
<circle cx="392.5" cy="768.8" r="1.45"/>
<circle cx="393.3" cy="769.0" r="1.45"/>
<circle cx="393.4" cy="767.7" r="1.45"/>
<circle cx="394.7" cy="769.1" r="1.45"/>
<circle cx="394.5" cy="767.3" r="1.45"/>
<circle cx="393.9" cy="771.6" r="1.45"/>
<circle cx="394.0" cy="768.8" r="1.45"/>
<circle cx="394.3" cy="772.5" r="1.45"/>
<circle cx="395.8" cy="773.3" r="1.45"/>
<circle cx="395.5" cy="775.1" r="1.45"/>
<circle cx="396.0" cy="772.1" r="1.45"/>
<circle cx="396.7" cy="776.8" r="1.45"/>
<circle cx="396.4" cy="769.0" r="1.45"/>
<circle cx="395.5" cy="775.5" r="1.45"/>
<circle cx="397.1" cy="776.7" r="1.45"/>
<circle cx="397.2" cy="777.9" r="1.45"/>
<circle cx="396.3" cy="777.3" r="1.45"/>
<circle cx="396.7" cy="782.3" r="1.45"/>
<circle cx="397.7" cy="778.1" r="1.45"/>
<circle cx="398.3" cy="783.8" r="1.45"/>
<circle cx="397.8" cy="781.0" r="1.45"/>
<circle cx="397.9" cy="780.2" r="1.45"/>
<circle cx="398.9" cy="782.1" r="1.45"/>
<circle cx="399.2" cy="780.0" r="1.45"/>
<circle cx="400.1" cy="776.8" r="1.45"/>
<circle cx="399.3" cy="779.6" r="1.45"/>
<circle cx="400.3" cy="780.4" r="1.45"/>
<circle cx="400.5" cy="783.0" r="1.45"/>
<circle cx="400.1" cy="785.0" r="1.45"/>
<circle cx="400.3" cy="783.5" r="1.45"/>
<circle cx="400.2" cy="784.7" r="1.45"/>
<circle cx="401.4" cy="783.9" r="1.45"/>
<circle cx="401.1" cy="783.1" r="1.45"/>
<circle cx="402.2" cy="786.4" r="1.45"/>
<circle cx="402.4" cy="788.5" r="1.45"/>
<circle cx="401.8" cy="789.5" r="1.45"/>
<circle cx="402.7" cy="788.1" r="1.45"/>
<circle cx="403.0" cy="789.1" r="1.45"/>
<circle cx="403.9" cy="786.2" r="1.45"/>
<circle cx="404.5" cy="793.8" r="1.45"/>
<circle cx="405.0" cy="792.1" r="1.45"/>
<circle cx="405.0" cy="789.8" r="1.45"/>
<circle cx="404.9" cy="789.1" r="1.45"/>
<circle cx="405.4" cy="789.2" r="1.45"/>
<circle cx="405.8" cy="795.4" r="1.45"/>
<circle cx="405.8" cy="792.6" r="1.45"/>
<circle cx="404.9" cy="793.6" r="1.45"/>
<circle cx="406.4" cy="792.7" r="1.45"/>
<circle cx="405.9" cy="796.0" r="1.45"/>
<circle cx="406.5" cy="796.0" r="1.45"/>
<circle cx="406.3" cy="798.8" r="1.45"/>
<circle cx="407.4" cy="800.7" r="1.45"/>
<circle cx="407.4" cy="797.7" r="1.45"/>
<circle cx="408.1" cy="795.1" r="1.45"/>
<circle cx="407.5" cy="801.5" r="1.45"/>
<circle cx="408.5" cy="801.0" r="1.45"/>
<circle cx="408.4" cy="797.1" r="1.45"/>
<circle cx="408.7" cy="803.8" r="1.45"/>
<circle cx="409.4" cy="799.5" r="1.45"/>
<circle cx="409.9" cy="805.0" r="1.45"/>
<circle cx="410.2" cy="803.8" r="1.45"/>
<circle cx="410.3" cy="802.9" r="1.45"/>
<circle cx="411.4" cy="803.1" r="1.45"/>
<circle cx="411.7" cy="805.0" r="1.45"/>
<circle cx="411.4" cy="805.0" r="1.45"/>
<circle cx="411.6" cy="806.5" r="1.45"/>
<circle cx="412.4" cy="802.9" r="1.45"/>
<circle cx="413.3" cy="801.0" r="1.45"/>
<circle cx="412.8" cy="804.5" r="1.45"/>
<circle cx="413.9" cy="804.3" r="1.45"/>
<circle cx="414.6" cy="801.8" r="1.45"/>
<circle cx="414.8" cy="802.9" r="1.45"/>
<circle cx="414.1" cy="801.7" r="1.45"/>
<circle cx="414.4" cy="802.7" r="1.45"/>
<circle cx="414.7" cy="803.0" r="1.45"/>
<circle cx="415.1" cy="807.7" r="1.45"/>
<circle cx="416.1" cy="806.3" r="1.45"/>
<circle cx="419.2" cy="794.3" r="1.45"/>
<circle cx="419.0" cy="796.9" r="1.45"/>
<circle cx="419.3" cy="799.5" r="1.45"/>
<circle cx="419.4" cy="792.5" r="1.45"/>
<circle cx="420.0" cy="795.4" r="1.45"/>
<circle cx="418.9" cy="791.5" r="1.45"/>
<circle cx="420.5" cy="795.1" r="1.45"/>
<circle cx="419.7" cy="795.1" r="1.45"/>
<circle cx="419.3" cy="792.7" r="1.45"/>
<circle cx="420.2" cy="790.9" r="1.45"/>
<circle cx="420.0" cy="791.7" r="1.45"/>
<circle cx="420.4" cy="786.3" r="1.45"/>
<circle cx="420.0" cy="789.5" r="1.45"/>
<circle cx="420.5" cy="784.2" r="1.45"/>
<circle cx="419.8" cy="789.7" r="1.45"/>
<circle cx="420.9" cy="785.6" r="1.45"/>
<circle cx="420.7" cy="788.1" r="1.45"/>
<circle cx="420.5" cy="788.6" r="1.45"/>
<circle cx="420.7" cy="789.3" r="1.45"/>
<circle cx="420.6" cy="782.2" r="1.45"/>
<circle cx="420.3" cy="783.4" r="1.45"/>
<circle cx="421.1" cy="784.3" r="1.45"/>
<circle cx="420.8" cy="779.7" r="1.45"/>
<circle cx="421.7" cy="785.6" r="1.45"/>
<circle cx="421.8" cy="782.7" r="1.45"/>
<circle cx="422.1" cy="784.2" r="1.45"/>
<circle cx="421.2" cy="777.6" r="1.45"/>
<circle cx="422.1" cy="779.1" r="1.45"/>
<circle cx="422.6" cy="778.1" r="1.45"/>
<circle cx="421.9" cy="779.3" r="1.45"/>
<circle cx="421.8" cy="782.2" r="1.45"/>
<circle cx="422.5" cy="779.3" r="1.45"/>
<circle cx="421.7" cy="775.3" r="1.45"/>
<circle cx="422.4" cy="776.0" r="1.45"/>
<circle cx="422.6" cy="775.9" r="1.45"/>
<circle cx="422.5" cy="773.8" r="1.45"/>
<circle cx="422.9" cy="773.3" r="1.45"/>
<circle cx="422.9" cy="774.9" r="1.45"/>
<circle cx="424.4" cy="775.6" r="1.45"/>
<circle cx="423.8" cy="774.4" r="1.45"/>
<circle cx="423.7" cy="778.0" r="1.45"/>
<circle cx="423.9" cy="768.0" r="1.45"/>
<circle cx="424.9" cy="772.6" r="1.45"/>
<circle cx="424.5" cy="768.8" r="1.45"/>
<circle cx="424.9" cy="768.9" r="1.45"/>
<circle cx="424.5" cy="770.4" r="1.45"/>
<circle cx="424.2" cy="768.3" r="1.45"/>
<circle cx="425.1" cy="766.1" r="1.45"/>
<circle cx="425.6" cy="768.3" r="1.45"/>
<circle cx="425.3" cy="770.6" r="1.45"/>
<circle cx="425.0" cy="767.9" r="1.45"/>
<circle cx="425.7" cy="769.7" r="1.45"/>
<circle cx="427.2" cy="765.7" r="1.45"/>
<circle cx="426.7" cy="772.8" r="1.45"/>
<circle cx="426.5" cy="768.5" r="1.45"/>
<circle cx="427.9" cy="770.3" r="1.45"/>
<circle cx="427.7" cy="770.5" r="1.45"/>
<circle cx="427.6" cy="774.1" r="1.45"/>
<circle cx="428.4" cy="771.2" r="1.45"/>
<circle cx="428.9" cy="773.5" r="1.45"/>
<circle cx="428.2" cy="777.1" r="1.45"/>
<circle cx="429.0" cy="772.6" r="1.45"/>
<circle cx="430.1" cy="774.5" r="1.45"/>
<circle cx="430.6" cy="768.5" r="1.45"/>
<circle cx="430.6" cy="773.8" r="1.45"/>
<circle cx="431.1" cy="768.8" r="1.45"/>
<circle cx="431.7" cy="767.3" r="1.45"/>
<circle cx="432.5" cy="768.7" r="1.45"/>
<circle cx="432.5" cy="765.4" r="1.45"/>
<circle cx="432.2" cy="765.9" r="1.45"/>
<circle cx="430.9" cy="768.7" r="1.45"/>
<circle cx="432.1" cy="769.9" r="1.45"/>
<circle cx="432.9" cy="770.3" r="1.45"/>
<circle cx="432.7" cy="766.7" r="1.45"/>
<circle cx="433.2" cy="769.8" r="1.45"/>
<circle cx="433.9" cy="771.4" r="1.45"/>
<circle cx="432.1" cy="768.2" r="1.45"/>
<circle cx="433.0" cy="772.1" r="1.45"/>
<circle cx="433.3" cy="771.2" r="1.45"/>
<circle cx="432.4" cy="774.7" r="1.45"/>
<circle cx="434.2" cy="776.7" r="1.45"/>
<circle cx="433.1" cy="775.8" r="1.45"/>
<circle cx="433.6" cy="773.9" r="1.45"/>
<circle cx="433.3" cy="776.4" r="1.45"/>
<circle cx="433.7" cy="776.7" r="1.45"/>
<circle cx="434.8" cy="777.1" r="1.45"/>
<circle cx="434.6" cy="775.7" r="1.45"/>
<circle cx="434.3" cy="777.9" r="1.45"/>
<circle cx="434.8" cy="778.4" r="1.45"/>
<circle cx="435.9" cy="779.1" r="1.45"/>
<circle cx="435.6" cy="777.4" r="1.45"/>
<circle cx="435.6" cy="782.7" r="1.45"/>
<circle cx="435.2" cy="784.3" r="1.45"/>
<circle cx="435.4" cy="781.3" r="1.45"/>
<circle cx="436.1" cy="781.5" r="1.45"/>
<circle cx="436.1" cy="782.9" r="1.45"/>
<circle cx="436.0" cy="783.6" r="1.45"/>
<circle cx="436.9" cy="783.3" r="1.45"/>
<circle cx="436.1" cy="782.6" r="1.45"/>
<circle cx="437.2" cy="788.1" r="1.45"/>
<circle cx="437.0" cy="787.4" r="1.45"/>
<circle cx="437.0" cy="785.8" r="1.45"/>
<circle cx="437.7" cy="787.2" r="1.45"/>
<circle cx="438.1" cy="790.6" r="1.45"/>
<circle cx="438.0" cy="787.7" r="1.45"/>
<circle cx="438.2" cy="787.8" r="1.45"/>
<circle cx="438.7" cy="788.3" r="1.45"/>
<circle cx="439.0" cy="792.9" r="1.45"/>
<circle cx="439.5" cy="790.3" r="1.45"/>
<circle cx="440.0" cy="788.1" r="1.45"/>
<circle cx="441.2" cy="793.2" r="1.45"/>
<circle cx="440.8" cy="792.9" r="1.45"/>
<circle cx="441.6" cy="794.1" r="1.45"/>
<circle cx="442.2" cy="792.9" r="1.45"/>
<circle cx="442.6" cy="789.5" r="1.45"/>
<circle cx="444.2" cy="790.5" r="1.45"/>
<circle cx="444.1" cy="789.4" r="1.45"/>
<circle cx="444.8" cy="794.0" r="1.45"/>
<circle cx="444.5" cy="792.9" r="1.45"/>
<circle cx="445.6" cy="785.9" r="1.45"/>
<circle cx="445.8" cy="788.7" r="1.45"/>
<circle cx="446.2" cy="788.4" r="1.45"/>
<circle cx="447.3" cy="789.4" r="1.45"/>
<circle cx="447.2" cy="789.2" r="1.45"/>
<circle cx="448.6" cy="789.5" r="1.45"/>
<circle cx="448.0" cy="787.1" r="1.45"/>
<circle cx="449.0" cy="785.0" r="1.45"/>
<circle cx="449.5" cy="789.4" r="1.45"/>
<circle cx="450.8" cy="784.6" r="1.45"/>
<circle cx="450.6" cy="789.6" r="1.45"/>
<circle cx="450.9" cy="788.9" r="1.45"/>
<circle cx="450.9" cy="788.0" r="1.45"/>
<circle cx="452.6" cy="790.4" r="1.45"/>
<circle cx="451.7" cy="791.8" r="1.45"/>
<circle cx="452.9" cy="794.9" r="1.45"/>
<circle cx="451.6" cy="797.3" r="1.45"/>
<circle cx="452.3" cy="792.6" r="1.45"/>
<circle cx="452.7" cy="787.8" r="1.45"/>
<circle cx="452.1" cy="791.7" r="1.45"/>
<circle cx="452.8" cy="786.5" r="1.45"/>
<circle cx="452.9" cy="786.9" r="1.45"/>
<circle cx="451.9" cy="789.8" r="1.45"/>
<circle cx="453.6" cy="787.3" r="1.45"/>
<circle cx="453.1" cy="785.5" r="1.45"/>
<circle cx="452.7" cy="782.4" r="1.45"/>
<circle cx="452.6" cy="784.7" r="1.45"/>
<circle cx="452.6" cy="787.7" r="1.45"/>
<circle cx="453.7" cy="784.9" r="1.45"/>
<circle cx="452.5" cy="782.4" r="1.45"/>
<circle cx="453.3" cy="782.5" r="1.45"/>
<circle cx="453.2" cy="785.8" r="1.45"/>
<circle cx="453.5" cy="783.5" r="1.45"/>
<circle cx="453.4" cy="780.7" r="1.45"/>
<circle cx="453.8" cy="782.1" r="1.45"/>
<circle cx="453.2" cy="776.4" r="1.45"/>
<circle cx="453.0" cy="781.4" r="1.45"/>
<circle cx="453.1" cy="779.1" r="1.45"/>
<circle cx="453.6" cy="777.2" r="1.45"/>
<circle cx="453.8" cy="775.9" r="1.45"/>
<circle cx="454.0" cy="776.9" r="1.45"/>
<circle cx="452.8" cy="777.3" r="1.45"/>
<circle cx="453.8" cy="773.1" r="1.45"/>
<circle cx="454.3" cy="778.0" r="1.45"/>
<circle cx="453.6" cy="774.1" r="1.45"/>
<circle cx="454.5" cy="770.9" r="1.45"/>
<circle cx="453.4" cy="774.0" r="1.45"/>
<circle cx="454.4" cy="774.5" r="1.45"/>
<circle cx="454.2" cy="772.6" r="1.45"/>
<circle cx="454.0" cy="771.3" r="1.45"/>
<circle cx="453.9" cy="769.3" r="1.45"/>
<circle cx="456.0" cy="771.8" r="1.45"/>
<circle cx="454.4" cy="769.5" r="1.45"/>
<circle cx="454.9" cy="763.8" r="1.45"/>
<circle cx="455.3" cy="767.8" r="1.45"/>
<circle cx="455.2" cy="763.3" r="1.45"/>
<circle cx="455.7" cy="768.5" r="1.45"/>
<circle cx="455.1" cy="763.4" r="1.45"/>
<circle cx="455.7" cy="765.9" r="1.45"/>
<circle cx="456.1" cy="767.0" r="1.45"/>
<circle cx="456.8" cy="767.7" r="1.45"/>
<circle cx="456.5" cy="769.9" r="1.45"/>
<circle cx="456.0" cy="777.0" r="1.45"/>
<circle cx="456.8" cy="770.1" r="1.45"/>
<circle cx="456.2" cy="774.1" r="1.45"/>
<circle cx="455.8" cy="771.7" r="1.45"/>
<circle cx="456.6" cy="772.5" r="1.45"/>
<circle cx="456.1" cy="770.4" r="1.45"/>
<circle cx="456.2" cy="773.4" r="1.45"/>
<circle cx="456.4" cy="771.0" r="1.45"/>
<circle cx="456.9" cy="766.8" r="1.45"/>
<circle cx="457.0" cy="771.5" r="1.45"/>
<circle cx="457.5" cy="777.1" r="1.45"/>
<circle cx="456.3" cy="777.3" r="1.45"/>
<circle cx="457.0" cy="776.8" r="1.45"/>
<circle cx="456.5" cy="773.3" r="1.45"/>
<circle cx="457.2" cy="775.9" r="1.45"/>
<circle cx="457.7" cy="775.7" r="1.45"/>
<circle cx="457.6" cy="777.3" r="1.45"/>
<circle cx="457.0" cy="778.5" r="1.45"/>
<circle cx="457.2" cy="778.8" r="1.45"/>
<circle cx="457.5" cy="784.4" r="1.45"/>
<circle cx="456.6" cy="782.0" r="1.45"/>
<circle cx="457.3" cy="782.1" r="1.45"/>
<circle cx="456.4" cy="781.3" r="1.45"/>
<circle cx="457.4" cy="779.8" r="1.45"/>
<circle cx="457.8" cy="782.9" r="1.45"/>
<circle cx="457.4" cy="781.1" r="1.45"/>
<circle cx="457.1" cy="784.3" r="1.45"/>
<circle cx="457.8" cy="786.9" r="1.45"/>
<circle cx="457.9" cy="788.2" r="1.45"/>
<circle cx="458.0" cy="785.3" r="1.45"/>
<circle cx="458.0" cy="790.4" r="1.45"/>
<circle cx="457.6" cy="786.4" r="1.45"/>
<circle cx="457.1" cy="789.7" r="1.45"/>
<circle cx="457.7" cy="789.8" r="1.45"/>
<circle cx="459.1" cy="788.9" r="1.45"/>
<circle cx="457.6" cy="789.1" r="1.45"/>
<circle cx="458.3" cy="791.2" r="1.45"/>
<circle cx="457.5" cy="791.5" r="1.45"/>
<circle cx="457.6" cy="792.1" r="1.45"/>
<circle cx="458.4" cy="791.9" r="1.45"/>
<circle cx="457.9" cy="792.5" r="1.45"/>
<circle cx="457.8" cy="791.9" r="1.45"/>
<circle cx="457.9" cy="793.6" r="1.45"/>
<circle cx="458.4" cy="797.6" r="1.45"/>
<circle cx="457.6" cy="794.5" r="1.45"/>
<circle cx="457.8" cy="794.1" r="1.45"/>
<circle cx="458.4" cy="800.6" r="1.45"/>
<circle cx="458.7" cy="796.0" r="1.45"/>
<circle cx="458.2" cy="798.3" r="1.45"/>
<circle cx="458.6" cy="793.1" r="1.45"/>
<circle cx="458.6" cy="802.5" r="1.45"/>
<circle cx="458.7" cy="800.3" r="1.45"/>
<circle cx="457.6" cy="796.9" r="1.45"/>
<circle cx="459.0" cy="800.4" r="1.45"/>
<circle cx="458.7" cy="802.6" r="1.45"/>
<circle cx="458.0" cy="801.3" r="1.45"/>
<circle cx="457.9" cy="800.1" r="1.45"/>
<circle cx="459.5" cy="804.7" r="1.45"/>
<circle cx="458.3" cy="804.8" r="1.45"/>
<circle cx="460.2" cy="805.1" r="1.45"/>
<circle cx="459.3" cy="806.5" r="1.45"/>
<circle cx="459.1" cy="806.6" r="1.45"/>
<circle cx="459.5" cy="809.6" r="1.45"/>
<circle cx="458.9" cy="810.0" r="1.45"/>
<circle cx="459.7" cy="808.3" r="1.45"/>
<circle cx="460.5" cy="811.2" r="1.45"/>
<circle cx="460.4" cy="812.2" r="1.45"/>
<circle cx="459.7" cy="807.6" r="1.45"/>
<circle cx="460.8" cy="811.1" r="1.45"/>
<circle cx="462.0" cy="809.0" r="1.45"/>
<circle cx="462.6" cy="808.8" r="1.45"/>
<circle cx="462.4" cy="812.0" r="1.45"/>
<circle cx="463.0" cy="808.8" r="1.45"/>
<circle cx="462.9" cy="806.2" r="1.45"/>
<circle cx="464.3" cy="809.5" r="1.45"/>
<circle cx="463.9" cy="807.8" r="1.45"/>
<circle cx="462.9" cy="804.7" r="1.45"/>
<circle cx="463.4" cy="807.0" r="1.45"/>
<circle cx="464.0" cy="806.2" r="1.45"/>
<circle cx="464.4" cy="801.7" r="1.45"/>
<circle cx="463.8" cy="801.6" r="1.45"/>
<circle cx="463.9" cy="806.7" r="1.45"/>
<circle cx="465.3" cy="799.7" r="1.45"/>
<circle cx="465.0" cy="799.2" r="1.45"/>
<circle cx="465.1" cy="799.9" r="1.45"/>
<circle cx="463.8" cy="803.6" r="1.45"/>
<circle cx="464.9" cy="800.3" r="1.45"/>
<circle cx="465.6" cy="798.1" r="1.45"/>
<circle cx="466.2" cy="795.3" r="1.45"/>
<circle cx="464.9" cy="798.1" r="1.45"/>
<circle cx="465.8" cy="793.7" r="1.45"/>
<circle cx="465.2" cy="793.8" r="1.45"/>
<circle cx="465.5" cy="798.5" r="1.45"/>
<circle cx="466.1" cy="796.4" r="1.45"/>
<circle cx="466.9" cy="795.3" r="1.45"/>
<circle cx="466.0" cy="796.1" r="1.45"/>
<circle cx="465.9" cy="791.6" r="1.45"/>
<circle cx="466.8" cy="790.3" r="1.45"/>
<circle cx="467.2" cy="787.6" r="1.45"/>
<circle cx="467.9" cy="793.0" r="1.45"/>
<circle cx="467.8" cy="791.1" r="1.45"/>
<circle cx="469.0" cy="792.4" r="1.45"/>
<circle cx="469.8" cy="789.3" r="1.45"/>
<circle cx="469.5" cy="792.6" r="1.45"/>
<circle cx="469.3" cy="788.1" r="1.45"/>
<circle cx="471.1" cy="791.5" r="1.45"/>
<circle cx="470.5" cy="790.9" r="1.45"/>
<circle cx="470.6" cy="785.2" r="1.45"/>
<circle cx="471.8" cy="783.7" r="1.45"/>
<circle cx="471.9" cy="790.0" r="1.45"/>
<circle cx="472.9" cy="790.0" r="1.45"/>
<circle cx="472.2" cy="790.0" r="1.45"/>
<circle cx="473.3" cy="787.1" r="1.45"/>
<circle cx="473.3" cy="784.3" r="1.45"/>
<circle cx="472.9" cy="783.4" r="1.45"/>
<circle cx="472.7" cy="779.7" r="1.45"/>
<circle cx="473.3" cy="781.7" r="1.45"/>
<circle cx="474.3" cy="775.6" r="1.45"/>
<circle cx="473.8" cy="781.4" r="1.45"/>
<circle cx="473.7" cy="784.0" r="1.45"/>
<circle cx="475.3" cy="762.6" r="1.45"/>
<circle cx="475.8" cy="763.6" r="1.45"/>
<circle cx="476.6" cy="763.6" r="1.45"/>
<circle cx="475.7" cy="767.2" r="1.45"/>
<circle cx="476.4" cy="764.2" r="1.45"/>
<circle cx="477.7" cy="765.0" r="1.45"/>
<circle cx="476.9" cy="765.7" r="1.45"/>
<circle cx="477.7" cy="766.2" r="1.45"/>
<circle cx="477.8" cy="764.2" r="1.45"/>
<circle cx="477.9" cy="766.3" r="1.45"/>
<circle cx="478.5" cy="772.8" r="1.45"/>
<circle cx="477.6" cy="771.4" r="1.45"/>
<circle cx="478.3" cy="768.0" r="1.45"/>
<circle cx="477.6" cy="763.6" r="1.45"/>
<circle cx="477.9" cy="773.1" r="1.45"/>
<circle cx="478.8" cy="766.7" r="1.45"/>
<circle cx="478.7" cy="770.0" r="1.45"/>
<circle cx="478.3" cy="775.9" r="1.45"/>
<circle cx="478.3" cy="775.6" r="1.45"/>
<circle cx="479.3" cy="778.4" r="1.45"/>
<circle cx="478.4" cy="770.9" r="1.45"/>
<circle cx="478.3" cy="772.0" r="1.45"/>
<circle cx="479.5" cy="773.0" r="1.45"/>
<circle cx="479.4" cy="779.2" r="1.45"/>
<circle cx="479.8" cy="779.3" r="1.45"/>
<circle cx="479.6" cy="776.2" r="1.45"/>
<circle cx="479.5" cy="783.4" r="1.45"/>
<circle cx="480.7" cy="775.7" r="1.45"/>
<circle cx="479.8" cy="782.6" r="1.45"/>
<circle cx="480.4" cy="782.3" r="1.45"/>
<circle cx="480.1" cy="778.2" r="1.45"/>
<circle cx="480.6" cy="783.5" r="1.45"/>
<circle cx="479.0" cy="784.2" r="1.45"/>
<circle cx="480.4" cy="781.4" r="1.45"/>
<circle cx="480.6" cy="784.2" r="1.45"/>
<circle cx="480.7" cy="786.1" r="1.45"/>
<circle cx="480.7" cy="782.8" r="1.45"/>
<circle cx="480.2" cy="781.6" r="1.45"/>
<circle cx="480.6" cy="779.2" r="1.45"/>
<circle cx="481.2" cy="786.0" r="1.45"/>
<circle cx="482.0" cy="788.7" r="1.45"/>
<circle cx="482.2" cy="790.9" r="1.45"/>
<circle cx="482.4" cy="786.6" r="1.45"/>
<circle cx="481.5" cy="789.8" r="1.45"/>
<circle cx="482.3" cy="788.9" r="1.45"/>
<circle cx="483.3" cy="790.7" r="1.45"/>
<circle cx="483.3" cy="788.8" r="1.45"/>
<circle cx="484.4" cy="790.0" r="1.45"/>
<circle cx="484.8" cy="787.1" r="1.45"/>
<circle cx="485.3" cy="788.9" r="1.45"/>
<circle cx="485.4" cy="789.2" r="1.45"/>
<circle cx="484.8" cy="787.1" r="1.45"/>
<circle cx="486.4" cy="788.6" r="1.45"/>
<circle cx="487.6" cy="786.8" r="1.45"/>
<circle cx="487.2" cy="787.9" r="1.45"/>
<circle cx="487.9" cy="790.7" r="1.45"/>
<circle cx="488.8" cy="791.5" r="1.45"/>
<circle cx="488.3" cy="788.4" r="1.45"/>
<circle cx="490.1" cy="790.9" r="1.45"/>
<circle cx="489.9" cy="793.3" r="1.45"/>
<circle cx="489.5" cy="789.3" r="1.45"/>
<circle cx="489.7" cy="791.0" r="1.45"/>
<circle cx="490.8" cy="791.8" r="1.45"/>
<circle cx="492.0" cy="793.5" r="1.45"/>
<circle cx="492.8" cy="791.0" r="1.45"/>
<circle cx="492.8" cy="795.8" r="1.45"/>
<circle cx="492.4" cy="795.1" r="1.45"/>
<circle cx="493.8" cy="796.0" r="1.45"/>
<circle cx="493.7" cy="799.7" r="1.45"/>
<circle cx="493.0" cy="793.9" r="1.45"/>
<circle cx="494.6" cy="791.7" r="1.45"/>
<circle cx="495.0" cy="804.5" r="1.45"/>
<circle cx="494.2" cy="803.0" r="1.45"/>
<circle cx="495.0" cy="803.4" r="1.45"/>
<circle cx="495.4" cy="798.0" r="1.45"/>
<circle cx="495.8" cy="801.9" r="1.45"/>
<circle cx="494.7" cy="798.8" r="1.45"/>
<circle cx="495.6" cy="796.6" r="1.45"/>
<circle cx="496.2" cy="806.0" r="1.45"/>
<circle cx="496.3" cy="806.5" r="1.45"/>
<circle cx="496.8" cy="805.5" r="1.45"/>
<circle cx="496.9" cy="806.9" r="1.45"/>
<circle cx="497.2" cy="804.3" r="1.45"/>
<circle cx="497.1" cy="806.4" r="1.45"/>
<circle cx="499.3" cy="800.8" r="1.45"/>
<circle cx="497.6" cy="808.1" r="1.45"/>
<circle cx="497.8" cy="806.3" r="1.45"/>
<circle cx="498.6" cy="810.9" r="1.45"/>
<circle cx="498.8" cy="805.3" r="1.45"/>
<circle cx="497.1" cy="803.0" r="1.45"/>
<circle cx="498.0" cy="802.9" r="1.45"/>
<circle cx="499.3" cy="799.2" r="1.45"/>
<circle cx="499.5" cy="799.8" r="1.45"/>
<circle cx="499.1" cy="802.3" r="1.45"/>
<circle cx="500.1" cy="800.4" r="1.45"/>
<circle cx="500.4" cy="800.7" r="1.45"/>
<circle cx="500.9" cy="801.7" r="1.45"/>
<circle cx="501.3" cy="804.0" r="1.45"/>
<circle cx="501.4" cy="802.9" r="1.45"/>
<circle cx="500.9" cy="800.3" r="1.45"/>
<circle cx="501.8" cy="801.9" r="1.45"/>
<circle cx="502.7" cy="801.1" r="1.45"/>
<circle cx="503.5" cy="802.2" r="1.45"/>
<circle cx="504.4" cy="802.6" r="1.45"/>
<circle cx="503.9" cy="803.5" r="1.45"/>
<circle cx="505.5" cy="797.6" r="1.45"/>
<circle cx="505.5" cy="797.1" r="1.45"/>
<circle cx="506.4" cy="791.5" r="1.45"/>
<circle cx="506.8" cy="791.3" r="1.45"/>
<circle cx="506.7" cy="797.8" r="1.45"/>
<circle cx="507.2" cy="795.0" r="1.45"/>
<circle cx="507.2" cy="792.2" r="1.45"/>
<circle cx="507.6" cy="794.7" r="1.45"/>
<circle cx="507.4" cy="792.2" r="1.45"/>
<circle cx="507.2" cy="789.2" r="1.45"/>
<circle cx="507.3" cy="789.4" r="1.45"/>
<circle cx="508.1" cy="791.4" r="1.45"/>
<circle cx="509.2" cy="788.6" r="1.45"/>
<circle cx="508.7" cy="788.5" r="1.45"/>
<circle cx="509.2" cy="786.0" r="1.45"/>
<circle cx="508.8" cy="789.1" r="1.45"/>
<circle cx="509.5" cy="789.4" r="1.45"/>
<circle cx="509.4" cy="785.4" r="1.45"/>
<circle cx="509.2" cy="784.0" r="1.45"/>
<circle cx="510.4" cy="784.7" r="1.45"/>
<circle cx="509.4" cy="788.8" r="1.45"/>
<circle cx="509.9" cy="783.9" r="1.45"/>
<circle cx="509.7" cy="785.6" r="1.45"/>
<circle cx="510.4" cy="783.1" r="1.45"/>
<circle cx="510.8" cy="782.6" r="1.45"/>
<circle cx="511.1" cy="782.3" r="1.45"/>
<circle cx="511.9" cy="784.2" r="1.45"/>
<circle cx="511.8" cy="780.9" r="1.45"/>
<circle cx="512.7" cy="777.9" r="1.45"/>
<circle cx="512.1" cy="778.1" r="1.45"/>
<circle cx="512.2" cy="778.9" r="1.45"/>
<circle cx="512.2" cy="779.3" r="1.45"/>
<circle cx="513.6" cy="777.1" r="1.45"/>
<circle cx="513.6" cy="779.1" r="1.45"/>
<circle cx="514.5" cy="777.1" r="1.45"/>
<circle cx="514.2" cy="776.1" r="1.45"/>
<circle cx="513.8" cy="780.3" r="1.45"/>
<circle cx="514.6" cy="774.3" r="1.45"/>
<circle cx="515.5" cy="777.7" r="1.45"/>
<circle cx="515.6" cy="775.1" r="1.45"/>
<circle cx="516.2" cy="774.5" r="1.45"/>
<circle cx="515.9" cy="769.4" r="1.45"/>
<circle cx="516.6" cy="774.2" r="1.45"/>
<circle cx="516.2" cy="771.4" r="1.45"/>
<circle cx="516.7" cy="769.2" r="1.45"/>
<circle cx="517.3" cy="771.8" r="1.45"/>
<circle cx="516.8" cy="767.3" r="1.45"/>
<circle cx="516.4" cy="770.0" r="1.45"/>
<circle cx="517.4" cy="768.0" r="1.45"/>
<circle cx="517.7" cy="770.1" r="1.45"/>
<circle cx="517.8" cy="768.1" r="1.45"/>
<circle cx="517.9" cy="765.1" r="1.45"/>
<circle cx="517.7" cy="768.2" r="1.45"/>
<circle cx="518.4" cy="766.4" r="1.45"/>
<circle cx="518.5" cy="764.0" r="1.45"/>
<circle cx="518.8" cy="764.7" r="1.45"/>
<circle cx="518.2" cy="760.6" r="1.45"/>
<circle cx="518.8" cy="760.8" r="1.45"/>
<circle cx="520.1" cy="762.3" r="1.45"/>
<circle cx="520.0" cy="759.3" r="1.45"/>
<circle cx="519.5" cy="760.2" r="1.45"/>
<circle cx="519.3" cy="758.0" r="1.45"/>
<circle cx="520.0" cy="759.6" r="1.45"/>
<circle cx="519.5" cy="758.5" r="1.45"/>
<circle cx="519.9" cy="759.4" r="1.45"/>
<circle cx="520.3" cy="760.2" r="1.45"/>
<circle cx="519.7" cy="751.5" r="1.45"/>
<circle cx="519.5" cy="757.7" r="1.45"/>
<circle cx="520.4" cy="755.6" r="1.45"/>
<circle cx="520.1" cy="756.9" r="1.45"/>
<circle cx="520.1" cy="756.9" r="1.45"/>
<circle cx="521.3" cy="754.0" r="1.45"/>
<circle cx="521.4" cy="758.4" r="1.45"/>
<circle cx="521.3" cy="754.1" r="1.45"/>
<circle cx="520.5" cy="756.0" r="1.45"/>
<circle cx="521.2" cy="760.5" r="1.45"/>
<circle cx="520.5" cy="762.8" r="1.45"/>
<circle cx="523.5" cy="753.7" r="1.45"/>
<circle cx="522.3" cy="760.1" r="1.45"/>
<circle cx="521.5" cy="760.0" r="1.45"/>
<circle cx="522.3" cy="761.8" r="1.45"/>
<circle cx="521.3" cy="765.5" r="1.45"/>
<circle cx="521.6" cy="764.0" r="1.45"/>
<circle cx="522.5" cy="760.0" r="1.45"/>
<circle cx="521.8" cy="760.1" r="1.45"/>
<circle cx="522.4" cy="769.1" r="1.45"/>
<circle cx="522.4" cy="765.9" r="1.45"/>
<circle cx="522.4" cy="764.9" r="1.45"/>
<circle cx="522.6" cy="764.8" r="1.45"/>
<circle cx="522.3" cy="764.4" r="1.45"/>
<circle cx="523.1" cy="767.0" r="1.45"/>
<circle cx="521.9" cy="770.3" r="1.45"/>
<circle cx="523.0" cy="771.8" r="1.45"/>
<circle cx="523.1" cy="768.6" r="1.45"/>
<circle cx="523.8" cy="770.6" r="1.45"/>
<circle cx="523.2" cy="768.2" r="1.45"/>
<circle cx="524.6" cy="772.0" r="1.45"/>
<circle cx="524.2" cy="768.4" r="1.45"/>
<circle cx="523.8" cy="769.4" r="1.45"/>
<circle cx="525.1" cy="771.9" r="1.45"/>
<circle cx="523.7" cy="779.3" r="1.45"/>
<circle cx="524.8" cy="779.5" r="1.45"/>
<circle cx="525.0" cy="775.1" r="1.45"/>
<circle cx="525.3" cy="780.3" r="1.45"/>
<circle cx="524.2" cy="778.5" r="1.45"/>
<circle cx="525.4" cy="776.8" r="1.45"/>
<circle cx="524.7" cy="778.4" r="1.45"/>
<circle cx="525.3" cy="777.3" r="1.45"/>
<circle cx="525.4" cy="781.6" r="1.45"/>
<circle cx="525.7" cy="776.2" r="1.45"/>
<circle cx="525.5" cy="781.7" r="1.45"/>
<circle cx="526.2" cy="780.1" r="1.45"/>
<circle cx="525.0" cy="782.8" r="1.45"/>
<circle cx="526.7" cy="781.4" r="1.45"/>
<circle cx="526.4" cy="784.8" r="1.45"/>
<circle cx="526.6" cy="787.0" r="1.45"/>
<circle cx="526.5" cy="780.4" r="1.45"/>
<circle cx="526.0" cy="784.4" r="1.45"/>
<circle cx="526.3" cy="785.9" r="1.45"/>
<circle cx="526.6" cy="788.7" r="1.45"/>
<circle cx="526.3" cy="785.8" r="1.45"/>
<circle cx="525.8" cy="783.8" r="1.45"/>
<circle cx="526.7" cy="786.1" r="1.45"/>
<circle cx="527.0" cy="789.2" r="1.45"/>
<circle cx="528.3" cy="791.3" r="1.45"/>
<circle cx="527.3" cy="791.7" r="1.45"/>
<circle cx="527.3" cy="793.3" r="1.45"/>
<circle cx="527.7" cy="788.5" r="1.45"/>
<circle cx="528.6" cy="791.9" r="1.45"/>
<circle cx="529.5" cy="792.1" r="1.45"/>
<circle cx="529.2" cy="790.5" r="1.45"/>
<circle cx="529.9" cy="794.9" r="1.45"/>
<circle cx="529.7" cy="788.2" r="1.45"/>
<circle cx="530.2" cy="791.8" r="1.45"/>
<circle cx="530.3" cy="794.1" r="1.45"/>
<circle cx="530.8" cy="792.0" r="1.45"/>
<circle cx="531.9" cy="789.7" r="1.45"/>
<circle cx="531.2" cy="786.8" r="1.45"/>
<circle cx="532.1" cy="792.8" r="1.45"/>
<circle cx="532.1" cy="789.7" r="1.45"/>
<circle cx="533.8" cy="789.6" r="1.45"/>
<circle cx="533.1" cy="793.1" r="1.45"/>
<circle cx="534.9" cy="791.1" r="1.45"/>
<circle cx="535.1" cy="787.6" r="1.45"/>
<circle cx="535.5" cy="787.2" r="1.45"/>
<circle cx="535.0" cy="796.1" r="1.45"/>
<circle cx="536.1" cy="792.5" r="1.45"/>
<circle cx="535.9" cy="797.9" r="1.45"/>
<circle cx="535.9" cy="793.7" r="1.45"/>
<circle cx="536.7" cy="794.5" r="1.45"/>
<circle cx="537.6" cy="794.8" r="1.45"/>
<circle cx="537.0" cy="795.0" r="1.45"/>
<circle cx="537.9" cy="799.5" r="1.45"/>
<circle cx="538.0" cy="795.4" r="1.45"/>
<circle cx="538.2" cy="796.9" r="1.45"/>
<circle cx="539.7" cy="799.3" r="1.45"/>
<circle cx="537.9" cy="799.1" r="1.45"/>
<circle cx="539.1" cy="798.3" r="1.45"/>
<circle cx="539.7" cy="801.2" r="1.45"/>
<circle cx="539.5" cy="795.6" r="1.45"/>
<circle cx="539.6" cy="805.4" r="1.45"/>
<circle cx="540.6" cy="802.3" r="1.45"/>
<circle cx="540.1" cy="805.2" r="1.45"/>
<circle cx="540.3" cy="802.6" r="1.45"/>
<circle cx="541.4" cy="803.3" r="1.45"/>
<circle cx="542.6" cy="806.4" r="1.45"/>
<circle cx="541.8" cy="804.3" r="1.45"/>
<circle cx="542.3" cy="804.3" r="1.45"/>
<circle cx="541.6" cy="809.1" r="1.45"/>
<circle cx="542.4" cy="808.5" r="1.45"/>
<circle cx="543.0" cy="809.0" r="1.45"/>
<circle cx="542.8" cy="808.7" r="1.45"/>
<circle cx="542.9" cy="807.0" r="1.45"/>
<circle cx="542.5" cy="812.4" r="1.45"/>
<circle cx="542.5" cy="810.4" r="1.45"/>
<circle cx="544.0" cy="810.4" r="1.45"/>
<circle cx="544.3" cy="813.0" r="1.45"/>
<circle cx="545.0" cy="808.9" r="1.45"/>
<circle cx="544.2" cy="812.9" r="1.45"/>
<circle cx="545.3" cy="821.0" r="1.45"/>
<circle cx="544.7" cy="813.7" r="1.45"/>
<circle cx="545.0" cy="814.6" r="1.45"/>
<circle cx="545.2" cy="816.3" r="1.45"/>
<circle cx="545.5" cy="816.2" r="1.45"/>
<circle cx="545.2" cy="816.4" r="1.45"/>
<circle cx="546.2" cy="825.2" r="1.45"/>
<circle cx="546.1" cy="821.2" r="1.45"/>
<circle cx="546.7" cy="819.7" r="1.45"/>
<circle cx="546.7" cy="817.4" r="1.45"/>
<circle cx="546.6" cy="817.5" r="1.45"/>
<circle cx="546.9" cy="820.1" r="1.45"/>
<circle cx="547.7" cy="820.3" r="1.45"/>
<circle cx="547.8" cy="822.1" r="1.45"/>
<circle cx="548.6" cy="817.9" r="1.45"/>
<circle cx="548.0" cy="824.7" r="1.45"/>
<circle cx="548.3" cy="826.0" r="1.45"/>
<circle cx="548.6" cy="825.4" r="1.45"/>
<circle cx="548.9" cy="824.5" r="1.45"/>
<circle cx="549.5" cy="822.7" r="1.45"/>
<circle cx="549.6" cy="825.7" r="1.45"/>
<circle cx="550.1" cy="830.7" r="1.45"/>
<circle cx="550.2" cy="823.5" r="1.45"/>
<circle cx="549.8" cy="823.5" r="1.45"/>
<circle cx="549.5" cy="821.7" r="1.45"/>
<circle cx="550.3" cy="821.1" r="1.45"/>
<circle cx="550.9" cy="825.1" r="1.45"/>
<circle cx="550.0" cy="819.8" r="1.45"/>
<circle cx="550.2" cy="823.6" r="1.45"/>
<circle cx="552.0" cy="821.0" r="1.45"/>
<circle cx="551.1" cy="821.7" r="1.45"/>
<circle cx="551.5" cy="824.1" r="1.45"/>
<circle cx="551.7" cy="819.1" r="1.45"/>
<circle cx="551.5" cy="821.0" r="1.45"/>
<circle cx="552.2" cy="816.2" r="1.45"/>
<circle cx="552.6" cy="820.0" r="1.45"/>
<circle cx="552.6" cy="818.8" r="1.45"/>
<circle cx="552.3" cy="816.3" r="1.45"/>
<circle cx="551.8" cy="819.6" r="1.45"/>
<circle cx="552.9" cy="810.3" r="1.45"/>
<circle cx="552.6" cy="817.2" r="1.45"/>
<circle cx="553.3" cy="819.5" r="1.45"/>
<circle cx="552.9" cy="813.6" r="1.45"/>
<circle cx="553.6" cy="811.0" r="1.45"/>
<circle cx="553.7" cy="812.7" r="1.45"/>
<circle cx="554.6" cy="814.0" r="1.45"/>
<circle cx="554.1" cy="812.6" r="1.45"/>
<circle cx="554.6" cy="815.4" r="1.45"/>
<circle cx="554.3" cy="809.2" r="1.45"/>
<circle cx="554.6" cy="808.4" r="1.45"/>
<circle cx="556.7" cy="808.6" r="1.45"/>
<circle cx="555.4" cy="810.4" r="1.45"/>
<circle cx="555.6" cy="803.2" r="1.45"/>
<circle cx="556.0" cy="810.0" r="1.45"/>
<circle cx="556.0" cy="806.8" r="1.45"/>
<circle cx="556.5" cy="804.4" r="1.45"/>
<circle cx="557.1" cy="807.9" r="1.45"/>
<circle cx="556.3" cy="807.9" r="1.45"/>
<circle cx="555.8" cy="805.7" r="1.45"/>
<circle cx="556.9" cy="804.2" r="1.45"/>
<circle cx="557.1" cy="800.7" r="1.45"/>
<circle cx="556.7" cy="801.5" r="1.45"/>
<circle cx="557.0" cy="799.9" r="1.45"/>
<circle cx="557.6" cy="801.6" r="1.45"/>
<circle cx="558.1" cy="798.3" r="1.45"/>
<circle cx="558.0" cy="800.2" r="1.45"/>
<circle cx="559.2" cy="799.6" r="1.45"/>
<circle cx="558.5" cy="800.8" r="1.45"/>
<circle cx="558.3" cy="796.1" r="1.45"/>
<circle cx="558.7" cy="793.7" r="1.45"/>
<circle cx="558.8" cy="799.7" r="1.45"/>
<circle cx="559.3" cy="795.3" r="1.45"/>
<circle cx="559.5" cy="795.3" r="1.45"/>
<circle cx="560.0" cy="793.3" r="1.45"/>
<circle cx="560.1" cy="796.6" r="1.45"/>
<circle cx="560.2" cy="795.7" r="1.45"/>
<circle cx="561.0" cy="791.5" r="1.45"/>
<circle cx="560.7" cy="790.4" r="1.45"/>
<circle cx="561.0" cy="785.8" r="1.45"/>
<circle cx="560.9" cy="786.3" r="1.45"/>
<circle cx="560.2" cy="786.8" r="1.45"/>
<circle cx="560.8" cy="790.9" r="1.45"/>
<circle cx="561.7" cy="787.7" r="1.45"/>
<circle cx="561.6" cy="784.5" r="1.45"/>
<circle cx="561.5" cy="789.5" r="1.45"/>
<circle cx="561.3" cy="787.3" r="1.45"/>
<circle cx="561.9" cy="784.8" r="1.45"/>
<circle cx="561.8" cy="785.5" r="1.45"/>
<circle cx="562.3" cy="789.6" r="1.45"/>
<circle cx="561.6" cy="789.8" r="1.45"/>
<circle cx="561.3" cy="786.9" r="1.45"/>
<circle cx="562.4" cy="786.6" r="1.45"/>
<circle cx="562.0" cy="784.2" r="1.45"/>
<circle cx="563.6" cy="786.6" r="1.45"/>
<circle cx="564.3" cy="783.0" r="1.45"/>
<circle cx="565.3" cy="776.4" r="1.45"/>
<circle cx="565.4" cy="782.2" r="1.45"/>
<circle cx="565.6" cy="783.0" r="1.45"/>
<circle cx="566.0" cy="783.1" r="1.45"/>
<circle cx="566.0" cy="783.4" r="1.45"/>
<circle cx="566.8" cy="789.1" r="1.45"/>
<circle cx="566.0" cy="787.0" r="1.45"/>
<circle cx="566.8" cy="786.9" r="1.45"/>
<circle cx="567.8" cy="790.9" r="1.45"/>
<circle cx="567.6" cy="791.3" r="1.45"/>
<circle cx="568.9" cy="793.6" r="1.45"/>
<circle cx="569.9" cy="796.2" r="1.45"/>
<circle cx="568.7" cy="795.3" r="1.45"/>
<circle cx="568.9" cy="788.9" r="1.45"/>
<circle cx="570.5" cy="792.0" r="1.45"/>
<circle cx="570.9" cy="793.9" r="1.45"/>
<circle cx="571.1" cy="795.2" r="1.45"/>
<circle cx="571.1" cy="789.2" r="1.45"/>
<circle cx="572.7" cy="793.1" r="1.45"/>
<circle cx="572.3" cy="795.1" r="1.45"/>
<circle cx="572.9" cy="792.5" r="1.45"/>
<circle cx="573.2" cy="790.7" r="1.45"/>
<circle cx="574.0" cy="796.1" r="1.45"/>
<circle cx="573.8" cy="792.7" r="1.45"/>
<circle cx="574.0" cy="797.7" r="1.45"/>
<circle cx="574.2" cy="792.7" r="1.45"/>
<circle cx="574.7" cy="797.6" r="1.45"/>
<circle cx="575.0" cy="797.0" r="1.45"/>
<circle cx="574.6" cy="801.3" r="1.45"/>
<circle cx="575.0" cy="798.6" r="1.45"/>
<circle cx="575.5" cy="800.8" r="1.45"/>
<circle cx="575.3" cy="798.2" r="1.45"/>
<circle cx="575.6" cy="800.9" r="1.45"/>
<circle cx="575.2" cy="797.4" r="1.45"/>
<circle cx="575.5" cy="802.6" r="1.45"/>
<circle cx="575.4" cy="804.4" r="1.45"/>
<circle cx="576.0" cy="801.6" r="1.45"/>
<circle cx="576.0" cy="806.5" r="1.45"/>
<circle cx="576.1" cy="804.3" r="1.45"/>
<circle cx="576.6" cy="814.8" r="1.45"/>
<circle cx="576.4" cy="805.3" r="1.45"/>
<circle cx="576.4" cy="803.9" r="1.45"/>
<circle cx="577.4" cy="807.3" r="1.45"/>
</g>
<line x1="72.7" y1="704.8" x2="72.7" y2="836.5" stroke="#111" stroke-width="1.1"/>
<line x1="578.3" y1="704.8" x2="578.3" y2="836.5" stroke="#333" stroke-width="1.3"/>
<line x1="67.7" y1="705.3" x2="72.7" y2="705.3" stroke="#111" stroke-width="1.1"/>
<text x="66" y="709.2" font-size="11" font-weight="bold" text-anchor="end" fill="#111">0.6</text>
<line x1="70.1" y1="727.1" x2="72.7" y2="727.1" stroke="#111" stroke-width="1.1"/>
<line x1="67.7" y1="748.9" x2="72.7" y2="748.9" stroke="#111" stroke-width="1.1"/>
<text x="66" y="752.8" font-size="11" font-weight="bold" text-anchor="end" fill="#111">0.8</text>
<line x1="70.1" y1="770.6" x2="72.7" y2="770.6" stroke="#111" stroke-width="1.1"/>
<line x1="67.7" y1="792.4" x2="72.7" y2="792.4" stroke="#111" stroke-width="1.1"/>
<text x="66" y="796.3" font-size="11" font-weight="bold" text-anchor="end" fill="#111">1.0</text>
<line x1="70.1" y1="814.2" x2="72.7" y2="814.2" stroke="#111" stroke-width="1.1"/>
<line x1="67.7" y1="836.0" x2="72.7" y2="836.0" stroke="#111" stroke-width="1.1"/>
<text x="66" y="839.9" font-size="11" font-weight="bold" text-anchor="end" fill="#111">1.2</text>
<text font-size="12" font-weight="bold" fill="#111" text-anchor="middle" transform="translate(34.3,767.6) rotate(-90)" font-size="9.6">γ</text>
<line x1="72.2" y1="840.5" x2="578.9" y2="840.5" stroke="#111" stroke-width="1.1"/>
<line x1="93.4" y1="840.5" x2="93.4" y2="844.8" stroke="#111" stroke-width="1.1"/>
<text x="93.4" y="859.2" font-size="12.6" font-weight="bold" text-anchor="middle" fill="#111">06:00</text>
<text x="93.4" y="874.8" font-size="12.6" font-weight="bold" text-anchor="middle" fill="#111">04</text>
<line x1="138.4" y1="840.5" x2="138.4" y2="844.8" stroke="#111" stroke-width="1.1"/>
<text x="138.4" y="859.2" font-size="12.6" font-weight="bold" text-anchor="middle" fill="#111">06:00</text>
<text x="138.4" y="874.8" font-size="12.6" font-weight="bold" text-anchor="middle" fill="#111">05</text>
<line x1="183.4" y1="840.5" x2="183.4" y2="844.8" stroke="#111" stroke-width="1.1"/>
<text x="183.4" y="859.2" font-size="12.6" font-weight="bold" text-anchor="middle" fill="#111">06:00</text>
<text x="183.4" y="874.8" font-size="12.6" font-weight="bold" text-anchor="middle" fill="#111">06</text>
<line x1="228.5" y1="840.5" x2="228.5" y2="844.8" stroke="#111" stroke-width="1.1"/>
<text x="228.5" y="859.2" font-size="12.6" font-weight="bold" text-anchor="middle" fill="#111">06:00</text>
<text x="228.5" y="874.8" font-size="12.6" font-weight="bold" text-anchor="middle" fill="#111">07</text>
<line x1="273.5" y1="840.5" x2="273.5" y2="844.8" stroke="#111" stroke-width="1.1"/>
<text x="273.5" y="859.2" font-size="12.6" font-weight="bold" text-anchor="middle" fill="#111">06:00</text>
<text x="273.5" y="874.8" font-size="12.6" font-weight="bold" text-anchor="middle" fill="#111">08</text>
<line x1="318.5" y1="840.5" x2="318.5" y2="844.8" stroke="#111" stroke-width="1.1"/>
<text x="318.5" y="859.2" font-size="12.6" font-weight="bold" text-anchor="middle" fill="#111">06:00</text>
<text x="318.5" y="874.8" font-size="12.6" font-weight="bold" text-anchor="middle" fill="#111">09</text>
<line x1="363.5" y1="840.5" x2="363.5" y2="844.8" stroke="#111" stroke-width="1.1"/>
<text x="363.5" y="859.2" font-size="12.6" font-weight="bold" text-anchor="middle" fill="#111">06:00</text>
<text x="363.5" y="874.8" font-size="12.6" font-weight="bold" text-anchor="middle" fill="#111">10</text>
<line x1="408.5" y1="840.5" x2="408.5" y2="844.8" stroke="#111" stroke-width="1.1"/>
<text x="408.5" y="859.2" font-size="12.6" font-weight="bold" text-anchor="middle" fill="#111">06:00</text>
<text x="408.5" y="874.8" font-size="12.6" font-weight="bold" text-anchor="middle" fill="#111">11</text>
<line x1="453.6" y1="840.5" x2="453.6" y2="844.8" stroke="#111" stroke-width="1.1"/>
<text x="453.6" y="859.2" font-size="12.6" font-weight="bold" text-anchor="middle" fill="#111">06:00</text>
<text x="453.6" y="874.8" font-size="12.6" font-weight="bold" text-anchor="middle" fill="#111">12</text>
<line x1="498.6" y1="840.5" x2="498.6" y2="844.8" stroke="#111" stroke-width="1.1"/>
<text x="498.6" y="859.2" font-size="12.6" font-weight="bold" text-anchor="middle" fill="#111">06:00</text>
<text x="498.6" y="874.8" font-size="12.6" font-weight="bold" text-anchor="middle" fill="#111">13</text>
<line x1="543.6" y1="840.5" x2="543.6" y2="844.8" stroke="#111" stroke-width="1.1"/>
<text x="543.6" y="859.2" font-size="12.6" font-weight="bold" text-anchor="middle" fill="#111">06:00</text>
<text x="543.6" y="874.8" font-size="12.6" font-weight="bold" text-anchor="middle" fill="#111">14</text>
<line x1="115.9" y1="840.5" x2="115.9" y2="842.7" stroke="#111" stroke-width="1.1"/>
<line x1="160.9" y1="840.5" x2="160.9" y2="842.7" stroke="#111" stroke-width="1.1"/>
<line x1="206.0" y1="840.5" x2="206.0" y2="842.7" stroke="#111" stroke-width="1.1"/>
<line x1="251.0" y1="840.5" x2="251.0" y2="842.7" stroke="#111" stroke-width="1.1"/>
<line x1="296.0" y1="840.5" x2="296.0" y2="842.7" stroke="#111" stroke-width="1.1"/>
<line x1="341.0" y1="840.5" x2="341.0" y2="842.7" stroke="#111" stroke-width="1.1"/>
<line x1="386.0" y1="840.5" x2="386.0" y2="842.7" stroke="#111" stroke-width="1.1"/>
<line x1="431.1" y1="840.5" x2="431.1" y2="842.7" stroke="#111" stroke-width="1.1"/>
<line x1="476.1" y1="840.5" x2="476.1" y2="842.7" stroke="#111" stroke-width="1.1"/>
<line x1="521.1" y1="840.5" x2="521.1" y2="842.7" stroke="#111" stroke-width="1.1"/>
<line x1="566.1" y1="840.5" x2="566.1" y2="842.7" stroke="#111" stroke-width="1.1"/>
<text x="576.6" y="859.2" font-size="12.6" font-weight="bold" fill="#111">Time</text>
<text x="579" y="874.8" font-size="12.6" font-weight="bold" fill="#111">Day</text>
<text x="325.7" y="894" font-size="13" font-weight="bold" text-anchor="middle" fill="#111">Solar time (May 2017)</text>
<text x="79.4" y="703.1" font-size="14.3" fill="#111">(C)</text>
<text x="238.5" y="702.6" font-size="14.5" fill="#111">Ocean particle size index</text>
<line x1="238.5" y1="704.7" x2="399.5" y2="704.7" stroke="#111" stroke-width="0.9"/>
</svg>
</body></html>
